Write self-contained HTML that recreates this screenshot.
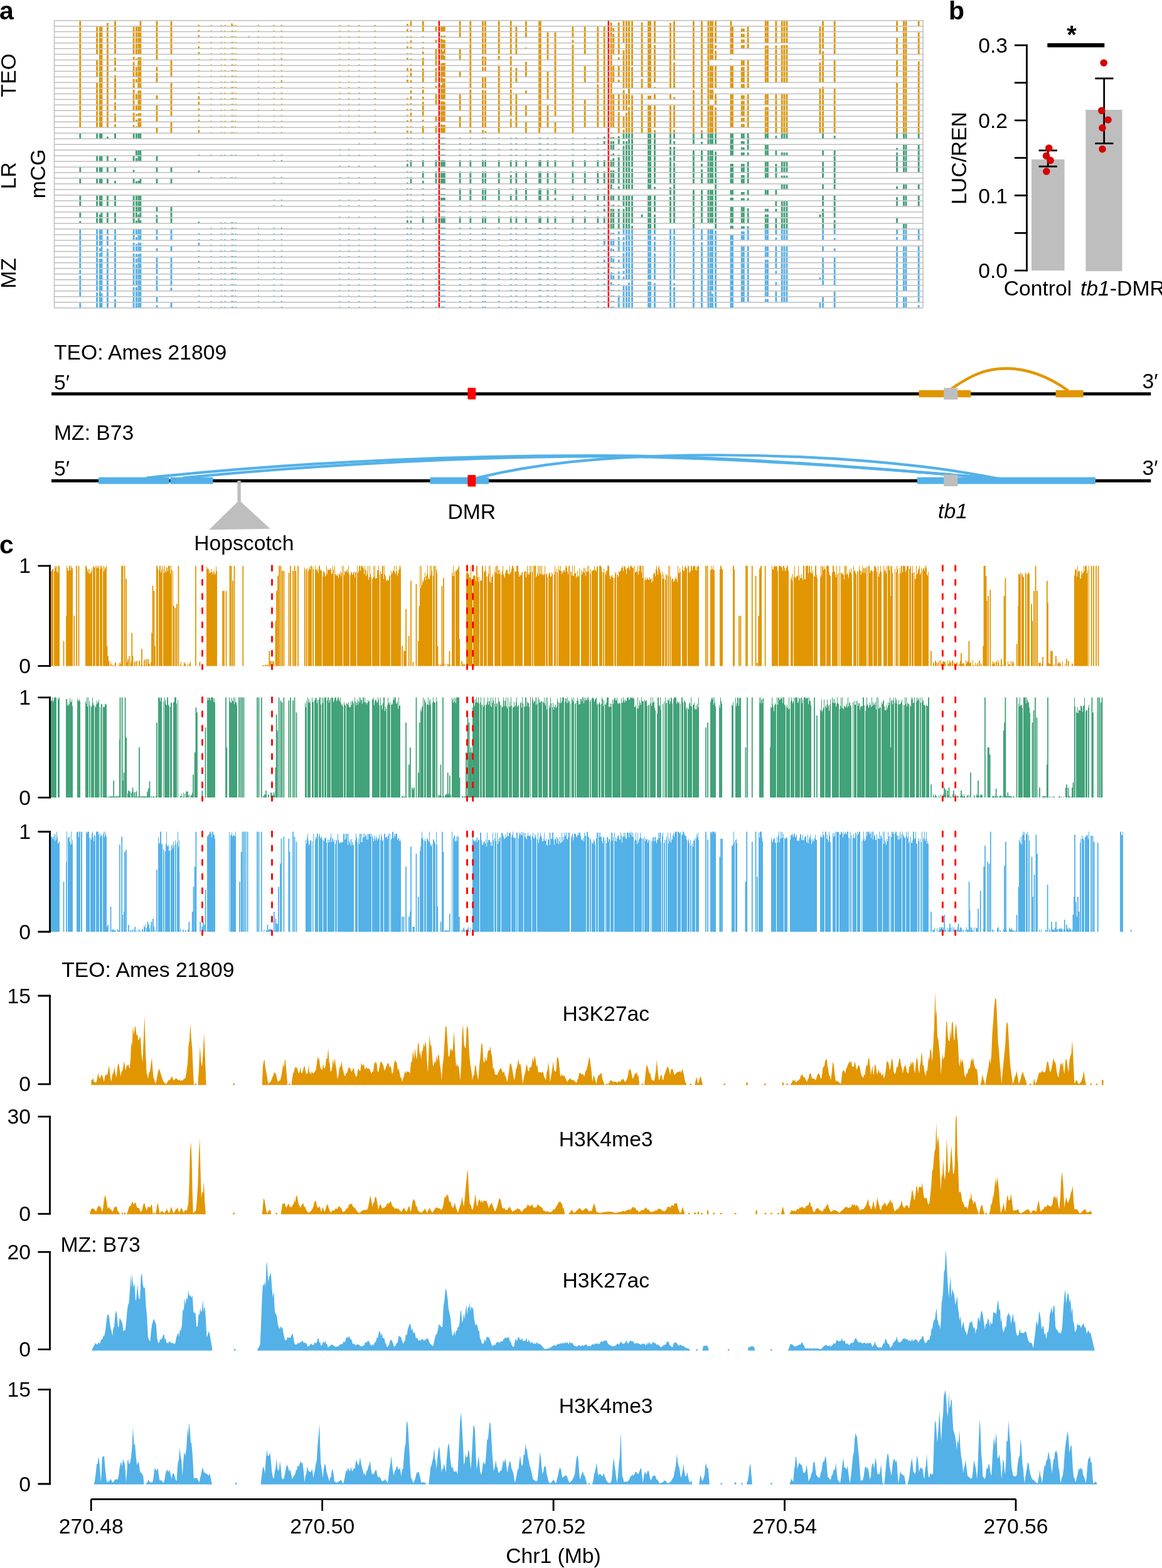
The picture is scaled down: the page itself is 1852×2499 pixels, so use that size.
<!DOCTYPE html>
<html><head><meta charset="utf-8"><title>Figure</title>
<style>html,body{margin:0;padding:0;background:#fff;overflow:hidden;}svg{display:block;}text{font-family:'Liberation Sans', Arial, Helvetica, sans-serif;fill:#000;}</style>
</head><body>
<svg width="1852" height="2499" viewBox="0 0 1852 2499">
<rect x="0" y="0" width="1852" height="2499" fill="#fff"/>
<text x="-1" y="31" font-size="41" text-anchor="start" font-weight="bold">a</text>
<text x="1512" y="31" font-size="41" text-anchor="start" font-weight="bold">b</text>
<text x="-1" y="882" font-size="41" text-anchor="start" font-weight="bold">c</text>
<text transform="translate(25,120) rotate(-90)" x="0" y="0" font-size="33.7" text-anchor="middle">TEO</text>
<text transform="translate(25,280) rotate(-90)" x="0" y="0" font-size="33.7" text-anchor="middle">LR</text>
<text transform="translate(72,277) rotate(-90)" x="0" y="0" font-size="33.7" text-anchor="middle">mCG</text>
<text transform="translate(25,435.5) rotate(-90)" x="0" y="0" font-size="33.7" text-anchor="middle">MZ</text>
<rect x="1644" y="254.04" width="52.6" height="177.16" fill="#BEBEBE"/>
<rect x="1730.4" y="175.04" width="58.1" height="257.16" fill="#BEBEBE"/>
<line x1="1636.5" y1="72.1" x2="1636.5" y2="431.2" stroke="#000" stroke-width="2.8" stroke-linecap="square"/>
<line x1="1618" y1="431.2" x2="1636.5" y2="431.2" stroke="#000" stroke-width="2.8" stroke-linecap="round"/>
<line x1="1618" y1="371.35" x2="1636.5" y2="371.35" stroke="#000" stroke-width="2.8" stroke-linecap="round"/>
<line x1="1618" y1="311.5" x2="1636.5" y2="311.5" stroke="#000" stroke-width="2.8" stroke-linecap="round"/>
<line x1="1618" y1="251.65" x2="1636.5" y2="251.65" stroke="#000" stroke-width="2.8" stroke-linecap="round"/>
<line x1="1618" y1="191.8" x2="1636.5" y2="191.8" stroke="#000" stroke-width="2.8" stroke-linecap="round"/>
<line x1="1618" y1="131.95" x2="1636.5" y2="131.95" stroke="#000" stroke-width="2.8" stroke-linecap="round"/>
<line x1="1618" y1="72.1" x2="1636.5" y2="72.1" stroke="#000" stroke-width="2.8" stroke-linecap="round"/>
<text x="1606" y="443.2" font-size="33.7" text-anchor="end">0.0</text>
<text x="1606" y="323.5" font-size="33.7" text-anchor="end">0.1</text>
<text x="1606" y="203.8" font-size="33.7" text-anchor="end">0.2</text>
<text x="1606" y="84.1" font-size="33.7" text-anchor="end">0.3</text>
<text transform="translate(1540,252) rotate(-90)" x="0" y="0" font-size="33.7" text-anchor="middle">LUC/REN</text>
<text x="1654" y="470.6" font-size="33.7" text-anchor="middle">Control</text>
<text x="1722" y="470.6" font-size="33.7"><tspan font-style="italic">tb1</tspan>-DMR</text>
<line x1="1670.3" y1="239.8" x2="1670.3" y2="265.3" stroke="#000" stroke-width="2.8" stroke-linecap="butt"/>
<line x1="1655.6" y1="239.8" x2="1684.9" y2="239.8" stroke="#000" stroke-width="2.8" stroke-linecap="butt"/>
<line x1="1655.6" y1="265.3" x2="1684.9" y2="265.3" stroke="#000" stroke-width="2.8" stroke-linecap="butt"/>
<line x1="1759.7" y1="125" x2="1759.7" y2="228.6" stroke="#000" stroke-width="2.8" stroke-linecap="butt"/>
<line x1="1745.3" y1="125" x2="1774.5" y2="125" stroke="#000" stroke-width="2.8" stroke-linecap="butt"/>
<line x1="1745.3" y1="228.6" x2="1774.5" y2="228.6" stroke="#000" stroke-width="2.8" stroke-linecap="butt"/>
<circle cx="1671.8" cy="236" r="5.8" fill="#D40000"/>
<circle cx="1667.6" cy="248.4" r="5.8" fill="#D40000"/>
<circle cx="1674.1" cy="255.6" r="5.8" fill="#D40000"/>
<circle cx="1667.8" cy="273.1" r="5.8" fill="#D40000"/>
<circle cx="1759.2" cy="100.2" r="5.8" fill="#D40000"/>
<circle cx="1755.8" cy="176.3" r="5.8" fill="#D40000"/>
<circle cx="1766" cy="191" r="5.8" fill="#D40000"/>
<circle cx="1757" cy="203.8" r="5.8" fill="#D40000"/>
<circle cx="1757" cy="237.6" r="5.8" fill="#D40000"/>
<rect x="1669.3" y="68.8" width="91" height="6.6" fill="#000"/>
<text x="1708" y="68.5" font-size="40" text-anchor="middle" font-weight="bold">*</text>
<text x="86" y="572.8" font-size="33.7" text-anchor="start">TEO: Ames 21809</text>
<text x="86" y="621" font-size="33.7" text-anchor="start">5&#8242;</text>
<text x="1845.5" y="619.4" font-size="33.7" text-anchor="end">3&#8242;</text>
<text x="86" y="701.4" font-size="33.7" text-anchor="start">MZ: B73</text>
<text x="86" y="757.5" font-size="33.7" text-anchor="start">5&#8242;</text>
<text x="1845.5" y="757.4" font-size="33.7" text-anchor="end">3&#8242;</text>
<line x1="82" y1="627.7" x2="1834.3" y2="627.7" stroke="#000" stroke-width="5" stroke-linecap="butt"/>
<path d="M1514,621.5 C1548,597 1572,587.3 1604,587.3 C1640,587.3 1672,601 1702.4,622.5" fill="none" stroke="#E19600" stroke-width="4.4"/>
<rect x="1464.5" y="621.8" width="82.8" height="11.4" fill="#E19600"/>
<rect x="1682.5" y="621.8" width="44.2" height="11.4" fill="#E19600"/>
<rect x="1504.2" y="618.2" width="22.1" height="18.6" fill="#BEBEBE"/>
<rect x="745.3" y="618" width="13" height="18.6" rx="1.5" fill="#FF0000"/>
<line x1="82" y1="766.2" x2="1834.3" y2="766.2" stroke="#000" stroke-width="5" stroke-linecap="butt"/>
<g fill="none" stroke="#53B1E8" stroke-width="4.2">
<path d="M233.5,761.5 C500,734 750,726 950,726 C1150,726 1380,745 1592,763"/>
<path d="M291,761.5 C540,738 750,728 950,727.5 C1150,727.5 1380,745 1592,763"/>
<path d="M759,762 C850,740 950,728 1100,725.5 C1300,723 1480,740 1592,763"/>
</g>
<rect x="157" y="760.6" width="112.7" height="10.8" fill="#53B1E8"/>
<rect x="271.4" y="760.6" width="68.1" height="10.8" fill="#53B1E8"/>
<rect x="685.4" y="760.6" width="93.7" height="10.8" fill="#53B1E8"/>
<rect x="1461.7" y="760.6" width="284.3" height="10.8" fill="#53B1E8"/>
<rect x="1504.2" y="756.4" width="22.1" height="18.6" fill="#BEBEBE"/>
<rect x="745.3" y="757" width="13" height="18.6" rx="1.5" fill="#FF0000"/>
<line x1="381.1" y1="766" x2="381.1" y2="799" stroke="#BEBEBE" stroke-width="5.4" stroke-linecap="butt"/>
<polygon points="381.2,797.2 333.2,844.3 430.7,842.7" fill="#BEBEBE"/>
<text x="388.8" y="876.8" font-size="33.7" text-anchor="middle">Hopscotch</text>
<text x="751.8" y="826.7" font-size="33.7" text-anchor="middle">DMR</text>
<text x="1518.5" y="826.4" font-size="33.7" text-anchor="middle" font-style="italic">tb1</text>
<line x1="79.5" y1="900.4" x2="79.5" y2="1062.8" stroke="#000" stroke-width="2.8" stroke-linecap="butt"/>
<line x1="61.5" y1="901.8" x2="79.5" y2="901.8" stroke="#000" stroke-width="2.8" stroke-linecap="round"/>
<line x1="61.5" y1="1061.4" x2="79.5" y2="1061.4" stroke="#000" stroke-width="2.8" stroke-linecap="round"/>
<line x1="60" y1="901.8" x2="60.5" y2="901.8" stroke="#000" stroke-width="0"/>
<text x="49" y="913.3" font-size="33.7" text-anchor="end">1</text>
<text x="49" y="1072.9" font-size="33.7" text-anchor="end">0</text>
<line x1="79.5" y1="1110.2" x2="79.5" y2="1272.5" stroke="#000" stroke-width="2.8" stroke-linecap="butt"/>
<line x1="61.5" y1="1111.6" x2="79.5" y2="1111.6" stroke="#000" stroke-width="2.8" stroke-linecap="round"/>
<line x1="61.5" y1="1271.1" x2="79.5" y2="1271.1" stroke="#000" stroke-width="2.8" stroke-linecap="round"/>
<line x1="60" y1="1111.6" x2="60.5" y2="1111.6" stroke="#000" stroke-width="0"/>
<text x="49" y="1123.1" font-size="33.7" text-anchor="end">1</text>
<text x="49" y="1282.6" font-size="33.7" text-anchor="end">0</text>
<line x1="79.5" y1="1324.1" x2="79.5" y2="1486.4" stroke="#000" stroke-width="2.8" stroke-linecap="butt"/>
<line x1="61.5" y1="1325.5" x2="79.5" y2="1325.5" stroke="#000" stroke-width="2.8" stroke-linecap="round"/>
<line x1="61.5" y1="1485" x2="79.5" y2="1485" stroke="#000" stroke-width="2.8" stroke-linecap="round"/>
<line x1="60" y1="1325.5" x2="60.5" y2="1325.5" stroke="#000" stroke-width="0"/>
<text x="49" y="1337" font-size="33.7" text-anchor="end">1</text>
<text x="49" y="1496.5" font-size="33.7" text-anchor="end">0</text>
<line x1="79.5" y1="1585.6" x2="79.5" y2="1729.2" stroke="#000" stroke-width="2.8" stroke-linecap="butt"/>
<line x1="61.5" y1="1587" x2="79.5" y2="1587" stroke="#000" stroke-width="2.8" stroke-linecap="round"/>
<line x1="61.5" y1="1727.8" x2="79.5" y2="1727.8" stroke="#000" stroke-width="2.8" stroke-linecap="round"/>
<line x1="60" y1="1587" x2="60.5" y2="1587" stroke="#000" stroke-width="0"/>
<text x="49" y="1598.5" font-size="33.7" text-anchor="end">15</text>
<text x="49" y="1739.3" font-size="33.7" text-anchor="end">0</text>
<line x1="79.5" y1="1778.2" x2="79.5" y2="1936" stroke="#000" stroke-width="2.8" stroke-linecap="butt"/>
<line x1="61.5" y1="1779.6" x2="79.5" y2="1779.6" stroke="#000" stroke-width="2.8" stroke-linecap="round"/>
<line x1="61.5" y1="1934.6" x2="79.5" y2="1934.6" stroke="#000" stroke-width="2.8" stroke-linecap="round"/>
<line x1="60" y1="1779.6" x2="60.5" y2="1779.6" stroke="#000" stroke-width="0"/>
<text x="49" y="1791.1" font-size="33.7" text-anchor="end">30</text>
<text x="49" y="1946.1" font-size="33.7" text-anchor="end">0</text>
<line x1="79.5" y1="1994" x2="79.5" y2="2152.1" stroke="#000" stroke-width="2.8" stroke-linecap="butt"/>
<line x1="61.5" y1="1995.4" x2="79.5" y2="1995.4" stroke="#000" stroke-width="2.8" stroke-linecap="round"/>
<line x1="61.5" y1="2150.7" x2="79.5" y2="2150.7" stroke="#000" stroke-width="2.8" stroke-linecap="round"/>
<line x1="60" y1="1995.4" x2="60.5" y2="1995.4" stroke="#000" stroke-width="0"/>
<text x="49" y="2006.9" font-size="33.7" text-anchor="end">20</text>
<text x="49" y="2162.2" font-size="33.7" text-anchor="end">0</text>
<line x1="79.5" y1="2213.2" x2="79.5" y2="2366.4" stroke="#000" stroke-width="2.8" stroke-linecap="butt"/>
<line x1="61.5" y1="2214.6" x2="79.5" y2="2214.6" stroke="#000" stroke-width="2.8" stroke-linecap="round"/>
<line x1="61.5" y1="2365" x2="79.5" y2="2365" stroke="#000" stroke-width="2.8" stroke-linecap="round"/>
<line x1="60" y1="2214.6" x2="60.5" y2="2214.6" stroke="#000" stroke-width="0"/>
<text x="49" y="2226.1" font-size="33.7" text-anchor="end">15</text>
<text x="49" y="2376.5" font-size="33.7" text-anchor="end">0</text>
<text x="98.3" y="1557" font-size="33.7" text-anchor="start">TEO: Ames 21809</text>
<text x="96.5" y="1994.6" font-size="33.7" text-anchor="start">MZ: B73</text>
<text x="896.5" y="1627.2" font-size="33.7" text-anchor="start">H3K27ac</text>
<text x="890.8" y="1827.2" font-size="33.7" text-anchor="start">H3K4me3</text>
<text x="896.5" y="2052.1" font-size="33.7" text-anchor="start">H3K27ac</text>
<text x="890.8" y="2251.9" font-size="33.7" text-anchor="start">H3K4me3</text>
<line x1="145.2" y1="2389.3" x2="1619" y2="2389.3" stroke="#000" stroke-width="2.8" stroke-linecap="butt"/>
<line x1="145.2" y1="2389.3" x2="145.2" y2="2408" stroke="#000" stroke-width="2.8" stroke-linecap="butt"/>
<text x="145.2" y="2443.9" font-size="33.7" text-anchor="middle">270.48</text>
<line x1="513.65" y1="2389.3" x2="513.65" y2="2408" stroke="#000" stroke-width="2.8" stroke-linecap="butt"/>
<text x="513.65" y="2443.9" font-size="33.7" text-anchor="middle">270.50</text>
<line x1="882.1" y1="2389.3" x2="882.1" y2="2408" stroke="#000" stroke-width="2.8" stroke-linecap="butt"/>
<text x="882.1" y="2443.9" font-size="33.7" text-anchor="middle">270.52</text>
<line x1="1250.55" y1="2389.3" x2="1250.55" y2="2408" stroke="#000" stroke-width="2.8" stroke-linecap="butt"/>
<text x="1250.55" y="2443.9" font-size="33.7" text-anchor="middle">270.54</text>
<line x1="1619" y1="2389.3" x2="1619" y2="2408" stroke="#000" stroke-width="2.8" stroke-linecap="butt"/>
<text x="1619" y="2443.9" font-size="33.7" text-anchor="middle">270.56</text>
<text x="882" y="2490.7" font-size="33.7" text-anchor="middle">Chr1 (Mb)</text>
<path d="M126.35,41.14h2.9v-7.68h-2.9ZM126.35,50.12h2.9v-7.68h-2.9ZM126.35,59.1h2.9v-7.68h-2.9ZM126.35,68.08h2.9v-7.68h-2.9ZM126.35,77.06h2.9v-7.68h-2.9ZM126.35,86.04h2.9v-7.68h-2.9ZM126.35,95.02h2.9v-7.68h-2.9ZM126.35,104h2.9v-7.68h-2.9ZM126.35,112.98h2.9v-7.68h-2.9ZM126.35,121.96h2.9v-7.68h-2.9ZM126.35,130.94h2.9v-7.68h-2.9ZM126.35,139.92h2.9v-7.68h-2.9ZM126.35,148.9h2.9v-7.68h-2.9ZM126.35,157.88h2.9v-7.68h-2.9ZM126.35,166.86h2.9v-7.68h-2.9ZM126.35,175.84h2.9v-7.68h-2.9ZM126.35,184.82h2.9v-7.68h-2.9ZM126.35,193.8h2.9v-7.68h-2.9ZM126.35,202.78h2.9v-7.68h-2.9ZM153.15,50.12h2.9v-7.68h-2.9ZM153.15,59.1h2.9v-7.68h-2.9ZM153.15,68.08h2.9v-7.68h-2.9ZM153.15,77.06h2.9v-7.68h-2.9ZM153.15,86.04h2.9v-7.68h-2.9ZM153.15,104h2.9v-7.68h-2.9ZM153.15,112.98h2.9v-7.68h-2.9ZM153.15,121.96h2.9v-7.68h-2.9ZM153.15,139.92h2.9v-7.68h-2.9ZM153.15,148.9h2.9v-7.68h-2.9ZM153.15,157.88h2.9v-7.68h-2.9ZM153.15,166.86h2.9v-7.68h-2.9ZM153.15,175.84h2.9v-7.68h-2.9ZM153.15,184.82h2.9v-7.68h-2.9ZM153.15,193.8h2.9v-7.68h-2.9ZM153.15,202.78h2.9v-7.68h-2.9ZM157.95,50.12h2.9v-7.68h-2.9ZM157.95,59.1h2.9v-7.68h-2.9ZM157.95,68.08h2.9v-7.68h-2.9ZM157.95,77.06h2.9v-7.68h-2.9ZM157.95,86.04h2.9v-7.68h-2.9ZM157.95,95.02h2.9v-7.68h-2.9ZM157.95,104h2.9v-7.68h-2.9ZM157.95,112.98h2.9v-7.68h-2.9ZM157.95,121.96h2.9v-7.68h-2.9ZM157.95,130.94h2.9v-7.68h-2.9ZM157.95,139.92h2.9v-7.68h-2.9ZM157.95,148.9h2.9v-7.68h-2.9ZM157.95,157.88h2.9v-7.68h-2.9ZM157.95,166.86h2.9v-7.68h-2.9ZM157.95,175.84h2.9v-7.68h-2.9ZM157.95,184.82h2.9v-7.68h-2.9ZM157.95,193.8h2.9v-7.68h-2.9ZM157.95,202.78h2.9v-7.68h-2.9ZM160.55,50.12h2.9v-7.68h-2.9ZM160.55,59.1h2.9v-7.68h-2.9ZM160.55,68.08h2.9v-7.68h-2.9ZM160.55,77.06h2.9v-7.68h-2.9ZM160.55,86.04h2.9v-7.68h-2.9ZM160.55,95.02h2.9v-7.68h-2.9ZM160.55,104h2.9v-7.68h-2.9ZM160.55,112.98h2.9v-7.68h-2.9ZM160.55,121.96h2.9v-7.68h-2.9ZM160.55,130.94h2.9v-7.68h-2.9ZM160.55,139.92h2.9v-7.68h-2.9ZM160.55,148.9h2.9v-7.68h-2.9ZM160.55,157.88h2.9v-7.68h-2.9ZM160.55,166.86h2.9v-7.68h-2.9ZM160.55,175.84h2.9v-7.68h-2.9ZM160.55,184.82h2.9v-7.68h-2.9ZM160.55,193.8h2.9v-7.68h-2.9ZM160.55,202.78h2.9v-7.68h-2.9ZM169.95,41.14h2.9v-4.61h-2.9ZM169.95,50.12h2.9v-7.68h-2.9ZM169.95,59.1h2.9v-7.68h-2.9ZM169.95,68.08h2.9v-7.68h-2.9ZM169.95,77.06h2.9v-7.68h-2.9ZM169.95,86.04h2.9v-7.68h-2.9ZM169.95,95.02h2.9v-7.68h-2.9ZM169.95,104h2.9v-7.68h-2.9ZM169.95,112.98h2.9v-7.68h-2.9ZM169.95,121.96h2.9v-7.68h-2.9ZM169.95,130.94h2.9v-7.68h-2.9ZM169.95,139.92h2.9v-7.68h-2.9ZM169.95,148.9h2.9v-7.68h-2.9ZM169.95,157.88h2.9v-7.68h-2.9ZM169.95,166.86h2.9v-7.68h-2.9ZM169.95,175.84h2.9v-7.68h-2.9ZM169.95,184.82h2.9v-7.68h-2.9ZM169.95,193.8h2.9v-7.68h-2.9ZM169.95,202.78h2.9v-7.68h-2.9ZM182.05,41.14h2.9v-7.68h-2.9ZM182.05,50.12h2.9v-7.68h-2.9ZM182.05,59.1h2.9v-7.68h-2.9ZM182.05,68.08h2.9v-7.68h-2.9ZM182.05,77.06h2.9v-7.68h-2.9ZM182.05,86.04h2.9v-7.68h-2.9ZM182.05,95.02h2.9v-3.07h-2.9ZM182.05,104h2.9v-7.68h-2.9ZM182.05,112.98h2.9v-5.38h-2.9ZM182.05,121.96h2.9v-2.3h-2.9ZM182.05,130.94h2.9v-7.68h-2.9ZM182.05,139.92h2.9v-7.68h-2.9ZM182.05,148.9h2.9v-7.68h-2.9ZM182.05,157.88h2.9v-7.68h-2.9ZM182.05,166.86h2.9v-3.84h-2.9ZM182.05,175.84h2.9v-7.68h-2.9ZM182.05,184.82h2.9v-3.84h-2.9ZM182.05,193.8h2.9v-7.68h-2.9ZM182.05,202.78h2.9v-4.61h-2.9ZM211.65,50.12h2.9v-7.68h-2.9ZM211.65,59.1h2.9v-7.68h-2.9ZM211.65,68.08h2.9v-7.68h-2.9ZM211.65,77.06h2.9v-7.68h-2.9ZM211.65,86.04h2.9v-7.68h-2.9ZM211.65,95.02h2.9v-4.61h-2.9ZM211.65,104h2.9v-5.38h-2.9ZM211.65,112.98h2.9v-7.68h-2.9ZM211.65,121.96h2.9v-7.68h-2.9ZM211.65,130.94h2.9v-5.38h-2.9ZM211.65,139.92h2.9v-7.68h-2.9ZM211.65,148.9h2.9v-6.14h-2.9ZM211.65,157.88h2.9v-7.68h-2.9ZM211.65,166.86h2.9v-7.68h-2.9ZM211.65,175.84h2.9v-7.68h-2.9ZM211.65,184.82h2.9v-5.38h-2.9ZM211.65,193.8h2.9v-7.68h-2.9ZM211.65,202.78h2.9v-3.84h-2.9ZM215.95,50.12h2.9v-7.68h-2.9ZM215.95,59.1h2.9v-7.68h-2.9ZM215.95,68.08h2.9v-7.68h-2.9ZM215.95,77.06h2.9v-7.68h-2.9ZM215.95,86.04h2.9v-7.68h-2.9ZM215.95,95.02h2.9v-1.54h-2.9ZM215.95,112.98h2.9v-6.14h-2.9ZM215.95,121.96h2.9v-7.68h-2.9ZM215.95,130.94h2.9v-4.61h-2.9ZM215.95,157.88h2.9v-7.68h-2.9ZM215.95,175.84h2.9v-7.68h-2.9ZM215.95,184.82h2.9v-3.07h-2.9ZM215.95,193.8h2.9v-3.07h-2.9ZM215.95,202.78h2.9v-1.54h-2.9ZM219.45,50.12h2.9v-7.68h-2.9ZM219.45,59.1h2.9v-7.68h-2.9ZM219.45,68.08h2.9v-7.68h-2.9ZM219.45,77.06h2.9v-7.68h-2.9ZM219.45,86.04h2.9v-7.68h-2.9ZM219.45,95.02h2.9v-3.84h-2.9ZM219.45,104h2.9v-7.68h-2.9ZM219.45,112.98h2.9v-7.68h-2.9ZM219.45,121.96h2.9v-7.68h-2.9ZM219.45,130.94h2.9v-7.68h-2.9ZM219.45,139.92h2.9v-7.68h-2.9ZM219.45,148.9h2.9v-4.61h-2.9ZM219.45,157.88h2.9v-7.68h-2.9ZM219.45,166.86h2.9v-7.68h-2.9ZM219.45,175.84h2.9v-7.68h-2.9ZM219.45,184.82h2.9v-4.61h-2.9ZM219.45,193.8h2.9v-5.38h-2.9ZM219.45,202.78h2.9v-7.68h-2.9ZM222.45,41.14h2.9v-7.68h-2.9ZM222.45,50.12h2.9v-7.68h-2.9ZM222.45,59.1h2.9v-7.68h-2.9ZM222.45,68.08h2.9v-7.68h-2.9ZM222.45,77.06h2.9v-7.68h-2.9ZM222.45,86.04h2.9v-7.68h-2.9ZM222.45,95.02h2.9v-3.84h-2.9ZM222.45,104h2.9v-7.68h-2.9ZM222.45,112.98h2.9v-7.68h-2.9ZM222.45,121.96h2.9v-7.68h-2.9ZM222.45,130.94h2.9v-7.68h-2.9ZM222.45,139.92h2.9v-7.68h-2.9ZM222.45,148.9h2.9v-4.61h-2.9ZM222.45,157.88h2.9v-7.68h-2.9ZM222.45,166.86h2.9v-7.68h-2.9ZM222.45,175.84h2.9v-7.68h-2.9ZM222.45,184.82h2.9v-4.61h-2.9ZM222.45,193.8h2.9v-5.38h-2.9ZM222.45,202.78h2.9v-7.68h-2.9ZM248.55,41.14h2.9v-7.68h-2.9ZM248.55,50.12h2.9v-7.68h-2.9ZM248.55,59.1h2.9v-7.68h-2.9ZM248.55,68.08h2.9v-7.68h-2.9ZM248.55,77.06h2.9v-7.68h-2.9ZM248.55,86.04h2.9v-7.68h-2.9ZM248.55,95.02h2.9v-7.68h-2.9ZM248.55,112.98h2.9v-6.14h-2.9ZM248.55,121.96h2.9v-6.14h-2.9ZM248.55,130.94h2.9v-7.68h-2.9ZM248.55,157.88h2.9v-6.14h-2.9ZM248.55,175.84h2.9v-7.68h-2.9ZM248.55,184.82h2.9v-7.68h-2.9ZM248.55,193.8h2.9v-7.68h-2.9ZM248.55,211.76h2.9v-7.68h-2.9ZM271.55,41.14h2.9v-7.68h-2.9ZM271.55,50.12h2.9v-7.68h-2.9ZM271.55,59.1h2.9v-7.68h-2.9ZM271.55,68.08h2.9v-7.68h-2.9ZM271.55,77.06h2.9v-7.68h-2.9ZM271.55,86.04h2.9v-7.68h-2.9ZM271.55,104h2.9v-7.68h-2.9ZM271.55,112.98h2.9v-7.68h-2.9ZM271.55,121.96h2.9v-7.68h-2.9ZM271.55,139.92h2.9v-7.68h-2.9ZM271.55,148.9h2.9v-7.68h-2.9ZM271.55,157.88h2.9v-7.68h-2.9ZM271.55,166.86h2.9v-7.68h-2.9ZM271.55,175.84h2.9v-7.68h-2.9ZM271.55,184.82h2.9v-7.68h-2.9ZM271.55,202.78h2.9v-7.68h-2.9ZM271.55,211.76h2.9v-7.68h-2.9ZM315.55,41.14h2.7v-1.54h-2.7ZM315.55,50.12h2.7v-2.3h-2.7ZM315.55,59.1h2.7v-3.07h-2.7ZM315.55,68.08h2.7v-1.54h-2.7ZM315.55,77.06h2.7v-3.07h-2.7ZM315.55,86.04h2.7v-3.07h-2.7ZM315.55,95.02h2.7v-1.3h-2.7ZM315.55,104h2.7v-1.3h-2.7ZM315.55,112.98h2.7v-1.3h-2.7ZM315.55,121.96h2.7v-1.3h-2.7ZM315.55,130.94h2.7v-1.3h-2.7ZM315.55,139.92h2.7v-1.54h-2.7ZM315.55,148.9h2.7v-1.3h-2.7ZM315.55,157.88h2.7v-4.61h-2.7ZM315.55,166.86h2.7v-4.61h-2.7ZM315.55,175.84h2.7v-3.07h-2.7ZM315.55,184.82h2.7v-2.3h-2.7ZM315.55,193.8h2.7v-3.07h-2.7ZM315.55,202.78h2.7v-1.3h-2.7ZM315.55,211.76h2.7v-4.61h-2.7ZM335.6,41.14h2v-1.3h-2ZM335.6,50.12h2v-1.3h-2ZM335.6,59.1h2v-1.3h-2ZM335.6,68.08h2v-1.3h-2ZM335.6,77.06h2v-1.3h-2ZM335.6,86.04h2v-1.3h-2ZM335.6,95.02h2v-1.3h-2ZM335.6,104h2v-1.3h-2ZM335.6,112.98h2v-1.3h-2ZM335.6,121.96h2v-1.3h-2ZM335.6,130.94h2v-1.3h-2ZM335.6,139.92h2v-1.3h-2ZM335.6,148.9h2v-1.3h-2ZM335.6,157.88h2v-1.3h-2ZM335.6,166.86h2v-1.3h-2ZM335.6,175.84h2v-1.3h-2ZM335.6,184.82h2v-1.3h-2ZM335.6,193.8h2v-1.3h-2ZM335.6,202.78h2v-1.3h-2ZM335.6,211.76h2v-1.3h-2ZM351.6,41.14h2v-1.3h-2ZM351.6,50.12h2v-1.3h-2ZM351.6,59.1h2v-1.3h-2ZM351.6,68.08h2v-1.3h-2ZM351.6,77.06h2v-1.3h-2ZM351.6,86.04h2v-1.3h-2ZM351.6,95.02h2v-1.3h-2ZM351.6,104h2v-1.3h-2ZM351.6,112.98h2v-1.3h-2ZM351.6,121.96h2v-1.3h-2ZM351.6,130.94h2v-1.3h-2ZM351.6,139.92h2v-1.3h-2ZM351.6,148.9h2v-1.3h-2ZM351.6,157.88h2v-1.3h-2ZM351.6,166.86h2v-1.3h-2ZM351.6,175.84h2v-1.3h-2ZM351.6,184.82h2v-1.3h-2ZM351.6,193.8h2v-1.3h-2ZM351.6,202.78h2v-1.3h-2ZM351.6,211.76h2v-1.3h-2ZM357.6,41.14h2v-1.3h-2ZM357.6,50.12h2v-1.3h-2ZM357.6,59.1h2v-1.3h-2ZM357.6,68.08h2v-1.3h-2ZM357.6,77.06h2v-1.3h-2ZM357.6,86.04h2v-1.3h-2ZM357.6,95.02h2v-1.3h-2ZM357.6,104h2v-1.3h-2ZM357.6,112.98h2v-1.3h-2ZM357.6,121.96h2v-1.3h-2ZM357.6,130.94h2v-1.3h-2ZM357.6,139.92h2v-1.3h-2ZM357.6,148.9h2v-1.3h-2ZM357.6,157.88h2v-1.3h-2ZM357.6,166.86h2v-1.3h-2ZM357.6,175.84h2v-1.3h-2ZM357.6,184.82h2v-1.3h-2ZM357.6,193.8h2v-1.3h-2ZM357.6,202.78h2v-1.3h-2ZM357.6,211.76h2v-1.3h-2ZM368.3,41.14h2.4v-3.84h-2.4ZM368.3,50.12h2.4v-1.3h-2.4ZM368.3,59.1h2.4v-1.3h-2.4ZM368.3,68.08h2.4v-1.3h-2.4ZM368.3,77.06h2.4v-1.3h-2.4ZM368.3,86.04h2.4v-1.3h-2.4ZM368.3,95.02h2.4v-1.3h-2.4ZM368.3,104h2.4v-1.3h-2.4ZM368.3,112.98h2.4v-1.3h-2.4ZM368.3,121.96h2.4v-1.3h-2.4ZM368.3,130.94h2.4v-1.3h-2.4ZM368.3,139.92h2.4v-1.3h-2.4ZM368.3,148.9h2.4v-1.3h-2.4ZM368.3,157.88h2.4v-1.3h-2.4ZM368.3,166.86h2.4v-1.3h-2.4ZM368.3,175.84h2.4v-1.3h-2.4ZM368.3,184.82h2.4v-1.3h-2.4ZM368.3,193.8h2.4v-1.3h-2.4ZM368.3,202.78h2.4v-1.3h-2.4ZM368.3,211.76h2.4v-1.3h-2.4ZM370.5,41.14h2v-1.3h-2ZM370.5,50.12h2v-1.3h-2ZM370.5,59.1h2v-1.3h-2ZM370.5,68.08h2v-1.3h-2ZM370.5,77.06h2v-1.3h-2ZM370.5,86.04h2v-1.3h-2ZM370.5,95.02h2v-1.3h-2ZM370.5,104h2v-1.3h-2ZM370.5,112.98h2v-1.3h-2ZM370.5,121.96h2v-1.3h-2ZM370.5,130.94h2v-1.3h-2ZM370.5,139.92h2v-1.3h-2ZM370.5,148.9h2v-1.3h-2ZM370.5,157.88h2v-1.3h-2ZM370.5,166.86h2v-1.3h-2ZM370.5,175.84h2v-1.3h-2ZM370.5,184.82h2v-1.3h-2ZM370.5,193.8h2v-1.3h-2ZM370.5,202.78h2v-1.3h-2ZM370.5,211.76h2v-1.3h-2ZM374.6,41.14h2v-1.3h-2ZM374.6,50.12h2v-1.3h-2ZM374.6,59.1h2v-1.3h-2ZM374.6,68.08h2v-1.3h-2ZM374.6,77.06h2v-1.3h-2ZM374.6,86.04h2v-1.3h-2ZM374.6,95.02h2v-1.3h-2ZM374.6,104h2v-1.3h-2ZM374.6,112.98h2v-1.3h-2ZM374.6,121.96h2v-1.3h-2ZM374.6,130.94h2v-1.3h-2ZM374.6,139.92h2v-1.3h-2ZM374.6,148.9h2v-1.3h-2ZM374.6,157.88h2v-1.3h-2ZM374.6,166.86h2v-1.3h-2ZM374.6,175.84h2v-1.3h-2ZM374.6,184.82h2v-1.3h-2ZM374.6,193.8h2v-1.3h-2ZM374.6,202.78h2v-1.3h-2ZM374.6,211.76h2v-1.3h-2ZM395.6,59.1h2.4v-1.3h-2.4ZM410.9,41.14h2v-1.3h-2ZM410.9,50.12h2v-1.3h-2ZM410.9,59.1h2v-1.3h-2ZM410.9,68.08h2v-1.3h-2ZM410.9,77.06h2v-1.3h-2ZM410.9,86.04h2v-1.3h-2ZM410.9,95.02h2v-1.3h-2ZM410.9,104h2v-1.3h-2ZM410.9,112.98h2v-1.3h-2ZM410.9,121.96h2v-1.3h-2ZM410.9,130.94h2v-1.3h-2ZM410.9,139.92h2v-1.3h-2ZM410.9,148.9h2v-1.3h-2ZM410.9,157.88h2v-1.3h-2ZM410.9,166.86h2v-1.3h-2ZM410.9,175.84h2v-1.3h-2ZM410.9,184.82h2v-1.3h-2ZM410.9,193.8h2v-1.3h-2ZM410.9,202.78h2v-1.3h-2ZM410.9,211.76h2v-1.3h-2ZM435.7,41.14h2v-1.3h-2ZM435.7,50.12h2v-1.3h-2ZM435.7,59.1h2v-1.3h-2ZM435.7,68.08h2v-1.3h-2ZM435.7,77.06h2v-1.3h-2ZM435.7,86.04h2v-1.3h-2ZM435.7,95.02h2v-1.3h-2ZM435.7,104h2v-1.3h-2ZM435.7,112.98h2v-1.3h-2ZM435.7,121.96h2v-1.3h-2ZM435.7,130.94h2v-1.3h-2ZM435.7,139.92h2v-1.3h-2ZM435.7,148.9h2v-1.3h-2ZM435.7,157.88h2v-1.3h-2ZM435.7,166.86h2v-1.3h-2ZM435.7,175.84h2v-1.3h-2ZM435.7,184.82h2v-1.3h-2ZM435.7,193.8h2v-1.3h-2ZM435.7,202.78h2v-1.3h-2ZM435.7,211.76h2v-1.3h-2ZM447.6,41.14h2.4v-1.3h-2.4ZM447.6,50.12h2.4v-1.3h-2.4ZM447.6,59.1h2.4v-1.3h-2.4ZM447.6,68.08h2.4v-1.3h-2.4ZM447.6,77.06h2.4v-1.3h-2.4ZM447.6,86.04h2.4v-1.3h-2.4ZM447.6,95.02h2.4v-2.3h-2.4ZM447.6,104h2.4v-1.3h-2.4ZM447.6,112.98h2.4v-1.3h-2.4ZM447.6,121.96h2.4v-1.3h-2.4ZM447.6,130.94h2.4v-3.07h-2.4ZM447.6,139.92h2.4v-1.3h-2.4ZM447.6,148.9h2.4v-1.3h-2.4ZM447.6,157.88h2.4v-1.3h-2.4ZM447.6,166.86h2.4v-1.3h-2.4ZM447.6,175.84h2.4v-1.3h-2.4ZM447.6,184.82h2.4v-1.3h-2.4ZM447.6,193.8h2.4v-1.3h-2.4ZM447.6,202.78h2.4v-1.3h-2.4ZM447.6,211.76h2.4v-1.3h-2.4ZM540.5,41.14h2v-1.3h-2ZM540.5,50.12h2v-1.3h-2ZM540.5,59.1h2v-1.3h-2ZM540.5,68.08h2v-1.3h-2ZM540.5,77.06h2v-1.3h-2ZM540.5,86.04h2v-1.3h-2ZM540.5,95.02h2v-1.3h-2ZM540.5,104h2v-1.3h-2ZM540.5,112.98h2v-1.3h-2ZM540.5,121.96h2v-1.3h-2ZM540.5,130.94h2v-1.3h-2ZM540.5,139.92h2v-1.3h-2ZM540.5,148.9h2v-1.3h-2ZM540.5,157.88h2v-1.3h-2ZM540.5,166.86h2v-1.3h-2ZM540.5,175.84h2v-1.3h-2ZM540.5,184.82h2v-1.3h-2ZM540.5,193.8h2v-1.3h-2ZM540.5,202.78h2v-1.3h-2ZM540.5,211.76h2v-1.3h-2ZM555,41.14h2v-1.3h-2ZM555,50.12h2v-1.3h-2ZM555,59.1h2v-1.3h-2ZM555,68.08h2v-1.3h-2ZM555,77.06h2v-1.3h-2ZM555,86.04h2v-1.3h-2ZM555,95.02h2v-1.3h-2ZM555,104h2v-1.3h-2ZM555,112.98h2v-1.3h-2ZM555,121.96h2v-1.3h-2ZM555,130.94h2v-1.3h-2ZM555,139.92h2v-1.3h-2ZM555,148.9h2v-1.3h-2ZM555,157.88h2v-1.3h-2ZM555,166.86h2v-1.3h-2ZM555,175.84h2v-1.3h-2ZM555,184.82h2v-1.3h-2ZM555,193.8h2v-1.3h-2ZM555,202.78h2v-1.3h-2ZM555,211.76h2v-1.3h-2ZM571.4,41.14h2v-1.3h-2ZM571.4,50.12h2v-1.3h-2ZM571.4,59.1h2v-1.3h-2ZM571.4,68.08h2v-1.3h-2ZM571.4,77.06h2v-1.3h-2ZM571.4,86.04h2v-1.3h-2ZM571.4,95.02h2v-1.3h-2ZM571.4,104h2v-1.3h-2ZM571.4,112.98h2v-1.3h-2ZM571.4,121.96h2v-1.3h-2ZM571.4,130.94h2v-1.3h-2ZM571.4,139.92h2v-1.3h-2ZM571.4,148.9h2v-1.3h-2ZM571.4,157.88h2v-1.3h-2ZM571.4,166.86h2v-1.3h-2ZM571.4,175.84h2v-1.3h-2ZM571.4,184.82h2v-1.3h-2ZM571.4,193.8h2v-1.3h-2ZM571.4,202.78h2v-1.3h-2ZM571.4,211.76h2v-1.3h-2ZM596.4,41.14h2.4v-1.3h-2.4ZM596.4,50.12h2.4v-1.3h-2.4ZM596.4,59.1h2.4v-1.3h-2.4ZM596.4,68.08h2.4v-1.3h-2.4ZM596.4,77.06h2.4v-1.3h-2.4ZM596.4,86.04h2.4v-1.3h-2.4ZM596.4,95.02h2.4v-1.3h-2.4ZM596.4,104h2.4v-1.3h-2.4ZM596.4,112.98h2.4v-1.3h-2.4ZM596.4,121.96h2.4v-1.3h-2.4ZM596.4,130.94h2.4v-1.3h-2.4ZM596.4,139.92h2.4v-1.3h-2.4ZM596.4,148.9h2.4v-1.3h-2.4ZM596.4,157.88h2.4v-1.3h-2.4ZM596.4,166.86h2.4v-1.3h-2.4ZM596.4,175.84h2.4v-1.3h-2.4ZM596.4,184.82h2.4v-1.3h-2.4ZM596.4,193.8h2.4v-1.3h-2.4ZM596.4,202.78h2.4v-1.3h-2.4ZM596.4,211.76h2.4v-2.3h-2.4ZM648.05,41.14h2.7v-3.07h-2.7ZM648.05,50.12h2.7v-3.84h-2.7ZM648.05,59.1h2.7v-1.3h-2.7ZM648.05,68.08h2.7v-1.3h-2.7ZM648.05,77.06h2.7v-3.07h-2.7ZM648.05,86.04h2.7v-1.3h-2.7ZM648.05,95.02h2.7v-3.07h-2.7ZM648.05,112.98h2.7v-4.61h-2.7ZM648.05,121.96h2.7v-1.54h-2.7ZM648.05,130.94h2.7v-3.84h-2.7ZM648.05,157.88h2.7v-1.54h-2.7ZM648.05,166.86h2.7v-1.54h-2.7ZM648.05,175.84h2.7v-2.3h-2.7ZM648.05,184.82h2.7v-1.54h-2.7ZM648.05,193.8h2.7v-2.3h-2.7ZM648.05,202.78h2.7v-1.54h-2.7ZM648.05,211.76h2.7v-3.84h-2.7ZM653.65,41.14h2.7v-7.68h-2.7ZM653.65,50.12h2.7v-2.3h-2.7ZM653.65,59.1h2.7v-1.3h-2.7ZM653.65,68.08h2.7v-3.84h-2.7ZM653.65,77.06h2.7v-2.3h-2.7ZM653.65,86.04h2.7v-1.3h-2.7ZM653.65,95.02h2.7v-1.54h-2.7ZM653.65,104h2.7v-1.3h-2.7ZM653.65,112.98h2.7v-3.84h-2.7ZM653.65,121.96h2.7v-6.14h-2.7ZM653.65,130.94h2.7v-3.07h-2.7ZM653.65,139.92h2.7v-1.3h-2.7ZM653.65,148.9h2.7v-4.61h-2.7ZM653.65,157.88h2.7v-4.61h-2.7ZM653.65,166.86h2.7v-2.3h-2.7ZM653.65,175.84h2.7v-2.3h-2.7ZM653.65,184.82h2.7v-5.38h-2.7ZM653.65,193.8h2.7v-3.84h-2.7ZM653.65,202.78h2.7v-1.54h-2.7ZM653.65,211.76h2.7v-3.07h-2.7ZM672.75,41.14h2.9v-7.68h-2.9ZM672.75,50.12h2.9v-7.68h-2.9ZM672.75,59.1h2.9v-1.3h-2.9ZM672.75,68.08h2.9v-1.3h-2.9ZM672.75,77.06h2.9v-1.54h-2.9ZM672.75,86.04h2.9v-3.84h-2.9ZM672.75,95.02h2.9v-3.07h-2.9ZM672.75,104h2.9v-7.68h-2.9ZM672.75,112.98h2.9v-3.84h-2.9ZM672.75,121.96h2.9v-7.68h-2.9ZM672.75,130.94h2.9v-7.68h-2.9ZM672.75,139.92h2.9v-1.3h-2.9ZM672.75,148.9h2.9v-6.14h-2.9ZM672.75,157.88h2.9v-3.84h-2.9ZM672.75,166.86h2.9v-4.61h-2.9ZM672.75,175.84h2.9v-7.68h-2.9ZM672.75,184.82h2.9v-7.68h-2.9ZM672.75,193.8h2.9v-3.07h-2.9ZM672.75,202.78h2.9v-2.3h-2.9ZM672.75,211.76h2.9v-7.68h-2.9ZM693.55,50.12h2.9v-7.68h-2.9ZM693.55,68.08h2.9v-4.61h-2.9ZM693.55,86.04h2.9v-7.68h-2.9ZM693.55,95.02h2.9v-7.68h-2.9ZM693.55,104h2.9v-7.68h-2.9ZM693.55,112.98h2.9v-4.61h-2.9ZM693.55,121.96h2.9v-7.68h-2.9ZM693.55,130.94h2.9v-7.68h-2.9ZM693.55,139.92h2.9v-3.07h-2.9ZM693.55,157.88h2.9v-7.68h-2.9ZM693.55,166.86h2.9v-7.68h-2.9ZM693.55,193.8h2.9v-7.68h-2.9ZM693.55,202.78h2.9v-2.3h-2.9ZM693.55,211.76h2.9v-7.68h-2.9ZM702.15,50.12h2.9v-7.68h-2.9ZM702.15,59.1h2.9v-2.3h-2.9ZM702.15,68.08h2.9v-6.14h-2.9ZM702.15,77.06h2.9v-7.68h-2.9ZM702.15,86.04h2.9v-7.68h-2.9ZM702.15,95.02h2.9v-7.68h-2.9ZM702.15,104h2.9v-3.07h-2.9ZM702.15,112.98h2.9v-7.68h-2.9ZM702.15,121.96h2.9v-7.68h-2.9ZM702.15,130.94h2.9v-7.68h-2.9ZM702.15,139.92h2.9v-4.61h-2.9ZM702.15,148.9h2.9v-7.68h-2.9ZM702.15,157.88h2.9v-7.68h-2.9ZM702.15,166.86h2.9v-5.38h-2.9ZM702.15,175.84h2.9v-7.68h-2.9ZM702.15,184.82h2.9v-7.68h-2.9ZM702.15,193.8h2.9v-7.68h-2.9ZM702.15,202.78h2.9v-4.61h-2.9ZM702.15,211.76h2.9v-7.68h-2.9ZM706.95,50.12h2.9v-7.68h-2.9ZM706.95,59.1h2.9v-2.3h-2.9ZM706.95,68.08h2.9v-4.61h-2.9ZM706.95,77.06h2.9v-7.68h-2.9ZM706.95,86.04h2.9v-7.68h-2.9ZM706.95,95.02h2.9v-6.14h-2.9ZM706.95,104h2.9v-3.84h-2.9ZM706.95,112.98h2.9v-7.68h-2.9ZM706.95,121.96h2.9v-7.68h-2.9ZM706.95,130.94h2.9v-6.14h-2.9ZM706.95,139.92h2.9v-7.68h-2.9ZM706.95,148.9h2.9v-7.68h-2.9ZM706.95,157.88h2.9v-7.68h-2.9ZM706.95,166.86h2.9v-4.61h-2.9ZM706.95,175.84h2.9v-7.68h-2.9ZM706.95,184.82h2.9v-7.68h-2.9ZM706.95,193.8h2.9v-7.68h-2.9ZM706.95,202.78h2.9v-3.84h-2.9ZM706.95,211.76h2.9v-7.68h-2.9ZM704.55,50.12h2.9v-7.68h-2.9ZM704.55,59.1h2.9v-1.54h-2.9ZM704.55,68.08h2.9v-4.61h-2.9ZM704.55,77.06h2.9v-7.68h-2.9ZM704.55,86.04h2.9v-4.61h-2.9ZM704.55,95.02h2.9v-7.68h-2.9ZM704.55,104h2.9v-3.84h-2.9ZM704.55,112.98h2.9v-7.68h-2.9ZM704.55,121.96h2.9v-7.68h-2.9ZM704.55,130.94h2.9v-6.14h-2.9ZM704.55,139.92h2.9v-7.68h-2.9ZM704.55,148.9h2.9v-7.68h-2.9ZM704.55,157.88h2.9v-7.68h-2.9ZM704.55,166.86h2.9v-5.38h-2.9ZM704.55,175.84h2.9v-7.68h-2.9ZM704.55,184.82h2.9v-7.68h-2.9ZM704.55,193.8h2.9v-7.68h-2.9ZM704.55,202.78h2.9v-3.84h-2.9ZM704.55,211.76h2.9v-7.68h-2.9ZM731.75,41.14h2.9v-7.68h-2.9ZM731.75,50.12h2.9v-7.68h-2.9ZM731.75,59.1h2.9v-7.68h-2.9ZM731.75,86.04h2.9v-7.68h-2.9ZM731.75,95.02h2.9v-7.68h-2.9ZM731.75,121.96h2.9v-7.68h-2.9ZM731.75,157.88h2.9v-7.68h-2.9ZM731.75,166.86h2.9v-7.68h-2.9ZM731.75,175.84h2.9v-7.68h-2.9ZM731.75,193.8h2.9v-7.68h-2.9ZM731.75,202.78h2.9v-7.68h-2.9ZM748.35,41.14h2.9v-7.68h-2.9ZM748.35,50.12h2.9v-7.68h-2.9ZM748.35,59.1h2.9v-7.68h-2.9ZM748.35,68.08h2.9v-7.68h-2.9ZM748.35,77.06h2.9v-7.68h-2.9ZM748.35,86.04h2.9v-7.68h-2.9ZM748.35,95.02h2.9v-7.68h-2.9ZM748.35,104h2.9v-7.68h-2.9ZM748.35,112.98h2.9v-7.68h-2.9ZM748.35,121.96h2.9v-7.68h-2.9ZM748.35,130.94h2.9v-7.68h-2.9ZM748.35,139.92h2.9v-7.68h-2.9ZM748.35,148.9h2.9v-6.14h-2.9ZM748.35,157.88h2.9v-7.68h-2.9ZM748.35,166.86h2.9v-7.68h-2.9ZM748.35,175.84h2.9v-7.68h-2.9ZM748.35,184.82h2.9v-7.68h-2.9ZM748.35,193.8h2.9v-7.68h-2.9ZM748.35,202.78h2.9v-7.68h-2.9ZM748.35,211.76h2.9v-4.61h-2.9ZM768.05,41.14h2.9v-7.68h-2.9ZM768.05,50.12h2.9v-7.68h-2.9ZM768.05,59.1h2.9v-7.68h-2.9ZM768.05,68.08h2.9v-7.68h-2.9ZM768.05,77.06h2.9v-7.68h-2.9ZM768.05,86.04h2.9v-7.68h-2.9ZM768.05,95.02h2.9v-5.38h-2.9ZM768.05,104h2.9v-7.68h-2.9ZM768.05,112.98h2.9v-6.14h-2.9ZM768.05,130.94h2.9v-7.68h-2.9ZM768.05,139.92h2.9v-7.68h-2.9ZM768.05,148.9h2.9v-5.38h-2.9ZM768.05,157.88h2.9v-7.68h-2.9ZM768.05,166.86h2.9v-7.68h-2.9ZM768.05,175.84h2.9v-7.68h-2.9ZM768.05,184.82h2.9v-7.68h-2.9ZM768.05,193.8h2.9v-7.68h-2.9ZM768.05,202.78h2.9v-7.68h-2.9ZM768.05,211.76h2.9v-4.61h-2.9ZM772.05,41.14h2.9v-7.68h-2.9ZM772.05,50.12h2.9v-7.68h-2.9ZM772.05,59.1h2.9v-7.68h-2.9ZM772.05,68.08h2.9v-7.68h-2.9ZM772.05,77.06h2.9v-7.68h-2.9ZM772.05,86.04h2.9v-7.68h-2.9ZM772.05,95.02h2.9v-4.61h-2.9ZM772.05,104h2.9v-7.68h-2.9ZM772.05,112.98h2.9v-6.14h-2.9ZM772.05,130.94h2.9v-7.68h-2.9ZM772.05,139.92h2.9v-7.68h-2.9ZM772.05,148.9h2.9v-4.61h-2.9ZM772.05,157.88h2.9v-7.68h-2.9ZM772.05,166.86h2.9v-7.68h-2.9ZM772.05,175.84h2.9v-7.68h-2.9ZM772.05,184.82h2.9v-7.68h-2.9ZM772.05,193.8h2.9v-7.68h-2.9ZM772.05,202.78h2.9v-7.68h-2.9ZM772.05,211.76h2.9v-3.07h-2.9ZM793.75,41.14h2.9v-7.68h-2.9ZM793.75,50.12h2.9v-7.68h-2.9ZM793.75,59.1h2.9v-7.68h-2.9ZM793.75,68.08h2.9v-7.68h-2.9ZM793.75,77.06h2.9v-7.68h-2.9ZM793.75,86.04h2.9v-7.68h-2.9ZM793.75,95.02h2.9v-6.14h-2.9ZM793.75,112.98h2.9v-7.68h-2.9ZM793.75,121.96h2.9v-7.68h-2.9ZM793.75,130.94h2.9v-7.68h-2.9ZM793.75,139.92h2.9v-7.68h-2.9ZM793.75,148.9h2.9v-7.68h-2.9ZM793.75,157.88h2.9v-7.68h-2.9ZM793.75,166.86h2.9v-7.68h-2.9ZM793.75,175.84h2.9v-7.68h-2.9ZM793.75,184.82h2.9v-7.68h-2.9ZM793.75,193.8h2.9v-7.68h-2.9ZM793.75,202.78h2.9v-7.68h-2.9ZM793.75,211.76h2.9v-7.68h-2.9ZM812.75,41.14h2.9v-7.68h-2.9ZM812.75,50.12h2.9v-7.68h-2.9ZM812.75,59.1h2.9v-7.68h-2.9ZM812.75,68.08h2.9v-7.68h-2.9ZM812.75,77.06h2.9v-7.68h-2.9ZM812.75,86.04h2.9v-7.68h-2.9ZM812.75,95.02h2.9v-5.38h-2.9ZM812.75,104h2.9v-7.68h-2.9ZM812.75,112.98h2.9v-6.14h-2.9ZM812.75,121.96h2.9v-7.68h-2.9ZM812.75,130.94h2.9v-7.68h-2.9ZM812.75,139.92h2.9v-7.68h-2.9ZM812.75,148.9h2.9v-6.14h-2.9ZM812.75,157.88h2.9v-7.68h-2.9ZM812.75,166.86h2.9v-7.68h-2.9ZM812.75,175.84h2.9v-7.68h-2.9ZM812.75,184.82h2.9v-7.68h-2.9ZM812.75,193.8h2.9v-4.61h-2.9ZM812.75,202.78h2.9v-7.68h-2.9ZM821.45,50.12h2.9v-7.68h-2.9ZM821.45,59.1h2.9v-7.68h-2.9ZM821.45,68.08h2.9v-7.68h-2.9ZM821.45,77.06h2.9v-7.68h-2.9ZM821.45,86.04h2.9v-7.68h-2.9ZM821.45,112.98h2.9v-4.61h-2.9ZM821.45,121.96h2.9v-7.68h-2.9ZM821.45,130.94h2.9v-7.68h-2.9ZM821.45,157.88h2.9v-7.68h-2.9ZM821.45,166.86h2.9v-7.68h-2.9ZM821.45,175.84h2.9v-7.68h-2.9ZM821.45,184.82h2.9v-7.68h-2.9ZM821.45,193.8h2.9v-7.68h-2.9ZM821.45,202.78h2.9v-7.68h-2.9ZM836.95,41.14h2.9v-7.68h-2.9ZM836.95,50.12h2.9v-7.68h-2.9ZM836.95,59.1h2.9v-7.68h-2.9ZM836.95,77.06h2.9v-1.3h-2.9ZM836.95,104h2.9v-5.38h-2.9ZM836.95,112.98h2.9v-7.68h-2.9ZM836.95,121.96h2.9v-7.68h-2.9ZM836.95,148.9h2.9v-4.61h-2.9ZM836.95,175.84h2.9v-7.68h-2.9ZM836.95,184.82h2.9v-7.68h-2.9ZM836.95,202.78h2.9v-7.68h-2.9ZM836.95,211.76h2.9v-7.68h-2.9ZM858.15,41.14h2.9v-7.68h-2.9ZM858.15,50.12h2.9v-7.68h-2.9ZM858.15,59.1h2.9v-7.68h-2.9ZM858.15,68.08h2.9v-7.68h-2.9ZM858.15,77.06h2.9v-7.68h-2.9ZM858.15,86.04h2.9v-7.68h-2.9ZM858.15,95.02h2.9v-7.68h-2.9ZM858.15,104h2.9v-7.68h-2.9ZM858.15,112.98h2.9v-7.68h-2.9ZM858.15,121.96h2.9v-7.68h-2.9ZM858.15,130.94h2.9v-7.68h-2.9ZM858.15,139.92h2.9v-7.68h-2.9ZM858.15,148.9h2.9v-7.68h-2.9ZM858.15,157.88h2.9v-7.68h-2.9ZM858.15,166.86h2.9v-7.68h-2.9ZM858.15,175.84h2.9v-7.68h-2.9ZM858.15,184.82h2.9v-7.68h-2.9ZM858.15,193.8h2.9v-7.68h-2.9ZM858.15,202.78h2.9v-7.68h-2.9ZM858.15,211.76h2.9v-7.68h-2.9ZM860.4,41.14h2.4v-7.68h-2.4ZM860.4,50.12h2.4v-7.68h-2.4ZM860.4,59.1h2.4v-7.68h-2.4ZM860.4,68.08h2.4v-7.68h-2.4ZM860.4,77.06h2.4v-7.68h-2.4ZM860.4,86.04h2.4v-7.68h-2.4ZM860.4,95.02h2.4v-7.68h-2.4ZM860.4,104h2.4v-7.68h-2.4ZM860.4,112.98h2.4v-7.68h-2.4ZM860.4,121.96h2.4v-7.68h-2.4ZM860.4,130.94h2.4v-7.68h-2.4ZM860.4,139.92h2.4v-7.68h-2.4ZM860.4,148.9h2.4v-7.68h-2.4ZM860.4,157.88h2.4v-7.68h-2.4ZM860.4,166.86h2.4v-7.68h-2.4ZM860.4,175.84h2.4v-7.68h-2.4ZM860.4,184.82h2.4v-7.68h-2.4ZM860.4,193.8h2.4v-7.68h-2.4ZM860.4,202.78h2.4v-7.68h-2.4ZM871.55,59.1h2.9v-7.68h-2.9ZM871.55,68.08h2.9v-7.68h-2.9ZM871.55,77.06h2.9v-7.68h-2.9ZM871.55,86.04h2.9v-7.68h-2.9ZM871.55,95.02h2.9v-7.68h-2.9ZM871.55,121.96h2.9v-7.68h-2.9ZM871.55,130.94h2.9v-7.68h-2.9ZM871.55,139.92h2.9v-7.68h-2.9ZM871.55,148.9h2.9v-7.68h-2.9ZM871.55,157.88h2.9v-7.68h-2.9ZM871.55,175.84h2.9v-7.68h-2.9ZM871.55,184.82h2.9v-7.68h-2.9ZM871.55,193.8h2.9v-7.68h-2.9ZM871.55,202.78h2.9v-7.68h-2.9ZM883.55,59.1h2.9v-7.68h-2.9ZM883.55,68.08h2.9v-7.68h-2.9ZM883.55,77.06h2.9v-7.68h-2.9ZM883.55,86.04h2.9v-7.68h-2.9ZM883.55,95.02h2.9v-7.68h-2.9ZM883.55,104h2.9v-7.68h-2.9ZM883.55,112.98h2.9v-7.68h-2.9ZM883.55,121.96h2.9v-7.68h-2.9ZM883.55,130.94h2.9v-7.68h-2.9ZM883.55,139.92h2.9v-7.68h-2.9ZM883.55,148.9h2.9v-7.68h-2.9ZM883.55,157.88h2.9v-7.68h-2.9ZM883.55,166.86h2.9v-7.68h-2.9ZM883.55,175.84h2.9v-7.68h-2.9ZM883.55,184.82h2.9v-7.68h-2.9ZM883.55,202.78h2.9v-7.68h-2.9ZM883.55,211.76h2.9v-7.68h-2.9ZM911.45,50.12h2.9v-7.68h-2.9ZM911.45,59.1h2.9v-7.68h-2.9ZM911.45,68.08h2.9v-4.61h-2.9ZM911.45,77.06h2.9v-6.14h-2.9ZM911.45,86.04h2.9v-7.68h-2.9ZM911.45,95.02h2.9v-7.68h-2.9ZM911.45,104h2.9v-7.68h-2.9ZM911.45,112.98h2.9v-7.68h-2.9ZM911.45,121.96h2.9v-7.68h-2.9ZM911.45,130.94h2.9v-7.68h-2.9ZM911.45,139.92h2.9v-7.68h-2.9ZM911.45,148.9h2.9v-7.68h-2.9ZM911.45,157.88h2.9v-7.68h-2.9ZM911.45,166.86h2.9v-7.68h-2.9ZM911.45,175.84h2.9v-7.68h-2.9ZM911.45,184.82h2.9v-7.68h-2.9ZM911.45,193.8h2.9v-7.68h-2.9ZM911.45,202.78h2.9v-7.68h-2.9ZM911.45,211.76h2.9v-7.68h-2.9ZM930.75,50.12h2.9v-7.68h-2.9ZM930.75,59.1h2.9v-7.68h-2.9ZM930.75,68.08h2.9v-7.68h-2.9ZM930.75,77.06h2.9v-7.68h-2.9ZM930.75,86.04h2.9v-7.68h-2.9ZM930.75,112.98h2.9v-7.68h-2.9ZM930.75,121.96h2.9v-7.68h-2.9ZM930.75,130.94h2.9v-7.68h-2.9ZM930.75,166.86h2.9v-7.68h-2.9ZM930.75,175.84h2.9v-7.68h-2.9ZM930.75,184.82h2.9v-7.68h-2.9ZM930.75,193.8h2.9v-7.68h-2.9ZM930.75,202.78h2.9v-7.68h-2.9ZM951.35,50.12h2.9v-7.68h-2.9ZM951.35,59.1h2.9v-7.68h-2.9ZM951.35,68.08h2.9v-7.68h-2.9ZM951.35,77.06h2.9v-7.68h-2.9ZM951.35,86.04h2.9v-7.68h-2.9ZM951.35,95.02h2.9v-7.68h-2.9ZM951.35,104h2.9v-7.68h-2.9ZM951.35,112.98h2.9v-7.68h-2.9ZM951.35,121.96h2.9v-7.68h-2.9ZM951.35,130.94h2.9v-7.68h-2.9ZM951.35,139.92h2.9v-5.38h-2.9ZM951.35,148.9h2.9v-7.68h-2.9ZM951.35,157.88h2.9v-7.68h-2.9ZM951.35,166.86h2.9v-7.68h-2.9ZM951.35,175.84h2.9v-7.68h-2.9ZM951.35,184.82h2.9v-7.68h-2.9ZM951.35,193.8h2.9v-7.68h-2.9ZM951.35,202.78h2.9v-7.68h-2.9ZM961.75,50.12h2.9v-7.68h-2.9ZM961.75,59.1h2.9v-7.68h-2.9ZM961.75,68.08h2.9v-7.68h-2.9ZM961.75,77.06h2.9v-7.68h-2.9ZM961.75,86.04h2.9v-7.68h-2.9ZM961.75,95.02h2.9v-7.68h-2.9ZM961.75,104h2.9v-7.68h-2.9ZM961.75,112.98h2.9v-7.68h-2.9ZM961.75,121.96h2.9v-7.68h-2.9ZM961.75,130.94h2.9v-7.68h-2.9ZM961.75,139.92h2.9v-7.68h-2.9ZM961.75,148.9h2.9v-7.68h-2.9ZM961.75,157.88h2.9v-7.68h-2.9ZM961.75,166.86h2.9v-7.68h-2.9ZM961.75,175.84h2.9v-7.68h-2.9ZM961.75,184.82h2.9v-7.68h-2.9ZM961.75,193.8h2.9v-7.68h-2.9ZM961.75,202.78h2.9v-7.68h-2.9ZM972.65,41.14h2.9v-5.38h-2.9ZM972.65,50.12h2.9v-7.68h-2.9ZM972.65,59.1h2.9v-7.68h-2.9ZM972.65,68.08h2.9v-7.68h-2.9ZM972.65,77.06h2.9v-7.68h-2.9ZM972.65,86.04h2.9v-7.68h-2.9ZM972.65,95.02h2.9v-7.68h-2.9ZM972.65,104h2.9v-7.68h-2.9ZM972.65,112.98h2.9v-7.68h-2.9ZM972.65,121.96h2.9v-7.68h-2.9ZM972.65,130.94h2.9v-7.68h-2.9ZM972.65,139.92h2.9v-7.68h-2.9ZM972.65,148.9h2.9v-7.68h-2.9ZM972.65,157.88h2.9v-7.68h-2.9ZM972.65,166.86h2.9v-7.68h-2.9ZM972.65,175.84h2.9v-7.68h-2.9ZM972.65,184.82h2.9v-7.68h-2.9ZM972.65,193.8h2.9v-7.68h-2.9ZM972.65,202.78h2.9v-7.68h-2.9ZM972.65,211.76h2.9v-1.3h-2.9ZM976.25,50.12h2.9v-5.38h-2.9ZM976.25,59.1h2.9v-5.38h-2.9ZM976.25,68.08h2.9v-7.68h-2.9ZM976.25,77.06h2.9v-7.68h-2.9ZM976.25,86.04h2.9v-7.68h-2.9ZM976.25,112.98h2.9v-7.68h-2.9ZM976.25,121.96h2.9v-7.68h-2.9ZM976.25,130.94h2.9v-7.68h-2.9ZM976.25,157.88h2.9v-7.68h-2.9ZM976.25,166.86h2.9v-7.68h-2.9ZM976.25,175.84h2.9v-7.68h-2.9ZM976.25,184.82h2.9v-7.68h-2.9ZM976.25,193.8h2.9v-7.68h-2.9ZM976.25,202.78h2.9v-7.68h-2.9ZM984.75,41.14h2.9v-5.38h-2.9ZM984.75,50.12h2.9v-7.68h-2.9ZM984.75,59.1h2.9v-7.68h-2.9ZM984.75,68.08h2.9v-7.68h-2.9ZM984.75,77.06h2.9v-7.68h-2.9ZM984.75,86.04h2.9v-7.68h-2.9ZM984.75,95.02h2.9v-3.84h-2.9ZM984.75,112.98h2.9v-7.68h-2.9ZM984.75,121.96h2.9v-7.68h-2.9ZM984.75,130.94h2.9v-3.84h-2.9ZM984.75,157.88h2.9v-7.68h-2.9ZM984.75,166.86h2.9v-7.68h-2.9ZM984.75,175.84h2.9v-7.68h-2.9ZM984.75,184.82h2.9v-6.14h-2.9ZM984.75,193.8h2.9v-7.68h-2.9ZM984.75,202.78h2.9v-7.68h-2.9ZM984.75,211.76h2.9v-7.68h-2.9ZM992.55,41.14h2.9v-7.68h-2.9ZM992.55,50.12h2.9v-7.68h-2.9ZM992.55,59.1h2.9v-7.68h-2.9ZM992.55,68.08h2.9v-7.68h-2.9ZM992.55,86.04h2.9v-6.14h-2.9ZM992.55,95.02h2.9v-7.68h-2.9ZM992.55,104h2.9v-7.68h-2.9ZM992.55,112.98h2.9v-7.68h-2.9ZM992.55,121.96h2.9v-7.68h-2.9ZM992.55,130.94h2.9v-7.68h-2.9ZM992.55,139.92h2.9v-7.68h-2.9ZM992.55,148.9h2.9v-5.38h-2.9ZM992.55,157.88h2.9v-7.68h-2.9ZM992.55,166.86h2.9v-7.68h-2.9ZM992.55,175.84h2.9v-7.68h-2.9ZM992.55,193.8h2.9v-7.68h-2.9ZM992.55,202.78h2.9v-7.68h-2.9ZM992.55,211.76h2.9v-5.38h-2.9ZM997.05,41.14h2.9v-7.68h-2.9ZM997.05,50.12h2.9v-7.68h-2.9ZM997.05,59.1h2.9v-7.68h-2.9ZM997.05,68.08h2.9v-7.68h-2.9ZM997.05,77.06h2.9v-7.68h-2.9ZM997.05,86.04h2.9v-7.68h-2.9ZM997.05,95.02h2.9v-7.68h-2.9ZM997.05,104h2.9v-7.68h-2.9ZM997.05,112.98h2.9v-7.68h-2.9ZM997.05,121.96h2.9v-7.68h-2.9ZM997.05,130.94h2.9v-7.68h-2.9ZM997.05,139.92h2.9v-7.68h-2.9ZM997.05,157.88h2.9v-7.68h-2.9ZM997.05,166.86h2.9v-7.68h-2.9ZM997.05,175.84h2.9v-7.68h-2.9ZM997.05,184.82h2.9v-5.38h-2.9ZM997.05,193.8h2.9v-7.68h-2.9ZM997.05,202.78h2.9v-7.68h-2.9ZM997.05,211.76h2.9v-7.68h-2.9ZM1001.05,41.14h2.9v-7.68h-2.9ZM1001.05,50.12h2.9v-7.68h-2.9ZM1001.05,59.1h2.9v-7.68h-2.9ZM1001.05,68.08h2.9v-7.68h-2.9ZM1001.05,77.06h2.9v-7.68h-2.9ZM1001.05,86.04h2.9v-7.68h-2.9ZM1001.05,95.02h2.9v-7.68h-2.9ZM1001.05,104h2.9v-7.68h-2.9ZM1001.05,112.98h2.9v-7.68h-2.9ZM1001.05,121.96h2.9v-7.68h-2.9ZM1001.05,130.94h2.9v-7.68h-2.9ZM1001.05,139.92h2.9v-7.68h-2.9ZM1001.05,148.9h2.9v-7.68h-2.9ZM1001.05,157.88h2.9v-7.68h-2.9ZM1001.05,166.86h2.9v-7.68h-2.9ZM1001.05,175.84h2.9v-5.38h-2.9ZM1001.05,184.82h2.9v-7.68h-2.9ZM1001.05,193.8h2.9v-7.68h-2.9ZM1001.05,202.78h2.9v-7.68h-2.9ZM1001.05,211.76h2.9v-7.68h-2.9ZM1006.05,41.14h2.9v-7.68h-2.9ZM1006.05,50.12h2.9v-7.68h-2.9ZM1006.05,59.1h2.9v-7.68h-2.9ZM1006.05,68.08h2.9v-7.68h-2.9ZM1006.05,77.06h2.9v-7.68h-2.9ZM1006.05,86.04h2.9v-7.68h-2.9ZM1006.05,95.02h2.9v-7.68h-2.9ZM1006.05,104h2.9v-7.68h-2.9ZM1006.05,112.98h2.9v-6.14h-2.9ZM1006.05,121.96h2.9v-7.68h-2.9ZM1006.05,130.94h2.9v-7.68h-2.9ZM1006.05,139.92h2.9v-7.68h-2.9ZM1006.05,157.88h2.9v-6.14h-2.9ZM1006.05,166.86h2.9v-7.68h-2.9ZM1006.05,175.84h2.9v-7.68h-2.9ZM1006.05,184.82h2.9v-7.68h-2.9ZM1006.05,193.8h2.9v-7.68h-2.9ZM1006.05,202.78h2.9v-7.68h-2.9ZM1006.05,211.76h2.9v-7.68h-2.9ZM1021.65,41.14h2.9v-5.38h-2.9ZM1021.65,50.12h2.9v-7.68h-2.9ZM1021.65,59.1h2.9v-7.68h-2.9ZM1021.65,68.08h2.9v-7.68h-2.9ZM1021.65,77.06h2.9v-7.68h-2.9ZM1021.65,86.04h2.9v-7.68h-2.9ZM1021.65,95.02h2.9v-7.68h-2.9ZM1021.65,104h2.9v-7.68h-2.9ZM1021.65,112.98h2.9v-7.68h-2.9ZM1021.65,121.96h2.9v-7.68h-2.9ZM1021.65,130.94h2.9v-5.38h-2.9ZM1021.65,139.92h2.9v-7.68h-2.9ZM1021.65,157.88h2.9v-7.68h-2.9ZM1021.65,166.86h2.9v-7.68h-2.9ZM1021.65,175.84h2.9v-7.68h-2.9ZM1021.65,184.82h2.9v-7.68h-2.9ZM1021.65,193.8h2.9v-7.68h-2.9ZM1021.65,202.78h2.9v-7.68h-2.9ZM1021.65,211.76h2.9v-7.68h-2.9ZM1032.15,41.14h2.9v-7.68h-2.9ZM1032.15,50.12h2.9v-7.68h-2.9ZM1032.15,59.1h2.9v-7.68h-2.9ZM1032.15,68.08h2.9v-7.68h-2.9ZM1032.15,77.06h2.9v-7.68h-2.9ZM1032.15,86.04h2.9v-7.68h-2.9ZM1032.15,95.02h2.9v-7.68h-2.9ZM1032.15,104h2.9v-7.68h-2.9ZM1032.15,112.98h2.9v-7.68h-2.9ZM1032.15,121.96h2.9v-7.68h-2.9ZM1032.15,130.94h2.9v-7.68h-2.9ZM1032.15,139.92h2.9v-7.68h-2.9ZM1032.15,157.88h2.9v-5.38h-2.9ZM1032.15,175.84h2.9v-7.68h-2.9ZM1032.15,184.82h2.9v-7.68h-2.9ZM1032.15,193.8h2.9v-7.68h-2.9ZM1032.15,202.78h2.9v-7.68h-2.9ZM1032.15,211.76h2.9v-7.68h-2.9ZM1035.15,41.14h2.9v-7.68h-2.9ZM1035.15,50.12h2.9v-7.68h-2.9ZM1035.15,59.1h2.9v-7.68h-2.9ZM1035.15,68.08h2.9v-7.68h-2.9ZM1035.15,77.06h2.9v-7.68h-2.9ZM1035.15,86.04h2.9v-7.68h-2.9ZM1035.15,95.02h2.9v-7.68h-2.9ZM1035.15,104h2.9v-7.68h-2.9ZM1035.15,112.98h2.9v-7.68h-2.9ZM1035.15,121.96h2.9v-7.68h-2.9ZM1035.15,130.94h2.9v-7.68h-2.9ZM1035.15,139.92h2.9v-7.68h-2.9ZM1035.15,157.88h2.9v-5.38h-2.9ZM1035.15,175.84h2.9v-7.68h-2.9ZM1035.15,184.82h2.9v-7.68h-2.9ZM1035.15,193.8h2.9v-7.68h-2.9ZM1035.15,202.78h2.9v-7.68h-2.9ZM1035.15,211.76h2.9v-7.68h-2.9ZM1042.05,41.14h2.9v-7.68h-2.9ZM1042.05,50.12h2.9v-7.68h-2.9ZM1042.05,59.1h2.9v-7.68h-2.9ZM1042.05,68.08h2.9v-7.68h-2.9ZM1042.05,77.06h2.9v-5.38h-2.9ZM1042.05,86.04h2.9v-7.68h-2.9ZM1042.05,95.02h2.9v-7.68h-2.9ZM1042.05,104h2.9v-7.68h-2.9ZM1042.05,112.98h2.9v-7.68h-2.9ZM1042.05,121.96h2.9v-7.68h-2.9ZM1042.05,130.94h2.9v-7.68h-2.9ZM1042.05,139.92h2.9v-1.3h-2.9ZM1042.05,157.88h2.9v-7.68h-2.9ZM1042.05,175.84h2.9v-7.68h-2.9ZM1042.05,184.82h2.9v-7.68h-2.9ZM1042.05,193.8h2.9v-7.68h-2.9ZM1042.05,202.78h2.9v-7.68h-2.9ZM1042.05,211.76h2.9v-4.61h-2.9ZM1067.05,41.14h2.9v-4.61h-2.9ZM1067.05,50.12h2.9v-7.68h-2.9ZM1067.05,59.1h2.9v-7.68h-2.9ZM1067.05,68.08h2.9v-7.68h-2.9ZM1067.05,77.06h2.9v-7.68h-2.9ZM1067.05,86.04h2.9v-7.68h-2.9ZM1067.05,95.02h2.9v-7.68h-2.9ZM1067.05,104h2.9v-7.68h-2.9ZM1067.05,112.98h2.9v-7.68h-2.9ZM1067.05,121.96h2.9v-7.68h-2.9ZM1067.05,130.94h2.9v-7.68h-2.9ZM1067.05,139.92h2.9v-7.68h-2.9ZM1067.05,157.88h2.9v-7.68h-2.9ZM1067.05,175.84h2.9v-7.68h-2.9ZM1067.05,184.82h2.9v-7.68h-2.9ZM1067.05,193.8h2.9v-7.68h-2.9ZM1067.05,202.78h2.9v-7.68h-2.9ZM1067.05,211.76h2.9v-7.68h-2.9ZM1073.15,41.14h2.9v-7.68h-2.9ZM1073.15,50.12h2.9v-7.68h-2.9ZM1073.15,59.1h2.9v-7.68h-2.9ZM1073.15,68.08h2.9v-7.68h-2.9ZM1073.15,77.06h2.9v-7.68h-2.9ZM1073.15,86.04h2.9v-7.68h-2.9ZM1073.15,95.02h2.9v-7.68h-2.9ZM1073.15,104h2.9v-4.61h-2.9ZM1073.15,112.98h2.9v-7.68h-2.9ZM1073.15,121.96h2.9v-7.68h-2.9ZM1073.15,130.94h2.9v-7.68h-2.9ZM1073.15,139.92h2.9v-7.68h-2.9ZM1073.15,157.88h2.9v-3.07h-2.9ZM1073.15,175.84h2.9v-7.68h-2.9ZM1073.15,184.82h2.9v-7.68h-2.9ZM1073.15,193.8h2.9v-7.68h-2.9ZM1073.15,202.78h2.9v-7.68h-2.9ZM1073.15,211.76h2.9v-5.38h-2.9ZM1103.95,41.14h2.9v-7.68h-2.9ZM1103.95,50.12h2.9v-7.68h-2.9ZM1103.95,59.1h2.9v-7.68h-2.9ZM1103.95,68.08h2.9v-7.68h-2.9ZM1103.95,77.06h2.9v-7.68h-2.9ZM1103.95,86.04h2.9v-7.68h-2.9ZM1103.95,95.02h2.9v-7.68h-2.9ZM1103.95,104h2.9v-7.68h-2.9ZM1103.95,112.98h2.9v-7.68h-2.9ZM1103.95,121.96h2.9v-7.68h-2.9ZM1103.95,130.94h2.9v-7.68h-2.9ZM1103.95,139.92h2.9v-7.68h-2.9ZM1103.95,148.9h2.9v-5.38h-2.9ZM1103.95,157.88h2.9v-7.68h-2.9ZM1103.95,166.86h2.9v-7.68h-2.9ZM1103.95,175.84h2.9v-7.68h-2.9ZM1103.95,184.82h2.9v-7.68h-2.9ZM1103.95,193.8h2.9v-7.68h-2.9ZM1103.95,202.78h2.9v-7.68h-2.9ZM1103.95,211.76h2.9v-7.68h-2.9ZM1117.05,41.14h2.9v-7.68h-2.9ZM1117.05,50.12h2.9v-7.68h-2.9ZM1117.05,59.1h2.9v-7.68h-2.9ZM1117.05,68.08h2.9v-7.68h-2.9ZM1117.05,77.06h2.9v-7.68h-2.9ZM1117.05,86.04h2.9v-7.68h-2.9ZM1117.05,95.02h2.9v-7.68h-2.9ZM1117.05,104h2.9v-7.68h-2.9ZM1117.05,112.98h2.9v-7.68h-2.9ZM1117.05,121.96h2.9v-7.68h-2.9ZM1117.05,130.94h2.9v-7.68h-2.9ZM1117.05,139.92h2.9v-7.68h-2.9ZM1117.05,148.9h2.9v-7.68h-2.9ZM1117.05,157.88h2.9v-7.68h-2.9ZM1117.05,166.86h2.9v-7.68h-2.9ZM1117.05,175.84h2.9v-7.68h-2.9ZM1117.05,184.82h2.9v-7.68h-2.9ZM1117.05,193.8h2.9v-7.68h-2.9ZM1117.05,202.78h2.9v-7.68h-2.9ZM1117.05,211.76h2.9v-4.61h-2.9ZM1127.55,41.14h2.9v-7.68h-2.9ZM1127.55,50.12h2.9v-7.68h-2.9ZM1127.55,59.1h2.9v-7.68h-2.9ZM1127.55,68.08h2.9v-7.68h-2.9ZM1127.55,77.06h2.9v-7.68h-2.9ZM1127.55,86.04h2.9v-7.68h-2.9ZM1127.55,95.02h2.9v-7.68h-2.9ZM1127.55,104h2.9v-7.68h-2.9ZM1127.55,112.98h2.9v-7.68h-2.9ZM1127.55,121.96h2.9v-7.68h-2.9ZM1127.55,130.94h2.9v-7.68h-2.9ZM1127.55,139.92h2.9v-7.68h-2.9ZM1127.55,148.9h2.9v-7.68h-2.9ZM1127.55,157.88h2.9v-7.68h-2.9ZM1127.55,166.86h2.9v-7.68h-2.9ZM1127.55,175.84h2.9v-7.68h-2.9ZM1127.55,184.82h2.9v-7.68h-2.9ZM1127.55,193.8h2.9v-7.68h-2.9ZM1127.55,202.78h2.9v-7.68h-2.9ZM1127.55,211.76h2.9v-7.68h-2.9ZM1131.15,41.14h2.9v-7.68h-2.9ZM1131.15,50.12h2.9v-7.68h-2.9ZM1131.15,59.1h2.9v-7.68h-2.9ZM1131.15,68.08h2.9v-7.68h-2.9ZM1131.15,77.06h2.9v-7.68h-2.9ZM1131.15,86.04h2.9v-7.68h-2.9ZM1131.15,95.02h2.9v-7.68h-2.9ZM1131.15,112.98h2.9v-7.68h-2.9ZM1131.15,121.96h2.9v-7.68h-2.9ZM1131.15,130.94h2.9v-7.68h-2.9ZM1131.15,139.92h2.9v-7.68h-2.9ZM1131.15,148.9h2.9v-6.14h-2.9ZM1131.15,157.88h2.9v-7.68h-2.9ZM1131.15,175.84h2.9v-7.68h-2.9ZM1131.15,184.82h2.9v-7.68h-2.9ZM1131.15,193.8h2.9v-7.68h-2.9ZM1131.15,202.78h2.9v-7.68h-2.9ZM1131.15,211.76h2.9v-7.68h-2.9ZM1134.15,41.14h2.9v-7.68h-2.9ZM1134.15,50.12h2.9v-7.68h-2.9ZM1134.15,59.1h2.9v-7.68h-2.9ZM1134.15,68.08h2.9v-7.68h-2.9ZM1134.15,77.06h2.9v-7.68h-2.9ZM1134.15,86.04h2.9v-7.68h-2.9ZM1134.15,95.02h2.9v-7.68h-2.9ZM1134.15,112.98h2.9v-7.68h-2.9ZM1134.15,121.96h2.9v-7.68h-2.9ZM1134.15,130.94h2.9v-7.68h-2.9ZM1134.15,139.92h2.9v-7.68h-2.9ZM1134.15,148.9h2.9v-6.14h-2.9ZM1134.15,157.88h2.9v-7.68h-2.9ZM1134.15,175.84h2.9v-7.68h-2.9ZM1134.15,184.82h2.9v-7.68h-2.9ZM1134.15,193.8h2.9v-7.68h-2.9ZM1134.15,202.78h2.9v-7.68h-2.9ZM1134.15,211.76h2.9v-7.68h-2.9ZM1139.15,41.14h2.9v-7.68h-2.9ZM1139.15,50.12h2.9v-7.68h-2.9ZM1139.15,59.1h2.9v-7.68h-2.9ZM1139.15,68.08h2.9v-7.68h-2.9ZM1139.15,77.06h2.9v-5.38h-2.9ZM1139.15,86.04h2.9v-5.38h-2.9ZM1139.15,95.02h2.9v-7.68h-2.9ZM1139.15,112.98h2.9v-7.68h-2.9ZM1139.15,121.96h2.9v-7.68h-2.9ZM1139.15,130.94h2.9v-7.68h-2.9ZM1139.15,139.92h2.9v-7.68h-2.9ZM1139.15,157.88h2.9v-7.68h-2.9ZM1139.15,166.86h2.9v-7.68h-2.9ZM1139.15,175.84h2.9v-4.61h-2.9ZM1139.15,184.82h2.9v-7.68h-2.9ZM1139.15,193.8h2.9v-7.68h-2.9ZM1139.15,202.78h2.9v-7.68h-2.9ZM1139.15,211.76h2.9v-7.68h-2.9ZM1163.55,41.14h2.9v-7.68h-2.9ZM1163.55,50.12h2.9v-7.68h-2.9ZM1163.55,59.1h2.9v-7.68h-2.9ZM1163.55,68.08h2.9v-7.68h-2.9ZM1163.55,77.06h2.9v-7.68h-2.9ZM1163.55,86.04h2.9v-7.68h-2.9ZM1163.55,95.02h2.9v-1.3h-2.9ZM1163.55,112.98h2.9v-7.68h-2.9ZM1163.55,121.96h2.9v-7.68h-2.9ZM1163.55,130.94h2.9v-7.68h-2.9ZM1163.55,139.92h2.9v-7.68h-2.9ZM1163.55,157.88h2.9v-7.68h-2.9ZM1163.55,166.86h2.9v-7.68h-2.9ZM1163.55,175.84h2.9v-7.68h-2.9ZM1163.55,184.82h2.9v-7.68h-2.9ZM1163.55,193.8h2.9v-7.68h-2.9ZM1163.55,202.78h2.9v-7.68h-2.9ZM1166.15,50.12h2.9v-7.68h-2.9ZM1166.15,59.1h2.9v-7.68h-2.9ZM1166.15,68.08h2.9v-7.68h-2.9ZM1166.15,77.06h2.9v-7.68h-2.9ZM1166.15,86.04h2.9v-7.68h-2.9ZM1166.15,112.98h2.9v-7.68h-2.9ZM1166.15,121.96h2.9v-7.68h-2.9ZM1166.15,130.94h2.9v-7.68h-2.9ZM1166.15,139.92h2.9v-7.68h-2.9ZM1166.15,157.88h2.9v-7.68h-2.9ZM1166.15,166.86h2.9v-7.68h-2.9ZM1166.15,175.84h2.9v-7.68h-2.9ZM1166.15,184.82h2.9v-7.68h-2.9ZM1166.15,193.8h2.9v-7.68h-2.9ZM1166.15,202.78h2.9v-7.68h-2.9ZM1180.85,50.12h2.9v-4.61h-2.9ZM1180.85,59.1h2.9v-5.38h-2.9ZM1180.85,68.08h2.9v-5.38h-2.9ZM1180.85,77.06h2.9v-5.38h-2.9ZM1180.85,104h2.9v-7.68h-2.9ZM1180.85,112.98h2.9v-6.14h-2.9ZM1180.85,121.96h2.9v-7.68h-2.9ZM1180.85,130.94h2.9v-7.68h-2.9ZM1180.85,139.92h2.9v-6.14h-2.9ZM1180.85,157.88h2.9v-6.14h-2.9ZM1180.85,166.86h2.9v-6.14h-2.9ZM1180.85,175.84h2.9v-7.68h-2.9ZM1180.85,184.82h2.9v-7.68h-2.9ZM1180.85,193.8h2.9v-6.14h-2.9ZM1180.85,202.78h2.9v-5.38h-2.9ZM1183.85,50.12h2.9v-4.61h-2.9ZM1183.85,59.1h2.9v-5.38h-2.9ZM1183.85,68.08h2.9v-5.38h-2.9ZM1183.85,77.06h2.9v-5.38h-2.9ZM1183.85,104h2.9v-7.68h-2.9ZM1183.85,112.98h2.9v-6.14h-2.9ZM1183.85,121.96h2.9v-7.68h-2.9ZM1183.85,130.94h2.9v-7.68h-2.9ZM1183.85,139.92h2.9v-6.14h-2.9ZM1183.85,157.88h2.9v-6.14h-2.9ZM1183.85,166.86h2.9v-6.14h-2.9ZM1183.85,175.84h2.9v-7.68h-2.9ZM1183.85,184.82h2.9v-7.68h-2.9ZM1183.85,193.8h2.9v-6.14h-2.9ZM1183.85,202.78h2.9v-5.38h-2.9ZM1190.75,50.12h2.9v-7.68h-2.9ZM1190.75,59.1h2.9v-7.68h-2.9ZM1190.75,68.08h2.9v-7.68h-2.9ZM1190.75,77.06h2.9v-7.68h-2.9ZM1190.75,104h2.9v-7.68h-2.9ZM1190.75,112.98h2.9v-7.68h-2.9ZM1190.75,121.96h2.9v-7.68h-2.9ZM1190.75,130.94h2.9v-7.68h-2.9ZM1190.75,139.92h2.9v-7.68h-2.9ZM1190.75,157.88h2.9v-7.68h-2.9ZM1190.75,166.86h2.9v-7.68h-2.9ZM1190.75,175.84h2.9v-7.68h-2.9ZM1190.75,184.82h2.9v-7.68h-2.9ZM1190.75,193.8h2.9v-7.68h-2.9ZM1190.75,202.78h2.9v-7.68h-2.9ZM1218.85,41.14h2.9v-7.68h-2.9ZM1218.85,50.12h2.9v-7.68h-2.9ZM1218.85,59.1h2.9v-7.68h-2.9ZM1218.85,68.08h2.9v-7.68h-2.9ZM1218.85,77.06h2.9v-4.61h-2.9ZM1218.85,86.04h2.9v-7.68h-2.9ZM1218.85,95.02h2.9v-7.68h-2.9ZM1218.85,104h2.9v-7.68h-2.9ZM1218.85,112.98h2.9v-7.68h-2.9ZM1218.85,121.96h2.9v-7.68h-2.9ZM1218.85,130.94h2.9v-7.68h-2.9ZM1218.85,157.88h2.9v-7.68h-2.9ZM1218.85,166.86h2.9v-7.68h-2.9ZM1218.85,175.84h2.9v-5.38h-2.9ZM1218.85,184.82h2.9v-7.68h-2.9ZM1218.85,193.8h2.9v-7.68h-2.9ZM1218.85,202.78h2.9v-7.68h-2.9ZM1218.85,211.76h2.9v-7.68h-2.9ZM1222.05,41.14h2.9v-7.68h-2.9ZM1222.05,50.12h2.9v-7.68h-2.9ZM1222.05,59.1h2.9v-7.68h-2.9ZM1222.05,68.08h2.9v-7.68h-2.9ZM1222.05,77.06h2.9v-4.61h-2.9ZM1222.05,86.04h2.9v-7.68h-2.9ZM1222.05,95.02h2.9v-7.68h-2.9ZM1222.05,104h2.9v-7.68h-2.9ZM1222.05,112.98h2.9v-7.68h-2.9ZM1222.05,121.96h2.9v-7.68h-2.9ZM1222.05,130.94h2.9v-7.68h-2.9ZM1222.05,157.88h2.9v-7.68h-2.9ZM1222.05,166.86h2.9v-7.68h-2.9ZM1222.05,175.84h2.9v-5.38h-2.9ZM1222.05,184.82h2.9v-7.68h-2.9ZM1222.05,193.8h2.9v-7.68h-2.9ZM1222.05,202.78h2.9v-7.68h-2.9ZM1222.05,211.76h2.9v-7.68h-2.9ZM1235.45,41.14h2.9v-7.68h-2.9ZM1235.45,50.12h2.9v-7.68h-2.9ZM1235.45,59.1h2.9v-7.68h-2.9ZM1235.45,68.08h2.9v-7.68h-2.9ZM1235.45,77.06h2.9v-4.61h-2.9ZM1235.45,86.04h2.9v-7.68h-2.9ZM1235.45,95.02h2.9v-7.68h-2.9ZM1235.45,104h2.9v-7.68h-2.9ZM1235.45,112.98h2.9v-7.68h-2.9ZM1235.45,121.96h2.9v-7.68h-2.9ZM1235.45,130.94h2.9v-7.68h-2.9ZM1235.45,157.88h2.9v-7.68h-2.9ZM1235.45,166.86h2.9v-7.68h-2.9ZM1235.45,175.84h2.9v-7.68h-2.9ZM1235.45,184.82h2.9v-7.68h-2.9ZM1235.45,193.8h2.9v-7.68h-2.9ZM1235.45,202.78h2.9v-7.68h-2.9ZM1235.45,211.76h2.9v-7.68h-2.9ZM1244.75,41.14h2.9v-7.68h-2.9ZM1244.75,50.12h2.9v-7.68h-2.9ZM1244.75,59.1h2.9v-7.68h-2.9ZM1244.75,68.08h2.9v-7.68h-2.9ZM1244.75,77.06h2.9v-5.38h-2.9ZM1244.75,86.04h2.9v-7.68h-2.9ZM1244.75,95.02h2.9v-7.68h-2.9ZM1244.75,104h2.9v-7.68h-2.9ZM1244.75,112.98h2.9v-7.68h-2.9ZM1244.75,121.96h2.9v-7.68h-2.9ZM1244.75,130.94h2.9v-7.68h-2.9ZM1244.75,157.88h2.9v-7.68h-2.9ZM1244.75,166.86h2.9v-7.68h-2.9ZM1244.75,175.84h2.9v-7.68h-2.9ZM1244.75,184.82h2.9v-7.68h-2.9ZM1244.75,193.8h2.9v-7.68h-2.9ZM1244.75,202.78h2.9v-7.68h-2.9ZM1244.75,211.76h2.9v-7.68h-2.9ZM1248.55,41.14h2.9v-7.68h-2.9ZM1248.55,50.12h2.9v-7.68h-2.9ZM1248.55,59.1h2.9v-7.68h-2.9ZM1248.55,68.08h2.9v-7.68h-2.9ZM1248.55,77.06h2.9v-5.38h-2.9ZM1248.55,86.04h2.9v-7.68h-2.9ZM1248.55,95.02h2.9v-7.68h-2.9ZM1248.55,104h2.9v-7.68h-2.9ZM1248.55,112.98h2.9v-7.68h-2.9ZM1248.55,121.96h2.9v-7.68h-2.9ZM1248.55,130.94h2.9v-7.68h-2.9ZM1248.55,157.88h2.9v-7.68h-2.9ZM1248.55,166.86h2.9v-7.68h-2.9ZM1248.55,175.84h2.9v-7.68h-2.9ZM1248.55,184.82h2.9v-7.68h-2.9ZM1248.55,193.8h2.9v-7.68h-2.9ZM1248.55,202.78h2.9v-7.68h-2.9ZM1248.55,211.76h2.9v-7.68h-2.9ZM1252.55,41.14h2.9v-7.68h-2.9ZM1252.55,50.12h2.9v-7.68h-2.9ZM1252.55,59.1h2.9v-7.68h-2.9ZM1252.55,68.08h2.9v-7.68h-2.9ZM1252.55,77.06h2.9v-5.38h-2.9ZM1252.55,86.04h2.9v-7.68h-2.9ZM1252.55,95.02h2.9v-7.68h-2.9ZM1252.55,104h2.9v-7.68h-2.9ZM1252.55,112.98h2.9v-7.68h-2.9ZM1252.55,121.96h2.9v-7.68h-2.9ZM1252.55,130.94h2.9v-7.68h-2.9ZM1252.55,157.88h2.9v-7.68h-2.9ZM1252.55,166.86h2.9v-7.68h-2.9ZM1252.55,175.84h2.9v-7.68h-2.9ZM1252.55,184.82h2.9v-7.68h-2.9ZM1252.55,193.8h2.9v-7.68h-2.9ZM1252.55,202.78h2.9v-7.68h-2.9ZM1252.55,211.76h2.9v-7.68h-2.9ZM1305.55,50.12h2.9v-7.68h-2.9ZM1305.55,59.1h2.9v-7.68h-2.9ZM1305.55,68.08h2.9v-7.68h-2.9ZM1305.55,77.06h2.9v-7.68h-2.9ZM1305.55,86.04h2.9v-7.68h-2.9ZM1305.55,95.02h2.9v-1.3h-2.9ZM1305.55,104h2.9v-4.61h-2.9ZM1305.55,112.98h2.9v-7.68h-2.9ZM1305.55,121.96h2.9v-7.68h-2.9ZM1305.55,130.94h2.9v-7.68h-2.9ZM1305.55,148.9h2.9v-7.68h-2.9ZM1305.55,157.88h2.9v-7.68h-2.9ZM1305.55,166.86h2.9v-7.68h-2.9ZM1305.55,175.84h2.9v-7.68h-2.9ZM1305.55,184.82h2.9v-7.68h-2.9ZM1305.55,193.8h2.9v-7.68h-2.9ZM1305.55,202.78h2.9v-7.68h-2.9ZM1305.55,211.76h2.9v-7.68h-2.9ZM1310.15,41.14h2.9v-7.68h-2.9ZM1310.15,50.12h2.9v-7.68h-2.9ZM1310.15,59.1h2.9v-7.68h-2.9ZM1310.15,68.08h2.9v-7.68h-2.9ZM1310.15,77.06h2.9v-7.68h-2.9ZM1310.15,86.04h2.9v-4.61h-2.9ZM1310.15,95.02h2.9v-7.68h-2.9ZM1310.15,104h2.9v-7.68h-2.9ZM1310.15,112.98h2.9v-7.68h-2.9ZM1310.15,121.96h2.9v-7.68h-2.9ZM1310.15,130.94h2.9v-7.68h-2.9ZM1310.15,139.92h2.9v-1.3h-2.9ZM1310.15,148.9h2.9v-7.68h-2.9ZM1310.15,157.88h2.9v-7.68h-2.9ZM1310.15,166.86h2.9v-7.68h-2.9ZM1310.15,175.84h2.9v-7.68h-2.9ZM1310.15,184.82h2.9v-7.68h-2.9ZM1310.15,193.8h2.9v-7.68h-2.9ZM1310.15,202.78h2.9v-7.68h-2.9ZM1310.15,211.76h2.9v-7.68h-2.9ZM1328.75,41.14h2.9v-7.68h-2.9ZM1328.75,50.12h2.9v-7.68h-2.9ZM1328.75,59.1h2.9v-7.68h-2.9ZM1328.75,68.08h2.9v-7.68h-2.9ZM1328.75,77.06h2.9v-7.68h-2.9ZM1328.75,86.04h2.9v-7.68h-2.9ZM1328.75,104h2.9v-7.68h-2.9ZM1328.75,112.98h2.9v-7.68h-2.9ZM1328.75,121.96h2.9v-7.68h-2.9ZM1328.75,130.94h2.9v-7.68h-2.9ZM1328.75,148.9h2.9v-7.68h-2.9ZM1328.75,157.88h2.9v-7.68h-2.9ZM1328.75,166.86h2.9v-7.68h-2.9ZM1328.75,175.84h2.9v-7.68h-2.9ZM1328.75,184.82h2.9v-7.68h-2.9ZM1328.75,193.8h2.9v-7.68h-2.9ZM1328.75,202.78h2.9v-7.68h-2.9ZM1328.75,211.76h2.9v-7.68h-2.9ZM1428.15,41.14h2.9v-7.68h-2.9ZM1428.15,50.12h2.9v-7.68h-2.9ZM1428.15,68.08h2.9v-7.68h-2.9ZM1428.15,77.06h2.9v-7.68h-2.9ZM1428.15,86.04h2.9v-7.68h-2.9ZM1428.15,104h2.9v-7.68h-2.9ZM1428.15,112.98h2.9v-7.68h-2.9ZM1428.15,121.96h2.9v-7.68h-2.9ZM1428.15,139.92h2.9v-7.68h-2.9ZM1428.15,148.9h2.9v-7.68h-2.9ZM1428.15,157.88h2.9v-7.68h-2.9ZM1428.15,166.86h2.9v-7.68h-2.9ZM1428.15,175.84h2.9v-7.68h-2.9ZM1428.15,184.82h2.9v-7.68h-2.9ZM1428.15,193.8h2.9v-7.68h-2.9ZM1428.15,202.78h2.9v-7.68h-2.9ZM1428.15,211.76h2.9v-7.68h-2.9ZM1439.05,41.14h2.9v-7.68h-2.9ZM1439.05,50.12h2.9v-7.68h-2.9ZM1439.05,59.1h2.9v-7.68h-2.9ZM1439.05,68.08h2.9v-7.68h-2.9ZM1439.05,77.06h2.9v-7.68h-2.9ZM1439.05,86.04h2.9v-7.68h-2.9ZM1439.05,95.02h2.9v-7.68h-2.9ZM1439.05,104h2.9v-7.68h-2.9ZM1439.05,112.98h2.9v-7.68h-2.9ZM1439.05,121.96h2.9v-7.68h-2.9ZM1439.05,130.94h2.9v-7.68h-2.9ZM1439.05,139.92h2.9v-7.68h-2.9ZM1439.05,148.9h2.9v-7.68h-2.9ZM1439.05,157.88h2.9v-7.68h-2.9ZM1439.05,166.86h2.9v-7.68h-2.9ZM1439.05,175.84h2.9v-7.68h-2.9ZM1439.05,184.82h2.9v-7.68h-2.9ZM1439.05,193.8h2.9v-7.68h-2.9ZM1439.05,202.78h2.9v-7.68h-2.9ZM1439.05,211.76h2.9v-7.68h-2.9ZM1442.55,41.14h2.9v-7.68h-2.9ZM1442.55,50.12h2.9v-7.68h-2.9ZM1442.55,59.1h2.9v-7.68h-2.9ZM1442.55,68.08h2.9v-7.68h-2.9ZM1442.55,77.06h2.9v-7.68h-2.9ZM1442.55,86.04h2.9v-7.68h-2.9ZM1442.55,95.02h2.9v-7.68h-2.9ZM1442.55,104h2.9v-7.68h-2.9ZM1442.55,112.98h2.9v-7.68h-2.9ZM1442.55,121.96h2.9v-7.68h-2.9ZM1442.55,130.94h2.9v-7.68h-2.9ZM1442.55,139.92h2.9v-7.68h-2.9ZM1442.55,148.9h2.9v-7.68h-2.9ZM1442.55,157.88h2.9v-7.68h-2.9ZM1442.55,166.86h2.9v-7.68h-2.9ZM1442.55,175.84h2.9v-7.68h-2.9ZM1442.55,184.82h2.9v-7.68h-2.9ZM1442.55,193.8h2.9v-7.68h-2.9ZM1442.55,202.78h2.9v-7.68h-2.9ZM1442.55,211.76h2.9v-7.68h-2.9ZM1462.75,41.14h2.9v-7.68h-2.9ZM1462.75,59.1h2.9v-7.68h-2.9ZM1462.75,68.08h2.9v-7.68h-2.9ZM1462.75,77.06h2.9v-7.68h-2.9ZM1462.75,86.04h2.9v-7.68h-2.9ZM1462.75,104h2.9v-6.14h-2.9ZM1462.75,112.98h2.9v-7.68h-2.9ZM1462.75,121.96h2.9v-7.68h-2.9ZM1462.75,130.94h2.9v-7.68h-2.9ZM1462.75,139.92h2.9v-7.68h-2.9ZM1462.75,148.9h2.9v-7.68h-2.9ZM1462.75,157.88h2.9v-7.68h-2.9ZM1462.75,166.86h2.9v-7.68h-2.9ZM1462.75,175.84h2.9v-7.68h-2.9ZM1462.75,184.82h2.9v-7.68h-2.9ZM1462.75,193.8h2.9v-7.68h-2.9ZM1462.75,202.78h2.9v-7.68h-2.9ZM1462.75,211.76h2.9v-7.68h-2.9Z" fill="#E19600"/>
<path d="M126.35,220.74h2.9v-7.68h-2.9ZM126.35,274.62h2.9v-7.68h-2.9ZM126.35,292.58h2.9v-7.68h-2.9ZM126.35,319.52h2.9v-7.68h-2.9ZM126.35,328.5h2.9v-7.68h-2.9ZM126.35,346.46h2.9v-7.68h-2.9ZM126.35,355.44h2.9v-3.07h-2.9ZM153.15,220.74h2.9v-7.68h-2.9ZM153.15,256.66h2.9v-7.68h-2.9ZM153.15,274.62h2.9v-7.68h-2.9ZM153.15,292.58h2.9v-7.68h-2.9ZM153.15,319.52h2.9v-7.68h-2.9ZM153.15,328.5h2.9v-7.68h-2.9ZM153.15,346.46h2.9v-7.68h-2.9ZM153.15,355.44h2.9v-7.68h-2.9ZM157.95,220.74h2.9v-7.68h-2.9ZM157.95,256.66h2.9v-7.68h-2.9ZM157.95,274.62h2.9v-7.68h-2.9ZM157.95,292.58h2.9v-7.68h-2.9ZM157.95,319.52h2.9v-7.68h-2.9ZM157.95,328.5h2.9v-7.68h-2.9ZM157.95,346.46h2.9v-4.61h-2.9ZM157.95,355.44h2.9v-7.68h-2.9ZM160.55,220.74h2.9v-7.68h-2.9ZM160.55,256.66h2.9v-7.68h-2.9ZM160.55,274.62h2.9v-7.68h-2.9ZM160.55,292.58h2.9v-7.68h-2.9ZM160.55,319.52h2.9v-7.68h-2.9ZM160.55,328.5h2.9v-7.68h-2.9ZM160.55,346.46h2.9v-7.68h-2.9ZM160.55,355.44h2.9v-7.68h-2.9ZM169.95,220.74h2.9v-3.07h-2.9ZM169.95,256.66h2.9v-7.68h-2.9ZM169.95,274.62h2.9v-7.68h-2.9ZM169.95,292.58h2.9v-7.68h-2.9ZM169.95,319.52h2.9v-7.68h-2.9ZM169.95,328.5h2.9v-7.68h-2.9ZM169.95,346.46h2.9v-7.68h-2.9ZM169.95,355.44h2.9v-7.68h-2.9ZM182.05,220.74h2.9v-7.68h-2.9ZM182.05,256.66h2.9v-4.61h-2.9ZM182.05,274.62h2.9v-7.68h-2.9ZM182.05,292.58h2.9v-4.61h-2.9ZM182.05,319.52h2.9v-7.68h-2.9ZM182.05,328.5h2.9v-7.68h-2.9ZM182.05,346.46h2.9v-7.68h-2.9ZM182.05,355.44h2.9v-7.68h-2.9ZM211.65,220.74h2.9v-7.68h-2.9ZM211.65,256.66h2.9v-7.68h-2.9ZM211.65,274.62h2.9v-3.84h-2.9ZM211.65,292.58h2.9v-7.68h-2.9ZM211.65,319.52h2.9v-7.68h-2.9ZM211.65,328.5h2.9v-7.68h-2.9ZM211.65,337.48h2.9v-7.68h-2.9ZM211.65,346.46h2.9v-7.68h-2.9ZM211.65,355.44h2.9v-7.68h-2.9ZM215.95,220.74h2.9v-7.68h-2.9ZM215.95,247.68h2.9v-7.68h-2.9ZM215.95,256.66h2.9v-4.61h-2.9ZM215.95,292.58h2.9v-3.84h-2.9ZM215.95,319.52h2.9v-7.68h-2.9ZM215.95,328.5h2.9v-7.68h-2.9ZM215.95,337.48h2.9v-7.68h-2.9ZM215.95,346.46h2.9v-7.68h-2.9ZM215.95,355.44h2.9v-3.84h-2.9ZM219.45,220.74h2.9v-7.68h-2.9ZM219.45,247.68h2.9v-7.68h-2.9ZM219.45,256.66h2.9v-7.68h-2.9ZM219.45,292.58h2.9v-4.61h-2.9ZM219.45,319.52h2.9v-7.68h-2.9ZM219.45,328.5h2.9v-7.68h-2.9ZM219.45,337.48h2.9v-7.68h-2.9ZM219.45,346.46h2.9v-4.61h-2.9ZM219.45,355.44h2.9v-7.68h-2.9ZM222.45,220.74h2.9v-7.68h-2.9ZM222.45,247.68h2.9v-7.68h-2.9ZM222.45,256.66h2.9v-7.68h-2.9ZM222.45,292.58h2.9v-7.68h-2.9ZM222.45,319.52h2.9v-7.68h-2.9ZM222.45,328.5h2.9v-7.68h-2.9ZM222.45,337.48h2.9v-7.68h-2.9ZM222.45,346.46h2.9v-7.68h-2.9ZM222.45,355.44h2.9v-4.61h-2.9ZM248.55,256.66h2.9v-7.68h-2.9ZM248.55,274.62h2.9v-7.68h-2.9ZM248.55,292.58h2.9v-7.68h-2.9ZM248.55,337.48h2.9v-7.68h-2.9ZM248.55,346.46h2.9v-3.84h-2.9ZM248.55,355.44h2.9v-7.68h-2.9ZM271.55,274.62h2.9v-7.68h-2.9ZM271.55,292.58h2.9v-7.68h-2.9ZM271.55,337.48h2.9v-7.68h-2.9ZM271.55,346.46h2.9v-7.68h-2.9ZM271.55,355.44h2.9v-7.68h-2.9ZM315.55,247.68h2.7v-1.3h-2.7ZM315.55,274.62h2.7v-3.07h-2.7ZM315.55,355.44h2.7v-2.3h-2.7ZM335.6,247.68h2v-1.3h-2ZM335.6,283.6h2v-1.3h-2ZM335.6,364.42h2v-1.3h-2ZM351.6,247.68h2v-1.3h-2ZM351.6,283.6h2v-1.3h-2ZM351.6,355.44h2v-1.3h-2ZM351.6,364.42h2v-1.3h-2ZM357.6,247.68h2v-1.3h-2ZM357.6,283.6h2v-1.3h-2ZM357.6,355.44h2v-1.3h-2ZM357.6,364.42h2v-1.3h-2ZM368.3,247.68h2.4v-1.3h-2.4ZM368.3,283.6h2.4v-1.3h-2.4ZM368.3,355.44h2.4v-1.3h-2.4ZM368.3,364.42h2.4v-1.3h-2.4ZM370.5,355.44h2v-1.3h-2ZM370.5,364.42h2v-1.3h-2ZM374.6,247.68h2v-1.3h-2ZM374.6,283.6h2v-1.3h-2ZM374.6,355.44h2v-1.3h-2ZM374.6,364.42h2v-1.3h-2ZM410.9,247.68h2v-1.3h-2ZM410.9,364.42h2v-1.3h-2ZM435.7,247.68h2v-1.3h-2ZM435.7,256.66h2v-1.3h-2ZM435.7,283.6h2v-1.3h-2ZM435.7,292.58h2v-1.3h-2ZM435.7,319.52h2v-1.3h-2ZM435.7,328.5h2v-1.3h-2ZM435.7,364.42h2v-1.3h-2ZM447.6,247.68h2.4v-1.3h-2.4ZM447.6,256.66h2.4v-1.3h-2.4ZM447.6,283.6h2.4v-1.3h-2.4ZM447.6,292.58h2.4v-1.3h-2.4ZM447.6,319.52h2.4v-1.3h-2.4ZM447.6,328.5h2.4v-1.3h-2.4ZM447.6,364.42h2.4v-1.3h-2.4ZM540.5,238.7h2v-1.3h-2ZM540.5,247.68h2v-1.3h-2ZM540.5,265.64h2v-1.3h-2ZM540.5,283.6h2v-1.3h-2ZM540.5,292.58h2v-1.3h-2ZM540.5,319.52h2v-1.3h-2ZM540.5,328.5h2v-1.3h-2ZM540.5,346.46h2v-1.3h-2ZM540.5,364.42h2v-1.3h-2ZM555,238.7h2v-1.3h-2ZM555,247.68h2v-1.3h-2ZM555,265.64h2v-1.3h-2ZM555,283.6h2v-1.3h-2ZM555,292.58h2v-1.3h-2ZM555,319.52h2v-1.3h-2ZM555,328.5h2v-1.3h-2ZM555,346.46h2v-1.3h-2ZM555,364.42h2v-1.3h-2ZM571.4,229.72h2v-1.3h-2ZM571.4,247.68h2v-1.3h-2ZM571.4,265.64h2v-1.3h-2ZM571.4,283.6h2v-1.3h-2ZM571.4,292.58h2v-1.3h-2ZM571.4,319.52h2v-1.3h-2ZM571.4,328.5h2v-1.3h-2ZM571.4,346.46h2v-1.3h-2ZM571.4,364.42h2v-1.3h-2ZM596.4,229.72h2.4v-1.3h-2.4ZM596.4,247.68h2.4v-1.3h-2.4ZM596.4,265.64h2.4v-1.3h-2.4ZM596.4,283.6h2.4v-1.3h-2.4ZM596.4,292.58h2.4v-1.3h-2.4ZM596.4,319.52h2.4v-1.3h-2.4ZM596.4,328.5h2.4v-1.3h-2.4ZM596.4,346.46h2.4v-1.3h-2.4ZM596.4,364.42h2.4v-1.3h-2.4ZM648.05,220.74h2.7v-1.3h-2.7ZM648.05,229.72h2.7v-1.3h-2.7ZM648.05,238.7h2.7v-1.3h-2.7ZM648.05,247.68h2.7v-1.3h-2.7ZM648.05,256.66h2.7v-1.3h-2.7ZM648.05,265.64h2.7v-4.61h-2.7ZM648.05,274.62h2.7v-1.3h-2.7ZM648.05,283.6h2.7v-1.3h-2.7ZM648.05,292.58h2.7v-1.54h-2.7ZM648.05,301.56h2.7v-1.3h-2.7ZM648.05,310.54h2.7v-1.3h-2.7ZM648.05,319.52h2.7v-1.3h-2.7ZM648.05,328.5h2.7v-1.3h-2.7ZM648.05,337.48h2.7v-1.3h-2.7ZM648.05,346.46h2.7v-1.3h-2.7ZM648.05,355.44h2.7v-4.61h-2.7ZM648.05,364.42h2.7v-1.3h-2.7ZM653.65,220.74h2.7v-1.3h-2.7ZM653.65,229.72h2.7v-1.3h-2.7ZM653.65,238.7h2.7v-1.3h-2.7ZM653.65,247.68h2.7v-1.3h-2.7ZM653.65,256.66h2.7v-1.3h-2.7ZM653.65,265.64h2.7v-7.68h-2.7ZM653.65,274.62h2.7v-1.3h-2.7ZM653.65,283.6h2.7v-1.3h-2.7ZM653.65,292.58h2.7v-7.68h-2.7ZM653.65,301.56h2.7v-1.3h-2.7ZM653.65,310.54h2.7v-1.3h-2.7ZM653.65,319.52h2.7v-1.3h-2.7ZM653.65,328.5h2.7v-1.3h-2.7ZM653.65,337.48h2.7v-1.3h-2.7ZM653.65,346.46h2.7v-1.3h-2.7ZM653.65,355.44h2.7v-3.84h-2.7ZM653.65,364.42h2.7v-1.3h-2.7ZM672.75,220.74h2.9v-1.3h-2.9ZM672.75,229.72h2.9v-1.3h-2.9ZM672.75,238.7h2.9v-1.3h-2.9ZM672.75,247.68h2.9v-1.3h-2.9ZM672.75,256.66h2.9v-1.3h-2.9ZM672.75,265.64h2.9v-7.68h-2.9ZM672.75,274.62h2.9v-1.3h-2.9ZM672.75,283.6h2.9v-7.68h-2.9ZM672.75,292.58h2.9v-4.61h-2.9ZM672.75,301.56h2.9v-1.3h-2.9ZM672.75,310.54h2.9v-1.3h-2.9ZM672.75,319.52h2.9v-1.3h-2.9ZM672.75,328.5h2.9v-1.3h-2.9ZM672.75,337.48h2.9v-1.3h-2.9ZM672.75,346.46h2.9v-1.3h-2.9ZM672.75,355.44h2.9v-7.68h-2.9ZM672.75,364.42h2.9v-1.3h-2.9ZM693.55,220.74h2.9v-1.3h-2.9ZM693.55,229.72h2.9v-1.3h-2.9ZM693.55,238.7h2.9v-1.3h-2.9ZM693.55,247.68h2.9v-1.3h-2.9ZM693.55,256.66h2.9v-1.3h-2.9ZM693.55,265.64h2.9v-7.68h-2.9ZM693.55,274.62h2.9v-1.3h-2.9ZM693.55,283.6h2.9v-7.68h-2.9ZM693.55,292.58h2.9v-7.68h-2.9ZM693.55,301.56h2.9v-1.3h-2.9ZM693.55,310.54h2.9v-1.3h-2.9ZM693.55,319.52h2.9v-1.3h-2.9ZM693.55,328.5h2.9v-1.3h-2.9ZM693.55,337.48h2.9v-1.3h-2.9ZM693.55,346.46h2.9v-1.3h-2.9ZM693.55,355.44h2.9v-7.68h-2.9ZM693.55,364.42h2.9v-1.3h-2.9ZM702.15,220.74h2.9v-1.3h-2.9ZM702.15,229.72h2.9v-1.3h-2.9ZM702.15,238.7h2.9v-1.3h-2.9ZM702.15,247.68h2.9v-1.3h-2.9ZM702.15,256.66h2.9v-1.3h-2.9ZM702.15,265.64h2.9v-7.68h-2.9ZM702.15,274.62h2.9v-1.3h-2.9ZM702.15,283.6h2.9v-7.68h-2.9ZM702.15,292.58h2.9v-7.68h-2.9ZM702.15,301.56h2.9v-1.3h-2.9ZM702.15,310.54h2.9v-1.3h-2.9ZM702.15,319.52h2.9v-4.61h-2.9ZM702.15,328.5h2.9v-1.3h-2.9ZM702.15,337.48h2.9v-1.3h-2.9ZM702.15,346.46h2.9v-1.3h-2.9ZM702.15,355.44h2.9v-7.68h-2.9ZM702.15,364.42h2.9v-1.3h-2.9ZM706.95,220.74h2.9v-1.3h-2.9ZM706.95,229.72h2.9v-1.3h-2.9ZM706.95,238.7h2.9v-1.3h-2.9ZM706.95,247.68h2.9v-1.3h-2.9ZM706.95,256.66h2.9v-1.3h-2.9ZM706.95,265.64h2.9v-7.68h-2.9ZM706.95,274.62h2.9v-1.3h-2.9ZM706.95,283.6h2.9v-7.68h-2.9ZM706.95,292.58h2.9v-7.68h-2.9ZM706.95,301.56h2.9v-1.3h-2.9ZM706.95,310.54h2.9v-1.3h-2.9ZM706.95,319.52h2.9v-4.61h-2.9ZM706.95,328.5h2.9v-1.3h-2.9ZM706.95,337.48h2.9v-1.3h-2.9ZM706.95,346.46h2.9v-1.3h-2.9ZM706.95,355.44h2.9v-7.68h-2.9ZM706.95,364.42h2.9v-1.3h-2.9ZM704.55,220.74h2.9v-1.3h-2.9ZM704.55,229.72h2.9v-1.3h-2.9ZM704.55,238.7h2.9v-1.3h-2.9ZM704.55,247.68h2.9v-1.3h-2.9ZM704.55,256.66h2.9v-1.3h-2.9ZM704.55,265.64h2.9v-7.68h-2.9ZM704.55,274.62h2.9v-1.3h-2.9ZM704.55,283.6h2.9v-7.68h-2.9ZM704.55,292.58h2.9v-7.68h-2.9ZM704.55,301.56h2.9v-1.3h-2.9ZM704.55,310.54h2.9v-1.3h-2.9ZM704.55,319.52h2.9v-4.61h-2.9ZM704.55,328.5h2.9v-1.3h-2.9ZM704.55,337.48h2.9v-1.3h-2.9ZM704.55,346.46h2.9v-1.3h-2.9ZM704.55,355.44h2.9v-7.68h-2.9ZM704.55,364.42h2.9v-1.3h-2.9ZM731.75,220.74h2.9v-1.3h-2.9ZM731.75,229.72h2.9v-1.3h-2.9ZM731.75,238.7h2.9v-1.3h-2.9ZM731.75,247.68h2.9v-1.3h-2.9ZM731.75,256.66h2.9v-1.3h-2.9ZM731.75,265.64h2.9v-7.68h-2.9ZM731.75,274.62h2.9v-1.3h-2.9ZM731.75,283.6h2.9v-7.68h-2.9ZM731.75,292.58h2.9v-7.68h-2.9ZM731.75,301.56h2.9v-1.3h-2.9ZM731.75,310.54h2.9v-7.68h-2.9ZM731.75,319.52h2.9v-7.68h-2.9ZM731.75,328.5h2.9v-1.3h-2.9ZM731.75,337.48h2.9v-1.3h-2.9ZM731.75,346.46h2.9v-1.3h-2.9ZM731.75,355.44h2.9v-7.68h-2.9ZM731.75,364.42h2.9v-1.3h-2.9ZM748.35,220.74h2.9v-1.3h-2.9ZM748.35,229.72h2.9v-1.3h-2.9ZM748.35,238.7h2.9v-1.3h-2.9ZM748.35,247.68h2.9v-1.3h-2.9ZM748.35,256.66h2.9v-1.3h-2.9ZM748.35,265.64h2.9v-7.68h-2.9ZM748.35,274.62h2.9v-1.3h-2.9ZM748.35,283.6h2.9v-7.68h-2.9ZM748.35,292.58h2.9v-7.68h-2.9ZM748.35,301.56h2.9v-1.3h-2.9ZM748.35,310.54h2.9v-7.68h-2.9ZM748.35,319.52h2.9v-7.68h-2.9ZM748.35,328.5h2.9v-1.3h-2.9ZM748.35,337.48h2.9v-1.3h-2.9ZM748.35,346.46h2.9v-1.3h-2.9ZM748.35,355.44h2.9v-7.68h-2.9ZM748.35,364.42h2.9v-1.3h-2.9ZM768.05,220.74h2.9v-1.3h-2.9ZM768.05,229.72h2.9v-1.3h-2.9ZM768.05,238.7h2.9v-1.3h-2.9ZM768.05,247.68h2.9v-1.3h-2.9ZM768.05,256.66h2.9v-1.3h-2.9ZM768.05,265.64h2.9v-7.68h-2.9ZM768.05,274.62h2.9v-1.3h-2.9ZM768.05,283.6h2.9v-7.68h-2.9ZM768.05,292.58h2.9v-7.68h-2.9ZM768.05,301.56h2.9v-1.3h-2.9ZM768.05,310.54h2.9v-7.68h-2.9ZM768.05,319.52h2.9v-7.68h-2.9ZM768.05,328.5h2.9v-1.3h-2.9ZM768.05,337.48h2.9v-1.3h-2.9ZM768.05,346.46h2.9v-1.3h-2.9ZM768.05,355.44h2.9v-7.68h-2.9ZM768.05,364.42h2.9v-1.3h-2.9ZM772.05,220.74h2.9v-1.3h-2.9ZM772.05,229.72h2.9v-1.3h-2.9ZM772.05,238.7h2.9v-1.3h-2.9ZM772.05,247.68h2.9v-1.3h-2.9ZM772.05,256.66h2.9v-1.3h-2.9ZM772.05,265.64h2.9v-7.68h-2.9ZM772.05,274.62h2.9v-1.3h-2.9ZM772.05,283.6h2.9v-7.68h-2.9ZM772.05,292.58h2.9v-7.68h-2.9ZM772.05,301.56h2.9v-1.3h-2.9ZM772.05,310.54h2.9v-7.68h-2.9ZM772.05,319.52h2.9v-7.68h-2.9ZM772.05,328.5h2.9v-1.3h-2.9ZM772.05,337.48h2.9v-1.3h-2.9ZM772.05,346.46h2.9v-1.3h-2.9ZM772.05,355.44h2.9v-7.68h-2.9ZM772.05,364.42h2.9v-1.3h-2.9ZM793.75,220.74h2.9v-1.3h-2.9ZM793.75,229.72h2.9v-1.3h-2.9ZM793.75,238.7h2.9v-1.3h-2.9ZM793.75,247.68h2.9v-1.3h-2.9ZM793.75,256.66h2.9v-1.3h-2.9ZM793.75,265.64h2.9v-7.68h-2.9ZM793.75,274.62h2.9v-1.3h-2.9ZM793.75,283.6h2.9v-7.68h-2.9ZM793.75,292.58h2.9v-7.68h-2.9ZM793.75,301.56h2.9v-1.3h-2.9ZM793.75,310.54h2.9v-7.68h-2.9ZM793.75,319.52h2.9v-7.68h-2.9ZM793.75,328.5h2.9v-1.3h-2.9ZM793.75,337.48h2.9v-1.3h-2.9ZM793.75,346.46h2.9v-1.3h-2.9ZM793.75,355.44h2.9v-7.68h-2.9ZM793.75,364.42h2.9v-1.3h-2.9ZM812.75,220.74h2.9v-1.3h-2.9ZM812.75,229.72h2.9v-1.3h-2.9ZM812.75,238.7h2.9v-1.3h-2.9ZM812.75,247.68h2.9v-1.3h-2.9ZM812.75,256.66h2.9v-1.3h-2.9ZM812.75,265.64h2.9v-7.68h-2.9ZM812.75,274.62h2.9v-1.3h-2.9ZM812.75,283.6h2.9v-4.61h-2.9ZM812.75,292.58h2.9v-7.68h-2.9ZM812.75,301.56h2.9v-1.3h-2.9ZM812.75,310.54h2.9v-1.3h-2.9ZM812.75,319.52h2.9v-7.68h-2.9ZM812.75,328.5h2.9v-1.3h-2.9ZM812.75,337.48h2.9v-1.3h-2.9ZM812.75,346.46h2.9v-1.3h-2.9ZM812.75,355.44h2.9v-7.68h-2.9ZM812.75,364.42h2.9v-1.3h-2.9ZM821.45,220.74h2.9v-1.3h-2.9ZM821.45,229.72h2.9v-1.3h-2.9ZM821.45,238.7h2.9v-1.3h-2.9ZM821.45,247.68h2.9v-1.3h-2.9ZM821.45,256.66h2.9v-1.3h-2.9ZM821.45,265.64h2.9v-7.68h-2.9ZM821.45,274.62h2.9v-1.3h-2.9ZM821.45,283.6h2.9v-7.68h-2.9ZM821.45,292.58h2.9v-7.68h-2.9ZM821.45,301.56h2.9v-1.3h-2.9ZM821.45,310.54h2.9v-7.68h-2.9ZM821.45,319.52h2.9v-7.68h-2.9ZM821.45,328.5h2.9v-1.3h-2.9ZM821.45,337.48h2.9v-1.3h-2.9ZM821.45,346.46h2.9v-1.3h-2.9ZM821.45,355.44h2.9v-7.68h-2.9ZM821.45,364.42h2.9v-1.3h-2.9ZM836.95,220.74h2.9v-1.3h-2.9ZM836.95,229.72h2.9v-1.3h-2.9ZM836.95,238.7h2.9v-1.3h-2.9ZM836.95,247.68h2.9v-1.3h-2.9ZM836.95,256.66h2.9v-1.3h-2.9ZM836.95,265.64h2.9v-7.68h-2.9ZM836.95,274.62h2.9v-1.3h-2.9ZM836.95,283.6h2.9v-7.68h-2.9ZM836.95,292.58h2.9v-7.68h-2.9ZM836.95,301.56h2.9v-1.3h-2.9ZM836.95,310.54h2.9v-7.68h-2.9ZM836.95,319.52h2.9v-7.68h-2.9ZM836.95,328.5h2.9v-1.3h-2.9ZM836.95,337.48h2.9v-1.3h-2.9ZM836.95,346.46h2.9v-1.3h-2.9ZM836.95,355.44h2.9v-7.68h-2.9ZM836.95,364.42h2.9v-1.3h-2.9ZM858.15,220.74h2.9v-1.3h-2.9ZM858.15,229.72h2.9v-1.3h-2.9ZM858.15,238.7h2.9v-1.3h-2.9ZM858.15,247.68h2.9v-1.3h-2.9ZM858.15,256.66h2.9v-1.3h-2.9ZM858.15,265.64h2.9v-7.68h-2.9ZM858.15,274.62h2.9v-1.3h-2.9ZM858.15,283.6h2.9v-7.68h-2.9ZM858.15,292.58h2.9v-7.68h-2.9ZM858.15,301.56h2.9v-1.3h-2.9ZM858.15,310.54h2.9v-7.68h-2.9ZM858.15,319.52h2.9v-7.68h-2.9ZM858.15,328.5h2.9v-1.3h-2.9ZM858.15,337.48h2.9v-1.3h-2.9ZM858.15,346.46h2.9v-1.3h-2.9ZM858.15,355.44h2.9v-7.68h-2.9ZM858.15,364.42h2.9v-1.3h-2.9ZM860.4,220.74h2.4v-1.3h-2.4ZM860.4,229.72h2.4v-1.3h-2.4ZM860.4,238.7h2.4v-1.3h-2.4ZM860.4,247.68h2.4v-1.3h-2.4ZM860.4,256.66h2.4v-1.3h-2.4ZM860.4,265.64h2.4v-7.68h-2.4ZM860.4,274.62h2.4v-1.3h-2.4ZM860.4,283.6h2.4v-7.68h-2.4ZM860.4,292.58h2.4v-7.68h-2.4ZM860.4,301.56h2.4v-1.3h-2.4ZM860.4,310.54h2.4v-7.68h-2.4ZM860.4,319.52h2.4v-7.68h-2.4ZM860.4,328.5h2.4v-1.3h-2.4ZM860.4,337.48h2.4v-1.3h-2.4ZM860.4,346.46h2.4v-1.3h-2.4ZM860.4,355.44h2.4v-7.68h-2.4ZM860.4,364.42h2.4v-1.3h-2.4ZM871.55,220.74h2.9v-1.3h-2.9ZM871.55,229.72h2.9v-1.3h-2.9ZM871.55,238.7h2.9v-1.3h-2.9ZM871.55,247.68h2.9v-1.3h-2.9ZM871.55,256.66h2.9v-1.3h-2.9ZM871.55,265.64h2.9v-7.68h-2.9ZM871.55,274.62h2.9v-1.3h-2.9ZM871.55,283.6h2.9v-7.68h-2.9ZM871.55,292.58h2.9v-7.68h-2.9ZM871.55,301.56h2.9v-1.3h-2.9ZM871.55,310.54h2.9v-7.68h-2.9ZM871.55,319.52h2.9v-7.68h-2.9ZM871.55,328.5h2.9v-1.3h-2.9ZM871.55,337.48h2.9v-1.3h-2.9ZM871.55,346.46h2.9v-1.3h-2.9ZM871.55,355.44h2.9v-7.68h-2.9ZM871.55,364.42h2.9v-1.3h-2.9ZM883.55,220.74h2.9v-1.3h-2.9ZM883.55,229.72h2.9v-1.3h-2.9ZM883.55,238.7h2.9v-1.3h-2.9ZM883.55,247.68h2.9v-1.3h-2.9ZM883.55,256.66h2.9v-1.3h-2.9ZM883.55,265.64h2.9v-7.68h-2.9ZM883.55,274.62h2.9v-1.3h-2.9ZM883.55,283.6h2.9v-7.68h-2.9ZM883.55,292.58h2.9v-7.68h-2.9ZM883.55,301.56h2.9v-1.3h-2.9ZM883.55,310.54h2.9v-7.68h-2.9ZM883.55,319.52h2.9v-3.84h-2.9ZM883.55,328.5h2.9v-1.3h-2.9ZM883.55,337.48h2.9v-1.3h-2.9ZM883.55,346.46h2.9v-1.3h-2.9ZM883.55,355.44h2.9v-7.68h-2.9ZM883.55,364.42h2.9v-1.3h-2.9ZM911.45,220.74h2.9v-1.3h-2.9ZM911.45,229.72h2.9v-1.3h-2.9ZM911.45,238.7h2.9v-1.3h-2.9ZM911.45,247.68h2.9v-1.3h-2.9ZM911.45,256.66h2.9v-1.3h-2.9ZM911.45,265.64h2.9v-7.68h-2.9ZM911.45,274.62h2.9v-1.3h-2.9ZM911.45,283.6h2.9v-7.68h-2.9ZM911.45,292.58h2.9v-7.68h-2.9ZM911.45,301.56h2.9v-1.3h-2.9ZM911.45,310.54h2.9v-1.3h-2.9ZM911.45,319.52h2.9v-7.68h-2.9ZM911.45,328.5h2.9v-1.3h-2.9ZM911.45,337.48h2.9v-1.3h-2.9ZM911.45,346.46h2.9v-1.3h-2.9ZM911.45,355.44h2.9v-7.68h-2.9ZM911.45,364.42h2.9v-1.3h-2.9ZM930.75,220.74h2.9v-1.3h-2.9ZM930.75,229.72h2.9v-1.3h-2.9ZM930.75,238.7h2.9v-1.3h-2.9ZM930.75,247.68h2.9v-1.3h-2.9ZM930.75,256.66h2.9v-1.3h-2.9ZM930.75,265.64h2.9v-7.68h-2.9ZM930.75,274.62h2.9v-1.3h-2.9ZM930.75,283.6h2.9v-7.68h-2.9ZM930.75,292.58h2.9v-7.68h-2.9ZM930.75,301.56h2.9v-1.3h-2.9ZM930.75,310.54h2.9v-1.3h-2.9ZM930.75,319.52h2.9v-7.68h-2.9ZM930.75,328.5h2.9v-1.3h-2.9ZM930.75,337.48h2.9v-2.3h-2.9ZM930.75,346.46h2.9v-1.3h-2.9ZM930.75,355.44h2.9v-7.68h-2.9ZM930.75,364.42h2.9v-1.3h-2.9ZM951.35,220.74h2.9v-1.3h-2.9ZM951.35,229.72h2.9v-1.3h-2.9ZM951.35,238.7h2.9v-1.3h-2.9ZM951.35,247.68h2.9v-1.3h-2.9ZM951.35,256.66h2.9v-1.3h-2.9ZM951.35,265.64h2.9v-7.68h-2.9ZM951.35,274.62h2.9v-1.3h-2.9ZM951.35,283.6h2.9v-7.68h-2.9ZM951.35,292.58h2.9v-7.68h-2.9ZM951.35,301.56h2.9v-1.3h-2.9ZM951.35,310.54h2.9v-1.3h-2.9ZM951.35,319.52h2.9v-7.68h-2.9ZM951.35,328.5h2.9v-2.3h-2.9ZM951.35,337.48h2.9v-1.3h-2.9ZM951.35,346.46h2.9v-1.3h-2.9ZM951.35,355.44h2.9v-7.68h-2.9ZM951.35,364.42h2.9v-1.3h-2.9ZM961.75,220.74h2.9v-3.07h-2.9ZM961.75,229.72h2.9v-4.61h-2.9ZM961.75,238.7h2.9v-1.3h-2.9ZM961.75,247.68h2.9v-1.3h-2.9ZM961.75,256.66h2.9v-1.3h-2.9ZM961.75,265.64h2.9v-7.68h-2.9ZM961.75,274.62h2.9v-1.3h-2.9ZM961.75,283.6h2.9v-7.68h-2.9ZM961.75,292.58h2.9v-7.68h-2.9ZM961.75,301.56h2.9v-1.3h-2.9ZM961.75,310.54h2.9v-1.3h-2.9ZM961.75,319.52h2.9v-7.68h-2.9ZM961.75,328.5h2.9v-2.3h-2.9ZM961.75,337.48h2.9v-4.61h-2.9ZM961.75,346.46h2.9v-1.3h-2.9ZM961.75,355.44h2.9v-7.68h-2.9ZM961.75,364.42h2.9v-1.3h-2.9ZM972.65,220.74h2.9v-2.3h-2.9ZM972.65,229.72h2.9v-4.61h-2.9ZM972.65,238.7h2.9v-7.68h-2.9ZM972.65,247.68h2.9v-1.54h-2.9ZM972.65,256.66h2.9v-1.54h-2.9ZM972.65,265.64h2.9v-7.68h-2.9ZM972.65,274.62h2.9v-3.07h-2.9ZM972.65,283.6h2.9v-7.68h-2.9ZM972.65,292.58h2.9v-7.68h-2.9ZM972.65,301.56h2.9v-7.68h-2.9ZM972.65,319.52h2.9v-7.68h-2.9ZM972.65,328.5h2.9v-1.3h-2.9ZM972.65,337.48h2.9v-4.61h-2.9ZM972.65,346.46h2.9v-7.68h-2.9ZM972.65,355.44h2.9v-7.68h-2.9ZM972.65,364.42h2.9v-7.68h-2.9ZM976.25,220.74h2.9v-2.3h-2.9ZM976.25,229.72h2.9v-4.61h-2.9ZM976.25,238.7h2.9v-7.68h-2.9ZM976.25,247.68h2.9v-3.07h-2.9ZM976.25,256.66h2.9v-4.61h-2.9ZM976.25,265.64h2.9v-7.68h-2.9ZM976.25,274.62h2.9v-3.07h-2.9ZM976.25,283.6h2.9v-7.68h-2.9ZM976.25,292.58h2.9v-7.68h-2.9ZM976.25,301.56h2.9v-1.3h-2.9ZM976.25,319.52h2.9v-7.68h-2.9ZM976.25,328.5h2.9v-2.3h-2.9ZM976.25,337.48h2.9v-4.61h-2.9ZM976.25,346.46h2.9v-7.68h-2.9ZM976.25,355.44h2.9v-7.68h-2.9ZM976.25,364.42h2.9v-7.68h-2.9ZM984.75,220.74h2.9v-3.84h-2.9ZM984.75,229.72h2.9v-7.68h-2.9ZM984.75,238.7h2.9v-1.3h-2.9ZM984.75,247.68h2.9v-1.3h-2.9ZM984.75,256.66h2.9v-6.14h-2.9ZM984.75,265.64h2.9v-7.68h-2.9ZM984.75,274.62h2.9v-7.68h-2.9ZM984.75,283.6h2.9v-7.68h-2.9ZM984.75,292.58h2.9v-7.68h-2.9ZM984.75,301.56h2.9v-4.61h-2.9ZM984.75,319.52h2.9v-7.68h-2.9ZM984.75,328.5h2.9v-1.3h-2.9ZM984.75,337.48h2.9v-4.61h-2.9ZM984.75,346.46h2.9v-7.68h-2.9ZM984.75,355.44h2.9v-7.68h-2.9ZM984.75,364.42h2.9v-7.68h-2.9ZM992.55,220.74h2.9v-7.68h-2.9ZM992.55,229.72h2.9v-4.61h-2.9ZM992.55,238.7h2.9v-6.14h-2.9ZM992.55,247.68h2.9v-7.68h-2.9ZM992.55,256.66h2.9v-7.68h-2.9ZM992.55,265.64h2.9v-7.68h-2.9ZM992.55,274.62h2.9v-7.68h-2.9ZM992.55,283.6h2.9v-7.68h-2.9ZM992.55,292.58h2.9v-7.68h-2.9ZM992.55,301.56h2.9v-7.68h-2.9ZM992.55,319.52h2.9v-7.68h-2.9ZM992.55,328.5h2.9v-7.68h-2.9ZM992.55,337.48h2.9v-4.61h-2.9ZM992.55,346.46h2.9v-7.68h-2.9ZM992.55,355.44h2.9v-7.68h-2.9ZM992.55,364.42h2.9v-7.68h-2.9ZM997.05,220.74h2.9v-7.68h-2.9ZM997.05,229.72h2.9v-4.61h-2.9ZM997.05,238.7h2.9v-7.68h-2.9ZM997.05,247.68h2.9v-7.68h-2.9ZM997.05,256.66h2.9v-7.68h-2.9ZM997.05,265.64h2.9v-7.68h-2.9ZM997.05,274.62h2.9v-7.68h-2.9ZM997.05,283.6h2.9v-7.68h-2.9ZM997.05,292.58h2.9v-7.68h-2.9ZM997.05,301.56h2.9v-7.68h-2.9ZM997.05,319.52h2.9v-7.68h-2.9ZM997.05,328.5h2.9v-7.68h-2.9ZM997.05,337.48h2.9v-7.68h-2.9ZM997.05,346.46h2.9v-7.68h-2.9ZM997.05,355.44h2.9v-7.68h-2.9ZM997.05,364.42h2.9v-7.68h-2.9ZM1001.05,220.74h2.9v-7.68h-2.9ZM1001.05,229.72h2.9v-7.68h-2.9ZM1001.05,238.7h2.9v-7.68h-2.9ZM1001.05,247.68h2.9v-7.68h-2.9ZM1001.05,256.66h2.9v-7.68h-2.9ZM1001.05,265.64h2.9v-7.68h-2.9ZM1001.05,274.62h2.9v-7.68h-2.9ZM1001.05,283.6h2.9v-7.68h-2.9ZM1001.05,292.58h2.9v-7.68h-2.9ZM1001.05,301.56h2.9v-7.68h-2.9ZM1001.05,319.52h2.9v-7.68h-2.9ZM1001.05,328.5h2.9v-7.68h-2.9ZM1001.05,337.48h2.9v-7.68h-2.9ZM1001.05,346.46h2.9v-7.68h-2.9ZM1001.05,355.44h2.9v-7.68h-2.9ZM1001.05,364.42h2.9v-7.68h-2.9ZM1006.05,220.74h2.9v-7.68h-2.9ZM1006.05,229.72h2.9v-7.68h-2.9ZM1006.05,238.7h2.9v-7.68h-2.9ZM1006.05,247.68h2.9v-7.68h-2.9ZM1006.05,256.66h2.9v-7.68h-2.9ZM1006.05,265.64h2.9v-7.68h-2.9ZM1006.05,274.62h2.9v-6.14h-2.9ZM1006.05,283.6h2.9v-7.68h-2.9ZM1006.05,292.58h2.9v-7.68h-2.9ZM1006.05,301.56h2.9v-7.68h-2.9ZM1006.05,319.52h2.9v-7.68h-2.9ZM1006.05,328.5h2.9v-7.68h-2.9ZM1006.05,337.48h2.9v-7.68h-2.9ZM1006.05,346.46h2.9v-7.68h-2.9ZM1006.05,355.44h2.9v-7.68h-2.9ZM1006.05,364.42h2.9v-4.61h-2.9ZM1021.65,346.46h2.9v-4.61h-2.9ZM1032.15,220.74h2.9v-7.68h-2.9ZM1032.15,229.72h2.9v-7.68h-2.9ZM1032.15,238.7h2.9v-7.68h-2.9ZM1032.15,247.68h2.9v-7.68h-2.9ZM1032.15,256.66h2.9v-7.68h-2.9ZM1032.15,265.64h2.9v-7.68h-2.9ZM1032.15,274.62h2.9v-7.68h-2.9ZM1032.15,283.6h2.9v-7.68h-2.9ZM1032.15,292.58h2.9v-7.68h-2.9ZM1032.15,301.56h2.9v-7.68h-2.9ZM1032.15,319.52h2.9v-7.68h-2.9ZM1032.15,328.5h2.9v-7.68h-2.9ZM1032.15,337.48h2.9v-7.68h-2.9ZM1032.15,346.46h2.9v-7.68h-2.9ZM1032.15,355.44h2.9v-7.68h-2.9ZM1032.15,364.42h2.9v-7.68h-2.9ZM1035.15,220.74h2.9v-7.68h-2.9ZM1035.15,229.72h2.9v-7.68h-2.9ZM1035.15,238.7h2.9v-7.68h-2.9ZM1035.15,247.68h2.9v-7.68h-2.9ZM1035.15,256.66h2.9v-7.68h-2.9ZM1035.15,265.64h2.9v-7.68h-2.9ZM1035.15,274.62h2.9v-7.68h-2.9ZM1035.15,283.6h2.9v-7.68h-2.9ZM1035.15,292.58h2.9v-7.68h-2.9ZM1035.15,301.56h2.9v-7.68h-2.9ZM1035.15,319.52h2.9v-7.68h-2.9ZM1035.15,328.5h2.9v-7.68h-2.9ZM1035.15,337.48h2.9v-7.68h-2.9ZM1035.15,346.46h2.9v-7.68h-2.9ZM1035.15,355.44h2.9v-7.68h-2.9ZM1035.15,364.42h2.9v-7.68h-2.9ZM1042.05,220.74h2.9v-7.68h-2.9ZM1042.05,229.72h2.9v-7.68h-2.9ZM1042.05,238.7h2.9v-7.68h-2.9ZM1042.05,247.68h2.9v-7.68h-2.9ZM1042.05,256.66h2.9v-7.68h-2.9ZM1042.05,265.64h2.9v-7.68h-2.9ZM1042.05,274.62h2.9v-7.68h-2.9ZM1042.05,283.6h2.9v-7.68h-2.9ZM1042.05,292.58h2.9v-7.68h-2.9ZM1042.05,301.56h2.9v-3.84h-2.9ZM1042.05,319.52h2.9v-7.68h-2.9ZM1042.05,328.5h2.9v-7.68h-2.9ZM1042.05,337.48h2.9v-7.68h-2.9ZM1042.05,346.46h2.9v-4.61h-2.9ZM1042.05,355.44h2.9v-7.68h-2.9ZM1042.05,364.42h2.9v-7.68h-2.9ZM1067.05,220.74h2.9v-7.68h-2.9ZM1067.05,229.72h2.9v-7.68h-2.9ZM1067.05,238.7h2.9v-4.61h-2.9ZM1067.05,247.68h2.9v-7.68h-2.9ZM1067.05,256.66h2.9v-6.14h-2.9ZM1067.05,265.64h2.9v-7.68h-2.9ZM1067.05,274.62h2.9v-7.68h-2.9ZM1067.05,283.6h2.9v-7.68h-2.9ZM1067.05,292.58h2.9v-7.68h-2.9ZM1067.05,301.56h2.9v-3.07h-2.9ZM1067.05,310.54h2.9v-7.68h-2.9ZM1067.05,319.52h2.9v-6.14h-2.9ZM1067.05,328.5h2.9v-7.68h-2.9ZM1067.05,337.48h2.9v-7.68h-2.9ZM1067.05,346.46h2.9v-7.68h-2.9ZM1067.05,355.44h2.9v-7.68h-2.9ZM1073.15,220.74h2.9v-7.68h-2.9ZM1073.15,229.72h2.9v-4.61h-2.9ZM1073.15,238.7h2.9v-4.61h-2.9ZM1073.15,247.68h2.9v-7.68h-2.9ZM1073.15,256.66h2.9v-7.68h-2.9ZM1073.15,265.64h2.9v-6.14h-2.9ZM1073.15,274.62h2.9v-7.68h-2.9ZM1073.15,283.6h2.9v-7.68h-2.9ZM1073.15,292.58h2.9v-7.68h-2.9ZM1073.15,301.56h2.9v-7.68h-2.9ZM1073.15,310.54h2.9v-7.68h-2.9ZM1073.15,319.52h2.9v-7.68h-2.9ZM1073.15,328.5h2.9v-7.68h-2.9ZM1073.15,337.48h2.9v-7.68h-2.9ZM1073.15,346.46h2.9v-7.68h-2.9ZM1073.15,355.44h2.9v-7.68h-2.9ZM1103.95,220.74h2.9v-7.68h-2.9ZM1103.95,229.72h2.9v-7.68h-2.9ZM1103.95,247.68h2.9v-7.68h-2.9ZM1103.95,256.66h2.9v-7.68h-2.9ZM1103.95,265.64h2.9v-7.68h-2.9ZM1103.95,274.62h2.9v-7.68h-2.9ZM1103.95,283.6h2.9v-7.68h-2.9ZM1103.95,292.58h2.9v-7.68h-2.9ZM1103.95,310.54h2.9v-7.68h-2.9ZM1103.95,319.52h2.9v-7.68h-2.9ZM1103.95,328.5h2.9v-7.68h-2.9ZM1103.95,337.48h2.9v-7.68h-2.9ZM1103.95,346.46h2.9v-7.68h-2.9ZM1103.95,355.44h2.9v-7.68h-2.9ZM1103.95,364.42h2.9v-7.68h-2.9ZM1117.05,220.74h2.9v-7.68h-2.9ZM1117.05,229.72h2.9v-3.84h-2.9ZM1117.05,247.68h2.9v-7.68h-2.9ZM1117.05,256.66h2.9v-7.68h-2.9ZM1117.05,265.64h2.9v-4.61h-2.9ZM1117.05,274.62h2.9v-4.61h-2.9ZM1117.05,283.6h2.9v-7.68h-2.9ZM1117.05,292.58h2.9v-7.68h-2.9ZM1117.05,310.54h2.9v-7.68h-2.9ZM1117.05,319.52h2.9v-7.68h-2.9ZM1117.05,328.5h2.9v-7.68h-2.9ZM1117.05,337.48h2.9v-7.68h-2.9ZM1117.05,346.46h2.9v-7.68h-2.9ZM1117.05,355.44h2.9v-7.68h-2.9ZM1127.55,220.74h2.9v-7.68h-2.9ZM1127.55,229.72h2.9v-7.68h-2.9ZM1127.55,247.68h2.9v-7.68h-2.9ZM1127.55,256.66h2.9v-7.68h-2.9ZM1127.55,265.64h2.9v-7.68h-2.9ZM1127.55,274.62h2.9v-7.68h-2.9ZM1127.55,283.6h2.9v-7.68h-2.9ZM1127.55,292.58h2.9v-7.68h-2.9ZM1127.55,310.54h2.9v-7.68h-2.9ZM1127.55,319.52h2.9v-7.68h-2.9ZM1127.55,328.5h2.9v-7.68h-2.9ZM1127.55,337.48h2.9v-7.68h-2.9ZM1127.55,346.46h2.9v-7.68h-2.9ZM1127.55,355.44h2.9v-7.68h-2.9ZM1131.15,220.74h2.9v-7.68h-2.9ZM1131.15,229.72h2.9v-7.68h-2.9ZM1131.15,247.68h2.9v-7.68h-2.9ZM1131.15,256.66h2.9v-7.68h-2.9ZM1131.15,265.64h2.9v-7.68h-2.9ZM1131.15,274.62h2.9v-7.68h-2.9ZM1131.15,283.6h2.9v-7.68h-2.9ZM1131.15,292.58h2.9v-7.68h-2.9ZM1131.15,310.54h2.9v-7.68h-2.9ZM1131.15,319.52h2.9v-7.68h-2.9ZM1131.15,328.5h2.9v-7.68h-2.9ZM1131.15,337.48h2.9v-7.68h-2.9ZM1131.15,346.46h2.9v-7.68h-2.9ZM1131.15,355.44h2.9v-7.68h-2.9ZM1134.15,220.74h2.9v-7.68h-2.9ZM1134.15,229.72h2.9v-7.68h-2.9ZM1134.15,247.68h2.9v-7.68h-2.9ZM1134.15,256.66h2.9v-7.68h-2.9ZM1134.15,265.64h2.9v-7.68h-2.9ZM1134.15,274.62h2.9v-7.68h-2.9ZM1134.15,283.6h2.9v-7.68h-2.9ZM1134.15,292.58h2.9v-7.68h-2.9ZM1134.15,310.54h2.9v-7.68h-2.9ZM1134.15,319.52h2.9v-7.68h-2.9ZM1134.15,328.5h2.9v-7.68h-2.9ZM1134.15,337.48h2.9v-7.68h-2.9ZM1134.15,346.46h2.9v-7.68h-2.9ZM1134.15,355.44h2.9v-7.68h-2.9ZM1139.15,220.74h2.9v-7.68h-2.9ZM1139.15,229.72h2.9v-7.68h-2.9ZM1139.15,247.68h2.9v-6.14h-2.9ZM1139.15,256.66h2.9v-7.68h-2.9ZM1139.15,265.64h2.9v-7.68h-2.9ZM1139.15,274.62h2.9v-7.68h-2.9ZM1139.15,283.6h2.9v-7.68h-2.9ZM1139.15,292.58h2.9v-7.68h-2.9ZM1139.15,301.56h2.9v-7.68h-2.9ZM1139.15,310.54h2.9v-7.68h-2.9ZM1139.15,319.52h2.9v-7.68h-2.9ZM1139.15,328.5h2.9v-7.68h-2.9ZM1139.15,337.48h2.9v-7.68h-2.9ZM1139.15,346.46h2.9v-7.68h-2.9ZM1139.15,355.44h2.9v-7.68h-2.9ZM1139.15,364.42h2.9v-7.68h-2.9ZM1163.55,220.74h2.9v-7.68h-2.9ZM1163.55,229.72h2.9v-7.68h-2.9ZM1163.55,238.7h2.9v-7.68h-2.9ZM1163.55,247.68h2.9v-7.68h-2.9ZM1163.55,265.64h2.9v-4.61h-2.9ZM1163.55,274.62h2.9v-7.68h-2.9ZM1163.55,283.6h2.9v-7.68h-2.9ZM1163.55,292.58h2.9v-7.68h-2.9ZM1163.55,310.54h2.9v-7.68h-2.9ZM1163.55,319.52h2.9v-4.61h-2.9ZM1163.55,337.48h2.9v-7.68h-2.9ZM1163.55,346.46h2.9v-7.68h-2.9ZM1163.55,355.44h2.9v-7.68h-2.9ZM1163.55,364.42h2.9v-4.61h-2.9ZM1166.15,220.74h2.9v-7.68h-2.9ZM1166.15,229.72h2.9v-7.68h-2.9ZM1166.15,238.7h2.9v-7.68h-2.9ZM1166.15,247.68h2.9v-7.68h-2.9ZM1166.15,265.64h2.9v-4.61h-2.9ZM1166.15,274.62h2.9v-7.68h-2.9ZM1166.15,283.6h2.9v-7.68h-2.9ZM1166.15,292.58h2.9v-7.68h-2.9ZM1166.15,310.54h2.9v-7.68h-2.9ZM1166.15,319.52h2.9v-4.61h-2.9ZM1166.15,337.48h2.9v-7.68h-2.9ZM1166.15,346.46h2.9v-7.68h-2.9ZM1166.15,355.44h2.9v-7.68h-2.9ZM1166.15,364.42h2.9v-4.61h-2.9ZM1180.85,220.74h2.9v-7.68h-2.9ZM1180.85,229.72h2.9v-4.61h-2.9ZM1180.85,238.7h2.9v-3.84h-2.9ZM1180.85,247.68h2.9v-4.61h-2.9ZM1180.85,265.64h2.9v-4.61h-2.9ZM1180.85,274.62h2.9v-7.68h-2.9ZM1180.85,283.6h2.9v-4.61h-2.9ZM1180.85,292.58h2.9v-7.68h-2.9ZM1180.85,310.54h2.9v-4.61h-2.9ZM1180.85,319.52h2.9v-3.84h-2.9ZM1180.85,337.48h2.9v-7.68h-2.9ZM1180.85,346.46h2.9v-7.68h-2.9ZM1180.85,355.44h2.9v-7.68h-2.9ZM1180.85,364.42h2.9v-3.84h-2.9ZM1183.85,220.74h2.9v-7.68h-2.9ZM1183.85,229.72h2.9v-4.61h-2.9ZM1183.85,238.7h2.9v-3.84h-2.9ZM1183.85,247.68h2.9v-4.61h-2.9ZM1183.85,265.64h2.9v-4.61h-2.9ZM1183.85,274.62h2.9v-7.68h-2.9ZM1183.85,283.6h2.9v-4.61h-2.9ZM1183.85,292.58h2.9v-7.68h-2.9ZM1183.85,310.54h2.9v-4.61h-2.9ZM1183.85,319.52h2.9v-3.84h-2.9ZM1183.85,337.48h2.9v-7.68h-2.9ZM1183.85,346.46h2.9v-7.68h-2.9ZM1183.85,355.44h2.9v-7.68h-2.9ZM1183.85,364.42h2.9v-3.84h-2.9ZM1190.75,220.74h2.9v-7.68h-2.9ZM1190.75,229.72h2.9v-7.68h-2.9ZM1190.75,238.7h2.9v-7.68h-2.9ZM1190.75,247.68h2.9v-4.61h-2.9ZM1190.75,265.64h2.9v-7.68h-2.9ZM1190.75,274.62h2.9v-7.68h-2.9ZM1190.75,283.6h2.9v-7.68h-2.9ZM1190.75,292.58h2.9v-7.68h-2.9ZM1190.75,310.54h2.9v-7.68h-2.9ZM1190.75,319.52h2.9v-3.84h-2.9ZM1190.75,337.48h2.9v-5.38h-2.9ZM1190.75,346.46h2.9v-7.68h-2.9ZM1190.75,355.44h2.9v-7.68h-2.9ZM1190.75,364.42h2.9v-3.84h-2.9ZM1218.85,220.74h2.9v-7.68h-2.9ZM1218.85,238.7h2.9v-7.68h-2.9ZM1218.85,247.68h2.9v-7.68h-2.9ZM1218.85,265.64h2.9v-7.68h-2.9ZM1218.85,274.62h2.9v-7.68h-2.9ZM1218.85,283.6h2.9v-7.68h-2.9ZM1218.85,310.54h2.9v-7.68h-2.9ZM1218.85,337.48h2.9v-4.61h-2.9ZM1218.85,346.46h2.9v-4.61h-2.9ZM1218.85,355.44h2.9v-7.68h-2.9ZM1218.85,364.42h2.9v-7.68h-2.9ZM1222.05,220.74h2.9v-7.68h-2.9ZM1222.05,238.7h2.9v-7.68h-2.9ZM1222.05,247.68h2.9v-7.68h-2.9ZM1222.05,265.64h2.9v-7.68h-2.9ZM1222.05,274.62h2.9v-7.68h-2.9ZM1222.05,283.6h2.9v-7.68h-2.9ZM1222.05,310.54h2.9v-7.68h-2.9ZM1222.05,337.48h2.9v-4.61h-2.9ZM1222.05,346.46h2.9v-4.61h-2.9ZM1222.05,355.44h2.9v-7.68h-2.9ZM1222.05,364.42h2.9v-7.68h-2.9ZM1235.45,220.74h2.9v-4.61h-2.9ZM1235.45,247.68h2.9v-7.68h-2.9ZM1235.45,265.64h2.9v-4.61h-2.9ZM1235.45,274.62h2.9v-7.68h-2.9ZM1235.45,283.6h2.9v-7.68h-2.9ZM1235.45,310.54h2.9v-7.68h-2.9ZM1235.45,328.5h2.9v-7.68h-2.9ZM1235.45,337.48h2.9v-4.61h-2.9ZM1235.45,355.44h2.9v-7.68h-2.9ZM1235.45,364.42h2.9v-7.68h-2.9ZM1244.75,220.74h2.9v-7.68h-2.9ZM1244.75,247.68h2.9v-4.61h-2.9ZM1244.75,265.64h2.9v-7.68h-2.9ZM1244.75,274.62h2.9v-7.68h-2.9ZM1244.75,283.6h2.9v-3.84h-2.9ZM1244.75,301.56h2.9v-7.68h-2.9ZM1244.75,328.5h2.9v-7.68h-2.9ZM1244.75,337.48h2.9v-7.68h-2.9ZM1244.75,346.46h2.9v-7.68h-2.9ZM1244.75,355.44h2.9v-7.68h-2.9ZM1244.75,364.42h2.9v-7.68h-2.9ZM1248.55,220.74h2.9v-7.68h-2.9ZM1248.55,247.68h2.9v-4.61h-2.9ZM1248.55,265.64h2.9v-7.68h-2.9ZM1248.55,274.62h2.9v-7.68h-2.9ZM1248.55,283.6h2.9v-3.84h-2.9ZM1248.55,301.56h2.9v-7.68h-2.9ZM1248.55,328.5h2.9v-7.68h-2.9ZM1248.55,337.48h2.9v-7.68h-2.9ZM1248.55,346.46h2.9v-7.68h-2.9ZM1248.55,355.44h2.9v-7.68h-2.9ZM1248.55,364.42h2.9v-7.68h-2.9ZM1252.55,220.74h2.9v-7.68h-2.9ZM1252.55,247.68h2.9v-4.61h-2.9ZM1252.55,265.64h2.9v-7.68h-2.9ZM1252.55,274.62h2.9v-7.68h-2.9ZM1252.55,283.6h2.9v-3.84h-2.9ZM1252.55,301.56h2.9v-7.68h-2.9ZM1252.55,328.5h2.9v-7.68h-2.9ZM1252.55,337.48h2.9v-7.68h-2.9ZM1252.55,346.46h2.9v-7.68h-2.9ZM1252.55,355.44h2.9v-7.68h-2.9ZM1252.55,364.42h2.9v-7.68h-2.9ZM1305.55,346.46h2.9v-4.61h-2.9ZM1310.15,220.74h2.9v-7.68h-2.9ZM1310.15,247.68h2.9v-7.68h-2.9ZM1310.15,265.64h2.9v-7.68h-2.9ZM1310.15,274.62h2.9v-7.68h-2.9ZM1310.15,283.6h2.9v-7.68h-2.9ZM1310.15,301.56h2.9v-7.68h-2.9ZM1310.15,319.52h2.9v-7.68h-2.9ZM1310.15,328.5h2.9v-7.68h-2.9ZM1310.15,337.48h2.9v-4.61h-2.9ZM1310.15,346.46h2.9v-7.68h-2.9ZM1310.15,355.44h2.9v-7.68h-2.9ZM1310.15,364.42h2.9v-7.68h-2.9ZM1328.75,220.74h2.9v-4.61h-2.9ZM1328.75,247.68h2.9v-7.68h-2.9ZM1328.75,256.66h2.9v-7.68h-2.9ZM1328.75,265.64h2.9v-7.68h-2.9ZM1328.75,274.62h2.9v-7.68h-2.9ZM1328.75,283.6h2.9v-7.68h-2.9ZM1328.75,292.58h2.9v-7.68h-2.9ZM1328.75,301.56h2.9v-7.68h-2.9ZM1328.75,319.52h2.9v-7.68h-2.9ZM1328.75,328.5h2.9v-7.68h-2.9ZM1328.75,337.48h2.9v-7.68h-2.9ZM1328.75,346.46h2.9v-7.68h-2.9ZM1328.75,355.44h2.9v-4.61h-2.9ZM1328.75,364.42h2.9v-7.68h-2.9ZM1428.15,220.74h2.9v-7.68h-2.9ZM1428.15,238.7h2.9v-3.07h-2.9ZM1428.15,247.68h2.9v-4.61h-2.9ZM1428.15,256.66h2.9v-7.68h-2.9ZM1428.15,265.64h2.9v-7.68h-2.9ZM1428.15,274.62h2.9v-7.68h-2.9ZM1428.15,301.56h2.9v-4.61h-2.9ZM1428.15,319.52h2.9v-5.38h-2.9ZM1428.15,328.5h2.9v-7.68h-2.9ZM1428.15,355.44h2.9v-7.68h-2.9ZM1439.05,220.74h2.9v-7.68h-2.9ZM1439.05,238.7h2.9v-7.68h-2.9ZM1439.05,247.68h2.9v-7.68h-2.9ZM1439.05,256.66h2.9v-7.68h-2.9ZM1439.05,265.64h2.9v-7.68h-2.9ZM1439.05,274.62h2.9v-7.68h-2.9ZM1439.05,301.56h2.9v-7.68h-2.9ZM1439.05,319.52h2.9v-7.68h-2.9ZM1439.05,328.5h2.9v-7.68h-2.9ZM1439.05,364.42h2.9v-7.68h-2.9ZM1442.55,220.74h2.9v-7.68h-2.9ZM1442.55,238.7h2.9v-7.68h-2.9ZM1442.55,247.68h2.9v-7.68h-2.9ZM1442.55,256.66h2.9v-7.68h-2.9ZM1442.55,265.64h2.9v-7.68h-2.9ZM1442.55,274.62h2.9v-7.68h-2.9ZM1442.55,301.56h2.9v-7.68h-2.9ZM1442.55,319.52h2.9v-7.68h-2.9ZM1442.55,328.5h2.9v-7.68h-2.9ZM1442.55,364.42h2.9v-7.68h-2.9ZM1462.75,220.74h2.9v-7.68h-2.9ZM1462.75,238.7h2.9v-7.68h-2.9ZM1462.75,247.68h2.9v-7.68h-2.9ZM1462.75,256.66h2.9v-7.68h-2.9ZM1462.75,265.64h2.9v-7.68h-2.9ZM1462.75,274.62h2.9v-7.68h-2.9ZM1462.75,301.56h2.9v-7.68h-2.9ZM1462.75,319.52h2.9v-7.68h-2.9ZM1462.75,328.5h2.9v-7.68h-2.9Z" fill="#42A279"/>
<path d="M126.35,373.4h2.9v-7.68h-2.9ZM126.35,382.38h2.9v-7.68h-2.9ZM126.35,391.36h2.9v-7.68h-2.9ZM126.35,400.34h2.9v-7.68h-2.9ZM126.35,409.32h2.9v-7.68h-2.9ZM126.35,418.3h2.9v-7.68h-2.9ZM126.35,427.28h2.9v-7.68h-2.9ZM126.35,436.26h2.9v-6.14h-2.9ZM126.35,445.24h2.9v-6.14h-2.9ZM126.35,454.22h2.9v-7.68h-2.9ZM126.35,463.2h2.9v-7.68h-2.9ZM126.35,472.18h2.9v-7.68h-2.9ZM126.35,490.14h2.9v-7.68h-2.9ZM153.15,373.4h2.9v-7.68h-2.9ZM153.15,382.38h2.9v-7.68h-2.9ZM153.15,391.36h2.9v-7.68h-2.9ZM153.15,400.34h2.9v-7.68h-2.9ZM153.15,409.32h2.9v-7.68h-2.9ZM153.15,418.3h2.9v-7.68h-2.9ZM153.15,427.28h2.9v-7.68h-2.9ZM153.15,436.26h2.9v-7.68h-2.9ZM153.15,445.24h2.9v-7.68h-2.9ZM153.15,454.22h2.9v-7.68h-2.9ZM153.15,463.2h2.9v-7.68h-2.9ZM153.15,472.18h2.9v-6.14h-2.9ZM153.15,481.16h2.9v-7.68h-2.9ZM153.15,490.14h2.9v-7.68h-2.9ZM157.95,373.4h2.9v-7.68h-2.9ZM157.95,382.38h2.9v-7.68h-2.9ZM157.95,391.36h2.9v-7.68h-2.9ZM157.95,400.34h2.9v-4.61h-2.9ZM157.95,409.32h2.9v-6.14h-2.9ZM157.95,418.3h2.9v-6.14h-2.9ZM157.95,427.28h2.9v-7.68h-2.9ZM157.95,436.26h2.9v-7.68h-2.9ZM157.95,445.24h2.9v-7.68h-2.9ZM157.95,454.22h2.9v-7.68h-2.9ZM157.95,463.2h2.9v-7.68h-2.9ZM157.95,472.18h2.9v-7.68h-2.9ZM157.95,481.16h2.9v-7.68h-2.9ZM157.95,490.14h2.9v-7.68h-2.9ZM160.55,373.4h2.9v-7.68h-2.9ZM160.55,382.38h2.9v-7.68h-2.9ZM160.55,391.36h2.9v-7.68h-2.9ZM160.55,400.34h2.9v-7.68h-2.9ZM160.55,409.32h2.9v-7.68h-2.9ZM160.55,418.3h2.9v-6.14h-2.9ZM160.55,427.28h2.9v-7.68h-2.9ZM160.55,436.26h2.9v-7.68h-2.9ZM160.55,445.24h2.9v-7.68h-2.9ZM160.55,454.22h2.9v-7.68h-2.9ZM160.55,463.2h2.9v-7.68h-2.9ZM160.55,472.18h2.9v-4.61h-2.9ZM160.55,481.16h2.9v-7.68h-2.9ZM160.55,490.14h2.9v-7.68h-2.9ZM169.95,373.4h2.9v-7.68h-2.9ZM169.95,382.38h2.9v-6.14h-2.9ZM169.95,391.36h2.9v-7.68h-2.9ZM169.95,400.34h2.9v-3.84h-2.9ZM169.95,409.32h2.9v-7.68h-2.9ZM169.95,418.3h2.9v-7.68h-2.9ZM169.95,427.28h2.9v-7.68h-2.9ZM169.95,436.26h2.9v-7.68h-2.9ZM169.95,445.24h2.9v-7.68h-2.9ZM169.95,454.22h2.9v-7.68h-2.9ZM169.95,463.2h2.9v-7.68h-2.9ZM169.95,472.18h2.9v-7.68h-2.9ZM169.95,481.16h2.9v-7.68h-2.9ZM169.95,490.14h2.9v-7.68h-2.9ZM182.05,373.4h2.9v-7.68h-2.9ZM182.05,382.38h2.9v-7.68h-2.9ZM182.05,391.36h2.9v-6.14h-2.9ZM182.05,400.34h2.9v-7.68h-2.9ZM182.05,409.32h2.9v-7.68h-2.9ZM182.05,418.3h2.9v-7.68h-2.9ZM182.05,427.28h2.9v-7.68h-2.9ZM182.05,436.26h2.9v-7.68h-2.9ZM182.05,445.24h2.9v-7.68h-2.9ZM182.05,454.22h2.9v-7.68h-2.9ZM182.05,463.2h2.9v-7.68h-2.9ZM182.05,472.18h2.9v-7.68h-2.9ZM182.05,481.16h2.9v-4.61h-2.9ZM182.05,490.14h2.9v-7.68h-2.9ZM211.65,373.4h2.9v-7.68h-2.9ZM211.65,382.38h2.9v-7.68h-2.9ZM211.65,391.36h2.9v-4.61h-2.9ZM211.65,400.34h2.9v-7.68h-2.9ZM211.65,409.32h2.9v-5.38h-2.9ZM211.65,418.3h2.9v-7.68h-2.9ZM211.65,427.28h2.9v-7.68h-2.9ZM211.65,436.26h2.9v-7.68h-2.9ZM211.65,445.24h2.9v-7.68h-2.9ZM211.65,454.22h2.9v-7.68h-2.9ZM211.65,463.2h2.9v-5.38h-2.9ZM211.65,472.18h2.9v-7.68h-2.9ZM211.65,481.16h2.9v-7.68h-2.9ZM211.65,490.14h2.9v-7.68h-2.9ZM215.95,373.4h2.9v-7.68h-2.9ZM215.95,382.38h2.9v-4.61h-2.9ZM215.95,391.36h2.9v-2.3h-2.9ZM215.95,400.34h2.9v-7.68h-2.9ZM215.95,409.32h2.9v-4.61h-2.9ZM215.95,418.3h2.9v-6.14h-2.9ZM215.95,427.28h2.9v-6.14h-2.9ZM215.95,436.26h2.9v-7.68h-2.9ZM215.95,445.24h2.9v-7.68h-2.9ZM215.95,454.22h2.9v-7.68h-2.9ZM215.95,463.2h2.9v-5.38h-2.9ZM215.95,472.18h2.9v-7.68h-2.9ZM215.95,481.16h2.9v-7.68h-2.9ZM215.95,490.14h2.9v-7.68h-2.9ZM219.45,373.4h2.9v-7.68h-2.9ZM219.45,382.38h2.9v-7.68h-2.9ZM219.45,391.36h2.9v-4.61h-2.9ZM219.45,400.34h2.9v-7.68h-2.9ZM219.45,409.32h2.9v-4.61h-2.9ZM219.45,418.3h2.9v-7.68h-2.9ZM219.45,427.28h2.9v-7.68h-2.9ZM219.45,436.26h2.9v-7.68h-2.9ZM219.45,445.24h2.9v-7.68h-2.9ZM219.45,454.22h2.9v-7.68h-2.9ZM219.45,463.2h2.9v-7.68h-2.9ZM219.45,472.18h2.9v-7.68h-2.9ZM219.45,481.16h2.9v-7.68h-2.9ZM219.45,490.14h2.9v-7.68h-2.9ZM222.45,373.4h2.9v-7.68h-2.9ZM222.45,382.38h2.9v-7.68h-2.9ZM222.45,391.36h2.9v-4.61h-2.9ZM222.45,400.34h2.9v-7.68h-2.9ZM222.45,409.32h2.9v-5.38h-2.9ZM222.45,418.3h2.9v-7.68h-2.9ZM222.45,427.28h2.9v-7.68h-2.9ZM222.45,436.26h2.9v-7.68h-2.9ZM222.45,445.24h2.9v-7.68h-2.9ZM222.45,454.22h2.9v-7.68h-2.9ZM222.45,463.2h2.9v-7.68h-2.9ZM222.45,472.18h2.9v-7.68h-2.9ZM222.45,481.16h2.9v-7.68h-2.9ZM222.45,490.14h2.9v-7.68h-2.9ZM248.55,373.4h2.9v-7.68h-2.9ZM248.55,382.38h2.9v-6.14h-2.9ZM248.55,400.34h2.9v-4.61h-2.9ZM248.55,418.3h2.9v-7.68h-2.9ZM248.55,427.28h2.9v-7.68h-2.9ZM248.55,436.26h2.9v-7.68h-2.9ZM248.55,445.24h2.9v-5.38h-2.9ZM248.55,454.22h2.9v-7.68h-2.9ZM248.55,463.2h2.9v-7.68h-2.9ZM248.55,481.16h2.9v-7.68h-2.9ZM248.55,490.14h2.9v-3.84h-2.9ZM271.55,373.4h2.9v-7.68h-2.9ZM271.55,382.38h2.9v-7.68h-2.9ZM271.55,400.34h2.9v-7.68h-2.9ZM271.55,418.3h2.9v-7.68h-2.9ZM271.55,427.28h2.9v-7.68h-2.9ZM271.55,436.26h2.9v-7.68h-2.9ZM271.55,445.24h2.9v-7.68h-2.9ZM271.55,454.22h2.9v-7.68h-2.9ZM271.55,463.2h2.9v-4.61h-2.9ZM271.55,490.14h2.9v-7.68h-2.9ZM315.55,373.4h2.7v-1.3h-2.7ZM315.55,382.38h2.7v-1.3h-2.7ZM315.55,391.36h2.7v-4.61h-2.7ZM315.55,400.34h2.7v-1.3h-2.7ZM315.55,409.32h2.7v-1.3h-2.7ZM315.55,418.3h2.7v-2.3h-2.7ZM315.55,427.28h2.7v-1.3h-2.7ZM315.55,436.26h2.7v-1.3h-2.7ZM315.55,445.24h2.7v-1.3h-2.7ZM315.55,454.22h2.7v-1.3h-2.7ZM315.55,463.2h2.7v-1.3h-2.7ZM315.55,472.18h2.7v-1.3h-2.7ZM315.55,481.16h2.7v-1.3h-2.7ZM315.55,490.14h2.7v-1.3h-2.7ZM335.6,373.4h2v-1.3h-2ZM335.6,382.38h2v-1.3h-2ZM335.6,391.36h2v-1.3h-2ZM335.6,400.34h2v-1.3h-2ZM335.6,409.32h2v-1.3h-2ZM335.6,418.3h2v-1.3h-2ZM335.6,427.28h2v-1.3h-2ZM335.6,436.26h2v-1.3h-2ZM335.6,445.24h2v-1.3h-2ZM335.6,454.22h2v-1.3h-2ZM335.6,463.2h2v-1.3h-2ZM335.6,472.18h2v-1.3h-2ZM335.6,481.16h2v-1.3h-2ZM335.6,490.14h2v-1.3h-2ZM351.6,373.4h2v-1.3h-2ZM351.6,382.38h2v-1.3h-2ZM351.6,391.36h2v-1.3h-2ZM351.6,400.34h2v-1.3h-2ZM351.6,409.32h2v-1.3h-2ZM351.6,418.3h2v-1.3h-2ZM351.6,427.28h2v-1.3h-2ZM351.6,436.26h2v-1.3h-2ZM351.6,445.24h2v-1.3h-2ZM351.6,454.22h2v-1.3h-2ZM351.6,463.2h2v-1.3h-2ZM351.6,472.18h2v-1.3h-2ZM351.6,481.16h2v-1.3h-2ZM351.6,490.14h2v-1.3h-2ZM357.6,373.4h2v-1.3h-2ZM357.6,382.38h2v-1.3h-2ZM357.6,391.36h2v-1.3h-2ZM357.6,400.34h2v-1.3h-2ZM357.6,409.32h2v-1.3h-2ZM357.6,418.3h2v-1.3h-2ZM357.6,427.28h2v-1.3h-2ZM357.6,436.26h2v-1.3h-2ZM357.6,445.24h2v-1.3h-2ZM357.6,454.22h2v-1.3h-2ZM357.6,463.2h2v-1.3h-2ZM357.6,472.18h2v-1.3h-2ZM357.6,481.16h2v-1.3h-2ZM357.6,490.14h2v-1.3h-2ZM368.3,373.4h2.4v-1.3h-2.4ZM368.3,382.38h2.4v-1.3h-2.4ZM368.3,391.36h2.4v-1.3h-2.4ZM368.3,400.34h2.4v-1.3h-2.4ZM368.3,409.32h2.4v-1.3h-2.4ZM368.3,418.3h2.4v-1.3h-2.4ZM368.3,427.28h2.4v-1.3h-2.4ZM368.3,436.26h2.4v-1.3h-2.4ZM368.3,445.24h2.4v-1.3h-2.4ZM368.3,454.22h2.4v-1.3h-2.4ZM368.3,463.2h2.4v-1.3h-2.4ZM368.3,472.18h2.4v-1.3h-2.4ZM368.3,481.16h2.4v-1.3h-2.4ZM368.3,490.14h2.4v-1.3h-2.4ZM370.5,373.4h2v-1.3h-2ZM370.5,382.38h2v-1.3h-2ZM370.5,391.36h2v-1.3h-2ZM370.5,400.34h2v-1.3h-2ZM370.5,409.32h2v-1.3h-2ZM370.5,418.3h2v-1.3h-2ZM370.5,427.28h2v-1.3h-2ZM370.5,436.26h2v-1.3h-2ZM370.5,445.24h2v-1.3h-2ZM370.5,454.22h2v-1.3h-2ZM370.5,463.2h2v-1.3h-2ZM370.5,472.18h2v-1.3h-2ZM370.5,481.16h2v-1.3h-2ZM370.5,490.14h2v-1.3h-2ZM374.6,373.4h2v-1.3h-2ZM374.6,382.38h2v-1.3h-2ZM374.6,391.36h2v-1.3h-2ZM374.6,400.34h2v-1.3h-2ZM374.6,409.32h2v-1.3h-2ZM374.6,418.3h2v-1.3h-2ZM374.6,427.28h2v-1.3h-2ZM374.6,436.26h2v-1.3h-2ZM374.6,445.24h2v-1.3h-2ZM374.6,454.22h2v-1.3h-2ZM374.6,463.2h2v-1.3h-2ZM374.6,472.18h2v-1.3h-2ZM374.6,481.16h2v-1.3h-2ZM374.6,490.14h2v-1.3h-2ZM410.9,373.4h2v-1.3h-2ZM410.9,382.38h2v-1.3h-2ZM410.9,391.36h2v-1.3h-2ZM410.9,400.34h2v-1.3h-2ZM410.9,409.32h2v-1.3h-2ZM410.9,418.3h2v-1.3h-2ZM410.9,427.28h2v-1.3h-2ZM410.9,436.26h2v-1.3h-2ZM410.9,445.24h2v-1.3h-2ZM410.9,454.22h2v-1.3h-2ZM410.9,463.2h2v-1.3h-2ZM410.9,472.18h2v-1.3h-2ZM410.9,481.16h2v-1.3h-2ZM410.9,490.14h2v-1.3h-2ZM435.7,373.4h2v-1.3h-2ZM435.7,382.38h2v-1.3h-2ZM435.7,400.34h2v-1.3h-2ZM435.7,409.32h2v-1.3h-2ZM435.7,418.3h2v-1.3h-2ZM435.7,427.28h2v-1.3h-2ZM435.7,436.26h2v-1.3h-2ZM435.7,445.24h2v-1.3h-2ZM435.7,454.22h2v-1.3h-2ZM435.7,463.2h2v-1.3h-2ZM435.7,472.18h2v-1.3h-2ZM435.7,481.16h2v-1.3h-2ZM447.6,373.4h2.4v-1.3h-2.4ZM447.6,382.38h2.4v-1.3h-2.4ZM447.6,391.36h2.4v-1.3h-2.4ZM447.6,400.34h2.4v-1.3h-2.4ZM447.6,409.32h2.4v-1.3h-2.4ZM447.6,418.3h2.4v-1.3h-2.4ZM447.6,427.28h2.4v-1.3h-2.4ZM447.6,436.26h2.4v-1.3h-2.4ZM447.6,445.24h2.4v-1.3h-2.4ZM447.6,454.22h2.4v-1.3h-2.4ZM447.6,463.2h2.4v-1.3h-2.4ZM447.6,472.18h2.4v-1.3h-2.4ZM447.6,481.16h2.4v-1.3h-2.4ZM447.6,490.14h2.4v-1.3h-2.4ZM540.5,373.4h2v-1.3h-2ZM540.5,382.38h2v-1.3h-2ZM540.5,391.36h2v-1.3h-2ZM540.5,400.34h2v-1.3h-2ZM540.5,409.32h2v-1.3h-2ZM540.5,418.3h2v-1.3h-2ZM540.5,427.28h2v-1.3h-2ZM540.5,436.26h2v-1.3h-2ZM540.5,445.24h2v-1.3h-2ZM540.5,454.22h2v-1.3h-2ZM540.5,463.2h2v-1.3h-2ZM540.5,472.18h2v-1.3h-2ZM540.5,481.16h2v-1.3h-2ZM540.5,490.14h2v-1.3h-2ZM555,373.4h2v-1.3h-2ZM555,382.38h2v-1.3h-2ZM555,391.36h2v-1.3h-2ZM555,400.34h2v-1.3h-2ZM555,409.32h2v-1.3h-2ZM555,418.3h2v-1.3h-2ZM555,427.28h2v-1.3h-2ZM555,436.26h2v-1.3h-2ZM555,445.24h2v-1.3h-2ZM555,454.22h2v-1.3h-2ZM555,463.2h2v-1.3h-2ZM555,472.18h2v-1.3h-2ZM555,481.16h2v-1.3h-2ZM555,490.14h2v-1.3h-2ZM571.4,373.4h2v-1.3h-2ZM571.4,382.38h2v-1.3h-2ZM571.4,391.36h2v-1.3h-2ZM571.4,400.34h2v-1.3h-2ZM571.4,409.32h2v-1.3h-2ZM571.4,418.3h2v-1.3h-2ZM571.4,427.28h2v-1.3h-2ZM571.4,436.26h2v-1.3h-2ZM571.4,445.24h2v-1.3h-2ZM571.4,454.22h2v-1.3h-2ZM571.4,463.2h2v-1.3h-2ZM571.4,472.18h2v-1.3h-2ZM571.4,481.16h2v-1.3h-2ZM571.4,490.14h2v-1.3h-2ZM596.4,373.4h2.4v-1.3h-2.4ZM596.4,382.38h2.4v-1.3h-2.4ZM596.4,391.36h2.4v-1.3h-2.4ZM596.4,400.34h2.4v-1.3h-2.4ZM596.4,409.32h2.4v-1.3h-2.4ZM596.4,418.3h2.4v-1.3h-2.4ZM596.4,427.28h2.4v-1.3h-2.4ZM596.4,436.26h2.4v-1.3h-2.4ZM596.4,445.24h2.4v-1.3h-2.4ZM596.4,454.22h2.4v-1.3h-2.4ZM596.4,463.2h2.4v-1.3h-2.4ZM596.4,472.18h2.4v-1.3h-2.4ZM596.4,481.16h2.4v-1.3h-2.4ZM596.4,490.14h2.4v-1.3h-2.4ZM648.05,373.4h2.7v-1.3h-2.7ZM648.05,382.38h2.7v-1.3h-2.7ZM648.05,391.36h2.7v-1.3h-2.7ZM648.05,400.34h2.7v-1.3h-2.7ZM648.05,409.32h2.7v-1.3h-2.7ZM648.05,418.3h2.7v-1.3h-2.7ZM648.05,427.28h2.7v-1.3h-2.7ZM648.05,436.26h2.7v-1.3h-2.7ZM648.05,445.24h2.7v-1.3h-2.7ZM648.05,454.22h2.7v-1.3h-2.7ZM648.05,463.2h2.7v-1.3h-2.7ZM648.05,472.18h2.7v-1.3h-2.7ZM648.05,481.16h2.7v-1.3h-2.7ZM648.05,490.14h2.7v-1.3h-2.7ZM653.65,373.4h2.7v-1.3h-2.7ZM653.65,382.38h2.7v-1.3h-2.7ZM653.65,391.36h2.7v-1.3h-2.7ZM653.65,400.34h2.7v-1.3h-2.7ZM653.65,409.32h2.7v-1.3h-2.7ZM653.65,418.3h2.7v-1.3h-2.7ZM653.65,427.28h2.7v-1.3h-2.7ZM653.65,436.26h2.7v-1.3h-2.7ZM653.65,445.24h2.7v-1.3h-2.7ZM653.65,454.22h2.7v-1.3h-2.7ZM653.65,463.2h2.7v-1.3h-2.7ZM653.65,472.18h2.7v-1.3h-2.7ZM653.65,481.16h2.7v-1.3h-2.7ZM653.65,490.14h2.7v-1.3h-2.7ZM672.75,373.4h2.9v-1.3h-2.9ZM672.75,382.38h2.9v-1.3h-2.9ZM672.75,391.36h2.9v-1.3h-2.9ZM672.75,400.34h2.9v-1.3h-2.9ZM672.75,409.32h2.9v-1.3h-2.9ZM672.75,418.3h2.9v-1.3h-2.9ZM672.75,427.28h2.9v-1.3h-2.9ZM672.75,436.26h2.9v-1.3h-2.9ZM672.75,445.24h2.9v-1.3h-2.9ZM672.75,454.22h2.9v-1.3h-2.9ZM672.75,463.2h2.9v-1.3h-2.9ZM672.75,472.18h2.9v-1.3h-2.9ZM672.75,481.16h2.9v-1.3h-2.9ZM672.75,490.14h2.9v-1.3h-2.9ZM693.55,373.4h2.9v-1.3h-2.9ZM693.55,382.38h2.9v-1.3h-2.9ZM693.55,391.36h2.9v-1.3h-2.9ZM693.55,400.34h2.9v-1.3h-2.9ZM693.55,409.32h2.9v-1.3h-2.9ZM693.55,418.3h2.9v-1.3h-2.9ZM693.55,427.28h2.9v-1.3h-2.9ZM693.55,436.26h2.9v-1.3h-2.9ZM693.55,445.24h2.9v-1.3h-2.9ZM693.55,454.22h2.9v-1.3h-2.9ZM693.55,463.2h2.9v-1.3h-2.9ZM693.55,472.18h2.9v-1.3h-2.9ZM693.55,481.16h2.9v-1.3h-2.9ZM693.55,490.14h2.9v-1.3h-2.9ZM702.15,373.4h2.9v-1.3h-2.9ZM702.15,382.38h2.9v-1.3h-2.9ZM702.15,391.36h2.9v-1.3h-2.9ZM702.15,400.34h2.9v-1.3h-2.9ZM702.15,409.32h2.9v-1.3h-2.9ZM702.15,418.3h2.9v-1.3h-2.9ZM702.15,427.28h2.9v-1.3h-2.9ZM702.15,436.26h2.9v-1.3h-2.9ZM702.15,445.24h2.9v-1.3h-2.9ZM702.15,454.22h2.9v-1.3h-2.9ZM702.15,463.2h2.9v-1.3h-2.9ZM702.15,472.18h2.9v-1.3h-2.9ZM702.15,481.16h2.9v-1.3h-2.9ZM702.15,490.14h2.9v-1.3h-2.9ZM706.95,373.4h2.9v-1.3h-2.9ZM706.95,382.38h2.9v-1.3h-2.9ZM706.95,391.36h2.9v-1.3h-2.9ZM706.95,400.34h2.9v-1.3h-2.9ZM706.95,409.32h2.9v-1.3h-2.9ZM706.95,418.3h2.9v-1.3h-2.9ZM706.95,427.28h2.9v-1.3h-2.9ZM706.95,436.26h2.9v-1.3h-2.9ZM706.95,445.24h2.9v-1.3h-2.9ZM706.95,454.22h2.9v-1.3h-2.9ZM706.95,463.2h2.9v-1.3h-2.9ZM706.95,472.18h2.9v-1.3h-2.9ZM706.95,481.16h2.9v-1.3h-2.9ZM706.95,490.14h2.9v-1.3h-2.9ZM704.55,373.4h2.9v-1.3h-2.9ZM704.55,382.38h2.9v-1.3h-2.9ZM704.55,391.36h2.9v-1.3h-2.9ZM704.55,400.34h2.9v-1.3h-2.9ZM704.55,409.32h2.9v-1.3h-2.9ZM704.55,418.3h2.9v-1.3h-2.9ZM704.55,427.28h2.9v-1.3h-2.9ZM704.55,436.26h2.9v-1.3h-2.9ZM704.55,445.24h2.9v-1.3h-2.9ZM704.55,454.22h2.9v-1.3h-2.9ZM704.55,463.2h2.9v-1.3h-2.9ZM704.55,472.18h2.9v-1.3h-2.9ZM704.55,481.16h2.9v-1.3h-2.9ZM704.55,490.14h2.9v-1.3h-2.9ZM731.75,373.4h2.9v-1.3h-2.9ZM731.75,382.38h2.9v-1.3h-2.9ZM731.75,391.36h2.9v-1.3h-2.9ZM731.75,400.34h2.9v-1.3h-2.9ZM731.75,409.32h2.9v-1.3h-2.9ZM731.75,418.3h2.9v-1.3h-2.9ZM731.75,427.28h2.9v-1.3h-2.9ZM731.75,436.26h2.9v-1.3h-2.9ZM731.75,445.24h2.9v-1.3h-2.9ZM731.75,454.22h2.9v-1.3h-2.9ZM731.75,463.2h2.9v-1.3h-2.9ZM731.75,472.18h2.9v-1.3h-2.9ZM731.75,481.16h2.9v-1.3h-2.9ZM731.75,490.14h2.9v-1.3h-2.9ZM748.35,373.4h2.9v-1.3h-2.9ZM748.35,382.38h2.9v-1.3h-2.9ZM748.35,391.36h2.9v-1.3h-2.9ZM748.35,400.34h2.9v-1.3h-2.9ZM748.35,409.32h2.9v-1.3h-2.9ZM748.35,418.3h2.9v-1.3h-2.9ZM748.35,427.28h2.9v-1.3h-2.9ZM748.35,436.26h2.9v-1.3h-2.9ZM748.35,445.24h2.9v-1.3h-2.9ZM748.35,454.22h2.9v-1.3h-2.9ZM748.35,463.2h2.9v-1.3h-2.9ZM748.35,472.18h2.9v-1.3h-2.9ZM748.35,481.16h2.9v-1.3h-2.9ZM748.35,490.14h2.9v-1.3h-2.9ZM768.05,373.4h2.9v-1.3h-2.9ZM768.05,382.38h2.9v-1.3h-2.9ZM768.05,391.36h2.9v-1.3h-2.9ZM768.05,400.34h2.9v-1.3h-2.9ZM768.05,409.32h2.9v-1.3h-2.9ZM768.05,418.3h2.9v-1.3h-2.9ZM768.05,427.28h2.9v-1.3h-2.9ZM768.05,436.26h2.9v-1.3h-2.9ZM768.05,445.24h2.9v-1.3h-2.9ZM768.05,454.22h2.9v-1.3h-2.9ZM768.05,463.2h2.9v-1.3h-2.9ZM768.05,472.18h2.9v-1.3h-2.9ZM768.05,481.16h2.9v-1.3h-2.9ZM768.05,490.14h2.9v-1.3h-2.9ZM772.05,373.4h2.9v-1.3h-2.9ZM772.05,382.38h2.9v-1.3h-2.9ZM772.05,391.36h2.9v-1.3h-2.9ZM772.05,400.34h2.9v-1.3h-2.9ZM772.05,409.32h2.9v-1.3h-2.9ZM772.05,418.3h2.9v-1.3h-2.9ZM772.05,427.28h2.9v-1.3h-2.9ZM772.05,436.26h2.9v-1.3h-2.9ZM772.05,445.24h2.9v-1.3h-2.9ZM772.05,454.22h2.9v-1.3h-2.9ZM772.05,463.2h2.9v-1.3h-2.9ZM772.05,472.18h2.9v-1.3h-2.9ZM772.05,481.16h2.9v-1.3h-2.9ZM772.05,490.14h2.9v-1.3h-2.9ZM793.75,373.4h2.9v-1.3h-2.9ZM793.75,382.38h2.9v-1.3h-2.9ZM793.75,391.36h2.9v-1.3h-2.9ZM793.75,400.34h2.9v-1.3h-2.9ZM793.75,409.32h2.9v-1.3h-2.9ZM793.75,418.3h2.9v-1.3h-2.9ZM793.75,427.28h2.9v-1.3h-2.9ZM793.75,436.26h2.9v-1.3h-2.9ZM793.75,445.24h2.9v-1.3h-2.9ZM793.75,454.22h2.9v-1.3h-2.9ZM793.75,463.2h2.9v-1.3h-2.9ZM793.75,472.18h2.9v-1.3h-2.9ZM793.75,481.16h2.9v-1.3h-2.9ZM793.75,490.14h2.9v-1.3h-2.9ZM812.75,373.4h2.9v-1.3h-2.9ZM812.75,382.38h2.9v-1.3h-2.9ZM812.75,391.36h2.9v-1.3h-2.9ZM812.75,400.34h2.9v-1.3h-2.9ZM812.75,409.32h2.9v-1.3h-2.9ZM812.75,418.3h2.9v-1.3h-2.9ZM812.75,427.28h2.9v-1.3h-2.9ZM812.75,436.26h2.9v-1.3h-2.9ZM812.75,445.24h2.9v-1.3h-2.9ZM812.75,454.22h2.9v-1.3h-2.9ZM812.75,463.2h2.9v-1.3h-2.9ZM812.75,472.18h2.9v-1.3h-2.9ZM812.75,481.16h2.9v-1.3h-2.9ZM812.75,490.14h2.9v-1.3h-2.9ZM821.45,373.4h2.9v-1.3h-2.9ZM821.45,382.38h2.9v-1.3h-2.9ZM821.45,391.36h2.9v-1.3h-2.9ZM821.45,400.34h2.9v-1.3h-2.9ZM821.45,409.32h2.9v-1.3h-2.9ZM821.45,418.3h2.9v-1.3h-2.9ZM821.45,427.28h2.9v-1.3h-2.9ZM821.45,436.26h2.9v-1.3h-2.9ZM821.45,445.24h2.9v-1.3h-2.9ZM821.45,454.22h2.9v-1.3h-2.9ZM821.45,463.2h2.9v-1.3h-2.9ZM821.45,472.18h2.9v-1.3h-2.9ZM821.45,481.16h2.9v-1.3h-2.9ZM821.45,490.14h2.9v-1.3h-2.9ZM836.95,373.4h2.9v-1.3h-2.9ZM836.95,382.38h2.9v-1.3h-2.9ZM836.95,391.36h2.9v-1.3h-2.9ZM836.95,400.34h2.9v-1.3h-2.9ZM836.95,409.32h2.9v-1.3h-2.9ZM836.95,418.3h2.9v-1.3h-2.9ZM836.95,427.28h2.9v-1.3h-2.9ZM836.95,436.26h2.9v-1.3h-2.9ZM836.95,445.24h2.9v-1.3h-2.9ZM836.95,454.22h2.9v-1.3h-2.9ZM836.95,463.2h2.9v-1.3h-2.9ZM836.95,472.18h2.9v-1.3h-2.9ZM836.95,481.16h2.9v-1.3h-2.9ZM836.95,490.14h2.9v-1.3h-2.9ZM858.15,373.4h2.9v-1.3h-2.9ZM858.15,382.38h2.9v-1.3h-2.9ZM858.15,391.36h2.9v-1.3h-2.9ZM858.15,400.34h2.9v-1.3h-2.9ZM858.15,409.32h2.9v-1.3h-2.9ZM858.15,418.3h2.9v-1.3h-2.9ZM858.15,427.28h2.9v-1.3h-2.9ZM858.15,436.26h2.9v-1.3h-2.9ZM858.15,445.24h2.9v-1.3h-2.9ZM858.15,454.22h2.9v-1.3h-2.9ZM858.15,463.2h2.9v-1.3h-2.9ZM858.15,472.18h2.9v-1.3h-2.9ZM858.15,481.16h2.9v-1.3h-2.9ZM858.15,490.14h2.9v-1.3h-2.9ZM860.4,373.4h2.4v-1.3h-2.4ZM860.4,382.38h2.4v-1.3h-2.4ZM860.4,391.36h2.4v-1.3h-2.4ZM860.4,400.34h2.4v-1.3h-2.4ZM860.4,409.32h2.4v-1.3h-2.4ZM860.4,418.3h2.4v-1.3h-2.4ZM860.4,427.28h2.4v-1.3h-2.4ZM860.4,436.26h2.4v-1.3h-2.4ZM860.4,445.24h2.4v-1.3h-2.4ZM860.4,454.22h2.4v-1.3h-2.4ZM860.4,463.2h2.4v-1.3h-2.4ZM860.4,472.18h2.4v-1.3h-2.4ZM860.4,481.16h2.4v-1.3h-2.4ZM860.4,490.14h2.4v-1.3h-2.4ZM871.55,373.4h2.9v-1.3h-2.9ZM871.55,382.38h2.9v-1.3h-2.9ZM871.55,391.36h2.9v-1.3h-2.9ZM871.55,400.34h2.9v-1.3h-2.9ZM871.55,409.32h2.9v-1.3h-2.9ZM871.55,418.3h2.9v-1.3h-2.9ZM871.55,427.28h2.9v-1.3h-2.9ZM871.55,436.26h2.9v-1.3h-2.9ZM871.55,445.24h2.9v-1.3h-2.9ZM871.55,454.22h2.9v-1.3h-2.9ZM871.55,463.2h2.9v-1.3h-2.9ZM871.55,472.18h2.9v-1.3h-2.9ZM871.55,481.16h2.9v-1.3h-2.9ZM871.55,490.14h2.9v-1.3h-2.9ZM883.55,373.4h2.9v-1.3h-2.9ZM883.55,382.38h2.9v-1.3h-2.9ZM883.55,391.36h2.9v-1.3h-2.9ZM883.55,400.34h2.9v-1.3h-2.9ZM883.55,409.32h2.9v-1.3h-2.9ZM883.55,418.3h2.9v-1.3h-2.9ZM883.55,427.28h2.9v-1.3h-2.9ZM883.55,436.26h2.9v-1.3h-2.9ZM883.55,445.24h2.9v-1.3h-2.9ZM883.55,454.22h2.9v-1.3h-2.9ZM883.55,463.2h2.9v-1.3h-2.9ZM883.55,472.18h2.9v-1.3h-2.9ZM883.55,481.16h2.9v-1.3h-2.9ZM883.55,490.14h2.9v-1.3h-2.9ZM911.45,373.4h2.9v-1.3h-2.9ZM911.45,382.38h2.9v-1.3h-2.9ZM911.45,391.36h2.9v-1.3h-2.9ZM911.45,400.34h2.9v-1.3h-2.9ZM911.45,409.32h2.9v-1.3h-2.9ZM911.45,418.3h2.9v-1.3h-2.9ZM911.45,427.28h2.9v-1.3h-2.9ZM911.45,436.26h2.9v-1.3h-2.9ZM911.45,445.24h2.9v-1.3h-2.9ZM911.45,454.22h2.9v-1.3h-2.9ZM911.45,463.2h2.9v-1.3h-2.9ZM911.45,472.18h2.9v-1.3h-2.9ZM911.45,481.16h2.9v-1.3h-2.9ZM911.45,490.14h2.9v-1.3h-2.9ZM930.75,373.4h2.9v-1.3h-2.9ZM930.75,382.38h2.9v-1.3h-2.9ZM930.75,391.36h2.9v-1.3h-2.9ZM930.75,400.34h2.9v-1.3h-2.9ZM930.75,409.32h2.9v-1.3h-2.9ZM930.75,418.3h2.9v-1.3h-2.9ZM930.75,427.28h2.9v-1.3h-2.9ZM930.75,436.26h2.9v-1.3h-2.9ZM930.75,445.24h2.9v-1.3h-2.9ZM930.75,454.22h2.9v-1.3h-2.9ZM930.75,463.2h2.9v-1.3h-2.9ZM930.75,472.18h2.9v-1.3h-2.9ZM930.75,481.16h2.9v-1.3h-2.9ZM930.75,490.14h2.9v-1.3h-2.9ZM951.35,373.4h2.9v-1.3h-2.9ZM951.35,382.38h2.9v-1.3h-2.9ZM951.35,391.36h2.9v-1.3h-2.9ZM951.35,400.34h2.9v-1.3h-2.9ZM951.35,409.32h2.9v-1.3h-2.9ZM951.35,418.3h2.9v-1.3h-2.9ZM951.35,427.28h2.9v-1.3h-2.9ZM951.35,436.26h2.9v-1.3h-2.9ZM951.35,445.24h2.9v-1.3h-2.9ZM951.35,454.22h2.9v-1.3h-2.9ZM951.35,463.2h2.9v-1.3h-2.9ZM951.35,472.18h2.9v-1.3h-2.9ZM951.35,481.16h2.9v-1.3h-2.9ZM951.35,490.14h2.9v-1.3h-2.9ZM961.75,373.4h2.9v-2.3h-2.9ZM961.75,382.38h2.9v-1.3h-2.9ZM961.75,391.36h2.9v-7.68h-2.9ZM961.75,400.34h2.9v-2.3h-2.9ZM961.75,409.32h2.9v-1.3h-2.9ZM961.75,418.3h2.9v-4.61h-2.9ZM961.75,427.28h2.9v-1.3h-2.9ZM961.75,436.26h2.9v-2.3h-2.9ZM961.75,445.24h2.9v-1.3h-2.9ZM961.75,454.22h2.9v-2.3h-2.9ZM961.75,463.2h2.9v-1.3h-2.9ZM961.75,472.18h2.9v-1.3h-2.9ZM961.75,481.16h2.9v-1.3h-2.9ZM961.75,490.14h2.9v-1.3h-2.9ZM972.65,373.4h2.9v-2.3h-2.9ZM972.65,382.38h2.9v-1.3h-2.9ZM972.65,391.36h2.9v-7.68h-2.9ZM972.65,400.34h2.9v-4.61h-2.9ZM972.65,409.32h2.9v-1.3h-2.9ZM972.65,418.3h2.9v-7.68h-2.9ZM972.65,427.28h2.9v-2.3h-2.9ZM972.65,436.26h2.9v-2.3h-2.9ZM972.65,445.24h2.9v-7.68h-2.9ZM972.65,454.22h2.9v-4.61h-2.9ZM972.65,463.2h2.9v-1.3h-2.9ZM972.65,472.18h2.9v-1.3h-2.9ZM972.65,481.16h2.9v-1.3h-2.9ZM972.65,490.14h2.9v-1.3h-2.9ZM976.25,373.4h2.9v-2.3h-2.9ZM976.25,382.38h2.9v-1.3h-2.9ZM976.25,391.36h2.9v-7.68h-2.9ZM976.25,400.34h2.9v-3.07h-2.9ZM976.25,409.32h2.9v-1.3h-2.9ZM976.25,418.3h2.9v-6.14h-2.9ZM976.25,427.28h2.9v-1.3h-2.9ZM976.25,436.26h2.9v-1.3h-2.9ZM976.25,445.24h2.9v-6.14h-2.9ZM976.25,454.22h2.9v-1.3h-2.9ZM976.25,463.2h2.9v-1.3h-2.9ZM976.25,472.18h2.9v-1.3h-2.9ZM976.25,481.16h2.9v-1.3h-2.9ZM976.25,490.14h2.9v-1.3h-2.9ZM984.75,373.4h2.9v-4.61h-2.9ZM984.75,382.38h2.9v-4.61h-2.9ZM984.75,391.36h2.9v-7.68h-2.9ZM984.75,400.34h2.9v-7.68h-2.9ZM984.75,409.32h2.9v-1.3h-2.9ZM984.75,418.3h2.9v-4.61h-2.9ZM984.75,427.28h2.9v-1.3h-2.9ZM984.75,436.26h2.9v-3.84h-2.9ZM984.75,445.24h2.9v-6.14h-2.9ZM984.75,454.22h2.9v-1.3h-2.9ZM984.75,463.2h2.9v-1.3h-2.9ZM984.75,472.18h2.9v-1.3h-2.9ZM984.75,481.16h2.9v-7.68h-2.9ZM984.75,490.14h2.9v-7.68h-2.9ZM992.55,373.4h2.9v-7.68h-2.9ZM992.55,382.38h2.9v-4.61h-2.9ZM992.55,391.36h2.9v-6.14h-2.9ZM992.55,400.34h2.9v-7.68h-2.9ZM992.55,409.32h2.9v-6.14h-2.9ZM992.55,418.3h2.9v-7.68h-2.9ZM992.55,427.28h2.9v-7.68h-2.9ZM992.55,436.26h2.9v-4.61h-2.9ZM992.55,445.24h2.9v-4.61h-2.9ZM992.55,463.2h2.9v-7.68h-2.9ZM992.55,472.18h2.9v-7.68h-2.9ZM992.55,481.16h2.9v-7.68h-2.9ZM992.55,490.14h2.9v-7.68h-2.9ZM997.05,373.4h2.9v-7.68h-2.9ZM997.05,382.38h2.9v-7.68h-2.9ZM997.05,391.36h2.9v-7.68h-2.9ZM997.05,400.34h2.9v-7.68h-2.9ZM997.05,409.32h2.9v-7.68h-2.9ZM997.05,418.3h2.9v-7.68h-2.9ZM997.05,427.28h2.9v-7.68h-2.9ZM997.05,436.26h2.9v-7.68h-2.9ZM997.05,445.24h2.9v-7.68h-2.9ZM997.05,463.2h2.9v-7.68h-2.9ZM997.05,472.18h2.9v-7.68h-2.9ZM997.05,481.16h2.9v-7.68h-2.9ZM997.05,490.14h2.9v-7.68h-2.9ZM1001.05,373.4h2.9v-7.68h-2.9ZM1001.05,382.38h2.9v-7.68h-2.9ZM1001.05,391.36h2.9v-7.68h-2.9ZM1001.05,400.34h2.9v-7.68h-2.9ZM1001.05,409.32h2.9v-7.68h-2.9ZM1001.05,418.3h2.9v-7.68h-2.9ZM1001.05,427.28h2.9v-7.68h-2.9ZM1001.05,436.26h2.9v-7.68h-2.9ZM1001.05,445.24h2.9v-7.68h-2.9ZM1001.05,454.22h2.9v-3.84h-2.9ZM1001.05,463.2h2.9v-7.68h-2.9ZM1001.05,472.18h2.9v-7.68h-2.9ZM1001.05,481.16h2.9v-7.68h-2.9ZM1001.05,490.14h2.9v-7.68h-2.9ZM1006.05,373.4h2.9v-7.68h-2.9ZM1006.05,382.38h2.9v-7.68h-2.9ZM1006.05,391.36h2.9v-7.68h-2.9ZM1006.05,400.34h2.9v-7.68h-2.9ZM1006.05,409.32h2.9v-7.68h-2.9ZM1006.05,418.3h2.9v-7.68h-2.9ZM1006.05,427.28h2.9v-7.68h-2.9ZM1006.05,436.26h2.9v-7.68h-2.9ZM1006.05,445.24h2.9v-7.68h-2.9ZM1006.05,454.22h2.9v-7.68h-2.9ZM1006.05,463.2h2.9v-7.68h-2.9ZM1006.05,472.18h2.9v-7.68h-2.9ZM1006.05,481.16h2.9v-7.68h-2.9ZM1006.05,490.14h2.9v-7.68h-2.9ZM1032.15,373.4h2.9v-7.68h-2.9ZM1032.15,382.38h2.9v-7.68h-2.9ZM1032.15,391.36h2.9v-7.68h-2.9ZM1032.15,400.34h2.9v-7.68h-2.9ZM1032.15,409.32h2.9v-7.68h-2.9ZM1032.15,418.3h2.9v-7.68h-2.9ZM1032.15,427.28h2.9v-7.68h-2.9ZM1032.15,436.26h2.9v-7.68h-2.9ZM1032.15,445.24h2.9v-7.68h-2.9ZM1032.15,454.22h2.9v-5.38h-2.9ZM1032.15,463.2h2.9v-7.68h-2.9ZM1032.15,472.18h2.9v-7.68h-2.9ZM1032.15,481.16h2.9v-7.68h-2.9ZM1032.15,490.14h2.9v-7.68h-2.9ZM1035.15,373.4h2.9v-7.68h-2.9ZM1035.15,382.38h2.9v-7.68h-2.9ZM1035.15,391.36h2.9v-7.68h-2.9ZM1035.15,400.34h2.9v-7.68h-2.9ZM1035.15,409.32h2.9v-7.68h-2.9ZM1035.15,418.3h2.9v-7.68h-2.9ZM1035.15,427.28h2.9v-7.68h-2.9ZM1035.15,436.26h2.9v-7.68h-2.9ZM1035.15,445.24h2.9v-7.68h-2.9ZM1035.15,454.22h2.9v-5.38h-2.9ZM1035.15,463.2h2.9v-7.68h-2.9ZM1035.15,472.18h2.9v-7.68h-2.9ZM1035.15,481.16h2.9v-7.68h-2.9ZM1035.15,490.14h2.9v-7.68h-2.9ZM1042.05,373.4h2.9v-7.68h-2.9ZM1042.05,382.38h2.9v-5.38h-2.9ZM1042.05,391.36h2.9v-6.14h-2.9ZM1042.05,400.34h2.9v-7.68h-2.9ZM1042.05,409.32h2.9v-5.38h-2.9ZM1042.05,418.3h2.9v-7.68h-2.9ZM1042.05,427.28h2.9v-7.68h-2.9ZM1042.05,436.26h2.9v-7.68h-2.9ZM1042.05,445.24h2.9v-7.68h-2.9ZM1042.05,454.22h2.9v-3.07h-2.9ZM1042.05,463.2h2.9v-7.68h-2.9ZM1042.05,472.18h2.9v-7.68h-2.9ZM1042.05,481.16h2.9v-7.68h-2.9ZM1042.05,490.14h2.9v-7.68h-2.9ZM1067.05,373.4h2.9v-7.68h-2.9ZM1067.05,382.38h2.9v-7.68h-2.9ZM1067.05,391.36h2.9v-7.68h-2.9ZM1067.05,400.34h2.9v-7.68h-2.9ZM1067.05,409.32h2.9v-7.68h-2.9ZM1067.05,418.3h2.9v-7.68h-2.9ZM1067.05,427.28h2.9v-7.68h-2.9ZM1067.05,436.26h2.9v-7.68h-2.9ZM1067.05,445.24h2.9v-7.68h-2.9ZM1067.05,454.22h2.9v-7.68h-2.9ZM1067.05,463.2h2.9v-7.68h-2.9ZM1067.05,472.18h2.9v-7.68h-2.9ZM1067.05,481.16h2.9v-7.68h-2.9ZM1067.05,490.14h2.9v-7.68h-2.9ZM1073.15,373.4h2.9v-7.68h-2.9ZM1073.15,382.38h2.9v-6.14h-2.9ZM1073.15,391.36h2.9v-7.68h-2.9ZM1073.15,400.34h2.9v-7.68h-2.9ZM1073.15,409.32h2.9v-7.68h-2.9ZM1073.15,418.3h2.9v-7.68h-2.9ZM1073.15,427.28h2.9v-7.68h-2.9ZM1073.15,436.26h2.9v-7.68h-2.9ZM1073.15,445.24h2.9v-7.68h-2.9ZM1073.15,454.22h2.9v-3.07h-2.9ZM1073.15,463.2h2.9v-5.38h-2.9ZM1073.15,472.18h2.9v-7.68h-2.9ZM1073.15,481.16h2.9v-7.68h-2.9ZM1073.15,490.14h2.9v-7.68h-2.9ZM1103.95,373.4h2.9v-7.68h-2.9ZM1103.95,382.38h2.9v-7.68h-2.9ZM1103.95,391.36h2.9v-7.68h-2.9ZM1103.95,400.34h2.9v-7.68h-2.9ZM1103.95,409.32h2.9v-7.68h-2.9ZM1103.95,418.3h2.9v-7.68h-2.9ZM1103.95,427.28h2.9v-7.68h-2.9ZM1103.95,436.26h2.9v-7.68h-2.9ZM1103.95,445.24h2.9v-7.68h-2.9ZM1103.95,454.22h2.9v-7.68h-2.9ZM1103.95,463.2h2.9v-7.68h-2.9ZM1103.95,472.18h2.9v-7.68h-2.9ZM1103.95,481.16h2.9v-7.68h-2.9ZM1103.95,490.14h2.9v-7.68h-2.9ZM1117.05,373.4h2.9v-7.68h-2.9ZM1117.05,382.38h2.9v-7.68h-2.9ZM1117.05,391.36h2.9v-5.38h-2.9ZM1117.05,400.34h2.9v-7.68h-2.9ZM1117.05,409.32h2.9v-7.68h-2.9ZM1117.05,418.3h2.9v-7.68h-2.9ZM1117.05,427.28h2.9v-7.68h-2.9ZM1117.05,436.26h2.9v-7.68h-2.9ZM1117.05,445.24h2.9v-7.68h-2.9ZM1117.05,454.22h2.9v-7.68h-2.9ZM1117.05,463.2h2.9v-7.68h-2.9ZM1117.05,472.18h2.9v-7.68h-2.9ZM1117.05,481.16h2.9v-7.68h-2.9ZM1117.05,490.14h2.9v-7.68h-2.9ZM1127.55,373.4h2.9v-7.68h-2.9ZM1127.55,382.38h2.9v-7.68h-2.9ZM1127.55,391.36h2.9v-7.68h-2.9ZM1127.55,400.34h2.9v-7.68h-2.9ZM1127.55,409.32h2.9v-7.68h-2.9ZM1127.55,418.3h2.9v-7.68h-2.9ZM1127.55,427.28h2.9v-7.68h-2.9ZM1127.55,436.26h2.9v-7.68h-2.9ZM1127.55,445.24h2.9v-7.68h-2.9ZM1127.55,454.22h2.9v-7.68h-2.9ZM1127.55,463.2h2.9v-7.68h-2.9ZM1127.55,472.18h2.9v-7.68h-2.9ZM1127.55,481.16h2.9v-7.68h-2.9ZM1127.55,490.14h2.9v-7.68h-2.9ZM1131.15,373.4h2.9v-7.68h-2.9ZM1131.15,382.38h2.9v-7.68h-2.9ZM1131.15,391.36h2.9v-7.68h-2.9ZM1131.15,400.34h2.9v-7.68h-2.9ZM1131.15,409.32h2.9v-7.68h-2.9ZM1131.15,418.3h2.9v-7.68h-2.9ZM1131.15,427.28h2.9v-7.68h-2.9ZM1131.15,436.26h2.9v-7.68h-2.9ZM1131.15,445.24h2.9v-7.68h-2.9ZM1131.15,454.22h2.9v-7.68h-2.9ZM1131.15,463.2h2.9v-7.68h-2.9ZM1131.15,472.18h2.9v-7.68h-2.9ZM1131.15,481.16h2.9v-7.68h-2.9ZM1131.15,490.14h2.9v-7.68h-2.9ZM1134.15,373.4h2.9v-7.68h-2.9ZM1134.15,382.38h2.9v-7.68h-2.9ZM1134.15,391.36h2.9v-7.68h-2.9ZM1134.15,400.34h2.9v-7.68h-2.9ZM1134.15,409.32h2.9v-7.68h-2.9ZM1134.15,418.3h2.9v-7.68h-2.9ZM1134.15,427.28h2.9v-7.68h-2.9ZM1134.15,436.26h2.9v-7.68h-2.9ZM1134.15,445.24h2.9v-7.68h-2.9ZM1134.15,454.22h2.9v-7.68h-2.9ZM1134.15,463.2h2.9v-7.68h-2.9ZM1134.15,472.18h2.9v-3.84h-2.9ZM1134.15,481.16h2.9v-7.68h-2.9ZM1134.15,490.14h2.9v-7.68h-2.9ZM1139.15,373.4h2.9v-6.14h-2.9ZM1139.15,382.38h2.9v-7.68h-2.9ZM1139.15,391.36h2.9v-7.68h-2.9ZM1139.15,400.34h2.9v-7.68h-2.9ZM1139.15,409.32h2.9v-7.68h-2.9ZM1139.15,418.3h2.9v-7.68h-2.9ZM1139.15,427.28h2.9v-7.68h-2.9ZM1139.15,436.26h2.9v-7.68h-2.9ZM1139.15,445.24h2.9v-7.68h-2.9ZM1139.15,454.22h2.9v-7.68h-2.9ZM1139.15,463.2h2.9v-7.68h-2.9ZM1139.15,472.18h2.9v-7.68h-2.9ZM1139.15,481.16h2.9v-7.68h-2.9ZM1139.15,490.14h2.9v-7.68h-2.9ZM1163.55,382.38h2.9v-7.68h-2.9ZM1163.55,391.36h2.9v-7.68h-2.9ZM1163.55,400.34h2.9v-7.68h-2.9ZM1163.55,409.32h2.9v-7.68h-2.9ZM1163.55,418.3h2.9v-7.68h-2.9ZM1163.55,427.28h2.9v-7.68h-2.9ZM1163.55,436.26h2.9v-7.68h-2.9ZM1163.55,445.24h2.9v-7.68h-2.9ZM1163.55,454.22h2.9v-7.68h-2.9ZM1163.55,463.2h2.9v-7.68h-2.9ZM1163.55,472.18h2.9v-7.68h-2.9ZM1163.55,481.16h2.9v-7.68h-2.9ZM1163.55,490.14h2.9v-7.68h-2.9ZM1166.15,382.38h2.9v-7.68h-2.9ZM1166.15,391.36h2.9v-7.68h-2.9ZM1166.15,400.34h2.9v-7.68h-2.9ZM1166.15,409.32h2.9v-7.68h-2.9ZM1166.15,418.3h2.9v-7.68h-2.9ZM1166.15,427.28h2.9v-7.68h-2.9ZM1166.15,436.26h2.9v-7.68h-2.9ZM1166.15,445.24h2.9v-7.68h-2.9ZM1166.15,454.22h2.9v-7.68h-2.9ZM1166.15,463.2h2.9v-7.68h-2.9ZM1166.15,472.18h2.9v-7.68h-2.9ZM1166.15,481.16h2.9v-7.68h-2.9ZM1166.15,490.14h2.9v-7.68h-2.9ZM1180.85,373.4h2.9v-4.61h-2.9ZM1180.85,382.38h2.9v-7.68h-2.9ZM1180.85,400.34h2.9v-7.68h-2.9ZM1180.85,409.32h2.9v-7.68h-2.9ZM1180.85,418.3h2.9v-7.68h-2.9ZM1180.85,427.28h2.9v-7.68h-2.9ZM1180.85,436.26h2.9v-7.68h-2.9ZM1180.85,445.24h2.9v-7.68h-2.9ZM1180.85,454.22h2.9v-7.68h-2.9ZM1180.85,463.2h2.9v-7.68h-2.9ZM1180.85,472.18h2.9v-7.68h-2.9ZM1180.85,481.16h2.9v-7.68h-2.9ZM1183.85,373.4h2.9v-4.61h-2.9ZM1183.85,382.38h2.9v-7.68h-2.9ZM1183.85,400.34h2.9v-7.68h-2.9ZM1183.85,409.32h2.9v-7.68h-2.9ZM1183.85,418.3h2.9v-7.68h-2.9ZM1183.85,427.28h2.9v-7.68h-2.9ZM1183.85,436.26h2.9v-7.68h-2.9ZM1183.85,445.24h2.9v-7.68h-2.9ZM1183.85,454.22h2.9v-7.68h-2.9ZM1183.85,463.2h2.9v-7.68h-2.9ZM1183.85,472.18h2.9v-7.68h-2.9ZM1183.85,481.16h2.9v-7.68h-2.9ZM1190.75,373.4h2.9v-7.68h-2.9ZM1190.75,382.38h2.9v-7.68h-2.9ZM1190.75,400.34h2.9v-7.68h-2.9ZM1190.75,409.32h2.9v-7.68h-2.9ZM1190.75,418.3h2.9v-7.68h-2.9ZM1190.75,427.28h2.9v-7.68h-2.9ZM1190.75,436.26h2.9v-7.68h-2.9ZM1190.75,445.24h2.9v-7.68h-2.9ZM1190.75,454.22h2.9v-7.68h-2.9ZM1190.75,463.2h2.9v-7.68h-2.9ZM1190.75,472.18h2.9v-7.68h-2.9ZM1190.75,481.16h2.9v-7.68h-2.9ZM1218.85,373.4h2.9v-7.68h-2.9ZM1218.85,382.38h2.9v-7.68h-2.9ZM1218.85,400.34h2.9v-7.68h-2.9ZM1218.85,409.32h2.9v-7.68h-2.9ZM1218.85,418.3h2.9v-4.61h-2.9ZM1218.85,427.28h2.9v-7.68h-2.9ZM1218.85,436.26h2.9v-7.68h-2.9ZM1218.85,445.24h2.9v-7.68h-2.9ZM1218.85,454.22h2.9v-7.68h-2.9ZM1218.85,463.2h2.9v-7.68h-2.9ZM1218.85,472.18h2.9v-7.68h-2.9ZM1218.85,481.16h2.9v-4.61h-2.9ZM1222.05,373.4h2.9v-7.68h-2.9ZM1222.05,382.38h2.9v-7.68h-2.9ZM1222.05,400.34h2.9v-7.68h-2.9ZM1222.05,409.32h2.9v-7.68h-2.9ZM1222.05,418.3h2.9v-4.61h-2.9ZM1222.05,427.28h2.9v-7.68h-2.9ZM1222.05,436.26h2.9v-7.68h-2.9ZM1222.05,445.24h2.9v-7.68h-2.9ZM1222.05,454.22h2.9v-7.68h-2.9ZM1222.05,463.2h2.9v-7.68h-2.9ZM1222.05,472.18h2.9v-7.68h-2.9ZM1222.05,481.16h2.9v-4.61h-2.9ZM1235.45,373.4h2.9v-7.68h-2.9ZM1235.45,382.38h2.9v-3.84h-2.9ZM1235.45,400.34h2.9v-7.68h-2.9ZM1235.45,409.32h2.9v-7.68h-2.9ZM1235.45,418.3h2.9v-7.68h-2.9ZM1235.45,427.28h2.9v-7.68h-2.9ZM1235.45,436.26h2.9v-4.61h-2.9ZM1235.45,454.22h2.9v-4.61h-2.9ZM1235.45,472.18h2.9v-7.68h-2.9ZM1235.45,481.16h2.9v-7.68h-2.9ZM1244.75,373.4h2.9v-7.68h-2.9ZM1244.75,382.38h2.9v-7.68h-2.9ZM1244.75,400.34h2.9v-7.68h-2.9ZM1244.75,409.32h2.9v-7.68h-2.9ZM1244.75,418.3h2.9v-7.68h-2.9ZM1244.75,427.28h2.9v-7.68h-2.9ZM1244.75,436.26h2.9v-7.68h-2.9ZM1244.75,445.24h2.9v-7.68h-2.9ZM1244.75,454.22h2.9v-7.68h-2.9ZM1244.75,463.2h2.9v-7.68h-2.9ZM1244.75,472.18h2.9v-7.68h-2.9ZM1244.75,481.16h2.9v-7.68h-2.9ZM1248.55,373.4h2.9v-7.68h-2.9ZM1248.55,382.38h2.9v-7.68h-2.9ZM1248.55,400.34h2.9v-7.68h-2.9ZM1248.55,409.32h2.9v-7.68h-2.9ZM1248.55,418.3h2.9v-7.68h-2.9ZM1248.55,427.28h2.9v-7.68h-2.9ZM1248.55,436.26h2.9v-7.68h-2.9ZM1248.55,445.24h2.9v-7.68h-2.9ZM1248.55,454.22h2.9v-7.68h-2.9ZM1248.55,463.2h2.9v-7.68h-2.9ZM1248.55,472.18h2.9v-7.68h-2.9ZM1248.55,481.16h2.9v-7.68h-2.9ZM1252.55,373.4h2.9v-7.68h-2.9ZM1252.55,382.38h2.9v-7.68h-2.9ZM1252.55,400.34h2.9v-7.68h-2.9ZM1252.55,409.32h2.9v-7.68h-2.9ZM1252.55,418.3h2.9v-7.68h-2.9ZM1252.55,427.28h2.9v-7.68h-2.9ZM1252.55,436.26h2.9v-7.68h-2.9ZM1252.55,445.24h2.9v-7.68h-2.9ZM1252.55,454.22h2.9v-7.68h-2.9ZM1252.55,463.2h2.9v-7.68h-2.9ZM1252.55,472.18h2.9v-7.68h-2.9ZM1252.55,481.16h2.9v-7.68h-2.9ZM1305.55,445.24h2.9v-3.07h-2.9ZM1305.55,490.14h2.9v-7.68h-2.9ZM1310.15,373.4h2.9v-7.68h-2.9ZM1310.15,382.38h2.9v-7.68h-2.9ZM1310.15,400.34h2.9v-7.68h-2.9ZM1310.15,418.3h2.9v-7.68h-2.9ZM1310.15,427.28h2.9v-7.68h-2.9ZM1310.15,436.26h2.9v-7.68h-2.9ZM1310.15,445.24h2.9v-7.68h-2.9ZM1310.15,454.22h2.9v-7.68h-2.9ZM1310.15,481.16h2.9v-7.68h-2.9ZM1310.15,490.14h2.9v-7.68h-2.9ZM1328.75,373.4h2.9v-7.68h-2.9ZM1328.75,382.38h2.9v-3.07h-2.9ZM1328.75,400.34h2.9v-4.61h-2.9ZM1328.75,418.3h2.9v-7.68h-2.9ZM1328.75,427.28h2.9v-7.68h-2.9ZM1328.75,436.26h2.9v-7.68h-2.9ZM1328.75,445.24h2.9v-7.68h-2.9ZM1328.75,454.22h2.9v-7.68h-2.9ZM1328.75,472.18h2.9v-7.68h-2.9ZM1328.75,481.16h2.9v-7.68h-2.9ZM1328.75,490.14h2.9v-7.68h-2.9ZM1428.15,373.4h2.9v-7.68h-2.9ZM1428.15,382.38h2.9v-4.61h-2.9ZM1428.15,400.34h2.9v-7.68h-2.9ZM1428.15,409.32h2.9v-7.68h-2.9ZM1428.15,418.3h2.9v-7.68h-2.9ZM1428.15,427.28h2.9v-7.68h-2.9ZM1428.15,436.26h2.9v-7.68h-2.9ZM1428.15,445.24h2.9v-7.68h-2.9ZM1428.15,454.22h2.9v-7.68h-2.9ZM1428.15,463.2h2.9v-7.68h-2.9ZM1428.15,472.18h2.9v-7.68h-2.9ZM1428.15,481.16h2.9v-7.68h-2.9ZM1428.15,490.14h2.9v-7.68h-2.9ZM1439.05,373.4h2.9v-7.68h-2.9ZM1439.05,382.38h2.9v-7.68h-2.9ZM1439.05,400.34h2.9v-7.68h-2.9ZM1439.05,409.32h2.9v-7.68h-2.9ZM1439.05,418.3h2.9v-7.68h-2.9ZM1439.05,427.28h2.9v-7.68h-2.9ZM1439.05,436.26h2.9v-7.68h-2.9ZM1439.05,445.24h2.9v-7.68h-2.9ZM1439.05,454.22h2.9v-7.68h-2.9ZM1439.05,463.2h2.9v-7.68h-2.9ZM1439.05,481.16h2.9v-7.68h-2.9ZM1439.05,490.14h2.9v-7.68h-2.9ZM1442.55,373.4h2.9v-7.68h-2.9ZM1442.55,382.38h2.9v-7.68h-2.9ZM1442.55,400.34h2.9v-7.68h-2.9ZM1442.55,409.32h2.9v-7.68h-2.9ZM1442.55,418.3h2.9v-7.68h-2.9ZM1442.55,427.28h2.9v-7.68h-2.9ZM1442.55,436.26h2.9v-7.68h-2.9ZM1442.55,445.24h2.9v-7.68h-2.9ZM1442.55,454.22h2.9v-7.68h-2.9ZM1442.55,463.2h2.9v-7.68h-2.9ZM1442.55,481.16h2.9v-7.68h-2.9ZM1442.55,490.14h2.9v-7.68h-2.9ZM1462.75,373.4h2.9v-7.68h-2.9ZM1462.75,382.38h2.9v-7.68h-2.9ZM1462.75,400.34h2.9v-7.68h-2.9ZM1462.75,409.32h2.9v-7.68h-2.9ZM1462.75,418.3h2.9v-7.68h-2.9ZM1462.75,427.28h2.9v-7.68h-2.9ZM1462.75,436.26h2.9v-7.68h-2.9ZM1462.75,445.24h2.9v-7.68h-2.9ZM1462.75,454.22h2.9v-7.68h-2.9ZM1462.75,463.2h2.9v-7.68h-2.9ZM1462.75,472.18h2.9v-7.68h-2.9ZM1462.75,481.16h2.9v-7.68h-2.9ZM1462.75,490.14h2.9v-3.84h-2.9Z" fill="#53B1E8"/>
<line x1="699.9" y1="32.66" x2="699.9" y2="490.64" stroke="#FF0000" stroke-width="2.5" stroke-linecap="butt"/>
<line x1="969.8" y1="32.66" x2="969.8" y2="490.64" stroke="#FF0000" stroke-width="2.5" stroke-linecap="butt"/>
<path d="M86.5,32.66H1471M86.5,41.64H1471M86.5,50.62H1471M86.5,59.6H1471M86.5,68.58H1471M86.5,77.56H1471M86.5,86.54H1471M86.5,95.52H1471M86.5,104.5H1471M86.5,113.48H1471M86.5,122.46H1471M86.5,131.44H1471M86.5,140.42H1471M86.5,149.4H1471M86.5,158.38H1471M86.5,167.36H1471M86.5,176.34H1471M86.5,185.32H1471M86.5,194.3H1471M86.5,203.28H1471M86.5,212.26H1471M86.5,221.24H1471M86.5,230.22H1471M86.5,239.2H1471M86.5,248.18H1471M86.5,257.16H1471M86.5,266.14H1471M86.5,275.12H1471M86.5,284.1H1471M86.5,293.08H1471M86.5,302.06H1471M86.5,311.04H1471M86.5,320.02H1471M86.5,329H1471M86.5,337.98H1471M86.5,346.96H1471M86.5,355.94H1471M86.5,364.92H1471M86.5,373.9H1471M86.5,382.88H1471M86.5,391.86H1471M86.5,400.84H1471M86.5,409.82H1471M86.5,418.8H1471M86.5,427.78H1471M86.5,436.76H1471M86.5,445.74H1471M86.5,454.72H1471M86.5,463.7H1471M86.5,472.68H1471M86.5,481.66H1471M86.5,490.64H1471M86.5,32.66V490.64M1471,32.66V490.64" stroke="#BEBEBE" stroke-width="1.5" fill="none"/>
<path d="M81,1061.4V910.81H82V908.93H83V906.68H84V906.7H85V1061.4ZM86,1061.4V910.04H87V902.31H88V905.06H89V901.8H90V911.18H91V902.61H92V912.89H93V901.8H94V901.8H95V1061.4ZM106,1061.4V901.8H107V905.14H108V910.04H109V908.39H110V901.8H111V901.8H112V908.76H113V901.8H114V904.45H115V905.97H116V1061.4ZM136,1061.4V901.8H137V901.8H138V905.5H139V910.81H140V906.73H141V913.84H142V907.15H143V914.99H144V913.11H145V910.85H146V906.74H147V1061.4ZM148,1061.4V901.8H149V903.59H150V905.07H151V902.4H152V1061.4ZM153,1061.4V901.8H154V905.37H155V901.88H156V904.93H157V901.8H158V1061.4ZM159,1061.4V906.68H160V901.8H161V901.8H162V905.46H163V1061.4ZM164,1061.4V901.8H165V910.51H166V903.37H167V906.86H168V904.74H169V901.8H170V1061.4ZM174,1061.4V1060.22H175V1061.4ZM176,1061.4V1055.47H177V1058.27H178V1061.4ZM179,1061.4V1059.49H180V1060.27H181V1061.4ZM182,1061.4V1059.45H183V1056.02H184V1056.02H185V1061.4ZM189,1061.4V1057.11H190V1060.37H191V1055.43H192V1058.53H193V1055.55H194V1061.4ZM202,1061.4V1055.15H203V1061.4ZM204,1061.4V1053.62H205V1061.4ZM206,1061.4V1052.4H207V1061.4ZM208,1061.4V1056.53H209V1052.6H210V1055.54H211V1061.4ZM214,1061.4V1054.83H215V1054.22H216V1061.4ZM217,1061.4V1054.26H218V1052.69H219V1061.4ZM221,1061.4V1053.63H222V1052.6H223V1061.4ZM224,1061.4V1059.73H225V1055.7H226V1061.4ZM227,1061.4V1060.2H228V1061.4ZM229,1061.4V1053.55H230V1057.56H231V1061.4ZM232,1061.4V1059.16H233V1054.21H234V1061.4ZM235,1061.4V1052.29H236V1052.26H237V1058.53H238V1057.94H239V1061.4ZM240,1061.4V1055.94H241V1061.4ZM249,1061.4V901.8H250V901.8H251V906.23H252V1061.4ZM253,1061.4V908.63H254V901.8H255V901.9H256V912.62H257V908.24H258V901.8H259V1061.4ZM260,1061.4V905.71H261V913.18H262V901.8H263V909.75H264V911.96H265V903.7H266V905.12H267V910.56H268V901.8H269V901.8H270V901.8H271V914.37H272V901.8H273V908.18H274V1061.4ZM275,1061.4V909.37H276V1061.4ZM287,1061.4V1059.15H288V1054.54H289V1061.4ZM291,1061.4V1060.01H292V1061.4ZM293,1061.4V1055.07H294V1057.16H295V1057.42H296V1060.35H297V1061.4ZM299,1061.4V1057.25H300V1061.4ZM301,1061.4V1059.07H302V1056.84H303V1054.17H304V1061.4ZM329,1061.4V903.25H330V906.96H331V905.52H332V907.58H333V913.27H334V909.35H335V912.76H336V911.92H337V907.04H338V912.55H339V915.35H340V910.71H341V909.49H342V915.95H343V913.54H344V903.01H345V909.95H346V1061.4ZM418,1061.4V1059.91H419V1059.76H420V1060.43H421V1060.4H422V1059.72H423V1059.58H424V1060.39H425V1059.54H426V1059.58H427V1059.99H428V1060.21H429V1061.4ZM485,1061.4V904.82H486V907.62H487V1061.4ZM488,1061.4V907.66H489V905.14H490V1061.4ZM491,1061.4V910.16H492V906.72H493V903.52H494V907.73H495V901.8H496V901.8H497V1061.4ZM498,1061.4V903.31H499V907.55H500V1061.4ZM502,1061.4V901.8H503V907.8H504V906.42H505V910.52H506V907.55H507V913.1H508V901.8H509V901.8H510V907.24H511V909.59H512V908.57H513V1061.4ZM514,1061.4V918.88H515V910.97H516V910.61H517V913.23H518V918.61H519V917.61H520V901.8H521V914.49H522V907.53H523V908.47H524V907.82H525V908.21H526V905.28H527V907.48H528V914.62H529V914.3H530V901.8H531V908.11H532V1061.4ZM533,1061.4V901.8H534V915.06H535V916.99H536V916.34H537V917.72H538V914.6H539V921.36H540V915.57H541V914.14H542V910.99H543V918.14H544V912.79H545V901.8H546V1061.4ZM547,1061.4V901.8H548V916.56H549V910.13H550V912.16H551V909.02H552V910.85H553V907.07H554V912.21H555V901.8H556V915.57H557V1061.4ZM558,1061.4V916.73H559V912.72H560V911.29H561V915.73H562V915.81H563V912.49H564V911.28H565V920.43H566V912.49H567V911.86H568V1061.4ZM569,1061.4V901.8H570V912.66H571V910.83H572V901.8H573V901.8H574V909.15H575V901.8H576V901.8H577V904.46H578V901.8H579V905.48H580V914.82H581V901.8H582V908.29H583V917.87H584V909.7H585V915.28H586V901.8H587V924.05H588V919.9H589V901.8H590V915.14H591V919.7H592V1061.4ZM593,1061.4V922.8H594V921.43H595V901.8H596V918.95H597V901.8H598V921.96H599V921.57H600V920.94H601V908.64H602V908.58H603V901.8H604V916.03H605V1061.4ZM606,1061.4V910.32H607V914.36H608V914.82H609V901.8H610V901.8H611V922.72H612V901.8H613V915.22H614V918.28H615V924.66H616V925.46H617V923.21H618V925.18H619V924.68H620V916.72H621V918.12H622V1061.4ZM623,1061.4V909.64H624V915.23H625V912.32H626V908.89H627V909.75H628V901.8H629V912.33H630V914.77H631V901.8H632V910.25H633V917.26H634V914.08H635V908.7H636V901.8H637V906.57H638V901.8H639V1061.4ZM669,1061.4V901.8H670V937.61H671V901.8H672V932.22H673V925.25H674V927.98H675V924.1H676V920.11H677V912.69H678V924.61H679V917.91H680V914.76H681V901.8H682V923.03H683V919.95H684V923.07H685V901.8H686V916.83H687V901.8H688V909.91H689V1061.4ZM690,1061.4V917.41H691V901.8H692V901.8H693V1061.4ZM694,1061.4V901.8H695V908.02H696V913.61H697V1061.4ZM699,1061.4V1058.96H700V1061.4ZM701,1061.4V1059.32H702V1059.62H703V1060.35H704V1061.4ZM705,1061.4V1057.34H706V1061.4ZM707,1061.4V1057.87H708V1061.4ZM709,1061.4V1057.8H710V1061.4ZM713,1061.4V1058.02H714V1058.8H715V1060.21H716V1059.19H717V1059.37H718V1061.4ZM720,1061.4V912.94H721V918.29H722V901.8H723V917.81H724V911.59H725V1061.4ZM726,1061.4V909H727V909.79H728V908.1H729V907.28H730V904.43H731V901.8H732V1061.4ZM737,1061.4V1059.26H738V1056.7H739V1059.71H740V1057.84H741V1060.44H742V1061.4ZM743,1061.4V913.29H744V911.69H745V911.53H746V914.48H747V915.61H748V920.13H749V920.77H750V901.8H751V923.62H752V923.73H753V1061.4ZM754,1061.4V916.6H755V917.94H756V916.56H757V918.47H758V926.02H759V901.8H760V901.8H761V919.79H762V927.27H763V919.25H764V1061.4ZM765,1061.4V925.56H766V924.8H767V925.05H768V901.8H769V901.8H770V1061.4ZM771,1061.4V910.54H772V911.73H773V901.8H774V909.44H775V918.73H776V1061.4ZM777,1061.4V918.51H778V914.55H779V901.8H780V927.32H781V901.8H782V928.71H783V919.65H784V919.37H785V915.31H786V1061.4ZM788,1061.4V911.24H789V902.8H790V913.39H791V901.8H792V901.8H793V914.98H794V908.39H795V907.43H796V915.14H797V911.93H798V1061.4ZM799,1061.4V916.06H800V909.65H801V901.8H802V915.32H803V918.21H804V920.77H805V913.61H806V908.54H807V908.6H808V908.6H809V912.96H810V914.73H811V915.5H812V901.8H813V914.4H814V911.18H815V906.44H816V901.8H817V901.8H818V905.58H819V1061.4ZM820,1061.4V910.4H821V910.54H822V911.56H823V901.8H824V901.8H825V901.8H826V911.27H827V918.92H828V915.66H829V916.53H830V917.37H831V912.4H832V911.58H833V1061.4ZM835,1061.4V912.54H836V909.7H837V910.66H838V919.88H839V911.78H840V901.8H841V916.21H842V913.04H843V915.69H844V901.8H845V912.3H846V901.8H847V1061.4ZM848,1061.4V911.16H849V901.8H850V1061.4ZM851,1061.4V901.8H852V901.8H853V901.8H854V919.48H855V917.46H856V914.4H857V901.8H858V917.55H859V901.8H860V914.04H861V901.8H862V915.59H863V901.8H864V915.64H865V914.02H866V916.99H867V914.98H868V901.8H869V1061.4ZM870,1061.4V914.76H871V913.82H872V919.99H873V1061.4ZM874,1061.4V915.57H875V912.5H876V913.72H877V918.88H878V918.71H879V912.41H880V915.37H881V1061.4ZM883,1061.4V915.47H884V901.8H885V911.06H886V1061.4ZM887,1061.4V905.88H888V912.6H889V1061.4ZM890,1061.4V901.8H891V907.85H892V909.87H893V901.8H894V910.36H895V914.74H896V910.58H897V912.37H898V908.59H899V909.1H900V911.73H901V901.8H902V904.89H903V901.8H904V910.7H905V915.28H906V901.8H907V901.8H908V1061.4ZM909,1061.4V910.22H910V911.68H911V917.13H912V901.8H913V917.59H914V918.01H915V901.8H916V913.91H917V913.33H918V921.11H919V918.86H920V909.82H921V918.93H922V917.98H923V905.64H924V1061.4ZM926,1061.4V908.4H927V915.95H928V912.24H929V911.32H930V904.55H931V912.92H932V905.26H933V917.27H934V909.81H935V911.08H936V901.8H937V911.43H938V901.8H939V1061.4ZM940,1061.4V914.19H941V906.99H942V1061.4ZM943,1061.4V909.59H944V909.5H945V909.07H946V908.32H947V901.96H948V909.45H949V907.82H950V910.75H951V902.47H952V903.15H953V1061.4ZM955,1061.4V901.8H956V901.8H957V901.8H958V903.49H959V911.24H960V1061.4ZM961,1061.4V912.16H962V906.06H963V1061.4ZM964,1061.4V911.68H965V915.71H966V909.23H967V909.75H968V901.8H969V901.8H970V901.8H971V916.63H972V923.1H973V918.53H974V918.66H975V916.3H976V920.2H977V921.09H978V1061.4ZM979,1061.4V921.13H980V914.36H981V911.36H982V1061.4ZM983,1061.4V915.8H984V916.78H985V919.55H986V909.81H987V911.9H988V910.55H989V909.22H990V904.13H991V905.38H992V901.8H993V910.16H994V904.21H995V901.8H996V903.14H997V907.25H998V914.85H999V905.07H1000V905.93H1001V901.8H1002V904.42H1003V908.31H1004V903.26H1005V901.8H1006V901.8H1007V904.8H1008V905.35H1009V903.91H1010V1061.4ZM1011,1061.4V901.8H1012V912.44H1013V911.25H1014V909.6H1015V911.63H1016V901.8H1017V916.04H1018V910.05H1019V901.8H1020V901.8H1021V901.8H1022V911.91H1023V901.8H1024V921.36H1025V901.8H1026V1061.4ZM1027,1061.4V924.66H1028V920.45H1029V924.23H1030V923.27H1031V920.29H1032V922.69H1033V923.88H1034V923.68H1035V919.67H1036V923.43H1037V922.16H1038V928.87H1039V921.28H1040V926.63H1041V915.18H1042V913.69H1043V912.57H1044V918.45H1045V907.02H1046V901.8H1047V909.32H1048V915.5H1049V904.37H1050V901.8H1051V907.79H1052V911.88H1053V915.54H1054V1061.4ZM1055,1061.4V911.35H1056V922.4H1057V915.26H1058V922.56H1059V1061.4ZM1060,1061.4V923.95H1061V914.96H1062V917.05H1063V1061.4ZM1064,1061.4V916.94H1065V901.8H1066V1061.4ZM1067,1061.4V901.8H1068V918.86H1069V1061.4ZM1070,1061.4V923.7H1071V921.43H1072V922.96H1073V927.47H1074V926.32H1075V923.85H1076V919.46H1077V922.94H1078V921.14H1079V927.69H1080V901.8H1081V912.36H1082V913.8H1083V905.51H1084V911.85H1085V1061.4ZM1087,1061.4V901.8H1088V908.11H1089V910.31H1090V908.9H1091V903.64H1092V901.8H1093V904.57H1094V905.96H1095V1061.4ZM1096,1061.4V901.8H1097V902.13H1098V911.47H1099V912.86H1100V909.9H1101V901.8H1102V901.8H1103V908.9H1104V903.95H1105V901.8H1106V901.8H1107V901.8H1108V908.7H1109V903.35H1110V909.24H1111V903.18H1112V901.8H1113V901.8H1114V1061.4ZM1132,1061.4V908.39H1133V901.8H1134V907.55H1135V906.83H1136V901.8H1137V908.47H1138V908.86H1139V1061.4ZM1147,1061.4V907.3H1148V901.8H1149V901.8H1150V906.61H1151V907.54H1152V1061.4ZM1168,1061.4V901.8H1169V901.8H1170V907.15H1171V1061.4ZM1210,1061.4V906.54H1211V905.63H1212V901.8H1213V901.8H1214V1061.4ZM1230,1061.4V901.8H1231V906.93H1232V907.48H1233V903.22H1234V902.57H1235V901.8H1236V903.08H1237V901.8H1238V903.23H1239V910.22H1240V1061.4ZM1241,1061.4V901.8H1242V901.8H1243V901.8H1244V903.11H1245V903.69H1246V903.82H1247V909.62H1248V901.8H1249V901.8H1250V905.87H1251V910.3H1252V908.76H1253V904.82H1254V901.8H1255V901.8H1256V909.37H1257V1061.4ZM1260,1061.4V922.44H1261V919.26H1262V925.43H1263V914.85H1264V1061.4ZM1265,1061.4V919.4H1266V901.8H1267V920.72H1268V920.78H1269V918.23H1270V918.71H1271V916.92H1272V901.8H1273V925.12H1274V916.71H1275V921.18H1276V921.57H1277V915.34H1278V921.15H1279V924.74H1280V901.8H1281V901.8H1282V923.05H1283V923.34H1284V901.8H1285V901.8H1286V901.8H1287V901.8H1288V913.84H1289V901.8H1290V901.8H1291V911.67H1292V913.13H1293V901.8H1294V914.22H1295V910.09H1296V1061.4ZM1297,1061.4V918.02H1298V918.99H1299V901.8H1300V901.8H1301V916.03H1302V921.16H1303V1061.4ZM1307,1061.4V919.68H1308V901.8H1309V916.63H1310V901.8H1311V903.15H1312V908.77H1313V902.34H1314V906.75H1315V906.73H1316V1061.4ZM1317,1061.4V901.8H1318V901.8H1319V901.8H1320V901.8H1321V911.98H1322V916.53H1323V918.09H1324V1061.4ZM1326,1061.4V912.39H1327V901.8H1328V901.8H1329V910.9H1330V910.35H1331V915.9H1332V920.23H1333V901.8H1334V915.23H1335V1061.4ZM1336,1061.4V913.12H1337V1061.4ZM1338,1061.4V901.8H1339V1061.4ZM1340,1061.4V912.91H1341V913.24H1342V915.25H1343V913.41H1344V916.03H1345V923.32H1346V901.8H1347V901.8H1348V915.33H1349V901.8H1350V914.04H1351V916.31H1352V921.06H1353V907.28H1354V912.92H1355V911.21H1356V905.98H1357V915.23H1358V1061.4ZM1360,1061.4V901.8H1361V910.51H1362V908.71H1363V911.9H1364V915.02H1365V1061.4ZM1366,1061.4V909.84H1367V911.38H1368V1061.4ZM1369,1061.4V901.8H1370V908.58H1371V909.7H1372V915.98H1373V909.94H1374V901.8H1375V913.04H1376V904.91H1377V905.78H1378V913.14H1379V905.4H1380V903.47H1381V1061.4ZM1382,1061.4V902.71H1383V1061.4ZM1384,1061.4V901.8H1385V901.8H1386V913.48H1387V908.57H1388V909.71H1389V908.2H1390V911.1H1391V1061.4ZM1392,1061.4V909.87H1393V901.8H1394V903.17H1395V902.52H1396V905.65H1397V911.23H1398V1061.4ZM1399,1061.4V901.8H1400V919.31H1401V914.27H1402V911.49H1403V901.8H1404V910.98H1405V1061.4ZM1408,1061.4V901.8H1409V910.45H1410V907.6H1411V909.59H1412V913.85H1413V901.8H1414V1061.4ZM1415,1061.4V901.8H1416V901.8H1417V908.72H1418V901.8H1419V1061.4ZM1420,1061.4V903.34H1421V901.81H1422V913.65H1423V1061.4ZM1426,1061.4V906.73H1427V1061.4ZM1428,1061.4V911.85H1429V901.8H1430V906.42H1431V1061.4ZM1432,1061.4V914.59H1433V1061.4ZM1434,1061.4V905H1435V913.71H1436V901.8H1437V901.8H1438V912.37H1439V901.8H1440V901.8H1441V902.4H1442V901.89H1443V911.57H1444V908.45H1445V902.38H1446V901.8H1447V901.8H1448V1061.4ZM1449,1061.4V906.5H1450V905.96H1451V901.8H1452V1061.4ZM1453,1061.4V913.76H1454V901.8H1455V912.82H1456V1061.4ZM1457,1061.4V912.2H1458V923.25H1459V921.86H1460V901.8H1461V915.13H1462V913.3H1463V908.5H1464V906.34H1465V901.8H1466V915.68H1467V912.91H1468V905.32H1469V1061.4ZM1470,1061.4V908.15H1471V906.05H1472V905.39H1473V909.86H1474V901.8H1475V905.78H1476V901.8H1477V915.49H1478V917.55H1479V911.03H1480V1061.4ZM1487,1061.4V1055.16H1488V1056.44H1489V1061.4ZM1490,1061.4V1054.12H1491V1052.04H1492V1055.71H1493V1061.4ZM1494,1061.4V1057.23H1495V1054.11H1496V1061.4ZM1497,1061.4V1052.22H1498V1061.4ZM1499,1061.4V1051.86H1500V1057.13H1501V1060.29H1502V1054.25H1503V1053.7H1504V1054.05H1505V1054.98H1506V1054.69H1507V1059.66H1508V1061.4ZM1510,1061.4V1052.08H1511V1059.01H1512V1057.36H1513V1052.78H1514V1054.3H1515V1055.99H1516V1061.4ZM1517,1061.4V1053.04H1518V1052.02H1519V1061.4ZM1520,1061.4V1054.95H1521V1059.03H1522V1056.64H1523V1061.4ZM1524,1061.4V1055.8H1525V1055.68H1526V1061.4ZM1527,1061.4V1057.66H1528V1061.4ZM1529,1061.4V1058.1H1530V1052.97H1531V1054.86H1532V1057.96H1533V1058.44H1534V1056.81H1535V1058.11H1536V1056.36H1537V1061.4ZM1539,1061.4V1052.02H1540V1057.56H1541V1054.3H1542V1054.55H1543V1053.03H1544V1052.94H1545V1056.99H1546V1055.94H1547V1055.61H1548V1061.4ZM1550,1061.4V1051.93H1551V1059.99H1552V1061.4ZM1553,1061.4V1060.19H1554V1056.17H1555V1061.4ZM1556,1061.4V1059.02H1557V1059.98H1558V1056.21H1559V1061.4ZM1560,1061.4V1053.08H1561V1052.6H1562V1061.4ZM1563,1061.4V1057.23H1564V1059.5H1565V1061.4ZM1581,1061.4V1058.72H1582V1053.5H1583V1055.38H1584V1058.36H1585V1056.09H1586V1061.4ZM1587,1061.4V1054.51H1588V1053.97H1589V1061.4ZM1590,1061.4V1051.86H1591V1056.05H1592V1059.71H1593V1061.4ZM1594,1061.4V1060.14H1595V1055.77H1596V1058.17H1597V1061.4ZM1598,1061.4V1059.17H1599V1061.4ZM1602,1061.4V1055.8H1603V1061.4ZM1606,1061.4V1053.72H1607V1059.34H1608V1058.85H1609V1058H1610V1061.4ZM1611,1061.4V1053.41H1612V1061.4ZM1613,1061.4V1053.82H1614V1057H1615V1054.77H1616V1061.4ZM1623,1061.4V913.68H1624V916.5H1625V914.99H1626V912.56H1627V1061.4ZM1628,1061.4V913.96H1629V915.7H1630V918.76H1631V919.95H1632V1061.4ZM1634,1061.4V912.12H1635V914.54H1636V1061.4ZM1637,1061.4V915.07H1638V914.57H1639V911.68H1640V914.19H1641V1061.4ZM1655,1061.4V1056.14H1656V1056.18H1657V1058.76H1658V1055.55H1659V1061.4ZM1660,1061.4V1058.24H1661V1057.43H1662V1061.4ZM1668,1061.4V1057.31H1669V1061.4ZM1670,1061.4V1054.62H1671V1056.53H1672V1057.89H1673V1058.49H1674V1053.76H1675V1054.1H1676V1061.4ZM1678,1061.4V1060.31H1679V1061.4ZM1680,1061.4V1058.35H1681V1061.4ZM1685,1061.4V1056.9H1686V1057.78H1687V1054.7H1688V1055.76H1689V1058.64H1690V1056.36H1691V1061.4ZM1693,1061.4V1053.86H1694V1061.4ZM1697,1061.4V1058.39H1698V1061.4ZM1702,1061.4V1053.81H1703V1059H1704V1061.4ZM1708,1061.4V1057.14H1709V1057.97H1710V1061.4ZM1712,1061.4V917.05H1713V907.17H1714V908.18H1715V908.23H1716V918.94H1717V901.8H1718V911.48H1719V909.43H1720V910.38H1721V921.29H1722V922.17H1723V909.81H1724V916.27H1725V912.58H1726V913.14H1727V901.8H1728V910.32H1729V901.8H1730V901.8H1731V901.8H1732V913.44H1733V908.49H1734V1061.4ZM1735,1061.4V901.8H1736V1061.4Z" fill="#E19600"/>
<path d="M100.6,1061.4h1.8V1021.5h-1.8ZM105.1,1061.4h1.8V981.6h-1.8ZM117.3,1061.4h1.8V981.6h-1.8ZM121.1,1061.4h1.8V901.8h-1.8ZM124.6,1061.4h1.8V901.8h-1.8ZM169.6,1061.4h1.8V1029.48h-1.8ZM171.1,1061.4h1.8V1045.44h-1.8ZM172.6,1061.4h1.8V1053.42h-1.8ZM193.1,1061.4h1.8V901.8h-1.8ZM194.6,1061.4h1.8V901.8h-1.8ZM197.7,1061.4h1.8V901.8h-1.8ZM200.3,1061.4h1.8V922.55h-1.8ZM203.1,1061.4h1.8V1050.23h-1.8ZM205.6,1061.4h1.8V1045.44h-1.8ZM209.4,1061.4h1.8V1008.73h-1.8ZM210.6,1061.4h1.8V1045.44h-1.8ZM225.1,1061.4h1.8V1034.27h-1.8ZM229.1,1061.4h1.8V1051.82h-1.8ZM232.1,1061.4h1.8V1050.23h-1.8ZM235.1,1061.4h1.8V1050.23h-1.8ZM241.1,1061.4h1.8V1008.73h-1.8ZM242.6,1061.4h1.8V933.72h-1.8ZM244.6,1061.4h1.8V941.7h-1.8ZM246.1,1061.4h1.8V1029.48h-1.8ZM276.1,1061.4h1.8V965.64h-1.8ZM278.6,1061.4h1.8V968.83h-1.8ZM280.9,1061.4h1.8V962.45h-1.8ZM283.6,1061.4h1.8V901.8h-1.8ZM311,1061.4h1.8V901.8h-1.8ZM317.5,1061.4h1.8V1055.02h-1.8ZM354.1,1061.4h1.8V941.7h-1.8ZM356.1,1061.4h1.8V941.7h-1.8ZM359.6,1061.4h1.8V941.7h-1.8ZM365.6,1061.4h1.8V901.8h-1.8ZM367.6,1061.4h1.8V901.8h-1.8ZM370.1,1061.4h1.8V925.74h-1.8ZM372.6,1061.4h1.8V901.8h-1.8ZM386.4,1061.4h1.8V901.8h-1.8ZM428.4,1061.4h1.8V1037.46h-1.8ZM430.1,1061.4h1.8V1053.42h-1.8ZM432.6,1061.4h1.8V1053.42h-1.8ZM435.1,1061.4h1.8V1053.42h-1.8ZM438.6,1061.4h1.8V989.58h-1.8ZM440.1,1061.4h1.8V941.7h-1.8ZM442.1,1061.4h1.8V917.76h-1.8ZM444.1,1061.4h1.8V901.8h-1.8ZM446.6,1061.4h1.8V901.8h-1.8ZM449.1,1061.4h1.8V909.78h-1.8ZM451.6,1061.4h1.8V909.78h-1.8ZM459.6,1061.4h1.8V912.97h-1.8ZM462.1,1061.4h1.8V901.8h-1.8ZM466.1,1061.4h1.8V909.78h-1.8ZM468.6,1061.4h1.8V901.8h-1.8ZM470.6,1061.4h1.8V909.78h-1.8ZM474.1,1061.4h1.8V901.8h-1.8ZM640.1,1061.4h1.8V1029.48h-1.8ZM643.1,1061.4h1.8V1037.46h-1.8ZM644.6,1061.4h1.8V1037.46h-1.8ZM646.2,1061.4h1.8V970.43h-1.8ZM650.9,1061.4h1.8V1013.52h-1.8ZM654.1,1061.4h1.8V925.74h-1.8ZM657.4,1061.4h1.8V1055.02h-1.8ZM662.6,1061.4h1.8V930.53h-1.8ZM666.1,1061.4h1.8V1021.5h-1.8ZM667.6,1061.4h1.8V965.64h-1.8ZM696.6,1061.4h1.8V1029.48h-1.8ZM703.6,1061.4h1.8V933.72h-1.8ZM706.1,1061.4h1.8V920.95h-1.8ZM715.6,1061.4h1.8V1037.46h-1.8ZM731.3,1061.4h1.8V1018.31h-1.8ZM735.1,1061.4h1.8V1053.42h-1.8ZM1124.1,1061.4h1.8V901.8h-1.8ZM1126.6,1061.4h1.8V901.8h-1.8ZM1177.1,1061.4h1.8V981.6h-1.8ZM1179.6,1061.4h1.8V981.6h-1.8ZM1188.1,1061.4h1.8V901.8h-1.8ZM1190.1,1061.4h1.8V901.8h-1.8ZM1197.9,1061.4h1.8V901.8h-1.8ZM1203.6,1061.4h1.8V917.76h-1.8ZM1206.1,1061.4h1.8V1056.61h-1.8ZM1208.3,1061.4h1.8V981.6h-1.8ZM1218.7,1061.4h1.8V901.8h-1.8ZM1418.1,1061.4h1.8V949.68h-1.8ZM1483.1,1061.4h1.8V1037.46h-1.8ZM1531.1,1061.4h1.8V1040.65h-1.8ZM1543.5,1061.4h1.8V1021.5h-1.8ZM1566.4,1061.4h1.8V1029.48h-1.8ZM1567.6,1061.4h1.8V901.8h-1.8ZM1569.1,1061.4h1.8V901.8h-1.8ZM1570.6,1061.4h1.8V917.76h-1.8ZM1571.6,1061.4h1.8V957.66h-1.8ZM1574.1,1061.4h1.8V949.68h-1.8ZM1577.4,1061.4h1.8V940.1h-1.8ZM1595.1,1061.4h1.8V1050.23h-1.8ZM1599.6,1061.4h1.8V949.68h-1.8ZM1601.5,1061.4h1.8V920.95h-1.8ZM1619.7,1061.4h1.8V1026.29h-1.8ZM1622.3,1061.4h1.8V965.64h-1.8ZM1643.1,1061.4h1.8V962.45h-1.8ZM1644.5,1061.4h1.8V989.58h-1.8ZM1647.1,1061.4h1.8V941.7h-1.8ZM1649.7,1061.4h1.8V901.8h-1.8ZM1652.3,1061.4h1.8V941.7h-1.8ZM1655.6,1061.4h1.8V1056.61h-1.8ZM1661.1,1061.4h1.8V1047.04h-1.8ZM1667.9,1061.4h1.8V925.74h-1.8ZM1669.1,1061.4h1.8V960.85h-1.8ZM1674.1,1061.4h1.8V1037.46h-1.8ZM1676.1,1061.4h1.8V1037.46h-1.8ZM1682.1,1061.4h1.8V1045.44h-1.8ZM1699.1,1061.4h1.8V1050.23h-1.8ZM1702.1,1061.4h1.8V1053.42h-1.8ZM1738.7,1061.4h1.8V901.8h-1.8ZM1742.1,1061.4h1.8V901.8h-1.8ZM1746.1,1061.4h1.8V901.8h-1.8ZM1749.6,1061.4h1.8V901.8h-1.8Z" fill="#E19600"/>
<path d="M81,1271.1V1117.39H82V1115.93H83V1111.6H84V1118.23H85V1116.4H86V1111.6H87V1111.6H88V1111.6H89V1111.6H90V1271.1ZM92,1271.1V1112.19H93V1114.86H94V1111.6H95V1271.1ZM105,1271.1V1114.14H106V1114.28H107V1124.37H108V1120.74H109V1124.43H110V1122.1H111V1113.09H112V1118.29H113V1119.04H114V1115.15H115V1124.98H116V1271.1ZM123,1271.1V1113.23H124V1117.27H125V1116.47H126V1114.39H127V1118.29H128V1271.1ZM136,1271.1V1117.86H137V1121.27H138V1111.6H139V1125.97H140V1111.6H141V1271.1ZM142,1271.1V1117.56H143V1124.29H144V1271.1ZM145,1271.1V1126.82H146V1124.57H147V1111.6H148V1120.47H149V1124.23H150V1271.1ZM151,1271.1V1124.64H152V1127.56H153V1122.8H154V1116.63H155V1120.69H156V1119.34H157V1115.38H158V1271.1ZM159,1271.1V1126.82H160V1271.1ZM161,1271.1V1121.96H162V1122.37H163V1271.1ZM164,1271.1V1127.18H165V1126.07H166V1127.09H167V1121.59H168V1123.4H169V1121.88H170V1269.16H171V1271.1ZM172,1271.1V1269.62H173V1270.13H174V1269.92H175V1269.03H176V1269.46H177V1269.24H178V1268.82H179V1269.71H180V1269.15H181V1271.1ZM182,1271.1V1269.57H183V1269.89H184V1268.83H185V1268.96H186V1268.9H187V1269.82H188V1269.16H189V1269.28H190V1271.1ZM203,1271.1V1264.49H204V1262H205V1260.14H206V1267.82H207V1268.84H208V1271.1ZM209,1271.1V1263.97H210V1262.21H211V1263.2H212V1271.1ZM213,1271.1V1268.81H214V1263.52H215V1270.05H216V1261.89H217V1260.54H218V1269.91H219V1269.61H220V1269.89H221V1269.42H222V1269.51H223V1269.14H224V1269.82H225V1268.91H226V1269.97H227V1268.96H228V1268.82H229V1269.66H230V1269.09H231V1268.99H232V1270.08H233V1269.34H234V1268.84H235V1271.1ZM236,1271.1V1268.84H237V1269.37H238V1268.78H239V1271.1ZM240,1271.1V1269.59H241V1269.25H242V1271.1ZM243,1271.1V1269.73H244V1269H245V1269.74H246V1270.08H247V1271.1ZM248,1271.1V1268.95H249V1271.1ZM252,1271.1V1111.6H253V1111.6H254V1112.79H255V1117.82H256V1111.6H257V1112.07H258V1271.1ZM260,1271.1V1117.96H261V1271.1ZM262,1271.1V1111.6H263V1116H264V1122.68H265V1123.87H266V1111.6H267V1111.6H268V1123.27H269V1125.8H270V1271.1ZM271,1271.1V1126.33H272V1120.11H273V1119.74H274V1271.1ZM276,1271.1V1119.17H277V1118.65H278V1111.6H279V1111.6H280V1111.6H281V1121.26H282V1271.1ZM283,1271.1V1115.4H284V1271.1ZM287,1271.1V1268.27H288V1269.29H289V1264.76H290V1271.1ZM291,1271.1V1269.63H292V1263.36H293V1271.1ZM294,1271.1V1264.92H295V1271.1ZM296,1271.1V1266.68H297V1271.1ZM299,1271.1V1267.12H300V1267.51H301V1271.1ZM302,1271.1V1266.46H303V1271.1ZM304,1271.1V1267.66H305V1266.68H306V1263.57H307V1271.1ZM330,1271.1V1111.6H331V1115.9H332V1112.25H333V1111.6H334V1112.69H335V1116.58H336V1111.6H337V1111.6H338V1111.6H339V1111.6H340V1118.44H341V1112.74H342V1119.47H343V1271.1ZM365,1271.1V1111.6H366V1117.73H367V1119.31H368V1120.35H369V1112.09H370V1117.02H371V1117.51H372V1111.6H373V1122.01H374V1111.6H375V1118.9H376V1119.3H377V1123.42H378V1271.1ZM419,1271.1V1268.09H420V1269.59H421V1265.88H422V1266.36H423V1271.1ZM424,1271.1V1266.68H425V1271.1ZM427,1271.1V1266.55H428V1265.94H429V1271.1ZM432,1271.1V1267.54H433V1264.79H434V1267.83H435V1267.82H436V1267.42H437V1267.49H438V1271.1ZM486,1271.1V1120.67H487V1127.1H488V1116.84H489V1271.1ZM490,1271.1V1111.6H491V1119.53H492V1114H493V1120.58H494V1117.93H495V1271.1ZM497,1271.1V1111.6H498V1119.06H499V1118.16H500V1271.1ZM501,1271.1V1116.6H502V1111.95H503V1114.18H504V1111.69H505V1120.68H506V1115.97H507V1271.1ZM508,1271.1V1114.84H509V1111.6H510V1111.6H511V1122.5H512V1271.1ZM513,1271.1V1111.6H514V1120.58H515V1112.84H516V1271.1ZM517,1271.1V1111.6H518V1111.6H519V1111.6H520V1271.1ZM521,1271.1V1116.58H522V1111.6H523V1111.6H524V1119.91H525V1115.84H526V1112.66H527V1271.1ZM528,1271.1V1111.6H529V1111.6H530V1112.08H531V1118.7H532V1116.34H533V1112.23H534V1111.6H535V1111.6H536V1117.79H537V1115.16H538V1111.6H539V1111.6H540V1115.52H541V1118.18H542V1111.6H543V1120.54H544V1123.88H545V1121.66H546V1125.86H547V1271.1ZM548,1271.1V1118.93H549V1123.56H550V1124.31H551V1271.1ZM552,1271.1V1120.61H553V1121.85H554V1123.4H555V1118.92H556V1127.04H557V1127.36H558V1127.02H559V1117.91H560V1123.83H561V1116.53H562V1118.23H563V1120.79H564V1271.1ZM565,1271.1V1111.6H566V1117.95H567V1124.17H568V1119.88H569V1114.38H570V1123.14H571V1117.77H572V1111.6H573V1119.61H574V1111.6H575V1114.61H576V1115.99H577V1121.6H578V1111.6H579V1111.6H580V1119.11H581V1111.6H582V1120.34H583V1118.85H584V1122.57H585V1120.19H586V1115.56H587V1118.16H588V1116.92H589V1271.1ZM593,1271.1V1113.33H594V1115.54H595V1111.6H596V1123.84H597V1117.78H598V1115.06H599V1114.82H600V1118.91H601V1119.87H602V1111.6H603V1115.45H604V1124.12H605V1271.1ZM606,1271.1V1111.6H607V1124.5H608V1123.13H609V1130.17H610V1120.61H611V1111.6H612V1111.6H613V1133.23H614V1126.1H615V1129.72H616V1271.1ZM617,1271.1V1123.21H618V1111.6H619V1119.89H620V1122.9H621V1118.76H622V1271.1ZM623,1271.1V1123.3H624V1121.01H625V1122.81H626V1116.31H627V1111.6H628V1115.14H629V1111.6H630V1111.6H631V1121.52H632V1120.84H633V1118.13H634V1129.62H635V1111.6H636V1124.89H637V1123.67H638V1271.1ZM640,1271.1V1268.85H641V1268.75H642V1269.64H643V1269.84H644V1269.43H645V1269.91H646V1269.98H647V1271.1ZM670,1271.1V1130.76H671V1133.99H672V1127.57H673V1125.21H674V1111.6H675V1271.1ZM676,1271.1V1114.48H677V1116.62H678V1119.93H679V1271.1ZM680,1271.1V1122.89H681V1122.75H682V1111.6H683V1123.78H684V1117.61H685V1114.07H686V1123.35H687V1271.1ZM689,1271.1V1119.99H690V1111.6H691V1118.24H692V1119.09H693V1120.32H694V1271.1ZM695,1271.1V1111.6H696V1117.94H697V1271.1ZM698,1271.1V1266.86H699V1269.69H700V1266.82H701V1267.02H702V1271.1ZM703,1271.1V1269.29H704V1271.1ZM705,1271.1V1268.14H706V1268.7H707V1269.25H708V1271.1ZM709,1271.1V1266.23H710V1267.4H711V1265.34H712V1265.44H713V1268.07H714V1266.83H715V1264.74H716V1268.95H717V1271.1ZM718,1271.1V1266.85H719V1271.1ZM720,1271.1V1111.6H721V1114.88H722V1120.02H723V1112.04H724V1118.73H725V1112.17H726V1120.46H727V1111.6H728V1111.6H729V1111.6H730V1111.6H731V1111.6H732V1271.1ZM736,1271.1V1268.79H737V1269.25H738V1270.02H739V1270.13H740V1269.48H741V1269.23H742V1271.1ZM753,1271.1V1127.64H754V1116.66H755V1115.38H756V1125.28H757V1114.44H758V1119.77H759V1111.6H760V1118.81H761V1120.05H762V1111.6H763V1121.31H764V1271.1ZM765,1271.1V1119.84H766V1111.6H767V1123.17H768V1271.1ZM769,1271.1V1122.81H770V1126.14H771V1111.6H772V1124H773V1271.1ZM774,1271.1V1123.81H775V1122.71H776V1119.09H777V1111.6H778V1123.08H779V1117.81H780V1116.76H781V1125.33H782V1111.6H783V1126.74H784V1119.8H785V1111.6H786V1115.97H787V1271.1ZM788,1271.1V1121.71H789V1111.6H790V1126.18H791V1121.29H792V1120.46H793V1271.1ZM794,1271.1V1111.6H795V1118.39H796V1117.79H797V1123.58H798V1271.1ZM799,1271.1V1124.97H800V1127.69H801V1125.98H802V1111.6H803V1116.4H804V1125.5H805V1116.95H806V1111.6H807V1125.89H808V1128.66H809V1111.6H810V1271.1ZM811,1271.1V1126.49H812V1118.99H813V1126.1H814V1111.6H815V1124.77H816V1271.1ZM817,1271.1V1126.55H818V1127.45H819V1118.53H820V1126.12H821V1124.29H822V1118.47H823V1111.6H824V1126.51H825V1125.14H826V1123.27H827V1271.1ZM829,1271.1V1120.54H830V1119.1H831V1128.12H832V1111.6H833V1121.12H834V1271.1ZM835,1271.1V1125.57H836V1126.53H837V1111.6H838V1111.6H839V1125.56H840V1118.19H841V1120.34H842V1120.5H843V1126.32H844V1271.1ZM845,1271.1V1111.6H846V1271.1ZM848,1271.1V1111.6H849V1115.38H850V1120.55H851V1117.41H852V1117.94H853V1111.6H854V1123.35H855V1111.6H856V1121.57H857V1271.1ZM858,1271.1V1111.6H859V1115.34H860V1120.12H861V1119.06H862V1117.48H863V1117.27H864V1271.1ZM865,1271.1V1118.14H866V1120.09H867V1111.6H868V1121.1H869V1124.33H870V1111.6H871V1130.78H872V1111.6H873V1271.1ZM875,1271.1V1124.33H876V1127.74H877V1111.6H878V1120.95H879V1271.1ZM880,1271.1V1127.1H881V1120.24H882V1130.95H883V1125.6H884V1127.01H885V1122.68H886V1128.74H887V1125.96H888V1113.18H889V1118.3H890V1271.1ZM891,1271.1V1120.02H892V1120.75H893V1111.6H894V1120.32H895V1117.51H896V1111.6H897V1111.6H898V1111.6H899V1271.1ZM900,1271.1V1118.49H901V1112.76H902V1113.52H903V1120.56H904V1111.6H905V1119.58H906V1116.09H907V1118.03H908V1271.1ZM909,1271.1V1121.29H910V1271.1ZM911,1271.1V1111.6H912V1115.1H913V1118.12H914V1111.6H915V1271.1ZM916,1271.1V1122.08H917V1120.32H918V1271.1ZM919,1271.1V1117.02H920V1111.6H921V1116.54H922V1122.28H923V1122.69H924V1121.74H925V1113.93H926V1113.96H927V1118.04H928V1111.6H929V1111.6H930V1120.64H931V1111.6H932V1116.56H933V1112.46H934V1115.67H935V1115.49H936V1111.6H937V1111.6H938V1115.48H939V1271.1ZM940,1271.1V1117.99H941V1115.43H942V1271.1ZM943,1271.1V1113.47H944V1111.6H945V1112.15H946V1114.03H947V1118.18H948V1114.44H949V1113.61H950V1111.81H951V1123H952V1120.74H953V1271.1ZM954,1271.1V1121.38H955V1118.8H956V1122.89H957V1271.1ZM958,1271.1V1121.54H959V1111.6H960V1114.09H961V1125.16H962V1116.26H963V1271.1ZM964,1271.1V1122.18H965V1122.93H966V1119.69H967V1111.6H968V1111.6H969V1111.6H970V1126.28H971V1126.77H972V1120.98H973V1126.86H974V1121.93H975V1271.1ZM976,1271.1V1114.53H977V1122.09H978V1115.54H979V1112.14H980V1112.09H981V1116.53H982V1115.65H983V1111.6H984V1120.14H985V1121.56H986V1120.93H987V1119.88H988V1121.16H989V1271.1ZM990,1271.1V1112.85H991V1120.03H992V1119.44H993V1111.6H994V1116.02H995V1119.42H996V1114.17H997V1117.12H998V1117.2H999V1111.6H1000V1112.07H1001V1111.6H1002V1115.19H1003V1115.35H1004V1111.6H1005V1111.6H1006V1112.56H1007V1111.6H1008V1113.15H1009V1111.6H1010V1113.75H1011V1126.65H1012V1126.42H1013V1123.79H1014V1271.1ZM1015,1271.1V1129.6H1016V1111.6H1017V1128.93H1018V1124.56H1019V1116.43H1020V1120.05H1021V1123.46H1022V1111.6H1023V1116.93H1024V1117.72H1025V1117.6H1026V1271.1ZM1027,1271.1V1114.95H1028V1117.71H1029V1117.24H1030V1115.75H1031V1125.04H1032V1271.1ZM1033,1271.1V1123.83H1034V1123.32H1035V1271.1ZM1036,1271.1V1121.06H1037V1111.6H1038V1124.82H1039V1120.14H1040V1111.6H1041V1119.59H1042V1118.23H1043V1127.91H1044V1132.49H1045V1271.1ZM1047,1271.1V1136.68H1048V1111.6H1049V1111.6H1050V1123.69H1051V1125.51H1052V1111.6H1053V1131.61H1054V1271.1ZM1056,1271.1V1122.35H1057V1271.1ZM1058,1271.1V1118.27H1059V1271.1ZM1060,1271.1V1111.6H1061V1120.7H1062V1119.92H1063V1271.1ZM1064,1271.1V1114.96H1065V1116.81H1066V1112.93H1067V1121.85H1068V1117.53H1069V1111.6H1070V1112.85H1071V1121.33H1072V1271.1ZM1073,1271.1V1114.37H1074V1111.6H1075V1111.8H1076V1111.6H1077V1111.6H1078V1121.59H1079V1118.46H1080V1118.08H1081V1120.88H1082V1119.18H1083V1271.1ZM1084,1271.1V1121.15H1085V1271.1ZM1086,1271.1V1111.6H1087V1111.6H1088V1119.55H1089V1271.1ZM1090,1271.1V1117.11H1091V1117.15H1092V1119.67H1093V1130.13H1094V1126.93H1095V1271.1ZM1096,1271.1V1128.45H1097V1130.46H1098V1120.42H1099V1120.77H1100V1125.25H1101V1111.6H1102V1126.03H1103V1271.1ZM1104,1271.1V1123.84H1105V1122.89H1106V1119.51H1107V1129.71H1108V1130.73H1109V1124.49H1110V1130.53H1111V1121.28H1112V1127.31H1113V1111.6H1114V1271.1ZM1132,1271.1V1118.53H1133V1114.59H1134V1111.6H1135V1114.61H1136V1111.6H1137V1122.93H1138V1111.6H1139V1119.73H1140V1126.17H1141V1271.1ZM1146,1271.1V1123.18H1147V1127.81H1148V1111.6H1149V1117.27H1150V1121.74H1151V1271.1ZM1166,1271.1V1123.24H1167V1125.27H1168V1118.74H1169V1271.1ZM1172,1271.1V1111.6H1173V1125.44H1174V1120.46H1175V1111.6H1176V1111.6H1177V1124.9H1178V1112.43H1179V1112.67H1180V1111.6H1181V1271.1ZM1210,1271.1V1111.6H1211V1120.77H1212V1111.6H1213V1115.27H1214V1120.83H1215V1113.66H1216V1112.7H1217V1271.1ZM1228,1271.1V1127.3H1229V1128.23H1230V1111.6H1231V1122.6H1232V1126.76H1233V1133.43H1234V1124.15H1235V1120.84H1236V1122.53H1237V1271.1ZM1238,1271.1V1111.6H1239V1123.03H1240V1112.36H1241V1111.6H1242V1115.75H1243V1115.03H1244V1111.6H1245V1113.51H1246V1111.6H1247V1120.58H1248V1111.6H1249V1111.6H1250V1122.93H1251V1124.71H1252V1271.1ZM1253,1271.1V1126.77H1254V1123.06H1255V1128.28H1256V1130.77H1257V1111.6H1258V1129.41H1259V1271.1ZM1260,1271.1V1117.36H1261V1111.6H1262V1117.19H1263V1120.69H1264V1118.22H1265V1111.6H1266V1271.1ZM1267,1271.1V1111.6H1268V1111.6H1269V1111.77H1270V1111.6H1271V1120.3H1272V1118.5H1273V1112.11H1274V1113.49H1275V1271.1ZM1276,1271.1V1112.15H1277V1111.6H1278V1120.85H1279V1114.63H1280V1271.1ZM1281,1271.1V1111.6H1282V1111.6H1283V1111.6H1284V1113.77H1285V1111.6H1286V1113.1H1287V1111.6H1288V1122.23H1289V1111.6H1290V1117.07H1291V1117.16H1292V1123.64H1293V1271.1ZM1307,1271.1V1130.64H1308V1132.74H1309V1114.79H1310V1134.16H1311V1130.89H1312V1128.07H1313V1114.79H1314V1271.1ZM1315,1271.1V1126.5H1316V1123.12H1317V1128.07H1318V1114.79H1319V1122.82H1320V1125.27H1321V1132.75H1322V1123.42H1323V1114.79H1324V1271.1ZM1326,1271.1V1111.6H1327V1120.08H1328V1114.28H1329V1121.09H1330V1114.11H1331V1120.31H1332V1125.95H1333V1122.53H1334V1111.6H1335V1120.47H1336V1121.69H1337V1271.1ZM1338,1271.1V1130H1339V1125.11H1340V1111.6H1341V1127.88H1342V1111.6H1343V1129.19H1344V1129.99H1345V1124.8H1346V1125.4H1347V1127.87H1348V1125.17H1349V1120.7H1350V1127.4H1351V1111.6H1352V1126.01H1353V1120.48H1354V1119.03H1355V1123.96H1356V1126.17H1357V1271.1ZM1359,1271.1V1119.23H1360V1271.1ZM1361,1271.1V1116.75H1362V1123.3H1363V1123.36H1364V1116.93H1365V1271.1ZM1366,1271.1V1117.24H1367V1125.12H1368V1120.99H1369V1120.73H1370V1131.11H1371V1126.14H1372V1125.61H1373V1126.22H1374V1125.07H1375V1111.6H1376V1111.6H1377V1124.33H1378V1271.1ZM1379,1271.1V1132.99H1380V1125.4H1381V1111.6H1382V1122.41H1383V1124.94H1384V1127.95H1385V1124.51H1386V1119.59H1387V1123.51H1388V1126.9H1389V1111.6H1390V1125.05H1391V1118.95H1392V1123.73H1393V1121H1394V1123.26H1395V1118.57H1396V1130.76H1397V1111.6H1398V1271.1ZM1399,1271.1V1111.6H1400V1129.38H1401V1128.35H1402V1126.25H1403V1128.03H1404V1271.1ZM1405,1271.1V1119.35H1406V1122.14H1407V1117.73H1408V1115.38H1409V1125.71H1410V1131.71H1411V1132.52H1412V1123.44H1413V1131.17H1414V1127.46H1415V1119.19H1416V1123.9H1417V1119.8H1418V1111.6H1419V1271.1ZM1420,1271.1V1117.21H1421V1114.99H1422V1122.53H1423V1116.73H1424V1111.6H1425V1271.1ZM1426,1271.1V1120.45H1427V1111.6H1428V1115.02H1429V1120.99H1430V1271.1ZM1431,1271.1V1122.57H1432V1115.51H1433V1122.87H1434V1122.12H1435V1120.97H1436V1118.33H1437V1115.18H1438V1271.1ZM1439,1271.1V1123.43H1440V1271.1ZM1441,1271.1V1123.88H1442V1111.6H1443V1122.34H1444V1111.6H1445V1125.99H1446V1119.68H1447V1121.61H1448V1122.28H1449V1271.1ZM1450,1271.1V1124.37H1451V1126.09H1452V1111.6H1453V1115.08H1454V1112.02H1455V1120.44H1456V1119.94H1457V1111.6H1458V1271.1ZM1460,1271.1V1118.23H1461V1111.6H1462V1116.22H1463V1112.61H1464V1115.38H1465V1271.1ZM1466,1271.1V1111.6H1467V1120H1468V1271.1ZM1469,1271.1V1111.6H1470V1118.16H1471V1115.71H1472V1123.76H1473V1123.06H1474V1124.95H1475V1271.1ZM1476,1271.1V1123.38H1477V1124.96H1478V1125.34H1479V1111.6H1480V1111.6H1481V1271.1ZM1487,1271.1V1265.82H1488V1269.08H1489V1271.1ZM1490,1271.1V1265.73H1491V1267.93H1492V1268.91H1493V1271.1ZM1496,1271.1V1268H1497V1270.07H1498V1271.1ZM1499,1271.1V1266.57H1500V1271.1ZM1502,1271.1V1267.98H1503V1265.86H1504V1266.33H1505V1266.66H1506V1265.99H1507V1265.68H1508V1271.1ZM1509,1271.1V1269.19H1510V1268.74H1511V1267.6H1512V1269.76H1513V1271.1ZM1514,1271.1V1269.41H1515V1270.11H1516V1270.06H1517V1271.1ZM1518,1271.1V1266.1H1519V1271.1ZM1522,1271.1V1265.77H1523V1271.1ZM1525,1271.1V1268.1H1526V1269.32H1527V1269.18H1528V1271.1ZM1530,1271.1V1269.27H1531V1268.55H1532V1271.1ZM1533,1271.1V1266.12H1534V1269.08H1535V1269.68H1536V1265.77H1537V1269.02H1538V1271.1ZM1540,1271.1V1269.71H1541V1267.88H1542V1266.65H1543V1271.1ZM1544,1271.1V1266.99H1545V1271.1ZM1552,1271.1V1266.5H1553V1269.32H1554V1271.1ZM1556,1271.1V1265.61H1557V1267.72H1558V1271.1ZM1559,1271.1V1269.22H1560V1267.65H1561V1271.1ZM1562,1271.1V1265.99H1563V1267.75H1564V1265.78H1565V1267.6H1566V1271.1ZM1581,1271.1V1268.29H1582V1269.43H1583V1268.57H1584V1269.11H1585V1270.14H1586V1268.3H1587V1268.8H1588V1269.65H1589V1269.5H1590V1268.9H1591V1271.1ZM1592,1271.1V1269.82H1593V1268.24H1594V1268.21H1595V1268.3H1596V1271.1ZM1597,1271.1V1268.54H1598V1271.1ZM1599,1271.1V1269.87H1600V1269.69H1601V1269.34H1602V1268.59H1603V1268.03H1604V1269.29H1605V1270.02H1606V1269.34H1607V1268.78H1608V1269.43H1609V1268.36H1610V1269.26H1611V1268.39H1612V1269.77H1613V1271.1ZM1614,1271.1V1269.73H1615V1269H1616V1270.06H1617V1271.1ZM1623,1271.1V1120.87H1624V1125.39H1625V1111.6H1626V1125.26H1627V1123.24H1628V1123.38H1629V1128.33H1630V1271.1ZM1631,1271.1V1111.6H1632V1111.6H1633V1111.66H1634V1111.6H1635V1120.83H1636V1111.6H1637V1115.69H1638V1119.65H1639V1118.65H1640V1127.28H1641V1135.82H1642V1271.1ZM1661,1271.1V1269.6H1662V1268.76H1663V1268.73H1664V1269.07H1665V1268.94H1666V1269.59H1667V1269.88H1668V1271.1ZM1669,1271.1V1269.82H1670V1270.1H1671V1271.1ZM1672,1271.1V1269.68H1673V1269.46H1674V1271.1ZM1676,1271.1V1269.98H1677V1269.95H1678V1271.1ZM1679,1271.1V1268.74H1680V1269.95H1681V1271.1ZM1687,1271.1V1269.14H1688V1268.89H1689V1269.96H1690V1271.1ZM1691,1271.1V1269.29H1692V1271.1ZM1695,1271.1V1269.61H1696V1271.1ZM1699,1271.1V1269.03H1700V1271.1ZM1702,1271.1V1268.89H1703V1268.84H1704V1269.25H1705V1269.53H1706V1271.1ZM1707,1271.1V1269.93H1708V1268.95H1709V1268.81H1710V1271.1ZM1712,1271.1V1111.6H1713V1126.17H1714V1271.1ZM1715,1271.1V1135.09H1716V1136.02H1717V1127.13H1718V1136.72H1719V1131.72H1720V1131.38H1721V1133.12H1722V1124.67H1723V1124.81H1724V1126.82H1725V1134.67H1726V1125H1727V1124.49H1728V1111.6H1729V1271.1ZM1730,1271.1V1133.42H1731V1131.67H1732V1131.79H1733V1271.1ZM1734,1271.1V1127.99H1735V1123.2H1736V1271.1Z" fill="#42A279"/>
<path d="M180.3,1271.1h1.8V1243.98h-1.8ZM189.9,1271.1h1.8V1178.59h-1.8ZM190.6,1271.1h1.8V1111.6h-1.8ZM193.8,1271.1h1.8V1111.6h-1.8ZM194.6,1271.1h1.8V1243.98h-1.8ZM196.6,1271.1h1.8V1231.22h-1.8ZM198.7,1271.1h1.8V1111.6h-1.8ZM200.3,1271.1h1.8V1175.4h-1.8ZM204.1,1271.1h1.8V1259.93h-1.8ZM206.1,1271.1h1.8V1261.53h-1.8ZM210.6,1271.1h1.8V1255.15h-1.8ZM213.1,1271.1h1.8V1263.12h-1.8ZM221.1,1271.1h1.8V1191.35h-1.8ZM234.1,1271.1h1.8V1261.53h-1.8ZM236.1,1271.1h1.8V1256.74h-1.8ZM237.6,1271.1h1.8V1245.58h-1.8ZM249.1,1271.1h1.8V1151.47h-1.8ZM296.1,1271.1h1.8V1261.53h-1.8ZM298.1,1271.1h1.8V1261.53h-1.8ZM307.1,1271.1h1.8V1234.41h-1.8ZM309.7,1271.1h1.8V1199.32h-1.8ZM311.5,1271.1h1.8V1127.55h-1.8ZM313.1,1271.1h1.8V1135.52h-1.8ZM321.4,1271.1h1.8V1259.93h-1.8ZM326.6,1271.1h1.8V1159.45h-1.8ZM359.1,1271.1h1.8V1111.6h-1.8ZM360.4,1271.1h1.8V1191.35h-1.8ZM380.1,1271.1h1.8V1111.6h-1.8ZM382.6,1271.1h1.8V1111.6h-1.8ZM385.1,1271.1h1.8V1111.6h-1.8ZM387.6,1271.1h1.8V1111.6h-1.8ZM409.1,1271.1h1.8V1111.6h-1.8ZM411.6,1271.1h1.8V1111.6h-1.8ZM415.9,1271.1h1.8V1111.6h-1.8ZM423.1,1271.1h1.8V1259.93h-1.8ZM431.1,1271.1h1.8V1263.12h-1.8ZM435.6,1271.1h1.8V1263.12h-1.8ZM438.5,1271.1h1.8V1223.25h-1.8ZM439.8,1271.1h1.8V1138.71h-1.8ZM441.1,1271.1h1.8V1164.23h-1.8ZM443.7,1271.1h1.8V1111.6h-1.8ZM446.6,1271.1h1.8V1116.38h-1.8ZM448.7,1271.1h1.8V1119.57h-1.8ZM451.5,1271.1h1.8V1111.6h-1.8ZM459.4,1271.1h1.8V1116.38h-1.8ZM462.1,1271.1h1.8V1111.6h-1.8ZM466.1,1271.1h1.8V1116.38h-1.8ZM468.6,1271.1h1.8V1111.6h-1.8ZM471.6,1271.1h1.8V1135.52h-1.8ZM646.2,1271.1h1.8V1151.47h-1.8ZM650.9,1271.1h1.8V1218.46h-1.8ZM653,1271.1h1.8V1191.35h-1.8ZM656.1,1271.1h1.8V1255.15h-1.8ZM657.6,1271.1h1.8V1258.34h-1.8ZM659.1,1271.1h1.8V1255.15h-1.8ZM662.6,1271.1h1.8V1111.6h-1.8ZM666,1271.1h1.8V1231.22h-1.8ZM667.8,1271.1h1.8V1151.47h-1.8ZM701.6,1271.1h1.8V1218.46h-1.8ZM705.1,1271.1h1.8V1111.6h-1.8ZM712.8,1271.1h1.8V1231.22h-1.8ZM716,1271.1h1.8V1236.01h-1.8ZM731.6,1271.1h1.8V1239.2h-1.8ZM742.1,1271.1h1.8V1199.32h-1.8ZM744.6,1271.1h1.8V1143.5h-1.8ZM746.6,1271.1h1.8V1151.47h-1.8ZM748.1,1271.1h1.8V1199.32h-1.8ZM749.6,1271.1h1.8V1191.35h-1.8ZM751.1,1271.1h1.8V1199.32h-1.8ZM1124.1,1271.1h1.8V1159.45h-1.8ZM1127.1,1271.1h1.8V1151.47h-1.8ZM1187.5,1271.1h1.8V1191.35h-1.8ZM1190.1,1271.1h1.8V1111.6h-1.8ZM1197.9,1271.1h1.8V1111.6h-1.8ZM1213.1,1271.1h1.8V1191.35h-1.8ZM1227.1,1271.1h1.8V1191.35h-1.8ZM1297.1,1271.1h1.8V1111.6h-1.8ZM1301.1,1271.1h1.8V1140.31h-1.8ZM1417.6,1271.1h1.8V1191.35h-1.8ZM1419.1,1271.1h1.8V1191.35h-1.8ZM1483.1,1271.1h1.8V1250.37h-1.8ZM1504.1,1271.1h1.8V1255.15h-1.8ZM1506.1,1271.1h1.8V1258.34h-1.8ZM1509.1,1271.1h1.8V1259.93h-1.8ZM1511.6,1271.1h1.8V1255.15h-1.8ZM1519.1,1271.1h1.8V1259.93h-1.8ZM1531.1,1271.1h1.8V1259.93h-1.8ZM1546.1,1271.1h1.8V1231.22h-1.8ZM1558.1,1271.1h1.8V1243.98h-1.8ZM1569,1271.1h1.8V1111.6h-1.8ZM1573.7,1271.1h1.8V1191.35h-1.8ZM1575.1,1271.1h1.8V1191.35h-1.8ZM1576.8,1271.1h1.8V1202.51h-1.8ZM1586.7,1271.1h1.8V1256.74h-1.8ZM1598.9,1271.1h1.8V1164.23h-1.8ZM1600.2,1271.1h1.8V1151.47h-1.8ZM1601.5,1271.1h1.8V1111.6h-1.8ZM1605.4,1271.1h1.8V1263.12h-1.8ZM1619.7,1271.1h1.8V1111.6h-1.8ZM1644.5,1271.1h1.8V1151.47h-1.8ZM1646.6,1271.1h1.8V1132.34h-1.8ZM1649.1,1271.1h1.8V1111.6h-1.8ZM1651.6,1271.1h1.8V1143.5h-1.8ZM1656.1,1271.1h1.8V1255.15h-1.8ZM1667.9,1271.1h1.8V1218.46h-1.8ZM1669.1,1271.1h1.8V1111.6h-1.8ZM1697.8,1271.1h1.8V1255.15h-1.8ZM1699.1,1271.1h1.8V1250.37h-1.8ZM1701.7,1271.1h1.8V1255.15h-1.8ZM1708.1,1271.1h1.8V1255.15h-1.8ZM1709.6,1271.1h1.8V1247.17h-1.8ZM1739.5,1271.1h1.8V1111.6h-1.8ZM1741.1,1271.1h1.8V1135.52h-1.8ZM1748.6,1271.1h1.8V1111.6h-1.8ZM1751.1,1271.1h1.8V1111.6h-1.8ZM1753.6,1271.1h1.8V1119.57h-1.8ZM1755.6,1271.1h1.8V1111.6h-1.8Z" fill="#42A279"/>
<path d="M81,1485V1333.61H82V1333.35H83V1334.73H84V1337.48H85V1333.47H86V1329.29H87V1340.36H88V1329.59H89V1337.9H90V1325.5H91V1334.02H92V1344.18H93V1342.99H94V1340.7H95V1485ZM106,1485V1325.5H107V1485ZM108,1485V1335.74H109V1333.8H110V1333.54H111V1341.58H112V1346.18H113V1325.5H114V1344.81H115V1338.5H116V1485ZM122,1485V1326.48H123V1325.5H124V1325.5H125V1334.29H126V1325.5H127V1325.5H128V1485ZM129,1485V1325.5H130V1325.5H131V1485ZM137,1485V1325.5H138V1327.98H139V1325.5H140V1325.65H141V1325.5H142V1335.01H143V1485ZM144,1485V1336.22H145V1338.29H146V1328.32H147V1325.5H148V1334.62H149V1340.38H150V1330.22H151V1332.26H152V1485ZM153,1485V1325.5H154V1325.5H155V1325.5H156V1325.5H157V1330.09H158V1485ZM159,1485V1328.37H160V1333.42H161V1330.73H162V1332.09H163V1485ZM164,1485V1329.44H165V1325.5H166V1334.34H167V1325.5H168V1330.3H169V1332.95H170V1485ZM178,1485V1481.3H179V1482.44H180V1480.59H181V1482.09H182V1483.07H183V1483.8H184V1481.94H185V1485ZM187,1485V1480.26H188V1482.39H189V1483.36H190V1485ZM205,1485V1483.37H206V1485ZM207,1485V1482.89H208V1482.8H209V1485ZM210,1485V1481.78H211V1481.99H212V1485ZM213,1485V1480.72H214V1485ZM216,1485V1483.41H217V1485ZM218,1485V1483.41H219V1485ZM220,1485V1481.6H221V1485ZM222,1485V1481.62H223V1482.75H224V1485ZM226,1485V1481.15H227V1480.44H228V1485ZM229,1485V1476.2H230V1477.43H231V1473.26H232V1485ZM233,1485V1479.32H234V1476.39H235V1475.62H236V1472.98H237V1473.7H238V1479.56H239V1485ZM240,1485V1474.26H241V1485ZM244,1485V1478.16H245V1476.5H246V1485ZM247,1485V1481.56H248V1485ZM252,1485V1334.13H253V1344.79H254V1342.24H255V1325.5H256V1325.5H257V1345.71H258V1344.59H259V1485ZM260,1485V1353.05H261V1355.29H262V1485ZM263,1485V1356.95H264V1345.41H265V1325.5H266V1347.78H267V1348.82H268V1346.7H269V1356.35H270V1355.55H271V1485ZM272,1485V1355.1H273V1348.2H274V1345.58H275V1352.26H276V1341.53H277V1347.73H278V1485ZM279,1485V1339.62H280V1345.56H281V1485ZM282,1485V1342.69H283V1325.5H284V1349.84H285V1339.34H286V1485ZM287,1485V1480.25H288V1485ZM289,1485V1483.93H290V1485ZM291,1485V1481.19H292V1482.21H293V1485ZM295,1485V1482.78H296V1482.29H297V1485ZM299,1485V1481.68H300V1480.73H301V1480.61H302V1485ZM304,1485V1483.8H305V1485ZM330,1485V1332.23H331V1333.37H332V1329.74H333V1329.54H334V1325.5H335V1325.5H336V1327.86H337V1334.16H338V1325.5H339V1325.5H340V1330.1H341V1331H342V1336.9H343V1485ZM365,1485V1326.29H366V1485ZM367,1485V1331.1H368V1331.19H369V1326.47H370V1333.52H371V1331.64H372V1329.93H373V1331.83H374V1332.85H375V1325.5H376V1485ZM419,1485V1483.13H420V1485ZM421,1485V1481.64H422V1485ZM424,1485V1482.89H425V1482.03H426V1485ZM427,1485V1483.8H428V1480.96H429V1481.16H430V1480.39H431V1480.8H432V1480.62H433V1483.88H434V1485ZM487,1485V1338.74H488V1344.25H489V1335.78H490V1328.69H491V1339.67H492V1347.17H493V1344.55H494V1339.87H495V1338.78H496V1485ZM497,1485V1340.83H498V1485ZM499,1485V1328.69H500V1485ZM502,1485V1338.38H503V1333.44H504V1335.7H505V1328.5H506V1328.52H507V1485ZM508,1485V1332.2H509V1328.69H510V1335.67H511V1334.93H512V1333.53H513V1338.28H514V1485ZM515,1485V1338.39H516V1340.61H517V1335.89H518V1334.48H519V1336.25H520V1343.07H521V1485ZM522,1485V1337.98H523V1342.8H524V1338.09H525V1342H526V1334.94H527V1328.69H528V1342.02H529V1334.66H530V1336.95H531V1341.43H532V1338.46H533V1485ZM534,1485V1345.02H535V1339.11H536V1339.25H537V1485ZM538,1485V1328.69H539V1338.32H540V1342.41H541V1343.92H542V1342.85H543V1341.66H544V1342.93H545V1342.41H546V1341.36H547V1328.69H548V1328.69H549V1338.61H550V1328.69H551V1336.77H552V1328.69H553V1328.69H554V1346.57H555V1328.69H556V1340.42H557V1344.33H558V1338.15H559V1347.54H560V1337.11H561V1342.19H562V1347.08H563V1346.07H564V1485ZM566,1485V1339.23H567V1328.69H568V1335.2H569V1342.04H570V1485ZM571,1485V1337.24H572V1345.11H573V1328.69H574V1328.69H575V1342.14H576V1328.69H577V1342.04H578V1335.49H579V1328.69H580V1334.15H581V1328.69H582V1333.29H583V1331.1H584V1337.96H585V1329.16H586V1338.06H587V1329.34H588V1328.69H589V1328.69H590V1333.26H591V1328.69H592V1485ZM593,1485V1331.25H594V1335.31H595V1341.06H596V1336.84H597V1331.59H598V1339.51H599V1335.81H600V1332.38H601V1339.56H602V1337.27H603V1335.59H604V1330.14H605V1485ZM606,1485V1338.6H607V1328.69H608V1332.99H609V1340.5H610V1338.55H611V1485ZM612,1485V1328.72H613V1328.69H614V1335.08H615V1334.12H616V1333.06H617V1336.77H618V1331.59H619V1328.22H620V1485ZM621,1485V1328.69H622V1485ZM623,1485V1338.07H624V1335.56H625V1325.92H626V1325.5H627V1336.12H628V1328.69H629V1333.16H630V1328.69H631V1328.69H632V1328.69H633V1338.8H634V1335.69H635V1336.36H636V1340.58H637V1337.62H638V1340.41H639V1485ZM669,1485V1356.19H670V1349.19H671V1336.67H672V1325.5H673V1335.46H674V1338.3H675V1485ZM676,1485V1340.09H677V1337.04H678V1341.02H679V1485ZM680,1485V1336.43H681V1337.14H682V1339.05H683V1341.59H684V1325.5H685V1343.72H686V1346.83H687V1348.73H688V1345.09H689V1485ZM690,1485V1337.46H691V1338.55H692V1341.02H693V1344.19H694V1485ZM695,1485V1325.5H696V1346.83H697V1485ZM708,1485V1482.96H709V1483.57H710V1482.86H711V1482.59H712V1483.02H713V1483.72H714V1482.24H715V1483.75H716V1485ZM720,1485V1325.5H721V1485ZM722,1485V1336.27H723V1332.96H724V1331.27H725V1341.15H726V1339.6H727V1333.48H728V1340.63H729V1331.99H730V1333.71H731V1485ZM735,1485V1483.8H736V1481.23H737V1483.56H738V1479.64H739V1477.78H740V1481.7H741V1485ZM742,1485V1482.64H743V1481.43H744V1481.48H745V1479.52H746V1477.05H747V1483.52H748V1485ZM749,1485V1478.65H750V1485ZM752,1485V1481.22H753V1334.4H754V1338.2H755V1340.18H756V1339.95H757V1341.31H758V1338.79H759V1335.07H760V1342H761V1334.14H762V1339.31H763V1338.3H764V1485ZM765,1485V1327.1H766V1327.1H767V1338.73H768V1346.06H769V1346.97H770V1343.07H771V1340.37H772V1341.85H773V1344.68H774V1338.11H775V1349.1H776V1327.1H777V1342.74H778V1338.45H779V1338.39H780V1339.04H781V1341.85H782V1348.26H783V1341.27H784V1347.86H785V1327.1H786V1339.03H787V1485ZM788,1485V1336.33H789V1327.1H790V1340.93H791V1485ZM792,1485V1327.1H793V1345.08H794V1337.03H795V1341.12H796V1335.08H797V1334.08H798V1485ZM799,1485V1327.1H800V1327.97H801V1329.82H802V1333.36H803V1336.57H804V1336.64H805V1329.42H806V1334.89H807V1333.59H808V1325.56H809V1332.16H810V1332.82H811V1327.1H812V1327.95H813V1326.47H814V1485ZM815,1485V1333.56H816V1330.56H817V1325.5H818V1334.83H819V1334.72H820V1336.34H821V1334.2H822V1485ZM823,1485V1326.74H824V1327.1H825V1485ZM826,1485V1336.46H827V1327.1H828V1331.12H829V1328.01H830V1330.39H831V1325.79H832V1331.55H833V1326.79H834V1485ZM835,1485V1327.1H836V1333.99H837V1328.05H838V1336.48H839V1337.37H840V1331.94H841V1327.1H842V1332.02H843V1332.05H844V1333.18H845V1330.53H846V1338.6H847V1485ZM848,1485V1332.94H849V1327.1H850V1335.15H851V1337.09H852V1333.07H853V1329.83H854V1335.62H855V1485ZM856,1485V1338.12H857V1327.1H858V1343.5H859V1337.56H860V1333.23H861V1327.1H862V1332.39H863V1335.66H864V1340.38H865V1341.05H866V1336.98H867V1327.1H868V1339.5H869V1340.26H870V1336.47H871V1346.17H872V1347.75H873V1338.15H874V1338.24H875V1327.1H876V1346.49H877V1327.1H878V1336.93H879V1336.7H880V1327.1H881V1327.1H882V1337.86H883V1346.16H884V1337.17H885V1337.85H886V1334.03H887V1343.76H888V1334.94H889V1337.3H890V1345.28H891V1340.98H892V1334.02H893V1344.04H894V1342.48H895V1327.1H896V1341.53H897V1333.68H898V1338.52H899V1327.1H900V1333.11H901V1331.03H902V1327.1H903V1336.64H904V1337.79H905V1334.11H906V1327.1H907V1327.1H908V1485ZM910,1485V1334.91H911V1331.78H912V1327.96H913V1339.26H914V1334.53H915V1328.08H916V1328.75H917V1328.82H918V1332.45H919V1334.52H920V1331.11H921V1326.97H922V1331.11H923V1327.1H924V1326.39H925V1332.15H926V1337.13H927V1339.38H928V1338.21H929V1335.54H930V1341.03H931V1327.1H932V1332.35H933V1331.93H934V1485ZM935,1485V1325.86H936V1325.77H937V1333.05H938V1334.6H939V1485ZM940,1485V1335.65H941V1338.5H942V1485ZM943,1485V1342.07H944V1344.47H945V1343.06H946V1337.22H947V1340.12H948V1346.06H949V1485ZM950,1485V1336.03H951V1327.1H952V1327.1H953V1485ZM954,1485V1327.1H955V1333.51H956V1327.1H957V1333.76H958V1333.64H959V1339.91H960V1343.79H961V1333.24H962V1335.18H963V1485ZM964,1485V1339.04H965V1485ZM966,1485V1343.74H967V1334.82H968V1334H969V1341.62H970V1337.15H971V1337.34H972V1485ZM973,1485V1340.47H974V1327.1H975V1327.1H976V1339.61H977V1333.45H978V1485ZM979,1485V1327.1H980V1340.59H981V1335.12H982V1341.17H983V1336.76H984V1332.14H985V1331.31H986V1334.94H987V1338.49H988V1337.46H989V1327.1H990V1331.96H991V1342.96H992V1333.52H993V1333.74H994V1327.1H995V1333.17H996V1327.1H997V1336.39H998V1336.76H999V1327.1H1000V1327.1H1001V1327.1H1002V1334.45H1003V1327.1H1004V1327.1H1005V1330.4H1006V1325.5H1007V1333.19H1008V1327.1H1009V1333.75H1010V1485ZM1011,1485V1339.83H1012V1338.37H1013V1327.1H1014V1339.31H1015V1345.2H1016V1327.1H1017V1342.87H1018V1338.28H1019V1335.55H1020V1327.1H1021V1334.72H1022V1336.5H1023V1485ZM1024,1485V1336.42H1025V1336.55H1026V1485ZM1027,1485V1334.09H1028V1340.42H1029V1336.98H1030V1338.26H1031V1337.18H1032V1342.95H1033V1339.83H1034V1338.09H1035V1485ZM1037,1485V1339.78H1038V1485ZM1039,1485V1340.13H1040V1334.4H1041V1334.25H1042V1341.21H1043V1334.74H1044V1333.21H1045V1340.12H1046V1343.67H1047V1337.6H1048V1338.47H1049V1327.1H1050V1335.66H1051V1327.1H1052V1327.1H1053V1341.41H1054V1485ZM1055,1485V1332.55H1056V1327.1H1057V1485ZM1058,1485V1343.58H1059V1338.71H1060V1485ZM1061,1485V1338.13H1062V1333.48H1063V1485ZM1064,1485V1327.1H1065V1344.47H1066V1336.52H1067V1340.55H1068V1327.1H1069V1342.73H1070V1338.56H1071V1337.64H1072V1331.11H1073V1327.1H1074V1333.66H1075V1328.08H1076V1325.5H1077V1325.5H1078V1325.52H1079V1485ZM1080,1485V1325.5H1081V1325.79H1082V1327.1H1083V1328.18H1084V1325.82H1085V1485ZM1086,1485V1330.74H1087V1330.14H1088V1325.5H1089V1325.5H1090V1328.35H1091V1331.21H1092V1331.89H1093V1332.97H1094V1337.97H1095V1485ZM1096,1485V1339.71H1097V1337.33H1098V1344.05H1099V1485ZM1100,1485V1338.71H1101V1347.24H1102V1485ZM1103,1485V1344.51H1104V1349.42H1105V1339.05H1106V1339.92H1107V1335.23H1108V1485ZM1109,1485V1336.42H1110V1329.85H1111V1333.84H1112V1327.1H1113V1338.5H1114V1485ZM1132,1485V1325.5H1133V1326.1H1134V1328.19H1135V1325.5H1136V1325.5H1137V1325.5H1138V1325.5H1139V1328.58H1140V1325.5H1141V1485ZM1166,1485V1348.08H1167V1347.85H1168V1346H1169V1325.5H1170V1341.98H1171V1485ZM1172,1485V1338.42H1173V1337.56H1174V1343.78H1175V1485ZM1209,1485V1326.39H1210V1334.71H1211V1325.5H1212V1325.5H1213V1325.5H1214V1335.39H1215V1341.07H1216V1485ZM1229,1485V1335.75H1230V1339.99H1231V1342.66H1232V1337.93H1233V1335.33H1234V1337.09H1235V1342.1H1236V1343.65H1237V1485ZM1238,1485V1333.73H1239V1342.84H1240V1331.71H1241V1325.5H1242V1342.49H1243V1336.57H1244V1325.5H1245V1336.37H1246V1325.5H1247V1335H1248V1328.8H1249V1485ZM1250,1485V1335.74H1251V1336.14H1252V1336.74H1253V1334.1H1254V1335.18H1255V1485ZM1259,1485V1338.24H1260V1331.79H1261V1329.49H1262V1332.29H1263V1328.73H1264V1333.39H1265V1330.29H1266V1327.17H1267V1334.59H1268V1333.2H1269V1330.29H1270V1340.58H1271V1339.15H1272V1339.58H1273V1340.2H1274V1335.58H1275V1329.55H1276V1329.82H1277V1338.11H1278V1339.31H1279V1330.29H1280V1338.75H1281V1339.17H1282V1334.3H1283V1332.87H1284V1333.17H1285V1340.96H1286V1343.17H1287V1330.29H1288V1343.83H1289V1337.39H1290V1334.12H1291V1330.29H1292V1337.97H1293V1345.19H1294V1337.12H1295V1341.68H1296V1338.34H1297V1340.16H1298V1335.68H1299V1330.29H1300V1337.74H1301V1338.96H1302V1485ZM1307,1485V1334.82H1308V1330.75H1309V1334.57H1310V1334.96H1311V1325.5H1312V1330.42H1313V1332.14H1314V1485ZM1315,1485V1325.5H1316V1325.5H1317V1337.08H1318V1330.15H1319V1338.44H1320V1341.43H1321V1325.5H1322V1332.11H1323V1342.4H1324V1485ZM1327,1485V1328.21H1328V1333.52H1329V1327.82H1330V1332.77H1331V1325.5H1332V1485ZM1333,1485V1325.5H1334V1326.15H1335V1325.5H1336V1326.36H1337V1485ZM1338,1485V1329.06H1339V1330.23H1340V1325.5H1341V1326.07H1342V1328.1H1343V1334.77H1344V1325.5H1345V1330.41H1346V1328.15H1347V1325.7H1348V1328.85H1349V1329.32H1350V1325.62H1351V1325.5H1352V1335.23H1353V1485ZM1354,1485V1336.12H1355V1325.5H1356V1485ZM1357,1485V1330.58H1358V1485ZM1359,1485V1335.68H1360V1328.66H1361V1334.64H1362V1336.22H1363V1327.08H1364V1328.71H1365V1485ZM1366,1485V1325.5H1367V1330.8H1368V1328.03H1369V1325.5H1370V1325.5H1371V1485ZM1373,1485V1340.27H1374V1485ZM1375,1485V1337.52H1376V1325.5H1377V1340.77H1378V1336.14H1379V1339.29H1380V1325.5H1381V1332.58H1382V1325.5H1383V1325.5H1384V1325.5H1385V1329.6H1386V1325.5H1387V1328.23H1388V1335.66H1389V1325.5H1390V1325.5H1391V1337.79H1392V1325.5H1393V1331.18H1394V1333.34H1395V1338.8H1396V1338.42H1397V1329.8H1398V1485ZM1399,1485V1336.06H1400V1336.99H1401V1325.5H1402V1337.56H1403V1332.4H1404V1330.81H1405V1335.83H1406V1485ZM1407,1485V1325.5H1408V1344.88H1409V1325.5H1410V1339.37H1411V1342.71H1412V1346.41H1413V1337.23H1414V1341.1H1415V1325.5H1416V1333.06H1417V1485ZM1418,1485V1331.8H1419V1485ZM1420,1485V1334.07H1421V1325.5H1422V1325.5H1423V1328.89H1424V1325.5H1425V1485ZM1426,1485V1328.4H1427V1325.5H1428V1325.5H1429V1331.1H1430V1332.04H1431V1338.41H1432V1331.89H1433V1337.48H1434V1325.5H1435V1335.81H1436V1328.56H1437V1485ZM1438,1485V1325.5H1439V1330.34H1440V1333.61H1441V1334.79H1442V1335.32H1443V1485ZM1444,1485V1325.5H1445V1332.47H1446V1335.69H1447V1325.5H1448V1343.74H1449V1340.19H1450V1485ZM1451,1485V1333.81H1452V1342.71H1453V1343.95H1454V1339.43H1455V1325.5H1456V1325.5H1457V1336.83H1458V1336.3H1459V1325.5H1460V1344.2H1461V1345.01H1462V1485ZM1463,1485V1335.42H1464V1340.49H1465V1485ZM1466,1485V1336.82H1467V1485ZM1468,1485V1341.91H1469V1325.5H1470V1485ZM1471,1485V1334.69H1472V1337.55H1473V1325.5H1474V1340.63H1475V1337.22H1476V1325.5H1477V1344.41H1478V1340.54H1479V1344.63H1480V1485ZM1486,1485V1482.39H1487V1481.65H1488V1482.1H1489V1478.42H1490V1485ZM1493,1485V1479.15H1494V1485ZM1495,1485V1483.62H1496V1482.91H1497V1477.49H1498V1480.78H1499V1478.31H1500V1477.58H1501V1477.68H1502V1481.31H1503V1478.24H1504V1483.78H1505V1481.11H1506V1483.22H1507V1480.93H1508V1485ZM1510,1485V1478.84H1511V1483.69H1512V1479.84H1513V1482.28H1514V1485ZM1515,1485V1478.7H1516V1485ZM1517,1485V1477.12H1518V1485ZM1519,1485V1480.41H1520V1477.68H1521V1482.71H1522V1482.08H1523V1481.01H1524V1485ZM1525,1485V1481.29H1526V1477.6H1527V1479.98H1528V1483.81H1529V1481.66H1530V1477.55H1531V1478.54H1532V1478.68H1533V1485ZM1534,1485V1481.71H1535V1482.57H1536V1485ZM1538,1485V1481.13H1539V1485ZM1540,1485V1477.58H1541V1481.43H1542V1481.75H1543V1482.46H1544V1480.57H1545V1477.85H1546V1483.68H1547V1477.14H1548V1479.01H1549V1482.13H1550V1482.74H1551V1485ZM1552,1485V1478.35H1553V1485ZM1555,1485V1478.35H1556V1478.91H1557V1479.41H1558V1485ZM1559,1485V1482.42H1560V1485ZM1562,1485V1480.12H1563V1483.71H1564V1485ZM1567,1485V1480.57H1568V1485ZM1581,1485V1481.75H1582V1481.28H1583V1485ZM1584,1485V1482.42H1585V1485ZM1589,1485V1478.51H1590V1479.75H1591V1477.33H1592V1485ZM1593,1485V1483.16H1594V1482.88H1595V1485ZM1597,1485V1483.8H1598V1485ZM1599,1485V1480.92H1600V1483.96H1601V1480.32H1602V1478.74H1603V1479.09H1604V1482.89H1605V1485ZM1608,1485V1480.02H1609V1477.98H1610V1481.59H1611V1480.74H1612V1478.99H1613V1481.91H1614V1482.94H1615V1483.55H1616V1482.64H1617V1485ZM1618,1485V1483.38H1619V1482.87H1620V1485ZM1624,1485V1338.03H1625V1341H1626V1344.43H1627V1333.53H1628V1345.68H1629V1331.34H1630V1325.5H1631V1330.54H1632V1325.5H1633V1339.16H1634V1485ZM1635,1485V1328.54H1636V1329.72H1637V1325.56H1638V1485ZM1639,1485V1330.78H1640V1339.36H1641V1485ZM1656,1485V1481.52H1657V1483.97H1658V1485ZM1659,1485V1481.21H1660V1485ZM1666,1485V1482.04H1667V1482.11H1668V1485ZM1670,1485V1483.79H1671V1485ZM1672,1485V1479.83H1673V1483.05H1674V1485ZM1676,1485V1481.31H1677V1481.49H1678V1480.77H1679V1482.53H1680V1482.03H1681V1478.81H1682V1482.01H1683V1480.21H1684V1481.18H1685V1480.48H1686V1485ZM1689,1485V1479.94H1690V1480.32H1691V1478.83H1692V1481.3H1693V1481.81H1694V1485ZM1695,1485V1480.87H1696V1479.2H1697V1480.82H1698V1485ZM1699,1485V1481.84H1700V1481.42H1701V1479.99H1702V1479.6H1703V1483.09H1704V1478.86H1705V1479.82H1706V1481.19H1707V1485ZM1708,1485V1481.77H1709V1485ZM1721,1485V1343.29H1722V1337.12H1723V1485ZM1724,1485V1331.64H1725V1336.61H1726V1336.95H1727V1338.63H1728V1485ZM1729,1485V1333.51H1730V1334.26H1731V1331.23H1732V1331.45H1733V1331.6H1734V1337.15H1735V1325.5H1736V1485ZM1785,1485V1325.5H1786V1325.5H1787V1330.48H1788V1331H1789V1325.5H1790V1485Z" fill="#53B1E8"/>
<path d="M100.6,1485h1.8V1405.25h-1.8ZM105.1,1485h1.8V1373.35h-1.8ZM112.1,1485h1.8V1378.13h-1.8ZM169.6,1485h1.8V1477.03h-1.8ZM171.1,1485h1.8V1473.84h-1.8ZM175.6,1485h1.8V1445.12h-1.8ZM189.9,1485h1.8V1346.24h-1.8ZM193.3,1485h1.8V1333.47h-1.8ZM194.4,1485h1.8V1457.88h-1.8ZM197,1485h1.8V1453.1h-1.8ZM198.1,1485h1.8V1357.4h-1.8ZM200.3,1485h1.8V1354.21h-1.8ZM204.1,1485h1.8V1473.84h-1.8ZM214.6,1485h1.8V1477.03h-1.8ZM234.6,1485h1.8V1469.05h-1.8ZM240.6,1485h1.8V1469.05h-1.8ZM243.1,1485h1.8V1464.27h-1.8ZM249.1,1485h1.8V1386.11h-1.8ZM282.1,1485h1.8V1357.4h-1.8ZM284.6,1485h1.8V1389.3h-1.8ZM300.5,1485h1.8V1469.05h-1.8ZM305.8,1485h1.8V1453.1h-1.8ZM307.6,1485h1.8V1413.22h-1.8ZM309.7,1485h1.8V1381.33h-1.8ZM311.5,1485h1.8V1325.5h-1.8ZM318.3,1485h1.8V1469.05h-1.8ZM321.4,1485h1.8V1477.03h-1.8ZM323.1,1485h1.8V1469.05h-1.8ZM325.3,1485h1.8V1473.84h-1.8ZM326.6,1485h1.8V1418.01h-1.8ZM381.1,1485h1.8V1405.25h-1.8ZM383.8,1485h1.8V1357.4h-1.8ZM385.6,1485h1.8V1325.5h-1.8ZM388.1,1485h1.8V1325.5h-1.8ZM390.6,1485h1.8V1325.5h-1.8ZM393.7,1485h1.8V1325.5h-1.8ZM409.1,1485h1.8V1325.5h-1.8ZM411.6,1485h1.8V1325.5h-1.8ZM415.9,1485h1.8V1325.5h-1.8ZM425.6,1485h1.8V1473.84h-1.8ZM435.9,1485h1.8V1453.1h-1.8ZM438.5,1485h1.8V1464.27h-1.8ZM439.8,1485h1.8V1472.24h-1.8ZM441.1,1485h1.8V1472.24h-1.8ZM443.1,1485h1.8V1413.22h-1.8ZM446.1,1485h1.8V1376.54h-1.8ZM447.6,1485h1.8V1336.66h-1.8ZM451.5,1485h1.8V1333.47h-1.8ZM459.4,1485h1.8V1336.66h-1.8ZM460.6,1485h1.8V1357.4h-1.8ZM466.1,1485h1.8V1325.5h-1.8ZM468.6,1485h1.8V1333.47h-1.8ZM471.6,1485h1.8V1341.45h-1.8ZM640,1485h1.8V1461.08h-1.8ZM642.6,1485h1.8V1461.08h-1.8ZM646.2,1485h1.8V1381.33h-1.8ZM650.9,1485h1.8V1461.08h-1.8ZM653,1485h1.8V1453.1h-1.8ZM654.1,1485h1.8V1349.42h-1.8ZM657.4,1485h1.8V1477.03h-1.8ZM659.1,1485h1.8V1477.03h-1.8ZM662.6,1485h1.8V1360.59h-1.8ZM666,1485h1.8V1429.17h-1.8ZM696.4,1485h1.8V1445.12h-1.8ZM701.6,1485h1.8V1469.05h-1.8ZM704.1,1485h1.8V1325.5h-1.8ZM705.6,1485h1.8V1357.4h-1.8ZM716,1485h1.8V1456.29h-1.8ZM731.1,1485h1.8V1461.08h-1.8ZM841.1,1485h1.8V1389.3h-1.8ZM842.1,1485h1.8V1389.3h-1.8ZM1124.1,1485h1.8V1325.5h-1.8ZM1127.1,1485h1.8V1338.26h-1.8ZM1146.4,1485h1.8V1365.38h-1.8ZM1148.1,1485h1.8V1336.66h-1.8ZM1150.1,1485h1.8V1336.66h-1.8ZM1187.5,1485h1.8V1405.25h-1.8ZM1189.3,1485h1.8V1325.5h-1.8ZM1197.9,1485h1.8V1341.45h-1.8ZM1203.6,1485h1.8V1325.5h-1.8ZM1206.1,1485h1.8V1397.28h-1.8ZM1404.1,1485h1.8V1453.1h-1.8ZM1483.1,1485h1.8V1453.1h-1.8ZM1504.3,1485h1.8V1457.88h-1.8ZM1513.1,1485h1.8V1472.24h-1.8ZM1526.6,1485h1.8V1472.24h-1.8ZM1543.7,1485h1.8V1405.25h-1.8ZM1544.6,1485h1.8V1449.91h-1.8ZM1558.2,1485h1.8V1448.32h-1.8ZM1561.8,1485h1.8V1419.61h-1.8ZM1567.3,1485h1.8V1381.33h-1.8ZM1569.1,1485h1.8V1347.83h-1.8ZM1573.3,1485h1.8V1373.35h-1.8ZM1575.7,1485h1.8V1376.54h-1.8ZM1577.9,1485h1.8V1325.5h-1.8ZM1600,1485h1.8V1379.73h-1.8ZM1602.1,1485h1.8V1341.45h-1.8ZM1619.6,1485h1.8V1457.88h-1.8ZM1622.7,1485h1.8V1413.22h-1.8ZM1643.6,1485h1.8V1365.38h-1.8ZM1645.1,1485h1.8V1429.17h-1.8ZM1647.6,1485h1.8V1394.09h-1.8ZM1650.5,1485h1.8V1330.29h-1.8ZM1652.1,1485h1.8V1360.59h-1.8ZM1668.7,1485h1.8V1410.04h-1.8ZM1675.1,1485h1.8V1469.05h-1.8ZM1682.1,1485h1.8V1469.05h-1.8ZM1687.1,1485h1.8V1480.21h-1.8ZM1695.9,1485h1.8V1465.86h-1.8ZM1699.1,1485h1.8V1473.84h-1.8ZM1709.5,1485h1.8V1457.88h-1.8ZM1711.1,1485h1.8V1429.17h-1.8ZM1712.1,1485h1.8V1330.29h-1.8ZM1714.1,1485h1.8V1437.15h-1.8ZM1715.6,1485h1.8V1461.08h-1.8ZM1717.1,1485h1.8V1429.17h-1.8ZM1718.6,1485h1.8V1453.1h-1.8ZM1738.1,1485h1.8V1331.88h-1.8ZM1740.6,1485h1.8V1331.88h-1.8ZM1742.8,1485h1.8V1341.45h-1.8ZM1748.9,1485h1.8V1343.05h-1.8ZM1801.8,1485h1.8V1481.81h-1.8Z" fill="#53B1E8"/>
<line x1="322.5" y1="901.6" x2="322.5" y2="1066.6" stroke="#FF0000" stroke-width="2.9" stroke-linecap="round" stroke-dasharray="8,14.6"/>
<line x1="433.5" y1="901.6" x2="433.5" y2="1066.6" stroke="#FF0000" stroke-width="2.9" stroke-linecap="round" stroke-dasharray="8,14.6"/>
<line x1="744.5" y1="901.6" x2="744.5" y2="1066.6" stroke="#FF0000" stroke-width="2.9" stroke-linecap="round" stroke-dasharray="8,14.6"/>
<line x1="753.7" y1="901.6" x2="753.7" y2="1066.6" stroke="#FF0000" stroke-width="2.9" stroke-linecap="round" stroke-dasharray="8,14.6"/>
<line x1="1502.4" y1="901.6" x2="1502.4" y2="1066.6" stroke="#FF0000" stroke-width="2.9" stroke-linecap="round" stroke-dasharray="8,14.6"/>
<line x1="1522.7" y1="901.6" x2="1522.7" y2="1066.6" stroke="#FF0000" stroke-width="2.9" stroke-linecap="round" stroke-dasharray="8,14.6"/>
<line x1="322.5" y1="1111.4" x2="322.5" y2="1276.3" stroke="#FF0000" stroke-width="2.9" stroke-linecap="round" stroke-dasharray="8,14.6"/>
<line x1="433.5" y1="1111.4" x2="433.5" y2="1276.3" stroke="#FF0000" stroke-width="2.9" stroke-linecap="round" stroke-dasharray="8,14.6"/>
<line x1="744.5" y1="1111.4" x2="744.5" y2="1276.3" stroke="#FF0000" stroke-width="2.9" stroke-linecap="round" stroke-dasharray="8,14.6"/>
<line x1="753.7" y1="1111.4" x2="753.7" y2="1276.3" stroke="#FF0000" stroke-width="2.9" stroke-linecap="round" stroke-dasharray="8,14.6"/>
<line x1="1502.4" y1="1111.4" x2="1502.4" y2="1276.3" stroke="#FF0000" stroke-width="2.9" stroke-linecap="round" stroke-dasharray="8,14.6"/>
<line x1="1522.7" y1="1111.4" x2="1522.7" y2="1276.3" stroke="#FF0000" stroke-width="2.9" stroke-linecap="round" stroke-dasharray="8,14.6"/>
<line x1="322.5" y1="1325.3" x2="322.5" y2="1490.2" stroke="#FF0000" stroke-width="2.9" stroke-linecap="round" stroke-dasharray="8,14.6"/>
<line x1="433.5" y1="1325.3" x2="433.5" y2="1490.2" stroke="#FF0000" stroke-width="2.9" stroke-linecap="round" stroke-dasharray="8,14.6"/>
<line x1="744.5" y1="1325.3" x2="744.5" y2="1490.2" stroke="#FF0000" stroke-width="2.9" stroke-linecap="round" stroke-dasharray="8,14.6"/>
<line x1="753.7" y1="1325.3" x2="753.7" y2="1490.2" stroke="#FF0000" stroke-width="2.9" stroke-linecap="round" stroke-dasharray="8,14.6"/>
<line x1="1502.4" y1="1325.3" x2="1502.4" y2="1490.2" stroke="#FF0000" stroke-width="2.9" stroke-linecap="round" stroke-dasharray="8,14.6"/>
<line x1="1522.7" y1="1325.3" x2="1522.7" y2="1490.2" stroke="#FF0000" stroke-width="2.9" stroke-linecap="round" stroke-dasharray="8,14.6"/>
<path d="M145.4,1729.3L145.4,1721.7L146.85,1721.12L148.3,1718.4L149.4,1722.99L150.5,1724.9L152,1725.1L153.5,1724.9L154.9,1719.12L156.3,1709.7L157.75,1716.96L159.2,1718.4L160.5,1716.05L161.8,1712.5L163.1,1713.91L164.4,1718.88L165.7,1723.9L167,1716.9L168.3,1712.5L169.95,1713.81L171.6,1710.8L172.7,1703.85L173.8,1697.7L175.4,1712.62L177,1723.9L178.1,1719.54L179.2,1711.9L180.85,1710.2L182.5,1700.5L184.15,1711.46L185.8,1717.3L187.1,1701.44L188.4,1694.4L189.7,1697.67L191,1706.19L192.3,1716.2L193.65,1707.51L195,1707.33L196.35,1700.39L197.7,1691.6L198.8,1697.31L199.9,1706.4L201.55,1699.27L203.2,1697.7L204.85,1696.53L206.5,1704.2L208,1689L209.3,1661.06L210.6,1666.6L211.9,1634.5L213.5,1649.3L215.2,1634.5L216.3,1638.09L217.4,1649.8L219,1648.47L220.6,1658.5L222.25,1655.01L223.9,1651.9L225.55,1680.64L227.2,1693.3L228.8,1657.15L230.4,1619.3L232.05,1676.66L233.7,1710.8L234.8,1712.44L235.9,1719.5L237.55,1710.32L239.2,1706.4L240.6,1695.35L242,1685.7L243.3,1703.94L244.6,1717.3L246.25,1721.57L247.9,1727.6L249.38,1721.72L250.85,1713.41L252.33,1706.41L253.8,1703.2L255.32,1708.02L256.85,1713.62L258.38,1717.4L259.9,1722.8L261.25,1724.21L262.6,1725.9L263.95,1726.79L265.3,1727.6L266.95,1724.12L268.6,1721.7L270.2,1721.6L271.8,1719.96L273.4,1715.6L274.7,1716.98L276,1720.6L277.3,1721.7L278.95,1719.91L280.6,1718.4L282.03,1719.62L283.47,1721.2L284.9,1721.7L286.27,1720.04L287.65,1722.72L289.02,1721.99L290.4,1721.7L291.75,1721.74L293.1,1718.93L294.45,1719.47L295.8,1717.3L297.45,1706.82L299.1,1693.3L300.53,1666.44L301.97,1658.01L303.4,1631.2L304.87,1654.39L306.33,1672.8L307.8,1706.4L308.9,1727.6L308.9,1729.3ZM315.4,1729.3L315.4,1727.6L317.05,1703.7L318.7,1667.2L320.35,1692.37L322,1699.9L323.6,1679.89L325.2,1646.5L326.85,1683.07L328.5,1727.6L328.5,1729.3ZM417.8,1729.3L417.8,1727.6L418.9,1699.9L420.2,1692.1L421.5,1687.9L422.83,1700.7L424.17,1707.76L425.5,1715.1L426.55,1722.35L427.6,1727.3L428.7,1726.16L429.8,1724.9L431.45,1723.63L433.1,1719.5L434.2,1716.26L435.3,1715.1L436.9,1709.46L438.5,1709.7L439.97,1711.86L441.43,1718.85L442.9,1724.9L444.37,1721.85L445.83,1723L447.3,1719.5L448.9,1712.02L450.5,1701L451.6,1695.86L452.7,1702.1L453.8,1690.85L454.9,1687.9L456.55,1709.42L458.2,1727.6L458.2,1729.3ZM464.7,1729.3L464.7,1727.6L465.8,1718.4L467.15,1710.87L468.5,1708.29L469.85,1701.4L471.2,1700.3L472.3,1702.94L473.4,1700.3L475.05,1708.77L476.7,1710.8L477.8,1706.13L478.9,1700.3L480,1709.35L481.1,1710.8L482.7,1706.79L484.3,1700.3L485.77,1699.06L487.23,1709.61L488.7,1711.9L490.3,1710.09L491.9,1697.7L493,1708.83L494.1,1709.7L495.58,1712.55L497.05,1707.25L498.52,1710.88L500,1709.7L500.9,1709.4L502.27,1706.7L503.63,1704.7L505,1694.4L506.17,1683.16L507.33,1689.45L508.5,1684.9L510.15,1698.93L511.8,1704L513.45,1705.04L515.1,1694.4L516.27,1702.7L517.43,1702.62L518.6,1699.9L520.13,1686.83L521.67,1687.52L523.2,1669.9L524.4,1692.06L525.6,1695.51L526.8,1708.1L528.15,1706.79L529.5,1699.9L530.87,1687.69L532.23,1696.89L533.6,1685.7L534.97,1696.82L536.33,1706.29L537.7,1720.3L539.4,1713.79L541.1,1701L542.8,1699.15L544.5,1691.7L545.87,1702.41L547.23,1707.14L548.6,1713.5L549.95,1715.37L551.3,1710.77L552.65,1710.71L554,1706.7L555.58,1701.76L557.17,1701.31L558.75,1703.97L560.33,1708.45L561.92,1705.05L563.5,1701.2L564.87,1708.82L566.23,1713.52L567.6,1716.2L568.97,1714.16L570.33,1704.61L571.7,1704L573.08,1706.66L574.45,1706.47L575.83,1693.62L577.2,1697.7L578.55,1698.41L579.9,1694.71L581.25,1703.57L582.6,1704L584.16,1700.23L585.71,1703.54L587.27,1702.74L588.83,1703.87L590.39,1706.98L591.94,1711.42L593.5,1708.1L594.88,1707.81L596.25,1696.64L597.62,1692.29L599,1694.4L600.33,1693.81L601.67,1706.19L603,1709.4L604.57,1701.72L606.13,1693.42L607.7,1691.7L609.33,1694.66L610.97,1697.88L612.6,1706.7L614.3,1703.31L616,1698.59L617.7,1694.87L619.4,1694.4L620.75,1701.64L622.1,1697.63L623.45,1702.16L624.8,1710.8L626.38,1710.38L627.95,1695.44L629.52,1689.81L631.1,1691.7L632.6,1694.04L634.1,1706.87L635.6,1701.94L637.1,1710.8L638.47,1717.62L639.83,1717.92L641.2,1724.4L642.57,1717.71L643.93,1715.83L645.3,1706.7L646.92,1710.71L648.54,1707.09L650.16,1708.55L651.78,1707.88L653.4,1710.8L655.03,1692.75L656.67,1691.6L658.3,1674L659.87,1688.56L661.43,1671.23L663,1683.5L664.53,1688.34L666.07,1661.15L667.6,1664.5L668.77,1682.24L669.93,1674.23L671.1,1689L672.5,1675.55L673.9,1674L675.25,1662.82L676.6,1669.29L677.95,1658.84L679.3,1667.2L680.65,1693.68L682,1709.4L683.4,1675.69L684.8,1649.5L686.15,1667.11L687.5,1665.29L688.85,1682.24L690.2,1699.9L691.58,1695.9L692.95,1690.61L694.33,1695.52L695.7,1682.2L697.03,1691.85L698.37,1680.24L699.7,1682.2L701.07,1695.53L702.43,1705.2L703.8,1721.7L705.38,1698.5L706.95,1686.24L708.52,1660.71L710.1,1634.5L711.6,1637.03L713.1,1658.29L714.6,1683.75L716.1,1683.5L717.47,1673.59L718.83,1670.72L720.2,1675.4L721.8,1672.4L723.4,1644L724.6,1661.36L725.8,1683.78L727,1699.9L728.37,1695.17L729.73,1700.69L731.1,1697.2L732.45,1711.78L733.8,1721.7L735.17,1691.76L736.53,1647.43L737.9,1631.2L739.55,1664.58L741.2,1669.9L742.37,1670.18L743.53,1641.88L744.7,1634.5L746.07,1639.67L747.43,1670.51L748.8,1689L750.17,1700.75L751.53,1707.89L752.9,1721.7L754.25,1713.9L755.6,1713.23L756.95,1698.97L758.3,1697.2L759.67,1708.57L761.03,1714.9L762.4,1721.7L764.03,1697.61L765.67,1683.32L767.3,1661.7L768.83,1665.16L770.37,1690.2L771.9,1694.4L773.27,1683.5L774.65,1691.78L776.02,1688.56L777.4,1676.7L778.77,1673.67L780.13,1674.55L781.5,1667.2L782.87,1678.07L784.23,1683.96L785.6,1702.6L787.3,1703.1L789,1712.67L790.7,1712.31L792.4,1713.5L793.77,1709.96L795.13,1707.3L796.5,1704L798.2,1702.34L799.9,1705.52L801.6,1710.37L803.3,1706.7L804.93,1714.47L806.57,1716.85L808.2,1724.4L809.7,1717.68L811.2,1707.07L812.7,1696.04L814.2,1694.4L815.55,1699.66L816.9,1706.4L818.25,1714.18L819.6,1721.7L820.98,1716.06L822.35,1704.19L823.73,1701.63L825.1,1694.4L826.43,1688.08L827.77,1697.38L829.1,1694.4L830.47,1701.5L831.83,1714.7L833.2,1727.3L834.58,1719.3L835.95,1712.68L837.33,1708.61L838.7,1697.2L840.07,1697.44L841.43,1705.97L842.8,1708.1L844.35,1700.37L845.9,1701.79L847.45,1697.79L849,1684.9L850.57,1693.01L852.13,1681.97L853.7,1689L855.03,1700.18L856.37,1696.86L857.7,1708.1L859.34,1709.54L860.98,1707.93L862.62,1710.22L864.26,1708.07L865.9,1709.4L867.27,1716.33L868.63,1718.1L870,1721.7L871.37,1708.32L872.73,1705.59L874.1,1691.7L875.45,1706.61L876.8,1724.4L878.43,1714.7L880.07,1704.94L881.7,1691.7L883.35,1706.07L885,1708.1L886.37,1706.48L887.73,1685.38L889.1,1684.9L890.47,1690.4L891.83,1702.65L893.2,1716.2L894.55,1713.52L895.9,1711.67L897.25,1716.13L898.6,1713L899.98,1715.35L901.35,1718.72L902.73,1721.3L904.1,1724.4L905.45,1721.82L906.8,1720.77L908.15,1718.41L909.5,1718.9L911.08,1721.61L912.67,1720.66L914.25,1721.81L915.83,1722.87L917.42,1724.41L919,1725.8L920.38,1720.59L921.75,1718.61L923.12,1710.53L924.5,1709.4L926.2,1711.85L927.9,1712.08L929.6,1711.92L931.3,1716.2L932.82,1708.21L934.34,1705.83L935.86,1701.2L937.38,1694.07L938.9,1684.9L940,1686.3L941.37,1697.31L942.73,1707.86L944.1,1724.4L945.45,1717.13L946.8,1713.5L948,1718.59L949.2,1722.99L950.4,1727.3L952,1719.16L953.6,1713.5L955.23,1713.77L956.87,1711.49L958.5,1709.4L960.07,1718.88L961.63,1723.59L963.2,1727.6L963.2,1729.3ZM969.4,1729.3L969.4,1727.6L971.05,1725.43L972.7,1721.7L974.05,1721.79L975.4,1722.73L976.75,1724.06L978.1,1724.4L979.66,1723.43L981.21,1724.13L982.77,1725.14L984.33,1725.33L985.89,1723.38L987.44,1723.35L989,1724.4L990.37,1721.32L991.73,1720.34L993.1,1718.9L994.47,1721.44L995.83,1723.78L997.2,1724.4L998.9,1720.37L1000.6,1716.05L1002.3,1705.29L1004,1704L1005.37,1705.45L1006.73,1712.05L1008.1,1718.9L1009.47,1717.83L1010.83,1714.49L1012.2,1709.4L1013.55,1712.09L1014.9,1707.93L1016.25,1714.97L1017.6,1713.5L1019,1727.6L1019,1729.3ZM1027.2,1729.3L1027.2,1727.6L1028.8,1711.2L1030.4,1697.2L1032.03,1699.54L1033.67,1705.79L1035.3,1710.8L1036.67,1711.43L1038.03,1719.24L1039.4,1721.7L1040.6,1721.62L1041.8,1722.85L1043,1721.7L1044.27,1714.08L1045.53,1705.96L1046.8,1689L1047.97,1702.27L1049.13,1713.88L1050.3,1721.7L1051.65,1719.86L1053,1713.5L1054.37,1713.4L1055.73,1719.93L1057.1,1721.7L1058.5,1714.01L1059.9,1710.8L1061.53,1705.2L1063.17,1700.91L1064.8,1699.9L1066.4,1705.16L1068,1713.5L1069.4,1704.66L1070.8,1704L1072.13,1703.48L1073.47,1708.5L1074.8,1713.5L1076.4,1711.92L1078,1709.69L1079.6,1708.21L1081.2,1708.5L1082.8,1707.81L1084.4,1706.7L1085.77,1710.14L1087.13,1703.28L1088.5,1706.7L1089.85,1712.47L1091.2,1720.15L1092.55,1724.48L1093.9,1727.6L1093.9,1729.3ZM1107.5,1729.3L1107.5,1727.6L1108.9,1721.67L1110.3,1716.2L1111.4,1722.56L1112.5,1727.3L1113.83,1723.46L1115.17,1718.21L1116.5,1714.9L1118.15,1720.95L1119.8,1727.6L1119.8,1729.3ZM1246.5,1729.3L1246.5,1727.6L1247.8,1723L1248.65,1726.39L1249.5,1727.6L1249.5,1729.3ZM1260.1,1729.3L1260.1,1727.6L1261.47,1726.45L1262.83,1723.5L1264.2,1720.3L1265.55,1722.98L1266.9,1721.2L1268.25,1724.63L1269.6,1724.4L1270.97,1721.76L1272.33,1722.83L1273.7,1720.3L1275.07,1719.74L1276.43,1713.69L1277.8,1713.5L1279.17,1712.28L1280.53,1716.95L1281.9,1716.2L1283.27,1718.69L1284.63,1721.74L1286,1724.4L1287.35,1720.2L1288.7,1719.22L1290.05,1712.04L1291.4,1710.8L1292.75,1711.69L1294.1,1718.9L1295.47,1718.72L1296.85,1718.63L1298.22,1719.4L1299.6,1721.7L1300.95,1719.52L1302.3,1714.25L1303.65,1711.21L1305,1710.8L1306.37,1712.89L1307.73,1718.46L1309.1,1718.9L1310.27,1711.69L1311.43,1702.05L1312.6,1699.9L1313.9,1699.1L1315.2,1690.26L1316.5,1689L1317.67,1687.83L1318.83,1697.67L1320,1704L1321.37,1713.85L1322.73,1715.02L1324.1,1721.7L1325.75,1709.13L1327.4,1691.7L1328.83,1697.35L1330.27,1710.45L1331.7,1721.7L1333.23,1723.17L1334.77,1722.49L1336.3,1724.4L1337.67,1725.15L1339.03,1726.54L1340.4,1727.3L1341.5,1715.99L1342.6,1708.1L1344.13,1705.5L1345.67,1706.54L1347.2,1710.8L1348.58,1703.22L1349.96,1701.34L1351.34,1696.72L1352.72,1693.96L1354.1,1691.7L1355.43,1694.02L1356.77,1690.27L1358.1,1699.9L1359.47,1699.24L1360.83,1700.85L1362.2,1691.7L1363.55,1695.61L1364.9,1705.3L1366.27,1702.62L1367.63,1699.31L1369,1697.2L1370.38,1700.77L1371.75,1709.19L1373.12,1713.8L1374.5,1716.2L1375.87,1717.94L1377.23,1712.55L1378.6,1713.5L1379.95,1702.46L1381.3,1697.03L1382.65,1698.83L1384,1685.7L1385.37,1687.62L1386.73,1700.4L1388.1,1713.2L1389.25,1705.6L1390.4,1698.2L1391.55,1710.88L1392.7,1713.2L1393.85,1700.17L1395,1694.8L1396.45,1702.63L1397.9,1713.2L1399.3,1707.49L1400.7,1704L1401.87,1711.46L1403.03,1707.29L1404.2,1712L1405.65,1714.63L1407.1,1709.7L1407.95,1714.44L1408.8,1718.9L1410.22,1714.7L1411.65,1706.59L1413.08,1692.86L1414.5,1691.3L1415.67,1692.69L1416.83,1697.41L1418,1706.3L1419.13,1702.06L1420.27,1694.31L1421.4,1685.6L1422.93,1692.79L1424.47,1708.55L1426,1712L1427.53,1709.37L1429.07,1700.08L1430.6,1701.7L1432,1693.5L1433.4,1686.63L1434.8,1687.9L1436.1,1698.55L1437.4,1701.05L1438.7,1710.9L1440.23,1703.38L1441.77,1699.22L1443.3,1697.1L1444.43,1702.07L1445.57,1708.9L1446.7,1709.7L1447.87,1711.44L1449.03,1699.18L1450.2,1700.5L1451.73,1691.38L1453.27,1697.81L1454.8,1691.3L1455.93,1694.29L1457.07,1705.39L1458.2,1710.9L1459.6,1696.51L1461,1685.6L1462.37,1688.73L1463.73,1704.58L1465.1,1710.9L1466.27,1697.82L1467.43,1692.34L1468.6,1676.4L1469.73,1683.07L1470.87,1698.28L1472,1697.1L1473.17,1705.95L1474.33,1711.23L1475.5,1715.5L1476.63,1705.73L1477.77,1707.45L1478.9,1697.1L1480.07,1684.46L1481.23,1689.76L1482.4,1672.9L1484.1,1672.73L1485.8,1692.5L1487.33,1665.86L1488.87,1637.45L1490.4,1579.8L1491.57,1619.52L1492.73,1607.9L1493.9,1651.1L1495.6,1657.65L1497.3,1674.1L1498.45,1687.52L1499.6,1713.2L1500.75,1695.96L1501.9,1678.7L1503.07,1688.87L1504.23,1685.78L1505.4,1684.4L1506.7,1666.88L1508,1629.08L1509.3,1628.1L1510.67,1652.11L1512.03,1658.54L1513.4,1660.3L1514.57,1638.83L1515.73,1656.08L1516.9,1631.5L1518.6,1627.21L1520.3,1658L1521.47,1656.34L1522.63,1637.7L1523.8,1631.5L1525.33,1647.18L1526.87,1663.74L1528.4,1694.8L1529.73,1699.84L1531.05,1685.56L1532.38,1695.22L1533.7,1687.9L1535.37,1694.85L1537.03,1712.3L1538.7,1717.8L1540.23,1711.31L1541.77,1711.5L1543.3,1704L1544.58,1703.27L1545.85,1701.86L1547.12,1693.22L1548.4,1685.6L1549.73,1692.35L1551.05,1685.35L1552.38,1695.25L1553.7,1700.5L1555.4,1703.87L1557.1,1704L1558.25,1713.19L1559.4,1727.6L1559.4,1729.3ZM1562.9,1729.3L1562.9,1727.6L1564.4,1721.9L1565.9,1712L1567.2,1719.21L1568.5,1722.38L1569.8,1727.6L1569.8,1729.3ZM1570.5,1729.3L1570.5,1727.6L1572.17,1717.79L1573.83,1708.54L1575.5,1700.5L1577.03,1686.57L1578.57,1695.64L1580.1,1681L1581.55,1646.34L1583,1628.38L1584.45,1606.06L1585.9,1592.4L1587.6,1590.95L1589.3,1625.8L1590.68,1660.54L1592.06,1674.61L1593.44,1693.34L1594.82,1706.97L1596.2,1727L1597.73,1710.53L1599.27,1694.18L1600.8,1678.7L1602.2,1665.92L1603.6,1635.92L1605,1628.1L1606.3,1632.41L1607.6,1654.16L1608.9,1678.7L1610.23,1698.83L1611.55,1707.36L1612.88,1717.42L1614.2,1727.6L1615.75,1723.42L1617.3,1716.81L1618.85,1714.11L1620.4,1706.3L1622.1,1716.54L1623.8,1727.6L1625.25,1723.9L1626.7,1719.52L1628.15,1712.93L1629.6,1709.7L1630.77,1708.18L1631.93,1715.71L1633.1,1715.5L1634.23,1720.71L1635.37,1723.73L1636.5,1727.6L1636.5,1729.3ZM1646.9,1729.3L1646.9,1727.6L1648,1717.8L1649.15,1723.84L1650.3,1727.6L1651.83,1724.52L1653.37,1719.74L1654.9,1713.2L1656.43,1709.56L1657.97,1708.99L1659.5,1709.7L1661.03,1705.48L1662.57,1708.99L1664.1,1708.6L1665.65,1709.33L1667.2,1702.45L1668.75,1692.38L1670.3,1691.3L1671.7,1698.59L1673.1,1707.03L1674.5,1708.6L1676.03,1702.48L1677.57,1693.84L1679.1,1685.6L1680.23,1691.24L1681.37,1692.62L1682.5,1694.8L1684.03,1706.76L1685.57,1714.1L1687.1,1717.8L1688.27,1707.74L1689.43,1699.72L1690.6,1694.8L1691.73,1694.91L1692.87,1698.71L1694,1691.3L1695.15,1704.14L1696.3,1712L1697.45,1699.2L1698.6,1687.9L1700.13,1688.81L1701.67,1701.92L1703.2,1708.6L1704.65,1689L1706.1,1682.75L1707.55,1678.88L1709,1658L1710.13,1678.55L1711.27,1702.89L1712.4,1727L1713.7,1724.88L1715,1722.52L1716.3,1721.2L1717.8,1725.71L1719.3,1727.6L1720.47,1727.16L1721.63,1725.45L1722.8,1724.7L1724.33,1720.28L1725.87,1715.83L1727.4,1706.3L1729.1,1719.4L1730.8,1727.6L1730.8,1729.3ZM310.4,1729.3h2.6V1727.1h-2.6ZM371.4,1729.3h2.6V1726.8h-2.6ZM460.1,1729.3h2.6V1727.1h-2.6ZM965.7,1729.3h2.6V1727.1h-2.6ZM1022.7,1729.3h2.6V1727.1h-2.6ZM1099.4,1729.3h2.6V1727.1h-2.6ZM1153.4,1729.3h2.6V1727.1h-2.6ZM1189.3,1729.3h2.6V1725.3h-2.6ZM1217.9,1729.3h2.6V1727.1h-2.6ZM1253.3,1729.3h2.6V1727.1h-2.6ZM1641,1729.3h2.6V1727.1h-2.6ZM1737.6,1729.3h2.6V1726.8h-2.6ZM1746.7,1729.3h2.6V1727.1h-2.6ZM1756,1729.3h2.6V1721.3h-2.6Z" fill="#E19600"/>
<path d="M143.3,1935.3L143.3,1933.6L144.4,1929.4L145.45,1927.34L146.5,1926.1L148.15,1925.73L149.8,1927.2L151.45,1928.63L153.1,1931.6L154.7,1925.68L156.3,1922.9L157.95,1921.59L159.6,1922.9L161.25,1925.75L162.9,1931.6L164.13,1926.16L165.37,1916.23L166.6,1908.1L168,1905.12L169.4,1912L170.5,1918.57L171.6,1927.2L172.7,1923.89L173.8,1924L175.4,1927.25L177,1927.2L178.1,1929.48L179.2,1931.6L180.5,1928.9L181.8,1924.6L183.13,1923.82L184.47,1923.08L185.8,1922.9L187.4,1928.97L189,1931.6L190.1,1933.6L191.2,1933.6L191.2,1935.3ZM202.1,1935.3L202.1,1933.6L203.2,1932.14L204.3,1928.3L205.65,1923.79L207,1921.39L208.35,1922.4L209.7,1917.4L211.35,1915.06L213,1920.25L214.65,1916.47L216.3,1917.4L217.73,1922.49L219.17,1925.33L220.6,1925.1L222.07,1925.95L223.53,1930.18L225,1931.6L226.35,1928.96L227.7,1922.21L229.05,1918.6L230.4,1917.4L232.05,1924.5L233.7,1929.4L235.35,1924.29L237,1922.9L238.1,1923.8L239.2,1925.1L240.6,1921.01L242,1919L243.5,1933.6L243.5,1935.3ZM247.9,1935.3L247.9,1933.6L249.13,1930.11L250.37,1921.05L251.6,1917.4L253,1924.79L254.4,1933.6L255.87,1931.93L257.33,1930.49L258.8,1929.9L260.4,1932.16L262,1933.6L263.33,1931.48L264.67,1929.64L266,1926.1L267.23,1929.7L268.47,1932.01L269.7,1933.6L271.3,1928.96L272.9,1922.9L274.55,1928.03L276.2,1933.6L277.82,1932.33L279.45,1928.72L281.07,1927.5L282.7,1924.6L284.35,1929.21L286,1932.7L287.65,1927.72L289.3,1924.6L290.9,1928.71L292.5,1932.7L293.6,1930.89L294.7,1928.3L296.35,1928.9L298,1929.4L299.1,1922.93L300.2,1918.5L301.6,1887.12L303,1832.4L304.3,1820.8L305.6,1848.8L306.7,1900.54L307.8,1933.6L309.27,1932.01L310.73,1930.19L312.2,1929.4L313.8,1914.34L315.4,1888L316.85,1840.27L318.3,1813.9L319.6,1866.17L320.9,1909.8L322.2,1899.54L323.5,1901.09L324.8,1882.6L326.3,1914.21L327.8,1933.6L327.8,1935.3ZM417.8,1935.3L417.8,1933.6L418.9,1924.34L420,1909.8L421.65,1912.55L423.3,1922.9L424.4,1929.49L425.5,1933.6L426.8,1932.07L428.1,1930.5L429.5,1928.28L430.9,1928.3L432,1933.6L432,1935.3ZM447.9,1935.3L447.9,1933.6L449.2,1924.61L450.5,1917.4L452.15,1918.63L453.8,1917.4L455.1,1922.15L456.4,1925.1L457.8,1921.91L459.2,1919L460.57,1918.73L461.95,1924.34L463.32,1922.29L464.7,1925.1L466.35,1920.32L468,1919L469.23,1912.21L470.47,1916.54L471.7,1908.1L473.1,1904.44L474.5,1910.9L475.97,1919.17L477.43,1921.41L478.9,1925.1L480.5,1921.14L482.1,1918.5L483.48,1917.98L484.85,1923.73L486.23,1923.11L487.6,1927.2L489.2,1929.84L490.8,1932.7L492.33,1932.21L493.87,1931.5L495.4,1930.4L496.78,1928.3L498.16,1926L499.54,1922.89L500.92,1915.87L502.3,1914.1L503.65,1914.4L505,1922.2L506.37,1924.15L507.73,1924.8L509.1,1922.2L510.45,1925.22L511.8,1931.8L513.15,1927.59L514.5,1923.6L515.85,1928.01L517.2,1931.8L518.57,1928.58L519.93,1923.12L521.3,1919.5L522.67,1920.75L524.05,1925.84L525.42,1928.95L526.8,1931.8L528.17,1931.73L529.53,1928.95L530.9,1929L532.46,1929.68L534.01,1927.48L535.57,1925.4L537.13,1927.44L538.69,1924.11L540.24,1922.21L541.8,1923.6L543.15,1925.1L544.5,1926.74L545.85,1930.71L547.2,1931.8L548.74,1930.41L550.28,1929.74L551.81,1925.96L553.35,1926.52L554.89,1924.34L556.42,1919.78L557.96,1918.83L559.5,1919.5L560.85,1917.82L562.2,1922.47L563.55,1923.61L564.9,1924.9L566.26,1925.66L567.62,1928.25L568.98,1930.32L570.34,1931.62L571.7,1933.1L573.34,1932.75L574.98,1931.67L576.62,1929.64L578.26,1928.71L579.9,1929L581.25,1928.3L582.6,1928.35L583.95,1928.54L585.3,1927.7L586.93,1922.96L588.57,1915.02L590.2,1905.3L591.85,1911.86L593.5,1923.6L594.88,1916.95L596.25,1916.61L597.62,1908.28L599,1907.2L600.33,1911.46L601.67,1919.63L603,1927.7L604.4,1922.76L605.8,1919.5L607.17,1920.22L608.53,1924.71L609.9,1926.3L611.25,1924.37L612.6,1925.32L613.95,1923.3L615.3,1922.2L616.8,1918.74L618.3,1917.41L619.8,1918.75L621.3,1915.4L622.93,1914.77L624.57,1919.92L626.2,1923.6L627.84,1923.74L629.48,1926.96L631.12,1925.01L632.76,1926.81L634.4,1926.3L635.75,1927.1L637.1,1929.15L638.45,1929.75L639.8,1931.8L641.17,1929.12L642.53,1926.14L643.9,1924.9L645.27,1927.74L646.63,1929.13L648,1931.8L649.37,1927.9L650.73,1923.97L652.1,1922.2L653.45,1927.55L654.8,1931.8L656.17,1923.1L657.53,1914.72L658.9,1910.5L660.27,1912.67L661.63,1914.74L663,1922.2L664.37,1922.85L665.73,1927.61L667.1,1930.4L668.45,1931.02L669.8,1932.27L671.15,1932L672.5,1933.1L674.13,1929.97L675.77,1928.63L677.4,1926.3L679.05,1929.23L680.7,1933.1L682.07,1929.89L683.43,1926.86L684.8,1924.9L686.17,1928.74L687.53,1929.76L688.9,1933.1L690.25,1930.9L691.6,1928.54L692.95,1927.24L694.3,1924.9L695.65,1924.7L697,1924.43L698.35,1925.39L699.7,1926.3L701.08,1925.43L702.45,1928.17L703.83,1927.65L705.2,1926.3L706.57,1919.91L707.93,1911.21L709.3,1905.9L710.67,1909.36L712.03,1903.06L713.4,1905.3L714.77,1906.67L716.13,1916.03L717.5,1914.1L718.83,1917.92L720.17,1922.99L721.5,1924.9L723.15,1923.44L724.8,1916.2L726.43,1924L728.07,1928.1L729.7,1933.1L731.4,1927.84L733.1,1922.19L734.8,1918.09L736.5,1907.2L737.85,1915.7L739.2,1923.6L740.78,1909.82L742.35,1891.13L743.92,1875.73L745.5,1862.8L747.15,1896.24L748.8,1919.5L750.43,1919.92L752.07,1927.24L753.7,1927.7L754.97,1920.19L756.23,1913.7L757.5,1903.2L758.67,1911L759.83,1919.93L761,1923.6L762.4,1914.85L763.8,1911.3L765.16,1913.16L766.52,1917.09L767.88,1911.86L769.24,1917.42L770.6,1914.1L771.97,1913.2L773.33,1914.73L774.7,1912.7L776.03,1916.59L777.37,1919.04L778.7,1926.3L780.07,1921.62L781.43,1920.83L782.8,1917.3L784.16,1917.8L785.52,1921.74L786.88,1925.74L788.24,1928.96L789.6,1930.4L791.14,1926.05L792.68,1922.08L794.22,1915.07L795.76,1910.19L797.3,1910.5L798.9,1916.86L800.5,1924.9L802.2,1926.24L803.9,1924.74L805.6,1928.82L807.3,1927.7L808.67,1928.16L810.05,1925.37L811.42,1924.08L812.8,1923.6L814.17,1927.75L815.53,1928.71L816.9,1931.8L818.54,1929.58L820.18,1929.38L821.82,1927.89L823.46,1927.37L825.1,1924.9L826.8,1927.42L828.5,1926.91L830.2,1930.35L831.9,1931.8L833.52,1928.78L835.14,1926.62L836.76,1925.65L838.38,1925.3L840,1922.2L841.38,1919.11L842.76,1921.7L844.14,1921.94L845.52,1922.29L846.9,1920.9L848.25,1919.04L849.6,1922.94L850.95,1924.97L852.3,1924.9L853.65,1923.67L855,1924.38L856.35,1920.08L857.7,1919.5L859.08,1921.21L860.45,1923.39L861.83,1922.09L863.2,1924.9L864.55,1924.98L865.9,1929.29L867.25,1928.94L868.6,1930.4L870.24,1931.14L871.88,1930.13L873.52,1930.74L875.16,1931.94L876.8,1931.8L878.44,1931.17L880.08,1930.47L881.72,1927.04L883.36,1928.12L885,1926.3L886.63,1922.55L888.27,1920.14L889.9,1916.8L891.55,1914.88L893.2,1915.4L894.55,1917.34L895.9,1919.3L897.25,1925.54L898.6,1926.3L900,1933.6L900,1935.3ZM906.8,1935.3L906.8,1933.6L908.17,1932.48L909.53,1930.68L910.9,1927.7L912.27,1929.41L913.63,1931.59L915,1933.1L916.62,1931.91L918.24,1929.99L919.86,1928.65L921.48,1927.53L923.1,1925.5L924.48,1925.41L925.85,1926.93L927.23,1929.59L928.6,1929L929.95,1929.08L931.3,1927.8L932.65,1925.45L934,1926.3L935.5,1925.96L937,1928.21L938.5,1930.64L940,1930.4L941.35,1929.8L942.7,1930.4L944.07,1926.59L945.43,1921.76L946.8,1918.1L948.17,1921.51L949.53,1926.76L950.9,1931.8L952.25,1932.15L953.6,1931.93L954.95,1932.9L956.3,1933.1L957.67,1932.9L959.05,1932.01L960.42,1932.55L961.8,1931.8L963.36,1932L964.91,1931L966.47,1932.16L968.03,1930.69L969.59,1930.8L971.14,1931.15L972.7,1930.9L974.34,1931.71L975.98,1931.35L977.62,1931.66L979.26,1933.08L980.9,1933.1L982.52,1932.69L984.14,1932.15L985.76,1931.78L987.38,1931.63L989,1930.9L990.56,1931.34L992.11,1930.17L993.67,1929.37L995.23,1930.86L996.79,1930.23L998.34,1928.42L999.9,1929L1001.54,1927.53L1003.19,1927.29L1004.83,1928.92L1006.47,1925.81L1008.11,1924.13L1009.76,1923.33L1011.4,1924.9L1012.92,1925.48L1014.44,1929.18L1015.96,1928.1L1017.48,1931.02L1019,1931.8L1020.56,1930.53L1022.11,1928.74L1023.67,1928.24L1025.23,1929.05L1026.79,1927.64L1028.34,1924.15L1029.9,1924.9L1031.54,1927.67L1033.18,1927.29L1034.82,1929.28L1036.46,1931.15L1038.1,1931.8L1039.66,1930.78L1041.21,1931.25L1042.77,1930.45L1044.33,1929.01L1045.89,1929.27L1047.44,1928.68L1049,1926.3L1050.56,1926.61L1052.11,1926.64L1053.67,1926.85L1055.23,1929.71L1056.79,1929.41L1058.34,1930.26L1059.9,1930.4L1061.25,1928.41L1062.6,1927.04L1063.95,1923.37L1065.3,1923.6L1067,1923.61L1068.7,1924.8L1070.4,1920.38L1072.1,1920.9L1073.47,1922.35L1074.85,1918.16L1076.22,1918.16L1077.6,1917.3L1078.93,1918.14L1080.27,1923.97L1081.6,1927.7L1082.8,1930.77L1084,1933.6L1085.5,1931.21L1087,1926.98L1088.5,1923.6L1089.85,1930.08L1091.2,1933.6L1091.2,1935.3ZM1245.1,1935.3L1245.1,1933.6L1246.45,1928.03L1247.8,1922.2L1249.15,1928.7L1250.5,1933.6L1250.5,1935.3ZM1258.7,1935.3L1258.7,1933.6L1260.05,1932.32L1261.4,1928.2L1262.78,1929.52L1264.15,1929.64L1265.53,1929.28L1266.9,1930.4L1268.46,1930.09L1270.01,1927.38L1271.57,1926.31L1273.13,1927.46L1274.69,1923.75L1276.24,1925.52L1277.8,1922.2L1279.15,1925.05L1280.5,1923.38L1281.85,1925.9L1283.2,1925.5L1284.55,1921.95L1285.9,1922.2L1287.28,1920.83L1288.65,1920.45L1290.03,1915.4L1291.4,1916.2L1292.78,1923.25L1294.15,1922.88L1295.53,1929.35L1296.9,1931.8L1298.6,1930.88L1300.3,1926.97L1302,1925.93L1303.7,1924.9L1305.4,1927.68L1307.1,1929.52L1308.8,1928.99L1310.5,1931.8L1311.95,1929.1L1313.4,1926.1L1314.85,1926.59L1316.3,1921.97L1317.75,1921.34L1319.2,1918.1L1320.83,1924.14L1322.47,1927.83L1324.1,1931.8L1325.45,1930.55L1326.8,1930.12L1328.15,1929.06L1329.5,1927.7L1331.14,1929.82L1332.78,1929.07L1334.42,1930.66L1336.06,1931.58L1337.7,1933.1L1339.26,1931.85L1340.81,1929.63L1342.37,1928.98L1343.93,1927.36L1345.49,1926.02L1347.04,1923.86L1348.6,1923.6L1350.16,1923.77L1351.71,1925.04L1353.27,1925.08L1354.83,1923.79L1356.39,1924.43L1357.94,1918.89L1359.5,1920.9L1360.85,1920.67L1362.2,1918.47L1363.55,1923.25L1364.9,1919.5L1366.28,1922.05L1367.65,1922.35L1369.03,1926.17L1370.4,1929L1372.04,1928.15L1373.68,1926.97L1375.32,1927.44L1376.96,1926.29L1378.6,1923.6L1380.23,1921.73L1381.87,1916.18L1383.5,1910.8L1384.65,1917.64L1385.8,1922.6L1386.93,1922.26L1388.07,1927.14L1389.2,1927.2L1390.6,1921.74L1392,1913L1393.5,1921.59L1395,1927.2L1396.13,1922.87L1397.27,1916.18L1398.4,1907.7L1399.93,1917.01L1401.47,1921.61L1403,1928.4L1404.45,1927.76L1405.9,1920.94L1407.35,1921.45L1408.8,1918L1410.33,1916.5L1411.87,1919.89L1413.4,1922.6L1414.93,1918.76L1416.47,1917.49L1418,1914.6L1419.13,1910.54L1420.27,1918.08L1421.4,1914.6L1422.93,1918.83L1424.47,1926.25L1426,1930.7L1427.53,1929.09L1429.07,1927.67L1430.6,1927.2L1432.22,1925.38L1433.85,1922.1L1435.47,1920.47L1437.1,1913L1438.4,1919.14L1439.7,1923.6L1441,1924.9L1442.42,1924.25L1443.85,1919.95L1445.28,1922.28L1446.7,1920.3L1447.85,1924.2L1449,1926.1L1450.53,1916.4L1452.07,1908.95L1453.6,1896.2L1454.77,1898.52L1455.93,1905.02L1457.1,1913.4L1458.23,1909.8L1459.37,1901.67L1460.5,1889.3L1461.9,1892.59L1463.3,1901.9L1464.53,1891.05L1465.77,1891.95L1467,1890.9L1468.3,1893.58L1469.6,1884.92L1470.9,1895L1472.43,1907.36L1473.97,1910.21L1475.5,1908.8L1477.03,1909.85L1478.57,1917.21L1480.1,1920.3L1481.6,1915.51L1483.1,1900.8L1484.4,1887.91L1485.7,1864.44L1487,1865.1L1488.33,1845.38L1489.65,1834.29L1490.97,1830.89L1492.3,1789.2L1493.65,1825.16L1495,1809.9L1496.53,1822.14L1498.07,1868.43L1499.6,1897.3L1500.77,1869.48L1501.93,1877.06L1503.1,1845.6L1504.6,1871.52L1506.1,1881.2L1507.45,1864.71L1508.8,1813.4L1509.97,1836.83L1511.13,1867.26L1512.3,1869.7L1513.67,1863.76L1515.03,1844.42L1516.4,1826L1517.7,1848.66L1519,1870.96L1520.3,1869.7L1521.7,1858.51L1523.1,1781.7L1524.5,1777.3L1525.8,1834.6L1527.1,1858.54L1528.4,1899.6L1529.55,1900.61L1530.7,1898.5L1532.12,1903.52L1533.55,1914.14L1534.98,1916.52L1536.4,1920.3L1537.85,1924.31L1539.3,1923.54L1540.75,1923.65L1542.2,1927.2L1543.62,1919.96L1545.05,1910.66L1546.48,1910.91L1547.9,1900.8L1549.07,1912.96L1550.23,1912.68L1551.4,1919.2L1552.55,1916.41L1553.7,1913.4L1555.12,1918.05L1556.55,1924.38L1557.98,1928.57L1559.4,1933.6L1559.4,1935.3ZM1560.5,1935.3L1560.5,1933.6L1561.7,1928.98L1562.9,1923.8L1564.4,1920.35L1565.9,1921.5L1567.25,1928.98L1568.6,1933.6L1568.6,1935.3ZM1576.7,1935.3L1576.7,1933.6L1578.12,1928.82L1579.55,1920.15L1580.98,1917.84L1582.4,1908.8L1583.8,1904.7L1585.2,1892.04L1586.6,1877.8L1587.9,1889.79L1589.2,1875.16L1590.5,1883.5L1592.03,1895.46L1593.57,1918.72L1595.1,1933.6L1596.63,1929.3L1598.17,1924.58L1599.7,1916.2L1600.85,1925.27L1602,1931.8L1603.13,1924.92L1604.27,1914.09L1605.4,1904.2L1606.55,1907.9L1607.7,1913.4L1608.87,1912.45L1610.03,1911.44L1611.2,1901.9L1612.9,1913.37L1614.6,1928.4L1616.22,1929.58L1617.84,1928.89L1619.46,1928.4L1621.08,1927.88L1622.7,1927.2L1624.4,1931.47L1626.1,1933.6L1627.63,1933.4L1629.17,1932.79L1630.7,1931.8L1632.32,1930.39L1633.94,1929.83L1635.56,1927.95L1637.18,1927.63L1638.8,1927.2L1640.33,1928.84L1641.87,1931.68L1643.4,1933.6L1644.57,1932.28L1645.73,1929.6L1646.9,1928.4L1648.43,1929.14L1649.97,1929.74L1651.5,1931.8L1652.87,1924.55L1654.23,1917.85L1655.6,1913L1657.2,1923.72L1658.8,1931.8L1660.4,1928.7L1662,1927.62L1663.6,1926.59L1665.2,1922.6L1666.77,1924.11L1668.33,1922.51L1669.9,1919.2L1671.43,1922.25L1672.97,1921.26L1674.5,1923.8L1675.92,1921.24L1677.35,1919.5L1678.78,1908.99L1680.2,1907.7L1681.73,1906.22L1683.27,1912.22L1684.8,1905.4L1685.97,1917.14L1687.13,1922.43L1688.3,1927.2L1689.83,1909.03L1691.37,1879.74L1692.9,1867.4L1694.6,1888.41L1696.3,1924.9L1697.8,1915.36L1699.3,1907.7L1700.7,1915.02L1702.1,1916.9L1703.25,1914.67L1704.4,1911.1L1705.55,1907.73L1706.7,1900.8L1708.2,1898.05L1709.7,1889.3L1711.05,1914.05L1712.4,1927.2L1713.85,1927.39L1715.3,1927.12L1716.75,1927.96L1718.2,1929.1L1719.35,1932.26L1720.5,1933.6L1721.63,1933.31L1722.77,1932.96L1723.9,1931.8L1725.43,1929.8L1726.97,1928.89L1728.5,1927.2L1729.67,1927.47L1730.83,1929.61L1732,1931.8L1733.13,1932.39L1734.27,1932.08L1735.4,1931.8L1736.57,1930.45L1737.73,1930.68L1738.9,1930L1740,1933.6L1740,1935.3ZM193.7,1935.3h2.6V1933.1h-2.6ZM197.7,1935.3h2.6V1933.1h-2.6ZM244.2,1935.3h2.6V1933.1h-2.6ZM371.4,1935.3h2.6V1932.8h-2.6ZM439.4,1935.3h2.6V1933.1h-2.6ZM1096.7,1935.3h2.6V1933.1h-2.6ZM1106.2,1935.3h2.6V1932.3h-2.6ZM1111.7,1935.3h2.6V1931.3h-2.6ZM1117.2,1935.3h2.6V1933.1h-2.6ZM1126.7,1935.3h2.6V1929.3h-2.6ZM1136.5,1935.3h2.6V1933.1h-2.6ZM1147.7,1935.3h2.6V1933.1h-2.6ZM1170.8,1935.3h2.6V1933.1h-2.6ZM1204.3,1935.3h2.6V1929.3h-2.6ZM1218.7,1935.3h2.6V1933.1h-2.6ZM1228,1935.3h2.6V1933.1h-2.6ZM1239.3,1935.3h2.6V1933.1h-2.6ZM1570.3,1935.3h2.6V1933.1h-2.6Z" fill="#E19600"/>
<path d="M146.5,2152.5L146.5,2150.8L147.88,2149.11L149.25,2145.65L150.62,2143.56L152,2140.5L153.52,2141.76L155.04,2143.14L156.56,2139.64L158.08,2140.66L159.6,2140.5L160.7,2136.12L161.8,2135.1L163.23,2134.34L164.67,2128.93L166.1,2129.6L167.75,2122.08L169.4,2107.8L171.05,2095.06L172.7,2095.8L173.8,2096.67L174.9,2107.8L176.33,2116.48L177.77,2121.82L179.2,2129.6L180.57,2116.59L181.95,2114.79L183.32,2097.28L184.7,2088.2L186.35,2094.43L188,2114.4L189.3,2114.74L190.6,2100.25L191.9,2102.4L193.5,2105.37L195.1,2109.86L196.7,2122L198.13,2120.16L199.57,2120.29L201,2108.9L202.47,2091.21L203.93,2079.16L205.4,2077.3L207,2056.76L208.6,2031.5L209.7,2052.26L210.8,2029.4L212.45,2052.39L214.1,2044.6L214.95,2052.07L215.8,2070.8L216.9,2073.36L218,2059.9L219.23,2045.86L220.47,2063.84L221.7,2070.8L223.17,2069.25L224.63,2034.94L226.1,2028.3L227.7,2047.66L229.3,2053.3L230.95,2051.32L232.6,2081.7L234.25,2098.51L235.9,2131.8L237.55,2134.94L239.2,2138.3L240.8,2122.35L242.4,2110L244,2105.1L245.6,2101.79L247.2,2106.7L248.87,2110.73L250.53,2134.06L252.2,2140.5L253.67,2139.2L255.13,2135.44L256.6,2134L258.27,2133.28L259.93,2128.01L261.6,2126.4L262.83,2134.96L264.07,2133.01L265.3,2140.5L266.65,2139.81L268,2141.61L269.35,2137.87L270.7,2138.3L272.17,2139.81L273.63,2140.83L275.1,2139.49L276.57,2141.79L278.03,2141.71L279.5,2140.5L281.1,2130.97L282.7,2127.4L284.07,2123.44L285.45,2130.23L286.82,2118.86L288.2,2120.9L289.8,2113.87L291.4,2086L292.87,2088.88L294.33,2069.06L295.8,2079.5L297.27,2067.6L298.73,2071.76L300.2,2056.6L301.8,2065.37L303.4,2064.2L305.05,2068.51L306.7,2064.2L308.35,2090.57L310,2092.6L311.6,2092.72L313.2,2114.4L314.85,2114L316.5,2094.8L317.88,2094.9L319.25,2084.28L320.62,2091.88L322,2087.1L323.23,2071.08L324.47,2091.23L325.7,2081.7L327,2086.99L328.3,2108.65L329.6,2131.8L331.03,2127.53L332.47,2122.32L333.9,2124.2L335.37,2133.75L336.83,2140.93L338.3,2150.8L338.3,2152.5ZM410.2,2152.5L410.2,2150.8L411.67,2148.81L413.13,2145.92L414.6,2142.7L416.03,2111.27L417.47,2072.09L418.9,2046.8L420.55,2048.97L422.2,2042.5L423.3,2052.28L424.4,2017.4L425.5,2010.01L426.6,2030.5L427.83,2044.03L429.07,2033.28L430.3,2033.7L431.7,2027.46L433.1,2049L434.75,2067.65L436.4,2057.7L437.7,2087.41L439,2094.04L440.3,2094.8L441.53,2099.32L442.77,2110.6L444,2114.4L445.65,2117.99L447.3,2113.3L448.73,2117.69L450.17,2114.56L451.6,2124.2L453.25,2132.61L454.9,2136.2L456.52,2135.78L458.15,2130.91L459.77,2131.93L461.4,2131.8L463.07,2131.97L464.73,2127.75L466.4,2125.3L467.63,2131.3L468.87,2139.36L470.1,2142.7L471.73,2142.71L473.37,2142.53L475,2139.51L476.63,2141.43L478.27,2139.07L479.9,2139.4L481.37,2136.91L482.83,2137.4L484.3,2140.63L485.77,2139.57L487.23,2141.28L488.7,2140.5L490,2146.2L491.56,2145.75L493.11,2144.7L494.67,2142.77L496.23,2141.31L497.79,2143.28L499.34,2143.95L500.9,2140.8L502.26,2139.61L503.62,2140.7L504.98,2139.7L506.34,2132.76L507.7,2133.4L509.07,2139.84L510.43,2139.97L511.8,2144.9L513.16,2143.82L514.52,2139.52L515.88,2138.03L517.24,2141.07L518.6,2136.7L519.97,2141.98L521.33,2142.29L522.7,2147.6L524.05,2146.28L525.4,2145.79L526.75,2143.53L528.1,2143.5L529.74,2142.87L531.38,2144.61L533.02,2145.22L534.66,2146.86L536.3,2146.2L537.94,2145.81L539.58,2145.8L541.22,2143.26L542.86,2142.47L544.5,2142.1L545.95,2142.21L547.4,2137.71L548.85,2139.5L550.3,2137.96L551.75,2131.86L553.2,2131.3L554.83,2132.34L556.47,2129.22L558.1,2133.4L559.45,2134.61L560.8,2136.44L562.15,2141.99L563.5,2142.1L565.02,2141.1L566.54,2144.75L568.07,2143L569.59,2142.37L571.11,2142.92L572.63,2143.51L574.16,2145.44L575.68,2145.17L577.2,2146.2L578.67,2143.94L580.14,2145.05L581.61,2140.36L583.09,2139L584.56,2140.1L586.03,2136.77L587.5,2137.2L589.07,2140.06L590.63,2143.33L592.2,2144.9L593.9,2142.55L595.6,2143.94L597.3,2138.8L599,2138.9L600.7,2131.08L602.4,2132.75L604.1,2121.59L605.8,2122.5L607.15,2130.06L608.5,2123.62L609.85,2132.25L611.2,2132.6L612.58,2132.89L613.95,2140.24L615.33,2141.8L616.7,2147.1L618.4,2145.87L620.1,2143.26L621.8,2136.27L623.5,2135.3L624.85,2137.14L626.2,2140.57L627.55,2145.33L628.9,2146.2L630.54,2144.31L632.18,2140.41L633.82,2139.59L635.46,2128.96L637.1,2129.9L638.45,2130.67L639.8,2132.73L641.15,2137.86L642.5,2142.1L643.99,2138.48L645.47,2136.45L646.96,2125.65L648.44,2128.4L649.93,2118.12L651.41,2114.76L652.9,2109.5L654.43,2111.86L655.97,2121.22L657.5,2116.3L658.87,2125.66L660.23,2122.37L661.6,2125.8L662.97,2133.48L664.33,2131.03L665.7,2134L667.37,2136.85L669.03,2135.78L670.7,2136.84L672.37,2133.44L674.03,2134.91L675.7,2136.25L677.37,2136.27L679.03,2133.48L680.7,2134L682.28,2132.9L683.87,2138.32L685.45,2141.6L687.03,2142.48L688.62,2144.53L690.2,2145.4L691.78,2139L693.37,2131.03L694.95,2126.69L696.53,2125.72L698.12,2118.33L699.7,2109.5L701.08,2113.03L702.45,2113.25L703.83,2115.31L705.2,2114.9L706.83,2081.44L708.47,2071.73L710.1,2052.8L711.63,2057.15L713.17,2066.75L714.7,2084.9L716.4,2092.55L718.1,2101.34L719.8,2120.55L721.5,2129.9L722.88,2126.2L724.26,2120.61L725.64,2128.38L727.02,2120.63L728.4,2120.4L729.75,2114.91L731.1,2114.5L732.45,2108.95L733.8,2090.4L735.17,2088.37L736.53,2108.46L737.9,2104L739.25,2092.8L740.6,2102.44L741.95,2089.52L743.3,2079.5L744.67,2095.96L746.03,2081.79L747.4,2084.9L748.57,2074.88L749.73,2090.72L750.9,2080.9L752.47,2085.84L754.03,2083.72L755.6,2101.3L757.3,2110.29L759,2111.38L760.7,2111.99L762.4,2120.4L763.75,2121.17L765.1,2133.79L766.45,2134.51L767.8,2140.8L769.37,2141.63L770.94,2140.55L772.51,2133.38L774.09,2138.76L775.66,2130.6L777.23,2130.47L778.8,2131.3L780.15,2133.32L781.5,2136.65L782.85,2140.77L784.2,2144.9L785.9,2144.84L787.6,2143.43L789.3,2143.68L791,2139.76L792.7,2139.2L794.4,2138.19L796.1,2140.66L797.8,2138.1L799.31,2136.88L800.82,2138.56L802.33,2134.19L803.84,2133.84L805.36,2131.24L806.87,2132.78L808.38,2132.31L809.89,2130.86L811.4,2132.6L812.76,2138.62L814.12,2138.02L815.48,2143.84L816.84,2145.06L818.2,2147.6L819.57,2144.66L820.93,2135.78L822.3,2134L823.94,2138.05L825.58,2131.19L827.22,2131.29L828.86,2135.53L830.5,2135.3L832.14,2132.16L833.78,2137.83L835.42,2136.67L837.06,2137.32L838.7,2132.6L840.05,2137.5L841.4,2139.1L842.75,2134.45L844.1,2138.1L845.74,2141.04L847.38,2138.36L849.02,2140.62L850.66,2141.77L852.3,2140.54L853.94,2142.18L855.58,2138.46L857.22,2141.87L858.86,2141.25L860.5,2142.1L862.12,2143.5L863.74,2144.98L865.36,2147.07L866.98,2149.05L868.6,2150.3L870.24,2150.28L871.88,2148.89L873.52,2149.46L875.16,2148.63L876.8,2148.1L878.36,2146.63L879.91,2146.36L881.47,2144.46L883.03,2143.99L884.59,2144.19L886.14,2144.98L887.7,2142.7L889.37,2142.08L891.03,2142.4L892.7,2140.41L894.37,2141.71L896.03,2140.72L897.7,2139.92L899.37,2141.37L901.03,2139.28L902.7,2140.8L904.4,2138.74L906.1,2142.58L907.8,2138.64L909.5,2140.8L911.14,2139.97L912.78,2141.1L914.42,2144.2L916.06,2145.36L917.7,2145.4L919.26,2146.32L920.81,2145.29L922.37,2143.35L923.93,2144.81L925.49,2145.88L927.04,2144.52L928.6,2143.5L930.23,2145.32L931.86,2143.44L933.49,2143.11L935.11,2142.76L936.74,2145.95L938.37,2145.11L940,2144.9L941.63,2145.81L943.26,2142.56L944.89,2142.36L946.52,2143.18L948.15,2140.92L949.78,2142.35L951.41,2140.76L953.04,2141.68L954.67,2141.88L956.3,2140.8L957.86,2137.63L959.41,2137.86L960.97,2138.72L962.53,2136.52L964.09,2137.29L965.64,2135.78L967.2,2137.2L968.84,2141.57L970.48,2142.7L972.12,2144.3L973.76,2144.03L975.4,2146.2L976.94,2144.85L978.48,2146.01L980.01,2144.16L981.55,2145.03L983.09,2142.03L984.62,2140.88L986.16,2143.48L987.7,2140.8L989.28,2138.06L990.87,2139.47L992.45,2142.17L994.03,2140.73L995.62,2141.6L997.2,2138.14L998.78,2136.79L1000.37,2140.93L1001.95,2140.68L1003.53,2137.76L1005.12,2136.08L1006.7,2138.1L1008.37,2137.25L1010.03,2139.55L1011.7,2142.06L1013.37,2139.9L1015.03,2141.32L1016.7,2140.26L1018.37,2141.98L1020.03,2141.91L1021.7,2143.5L1023.28,2141.25L1024.85,2142.34L1026.43,2140.75L1028.01,2143.26L1029.58,2144.24L1031.16,2139.77L1032.74,2143.61L1034.32,2138.47L1035.89,2140.89L1037.47,2142.69L1039.05,2141.27L1040.62,2138.47L1042.2,2139.4L1043.73,2140.98L1045.25,2140.72L1046.78,2144.08L1048.3,2141.88L1049.83,2144.68L1051.35,2144.1L1052.88,2147.12L1054.4,2147.1L1056,2145.09L1057.6,2144.21L1059.2,2143.02L1060.8,2143.51L1062.4,2139.42L1064,2138.1L1065.7,2138.54L1067.4,2144.33L1069.1,2145.03L1070.8,2147.1L1072.15,2146.86L1073.5,2141.6L1074.85,2139.56L1076.2,2140L1077.76,2139.85L1079.31,2141.64L1080.87,2144.24L1082.43,2144.66L1083.99,2143.08L1085.54,2143.61L1087.1,2145.4L1088.64,2144.62L1090.17,2145.69L1091.71,2147.38L1093.25,2148.35L1094.79,2148.39L1096.33,2149.31L1097.86,2149.63L1099.4,2150.3L1099.4,2152.5ZM1119.5,2152.5L1119.5,2150.8L1121.1,2145.5L1122.48,2144.32L1123.86,2145.64L1125.24,2144.02L1126.62,2144.83L1128,2145.5L1129.5,2150.8L1129.5,2152.5ZM1192,2152.5L1192,2150.8L1193.3,2146.2L1194.94,2147.46L1196.58,2145.52L1198.22,2145.75L1199.86,2145.86L1201.5,2146.2L1203,2150.8L1203,2152.5ZM1256,2152.5L1256,2150.8L1257.33,2149.79L1258.67,2144.41L1260,2142.1L1261.6,2142.59L1263.2,2142.88L1264.8,2144.81L1266.4,2145.71L1268,2146.16L1269.6,2144.9L1271.24,2144.82L1272.88,2143.36L1274.52,2143.01L1276.16,2142.51L1277.8,2138.9L1279.15,2140.32L1280.5,2143.19L1281.85,2145.46L1283.2,2149L1284.79,2149.43L1286.38,2148.65L1287.97,2148.85L1289.57,2149.63L1291.16,2148.42L1292.75,2149.22L1294.34,2149.49L1295.93,2149.49L1297.53,2148.35L1299.12,2149.43L1300.71,2149.18L1302.3,2149L1303.65,2149.26L1305,2149.83L1306.35,2149.8L1307.7,2150.3L1309.34,2149.59L1310.98,2147.73L1312.62,2145.99L1314.26,2144.46L1315.9,2143.5L1317.54,2143.63L1319.18,2145.38L1320.82,2144.67L1322.46,2144.24L1324.1,2146.2L1325.66,2144.9L1327.21,2142.91L1328.77,2140.59L1330.33,2142.05L1331.89,2140.76L1333.44,2135.07L1335,2136.7L1336.64,2138.09L1338.28,2137.21L1339.92,2137.6L1341.56,2133.27L1343.2,2136.7L1344.76,2137.38L1346.31,2136.23L1347.87,2141.53L1349.43,2141.75L1350.99,2140.84L1352.54,2143.33L1354.1,2143.5L1355.68,2140.91L1357.27,2139.82L1358.85,2140.73L1360.43,2139.01L1362.02,2134.91L1363.6,2132.6L1364.96,2133.42L1366.32,2137.32L1367.68,2137.63L1369.04,2140.4L1370.4,2138.1L1372,2140.18L1373.6,2140.53L1375.2,2140.71L1376.8,2140.29L1378.4,2139.72L1380,2142.1L1381.38,2140.6L1382.76,2139.98L1384.14,2141.85L1385.52,2140.28L1386.9,2139.8L1388.07,2141.06L1389.23,2143L1390.4,2146.7L1391.7,2144.65L1393,2143.11L1394.3,2137.5L1395.67,2143.06L1397.03,2143.91L1398.4,2147.2L1399.78,2146.49L1401.16,2148.25L1402.54,2147.01L1403.92,2147.47L1405.3,2147.9L1406.68,2143.96L1408.06,2140.59L1409.44,2141.85L1410.82,2134.84L1412.2,2134.1L1413.73,2139.29L1415.27,2141.63L1416.8,2142.1L1417.95,2145.67L1419.1,2148.6L1420.63,2145.7L1422.17,2144.58L1423.7,2139.8L1425.15,2138.73L1426.6,2137.2L1428.05,2135.36L1429.5,2129.5L1430.63,2136.09L1431.77,2139.17L1432.9,2138.7L1434.43,2139.64L1435.97,2138.12L1437.5,2136.63L1439.03,2133.68L1440.57,2133.39L1442.1,2133.4L1443.48,2133.86L1444.86,2135.55L1446.24,2133.57L1447.62,2137.23L1449,2135.2L1450.49,2137.52L1451.97,2137.89L1453.46,2133.41L1454.94,2137.42L1456.43,2136.62L1457.91,2135.45L1459.4,2134.1L1460.93,2135.54L1462.47,2136.95L1464,2139.8L1465.42,2136.6L1466.85,2133.9L1468.28,2134.84L1469.7,2129.5L1471.23,2129.85L1472.77,2135.57L1474.3,2141L1475.75,2139.98L1477.2,2138.56L1478.65,2135.8L1480.1,2134.8L1481.23,2135.96L1482.37,2129.07L1483.5,2128.3L1484.67,2116.79L1485.83,2118.22L1487,2109.9L1488.53,2103.42L1490.07,2102.94L1491.6,2090.4L1492.73,2085.07L1493.87,2103.16L1495,2105.3L1496.17,2112.51L1497.33,2110.94L1498.5,2119.1L1499.63,2105.78L1500.77,2075.21L1501.9,2070.8L1503.23,2054.94L1504.55,2026.4L1505.88,2023.44L1507.2,1991.5L1508.5,2006.27L1509.8,2033.57L1511.1,2052.4L1512.25,2068.89L1513.4,2050.1L1514.93,2033.94L1516.47,2067.39L1518,2053.6L1519.53,2059.4L1521.07,2064.86L1522.6,2080L1524,2073.65L1525.4,2065.1L1526.77,2084.11L1528.13,2093.14L1529.5,2105.3L1531.03,2096.8L1532.57,2117.84L1534.1,2109.9L1535.48,2106.99L1536.86,2115.6L1538.24,2121.2L1539.62,2122.93L1541,2128.3L1542.62,2121.7L1544.24,2113.74L1545.86,2105.73L1547.48,2108.73L1549.1,2104.2L1550.52,2112.45L1551.95,2117.36L1553.38,2114.78L1554.8,2126L1555.97,2118.63L1557.13,2118.57L1558.3,2103L1559.68,2098.5L1561.06,2107.2L1562.44,2099.29L1563.82,2088.97L1565.2,2090.4L1566.73,2097.37L1568.27,2108.84L1569.8,2119.1L1570.93,2110.33L1572.07,2110.31L1573.2,2108.8L1574.58,2100.31L1575.96,2103.86L1577.34,2114.57L1578.72,2105.45L1580.1,2111.1L1581.63,2108.77L1583.17,2090.59L1584.7,2092.56L1586.23,2092.61L1587.77,2094.81L1589.3,2080L1590.83,2071.13L1592.37,2088.32L1593.9,2085.8L1595.07,2107.86L1596.23,2099.49L1597.4,2115.7L1598.93,2122.78L1600.47,2121.21L1602,2112.2L1603.42,2116.42L1604.85,2098.63L1606.28,2095.15L1607.7,2091.5L1608.87,2098.03L1610.03,2094.44L1611.2,2109.9L1612.9,2101.97L1614.6,2092.7L1616.13,2109.12L1617.67,2103.92L1619.2,2122.6L1620.73,2127.88L1622.27,2128.82L1623.8,2126.73L1625.33,2117.22L1626.87,2124.57L1628.4,2123.7L1629.85,2124.97L1631.3,2124.27L1632.75,2123.72L1634.2,2121.4L1635.73,2123.46L1637.27,2130.12L1638.8,2136.4L1640.33,2138.99L1641.87,2140.55L1643.4,2139.8L1644.57,2141.11L1645.73,2145L1646.9,2147.9L1648.27,2135.99L1649.63,2127.84L1651,2112.2L1652.4,2104.48L1653.8,2113.4L1654.93,2105.92L1656.07,2089.86L1657.2,2092.7L1658.7,2102.33L1660.2,2119.1L1661.6,2114.04L1663,2113.4L1664.53,2127.33L1666.07,2123.46L1667.6,2135.2L1668.98,2122.14L1670.36,2123.84L1671.74,2116.45L1673.12,2095.26L1674.5,2090.4L1676.03,2082.52L1677.57,2093.48L1679.1,2081.2L1680.63,2081.16L1682.17,2114.59L1683.7,2119.1L1685.08,2119.51L1686.46,2122.1L1687.84,2125.43L1689.22,2122.55L1690.6,2126L1691.75,2121.67L1692.9,2115.7L1694.57,2088.65L1696.23,2065.81L1697.9,2054.7L1699.23,2077.62L1700.55,2066.43L1701.88,2059.9L1703.2,2063.9L1704.65,2076.03L1706.1,2069.6L1707.55,2093.2L1709,2082.3L1710.37,2105.6L1711.73,2108.94L1713.1,2122.6L1714.4,2122.33L1715.7,2118.43L1717,2108.8L1718.45,2112.4L1719.9,2111.15L1721.35,2112.24L1722.8,2116.8L1724.17,2112.47L1725.53,2111.5L1726.9,2108.8L1728.6,2115.65L1730.3,2115.03L1732,2126L1733.53,2121.34L1735.07,2120.49L1736.6,2124.9L1738.13,2124.1L1739.67,2131.06L1741.2,2136.4L1742.9,2144.99L1744.6,2150.8L1744.6,2152.5ZM373,2152.5h2.6V2150h-2.6ZM1109,2152.5h2.6V2150.3h-2.6ZM1159.9,2152.5h2.6V2150.3h-2.6ZM1228,2152.5h2.6V2150.3h-2.6Z" fill="#53B1E8"/>
<path d="M149.8,2365.8L149.8,2364.1L150.9,2361.4L152.55,2348.69L154.2,2333.1L155.6,2333.05L157,2321.1L158.1,2328.05L159.2,2339.7L160.7,2362.5L161.8,2346.76L162.9,2322.2L164.5,2320.95L166.1,2321.1L167.2,2335.55L168.3,2346.2L169.4,2356.58L170.5,2362.5L172.12,2361.13L173.75,2361.02L175.38,2358.66L177,2357.1L178.1,2360.94L179.2,2362.5L180.67,2361.92L182.13,2359.84L183.6,2358.2L185.03,2356.69L186.47,2358.85L187.9,2357.1L189.23,2351.13L190.57,2339.72L191.9,2333.1L193.2,2329.29L194.5,2337.5L195.6,2329.77L196.7,2324.4L197.75,2330.43L198.8,2333.1L199.9,2344.03L201,2362.5L202.1,2349.67L203.2,2328.8L204.3,2325.45L205.4,2333.1L207,2332.18L208.6,2324.4L210.25,2309.92L211.9,2274.7L213.55,2301.62L215.2,2302.6L216.8,2322.9L218.4,2335.3L220.05,2329.8L221.7,2333.1L222.8,2343.32L223.9,2346.2L225.37,2347.74L226.83,2349.6L228.3,2352.7L229.3,2364.1L229.3,2365.8ZM232.6,2365.8L232.6,2364.1L234.07,2363.41L235.53,2360.63L237,2358.2L238.6,2361.4L240.2,2362.5L241.85,2362.7L243.5,2361.4L244.9,2352.96L246.3,2340.7L247.65,2340.49L249,2344L250.3,2342.61L251.6,2339.7L253,2350.83L254.4,2359.3L256.05,2359.26L257.7,2359.7L259.3,2361.74L260.9,2363.6L262.37,2357.84L263.83,2348.56L265.3,2344L266.65,2342.09L268,2346.45L269.35,2343.29L270.7,2344L272.05,2350.38L273.4,2357.1L274.8,2349.96L276.2,2347.3L277.85,2350.83L279.5,2357.1L280.55,2359.41L281.6,2360.4L282.7,2340.73L283.8,2329.8L285.1,2326.37L286.4,2307L287.85,2319.63L289.3,2328.8L290.8,2352.7L292.2,2329.4L293.6,2313.5L295.25,2320.11L296.9,2310.2L298,2292.61L299.1,2274.3L300.2,2290.06L301.3,2267.3L302.6,2276.6L303.9,2298.2L305.3,2300.71L306.7,2316.8L307.8,2336.02L308.9,2357.1L310.33,2354.81L311.77,2356.47L313.2,2354.9L314.67,2356.71L316.13,2359.72L317.6,2362.5L319.27,2354.52L320.93,2347.66L322.6,2339.7L323.9,2340.8L325.2,2348.4L326.5,2345L327.8,2348.4L328.97,2349.29L330.13,2348.64L331.3,2350.5L332.6,2352.17L333.9,2347.3L335.55,2353.93L337.2,2362.5L337.9,2364.1L337.9,2365.8ZM415.7,2365.8L415.7,2364.1L417.3,2351.32L418.9,2338.6L420.55,2338.66L422.2,2348.4L423.85,2324.13L425.5,2310.2L426.55,2319.91L427.6,2320L428.95,2319.74L430.3,2314.6L431.7,2326.59L433.1,2344L434.75,2353.75L436.4,2357.1L437.83,2346.53L439.27,2339.75L440.7,2324.4L442,2339.52L443.3,2344L444.75,2342.11L446.2,2328.8L447.6,2339.02L449,2354.9L450.55,2357.6L452.1,2357.1L453.4,2352.58L454.7,2345.78L456,2338.6L457.6,2334.15L459.2,2338.6L460.85,2344.92L462.5,2341.8L464.15,2349.82L465.8,2357.1L467.23,2354.66L468.67,2350.49L470.1,2350.5L471.75,2343.39L473.4,2341.8L474.77,2334.19L476.15,2338.27L477.52,2333.31L478.9,2328.8L480.5,2332.08L482.1,2330.9L483.75,2343.47L485.4,2362.5L486.87,2351.38L488.33,2348.28L489.8,2336.4L491.4,2344.32L493,2345.1L494.47,2346.25L495.93,2344.94L497.4,2340.7L498.45,2348.17L499.5,2355.4L500.7,2347.48L501.9,2343.53L503.1,2333.7L504.7,2328.43L506.3,2302.3L507.7,2288.17L509.1,2268.3L510.15,2303.41L511.2,2330.9L512.85,2342.49L514.5,2355.4L516.15,2339.47L517.8,2332.3L519.15,2336.86L520.5,2345.9L521.97,2350.8L523.43,2355.39L524.9,2360.9L526.25,2355.37L527.6,2354.19L528.95,2343.2L530.3,2341.8L531.65,2349.57L533,2360.9L534.65,2361.67L536.3,2363.6L537.66,2362.09L539.02,2361.65L540.38,2360.6L541.74,2360.42L543.1,2358.2L544.47,2360.08L545.83,2363.22L547.2,2364.1L548.57,2359.16L549.93,2352.37L551.3,2343.2L552.47,2345.39L553.63,2342.25L554.8,2339.1L556.37,2343.98L557.93,2344.24L559.5,2337.7L560.67,2343.17L561.83,2344.88L563,2341.8L564.27,2339.82L565.53,2341.06L566.8,2330.9L568,2326.24L569.2,2331.11L570.4,2333.7L571.57,2335.42L572.73,2330.37L573.9,2322.2L575.43,2332.09L576.97,2338.85L578.5,2344.6L579.87,2350.37L581.23,2347.57L582.6,2352.7L583.97,2344.34L585.33,2343.97L586.7,2339.1L588.35,2333.88L590,2328.2L591.17,2340.99L592.33,2346.77L593.5,2350L595.13,2348.98L596.77,2347.57L598.4,2343.2L599.9,2343.05L601.4,2351.2L602.9,2354.4L604.4,2354.1L605.77,2353.82L607.15,2357.4L608.52,2360.23L609.9,2360.9L611.23,2359.41L612.57,2359.76L613.9,2356.8L615.27,2359.39L616.63,2361.36L618,2364.1L619.38,2351.65L620.75,2340.38L622.12,2334.84L623.5,2320L624.87,2332.54L626.23,2344.58L627.6,2351.4L628.93,2345.09L630.27,2342.88L631.6,2339.1L632.98,2335.82L634.35,2341.1L635.73,2342.35L637.1,2339.1L638.2,2343.17L639.3,2352.7L640.9,2342.5L642.5,2340.5L643.87,2320.83L645.23,2306.15L646.6,2299.6L647.7,2269.69L648.8,2263.4L650.45,2276.36L652.1,2306.4L653.45,2334.52L654.8,2354.1L656.17,2357.2L657.53,2360.77L658.9,2363.6L660.25,2360.55L661.6,2357.05L662.95,2351.83L664.3,2345.9L665.7,2347.65L667.1,2345.1L668.43,2349.57L669.77,2354.71L671.1,2362.3L672.48,2362.64L673.86,2362.25L675.24,2362.5L676.62,2362.85L678,2363.6L679,2364.1L679,2365.8ZM683.4,2365.8L683.4,2364.1L684.75,2353.25L686.1,2339.1L687.6,2335.52L689.1,2328.54L690.6,2322.32L692.1,2307.8L693.3,2325.2L694.5,2328.54L695.7,2341.8L697.23,2323.18L698.77,2310.07L700.3,2305.1L701.47,2319.59L702.63,2331.04L703.8,2347.3L705,2339.2L706.2,2342.51L707.4,2332.3L709,2337.96L710.6,2347.3L711.97,2325.2L713.33,2309.25L714.7,2299.6L716.07,2304.93L717.43,2322.75L718.8,2333.7L720.17,2340.86L721.55,2336.49L722.92,2344.54L724.3,2345.9L725.93,2344.81L727.57,2345.07L729.2,2350L730.57,2323.18L731.93,2295.46L733.3,2263.4L734.9,2251.11L736.5,2276.5L737.85,2299.1L739.2,2333.7L740.6,2331.35L742,2317.3L743.53,2323.36L745.07,2320.91L746.6,2310.5L747.77,2312.94L748.93,2326.72L750.1,2341.8L751.5,2328.31L752.9,2301L754.25,2274.54L755.6,2271L756.97,2279.55L758.33,2314.91L759.7,2341.8L761.05,2333.2L762.4,2320L763.77,2329.23L765.13,2344.19L766.5,2350L767.85,2348.03L769.2,2336.4L770.57,2329.22L771.93,2332.55L773.3,2333.7L774.8,2319.19L776.3,2294.29L777.8,2293.93L779.3,2277.8L780.47,2265.54L781.63,2269.36L782.8,2283.3L784.17,2311.62L785.53,2328.71L786.9,2344.6L788.55,2338.44L790.2,2326.8L791.63,2337.31L793.07,2339.5L794.5,2347.3L796,2347.11L797.5,2343.33L799,2344.27L800.5,2337.7L802.13,2327.28L803.77,2331.02L805.4,2324.1L807.05,2336.25L808.7,2347.3L810.35,2337.45L812,2329.6L813.63,2329.05L815.27,2340.51L816.9,2344.6L818.27,2348.2L819.63,2357.26L821,2363.6L822.37,2356.2L823.73,2348.89L825.1,2341.8L826.43,2341.15L827.77,2328.28L829.1,2320L830.47,2330.32L831.83,2337.14L833.2,2333.7L834.57,2317.14L835.93,2319.67L837.3,2301L838.67,2308.94L840.03,2310.55L841.4,2322.8L842.77,2327.3L844.13,2336.13L845.5,2339.1L846.87,2345.3L848.23,2351.49L849.6,2358.2L851.3,2358.01L853,2360.63L854.7,2360.08L856.4,2360.9L857.77,2347.72L859.13,2333.54L860.5,2314.6L861.87,2321.68L863.23,2338.11L864.6,2350L865.93,2344.91L867.27,2338.09L868.6,2336.4L869.98,2338.3L871.35,2349.08L872.73,2354.23L874.1,2360.9L875.45,2362.84L876.8,2364.1L878.17,2363.14L879.55,2361.14L880.92,2359.97L882.3,2358.2L883.63,2360.32L884.97,2362.63L886.3,2364.1L887.88,2356.93L889.45,2350.74L891.02,2342.17L892.6,2339.1L894.25,2342.86L895.9,2354.1L897.27,2354.92L898.63,2352.84L900,2352.7L901.37,2350.7L902.73,2351.81L904.1,2354.1L905.43,2358.63L906.77,2361.33L908.1,2363.6L909.8,2361L911.5,2359.59L913.2,2356.61L914.9,2352.7L916.27,2348.26L917.65,2333.46L919.02,2322.38L920.4,2318.7L921.77,2325.94L923.13,2348.19L924.5,2358.2L926.03,2352.51L927.57,2347.96L929.1,2344.6L930.57,2351.75L932.03,2351.62L933.5,2358.2L934.45,2361.22L935.4,2364.1L935.4,2365.8ZM944.1,2365.8L944.1,2364.1L945.47,2359.99L946.83,2349.89L948.2,2345.9L949.55,2339.63L950.9,2330.9L952.25,2341.93L953.6,2352.7L954.95,2348.24L956.3,2350L957.7,2349.24L959.1,2352.7L960.7,2352.57L962.3,2347.8L963.5,2351.7L964.7,2354.66L965.9,2358.2L967.27,2360.41L968.63,2362.34L970,2363.6L971.37,2363.38L972.73,2362.43L974.1,2362.3L975.43,2352.79L976.77,2335.6L978.1,2323.3L979.5,2334.78L980.9,2344.6L982.25,2356.58L983.6,2363.6L984.97,2350.74L986.33,2333.81L987.7,2321.4L988.65,2301.3L989.6,2281.9L990.7,2326.6L991.8,2352.7L993.15,2355.73L994.5,2362.3L995.85,2361.46L997.2,2360.73L998.55,2362.04L999.9,2360.9L1001.27,2359.76L1002.63,2358.97L1004,2355.4L1005.2,2351.92L1006.4,2352.91L1007.6,2349.5L1008.87,2352.3L1010.13,2350.38L1011.4,2350L1012.57,2346.08L1013.73,2345.73L1014.9,2347.3L1016.27,2348.85L1017.63,2349.36L1019,2345.9L1020.65,2339.8L1022.3,2341.8L1023.35,2352.29L1024.4,2363.6L1026.05,2353.34L1027.7,2345.1L1029.28,2348.84L1030.85,2349.13L1032.42,2343.39L1034,2345.1L1035.35,2352.11L1036.7,2358.2L1038.28,2358.25L1039.85,2352.68L1041.42,2352.35L1043,2351.4L1044.53,2352.06L1046.07,2357.74L1047.6,2358.2L1048.97,2359.55L1050.33,2363.21L1051.7,2364.1L1053.34,2363.41L1054.98,2362.74L1056.62,2361.92L1058.26,2360.44L1059.9,2359.5L1061.25,2359.89L1062.6,2362.52L1063.95,2363.85L1065.3,2364.1L1066.67,2363.12L1068.05,2361.99L1069.42,2360.87L1070.8,2358.2L1072.13,2356.24L1073.47,2353.87L1074.8,2347.3L1076.17,2341.04L1077.53,2330.48L1078.9,2317.3L1080.25,2330.19L1081.6,2336.4L1082.97,2340.1L1084.33,2350.61L1085.7,2355.4L1086.9,2347.7L1088.1,2343.66L1089.3,2332.3L1090.65,2344.07L1092,2352.7L1093.65,2352.8L1095.3,2345.9L1096.67,2353.34L1098.03,2359.43L1099.4,2363.6L1100.75,2361.11L1102.1,2359.5L1103,2364.1L1103,2365.8ZM1114.3,2365.8L1114.3,2364.1L1115.4,2357.72L1116.5,2350L1118.15,2356.86L1119.8,2360.9L1121.45,2355.56L1123.1,2350L1124.15,2335.96L1125.2,2331.5L1126.85,2340.58L1128.5,2339.1L1129.6,2350.58L1130.7,2364.1L1130.7,2365.8ZM1190.1,2365.8L1190.1,2364.1L1191.05,2362.11L1192,2358.2L1193.37,2349.6L1194.73,2337.27L1196.1,2332.3L1197.45,2349.84L1198.8,2364.1L1198.8,2365.8ZM1258.7,2365.8L1258.7,2364.1L1260.05,2361.29L1261.4,2356.8L1262.8,2359.03L1264.2,2362.3L1265.53,2344.46L1266.87,2336.29L1268.2,2320L1269.6,2325.8L1271,2341.8L1272.17,2335.65L1273.33,2332.66L1274.5,2330.9L1276.15,2334.33L1277.8,2335L1279.17,2340.89L1280.53,2347.63L1281.9,2347.3L1283.07,2346.52L1284.23,2343.44L1285.4,2333.7L1287.05,2345.34L1288.7,2360.9L1290.33,2357.38L1291.97,2353.9L1293.6,2347.3L1294.87,2345.86L1296.13,2330.95L1297.4,2329.6L1298.57,2331.61L1299.73,2341.5L1300.9,2350L1302.28,2352.74L1303.65,2354.19L1305.03,2355.12L1306.4,2355.4L1307.93,2348.02L1309.47,2343.89L1311,2332.3L1312.47,2329.1L1313.93,2328.44L1315.4,2320L1316.67,2324.37L1317.93,2337.94L1319.2,2354.1L1320.83,2355.25L1322.47,2357.84L1324.1,2358.2L1325.47,2351.18L1326.83,2350.53L1328.2,2344.6L1329.57,2341.66L1330.93,2342.13L1332.3,2330.9L1333.65,2345.66L1335,2358.2L1336.37,2360.06L1337.73,2361.8L1339.1,2363.6L1340.73,2352.22L1342.37,2336.67L1344,2323.3L1345.65,2338.74L1347.3,2339.1L1348.47,2340.88L1349.63,2342.12L1350.8,2335.8L1352.07,2345.98L1353.33,2356.65L1354.6,2363.6L1356.23,2352.58L1357.87,2337.23L1359.5,2320L1360.87,2314.59L1362.23,2292.89L1363.6,2283.3L1364.77,2289.13L1365.93,2289.3L1367.1,2303.7L1368.67,2319.78L1370.23,2339.56L1371.8,2360.9L1372.97,2359.03L1374.13,2359.43L1375.3,2358.2L1376.83,2352.07L1378.37,2338.95L1379.9,2336.4L1381.25,2341.48L1382.6,2337.7L1383.97,2342.44L1385.33,2350.46L1386.7,2358.2L1387.93,2352.99L1389.17,2337.72L1390.4,2332.9L1391.85,2331.97L1393.3,2341L1394.45,2329.9L1395.6,2322.6L1397,2333.37L1398.4,2350.2L1399.8,2348.06L1401.2,2350.2L1402.7,2345.4L1404.2,2332.9L1405.35,2348.27L1406.5,2364L1407.35,2364.1L1408.2,2364.1L1408.2,2365.8ZM1409.5,2365.8L1409.5,2364.1L1411.1,2347.9L1412.4,2332.95L1413.7,2321.16L1415,2315.7L1416.5,2321.66L1418,2338.7L1419.45,2344.85L1420.9,2352.5L1422.55,2334.66L1424.2,2326L1425.7,2325.28L1427.2,2330.6L1428.35,2327.61L1429.5,2330.6L1430.65,2349.5L1431.8,2364L1433.3,2356.16L1434.8,2343.3L1436.15,2349.32L1437.5,2349L1438.67,2350.41L1439.83,2352.58L1441,2350.2L1442.15,2356.85L1443.3,2364.1L1443.3,2365.8ZM1446.7,2365.8L1446.7,2364.1L1447.85,2360.16L1449,2354.8L1450.4,2343.23L1451.8,2332.3L1453.2,2323.7L1454.55,2332.77L1455.9,2346.7L1457.07,2346.43L1458.23,2350.3L1459.4,2345.6L1460.55,2327.97L1461.7,2319.1L1463.2,2328.7L1464.7,2345.6L1466.05,2342.12L1467.4,2338.7L1468.57,2339.84L1469.73,2340.08L1470.9,2343.3L1472.05,2353.18L1473.2,2357.1L1474.5,2341.62L1475.8,2334.53L1477.1,2317.5L1478.6,2341.7L1480.1,2354.8L1481.23,2353.87L1482.37,2348.63L1483.5,2347.9L1484.67,2350.89L1485.83,2347.71L1487,2350.2L1488.6,2297.2L1490.1,2264.52L1491.6,2266.9L1492.75,2283.42L1493.9,2299.5L1495.6,2278.41L1497.3,2247.8L1498.7,2273.36L1500.1,2297.2L1501.6,2268.04L1503.1,2253.5L1504.23,2226.08L1505.37,2220.94L1506.5,2215.3L1507.9,2223.7L1509.3,2248.9L1510.8,2258.01L1512.3,2217.9L1513.43,2244.39L1514.57,2241.4L1515.7,2230.5L1516.85,2231.3L1518,2258.1L1519.4,2278.93L1520.8,2283.4L1522.3,2289.23L1523.8,2299.5L1524.95,2311.48L1526.1,2293.8L1527.6,2301.67L1529.1,2278.8L1530.45,2306.29L1531.8,2320.3L1532.97,2326.75L1534.13,2336.41L1535.3,2347.9L1536.43,2338.65L1537.57,2336.29L1538.7,2326L1539.87,2334.61L1541.03,2344.01L1542.2,2352.5L1543.9,2353.83L1545.6,2354.8L1546.77,2357.28L1547.93,2354.69L1549.1,2357.1L1550.25,2348.75L1551.4,2335.2L1552.55,2327.37L1553.7,2332.9L1555.4,2341.01L1557.1,2357.1L1558.25,2339.88L1559.4,2308.7L1560.35,2286.61L1561.3,2261.6L1562.65,2278.42L1564,2316.8L1565.15,2328.23L1566.3,2352.5L1567.47,2354.3L1568.63,2356.61L1569.8,2357.1L1570.93,2353.18L1572.07,2341.6L1573.2,2339.8L1574.37,2341.1L1575.53,2334.1L1576.7,2332.9L1578.4,2346.34L1580.1,2352.5L1581.25,2332L1582.4,2312.2L1584.1,2290.01L1585.8,2304.77L1587.5,2283.4L1588.65,2294.78L1589.8,2323.7L1591.17,2323.94L1592.53,2317.47L1593.9,2324.9L1595.05,2338.78L1596.2,2357.1L1597.35,2344.42L1598.5,2326L1599.67,2328.51L1600.83,2342.28L1602,2350.2L1603.15,2331.59L1604.3,2294.9L1605.8,2298.27L1607.3,2263.9L1608.45,2279.72L1609.6,2294.9L1610.95,2317.86L1612.3,2338.7L1613.47,2345.26L1614.63,2350.73L1615.8,2352.5L1617.33,2353.04L1618.87,2352.84L1620.4,2351.3L1622.1,2332.63L1623.8,2322.6L1625.2,2320.36L1626.6,2292.6L1628.1,2307.56L1629.6,2334.1L1630.77,2340.82L1631.93,2356L1633.1,2364L1634.23,2354.56L1635.37,2347.06L1636.5,2341L1638,2331.21L1639.5,2331.8L1640.9,2343.29L1642.3,2350.2L1643.43,2353.59L1644.57,2356.02L1645.7,2358.2L1647.23,2357.95L1648.77,2360.33L1650.3,2361.7L1651.47,2362.67L1652.63,2363.31L1653.8,2364L1654.93,2357.6L1656.07,2352.66L1657.2,2342.1L1658.37,2352.27L1659.53,2355.36L1660.7,2364L1661.85,2356.34L1663,2346.7L1664.53,2335.29L1666.07,2337.24L1667.6,2327.2L1668.97,2327.05L1670.33,2317.77L1671.7,2313.4L1672.85,2325.52L1674,2324.9L1675.4,2338.04L1676.8,2347.9L1677.93,2335.1L1679.07,2326.95L1680.2,2324.9L1681.37,2314.47L1682.53,2313.59L1683.7,2312.2L1685.4,2318.11L1687.1,2338.7L1688.27,2343.51L1689.43,2355.35L1690.6,2364L1692.13,2355.42L1693.67,2352.06L1695.2,2341L1696.9,2315.59L1698.6,2299.5L1700,2291.39L1701.4,2280L1702.9,2290.3L1704.4,2315.7L1706.1,2305.76L1707.8,2303L1708.97,2324.55L1710.13,2343.14L1711.3,2354.8L1712.43,2355.47L1713.57,2360.45L1714.7,2361.7L1716.23,2354.54L1717.77,2348.39L1719.3,2339.8L1720.83,2342.81L1722.37,2338.76L1723.9,2342.1L1725.07,2341.33L1726.23,2350.8L1727.4,2352.5L1729.1,2357.73L1730.8,2364L1731.97,2352.27L1733.13,2337.23L1734.3,2324.9L1735.8,2324.61L1737.3,2320.3L1738.65,2331.36L1740,2330.6L1741.15,2350.05L1742.3,2364L1743.83,2363.56L1745.37,2361.87L1746.9,2361.7L1748.1,2364.1L1748.1,2365.8ZM375.1,2365.8h2.6V2363.3h-2.6ZM937.6,2365.8h2.6V2363.6h-2.6ZM1148.5,2365.8h2.6V2363.6h-2.6ZM1170.8,2365.8h2.6V2362.8h-2.6ZM1181.1,2365.8h2.6V2363.6h-2.6ZM1228,2365.8h2.6V2363.6h-2.6Z" fill="#53B1E8"/>
</svg>
</body></html>
